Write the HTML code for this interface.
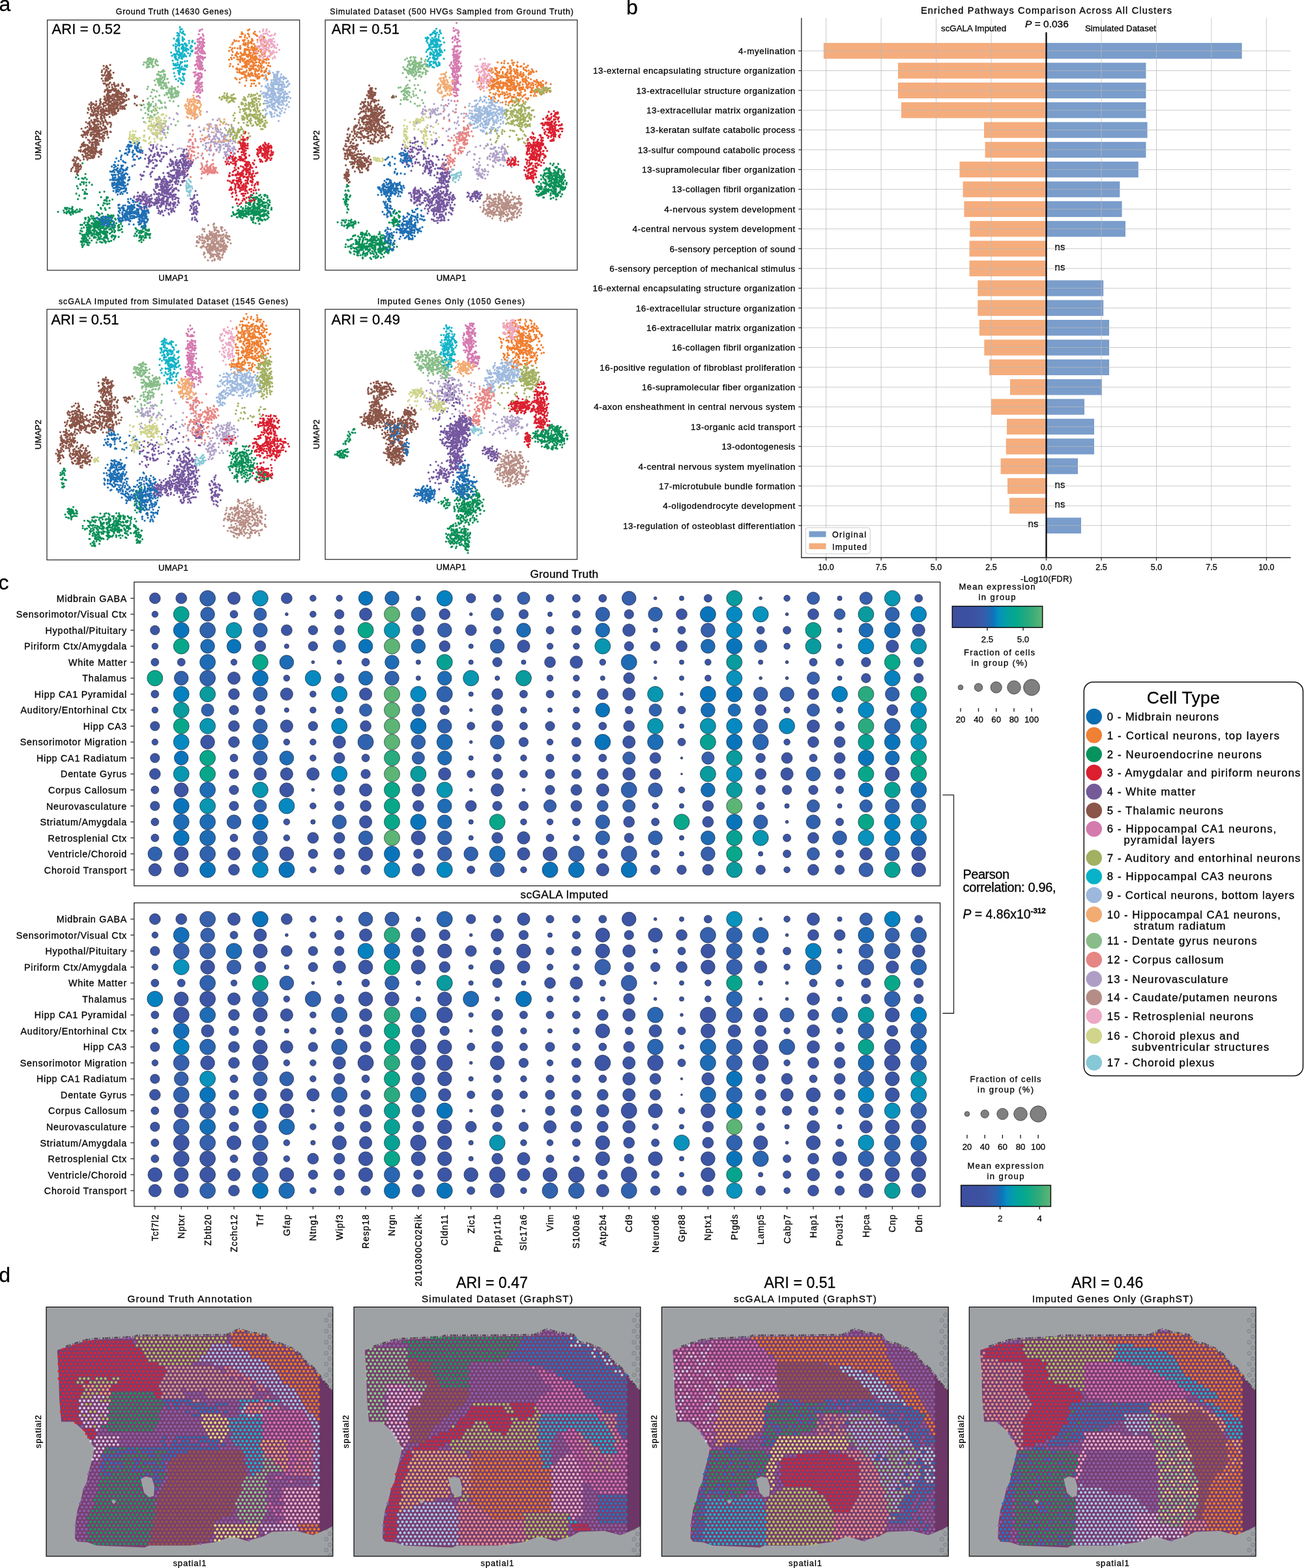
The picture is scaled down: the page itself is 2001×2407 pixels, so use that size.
<!DOCTYPE html>
<html><head><meta charset="utf-8"><title>scGALA figure</title>
<style>html,body{margin:0;padding:0;background:#fff;} svg{display:block;} text{stroke:#000;stroke-width:0.3px;}</style>
</head><body>
<svg width="2001" height="2407" viewBox="0 0 2001 2407" font-family="'Liberation Sans', Arial, Helvetica, sans-serif"><text x="-1.4" y="16.8" font-size="32">a</text>
<g transform="translate(72.6,30.7) scale(0.5)" stroke-width="3.2" stroke-linecap="round" fill="none" vector-effect="non-scaling-stroke">
<path d="M108 440h0m-6 7h0m15 26h0m-23 4h0m-6 6h0m8 5h0m11-2h0m4 2h0m5-4h0m5 5h0m16 17h0m-8-7h0m-9 9h0m-1-9h0m-7-1h0m0 5h0m-6-5h0m-4 8h0m-1-2h0m-10 6h0m3 7h0m15 5h0m10-2h0m56 7h0m500 13h0m-6-3h0m-1 3h0m0-3h0m-1 3h0m-1-2h0m-12-1h0m-4 2h0m-8-7h0m-13 6h0m-3-1h0m-465-8h0m-39 5h0m-3-1h0m-4-5h0m-1 6h0m-16 5h0m-9-6h0m5 17h0m20-2h0m2-1h0m49-3h0m10 10h0m2-1h0m5-9h0m0 12h0m0-7h0m1 7h0m3-11h0m5 10h0m9-4h0m420-4h0m4 12h0m1-15h0m0 9h0m5-7h0m2 0h0m1 8h0m0-2h0m3-7h0m0 11h0m1-11h0m3 5h0m1-6h0m0 3h0m3-3h0m3 6h0m0 5h0m0-5h0m1-1h0m1 9h0m0-8h0m1 8h0m1 1h0m1-6h0m1-2h0m2 0h0m2 5h0m0-12h0m1 11h0m2 3h0m4-8h0m11-5h0m1 0h0m1 9h0m1-1h0m4 1h0m1 6h0m-1 8h0m-3 3h0m-1 2h0m-1-8h0m-4-5h0m-2 10h0m-2 4h0m-1-13h0m-2 9h0m-1-10h0m0 15h0m-2-12h0m-3 1h0m0 7h0m-1-5h0m0 2h0m-1-1h0m-3 0h0m0 1h0m0-1h0m-2 7h0m-1-14h0m-1 8h0m0 2h0m-2-5h0m0-4h0m0 12h0m-1-6h0m0 0h0m-1 8h0m-1 0h0m-1-10h0m0 2h0m-1 8h0m0-11h0m-7 7h0m0 2h0m-1-11h0m-2 5h0m-1-4h0m-1 4h0m0 5h0m-3 1h0m-6-5h0m0-2h0m-1-2h0m-1-4h0m-1 1h0m-1 6h0m-3 8h0m0-13h0m-6 0h0m-1 9h0m-14 3h0m-10-3h0m-16 4h0m-379-11h0m-6 2h0m-1-2h0m-7-1h0m-3-1h0m-2 7h0m-15-1h0m-79 6h0m-44 15h0m17-4h0m2 6h0m2-14h0m2 3h0m2-3h0m1 5h0m1 7h0m1 1h0m1-13h0m4 10h0m0-2h0m1 4h0m1-10h0m4 12h0m2-11h0m1 10h0m1-12h0m0 9h0m1-11h0m1 7h0m0 6h0m3 0h0m3 0h0m2-3h0m2 5h0m3-9h0m3 7h0m3-1h0m1-1h0m2 1h0m0-7h0m6 2h0m46 7h0m12-13h0m1 3h0m12-2h0m2 5h0m12-6h0m379 13h0m13-5h0m4-3h0m1 7h0m0 0h0m2-1h0m1-2h0m2 4h0m2-4h0m0 5h0m2 0h0m1-5h0m1 0h0m0 2h0m1-8h0m0-1h0m1 0h0m0-1h0m1 11h0m3-3h0m2-2h0m2-6h0m1 13h0m0-5h0m1 5h0m1 0h0m2-11h0m2 9h0m0-6h0m1 6h0m0-3h0m1-10h0m1 2h0m1 2h0m0 8h0m1-8h0m3 4h0m0-7h0m1 8h0m1 0h0m0 6h0m2-7h0m1 5h0m1-4h0m1-5h0m1 2h0m2-6h0m0 13h0m0-10h0m1 11h0m0-11h0m1 0h0m0 1h0m0 7h0m0 3h0m2-3h0m1 0h0m0-1h0m0-7h0m0-2h0m3 2h0m0 12h0m1-14h0m2 8h0m0 3h0m0-9h0m0 8h0m0-4h0m1-3h0m1-4h0m1 15h0m1-3h0m1 1h0m0-11h0m0 12h0m1-2h0m0-8h0m2 3h0m3 6h0m3-1h0m0-5h0m3-1h0m0 5h0m5-2h0m0 3h0m1-4h0m1 3h0m1-10h0m2 8h0m5-7h0m1 10h0m9-6h0m1 0h0m0-5h0m-9 29h0m0-12h0m-3-2h0m0 9h0m-2-1h0m-3-4h0m-3 1h0m-1 3h0m-1-3h0m-1-2h0m0-1h0m-1 9h0m-1-5h0m-2 4h0m0-4h0m-4 3h0m-1-1h0m0 2h0m-1 1h0m-2-11h0m-1 9h0m0-6h0m-2-3h0m0 6h0m-4 9h0m0-10h0m-3-4h0m-2 6h0m-3-5h0m-1 5h0m-1-7h0m-2 3h0m0 11h0m-1-6h0m-1-5h0m-1-3h0m-4 2h0m-2 2h0m0 10h0m-6-10h0m0-2h0m0 3h0m-1 1h0m-1-1h0m0 0h0m-1-2h0m0-1h0m-2-2h0m-2 12h0m0-9h0m-1 1h0m-2-1h0m0-3h0m-1 10h0m-2-6h0m-1 3h0m0-3h0m-2 6h0m-2-7h0m0-1h0m-1 5h0m0-3h0m-3 3h0m0-6h0m-2 8h0m-2 3h0m0 2h0m-1-11h0m-2 6h0m-1-1h0m0 3h0m-1-9h0m-3-1h0m-2 13h0m-1-12h0m0 11h0m-2-9h0m-4 2h0m-1-1h0m-3 1h0m-1-4h0m-5 8h0m-363-2h0m0 2h0m-3 5h0m-3-7h0m0 5h0m-5-4h0m-1 3h0m-5-1h0m0-5h0m-1 7h0m-6-1h0m-8-1h0m0 0h0m-3-9h0m-3 12h0m-4-9h0m-3 3h0m-1-7h0m-16 10h0m-6-2h0m-1 2h0m-8 3h0m-47-11h0m-1-2h0m-6 5h0m-4-5h0m-9 1h0m-1-2h0m57 29h0m1-13h0m1 4h0m1-4h0m5 14h0m3-7h0m2 4h0m1-9h0m2 3h0m6-4h0m4 1h0m1 5h0m1-4h0m2-2h0m0 10h0m2-10h0m0 1h0m2 13h0m0-7h0m1 6h0m2 1h0m0-5h0m0-10h0m1 12h0m3-10h0m1 10h0m2-2h0m0 3h0m0-10h0m3 1h0m1 7h0m1-3h0m3-3h0m0 3h0m0 7h0m3-4h0m0-8h0m2 3h0m0 1h0m1 2h0m1-3h0m1 8h0m2-14h0m0 13h0m1 1h0m0-1h0m2-9h0m0 6h0m1 5h0m0-5h0m1 2h0m1-7h0m3 1h0m2 7h0m0-4h0m0-4h0m2-5h0m2 7h0m1 0h0m1 7h0m1-2h0m0-4h0m5 2h0m5 2h0m3-10h0m2 3h0m12 2h0m4 5h0m74 3h0m299-15h0m27 2h0m1 4h0m4-1h0m0 7h0m1-12h0m0 14h0m1-10h0m10-3h0m5 8h0m1-5h0m0-4h0m1 3h0m3-3h0m2 3h0m0 3h0m4 0h0m1 2h0m6-4h0m1 0h0m2 2h0m6-3h0m-24 15h0m-12-2h0m-337 10h0m-3-7h0m-9 6h0m-6-6h0m-13 12h0m-41-6h0m-4-7h0m-5 10h0m-1-1h0m0-6h0m-2 9h0m-1-6h0m-5-8h0m-4 7h0m-1 5h0m-2-10h0m-1 12h0m0-10h0m-1 10h0m-1 1h0m0-4h0m-1-2h0m-2-5h0m0 9h0m-5-13h0m-1 4h0m-1-2h0m-1 8h0m0-6h0m0 6h0m-3-1h0m0-5h0m-1 8h0m-2-6h0m0-3h0m-1 7h0m0 4h0m0-5h0m-5 6h0m-3-13h0m-1 6h0m-2 7h0m-1 0h0m0-4h0m-1-7h0m-1 10h0m0-11h0m-1 7h0m0 4h0m0-13h0m-1 14h0m-5-5h0m0-4h0m0-1h0m-1-5h0m-1 3h0m0 3h0m-1 1h0m0 5h0m-2-4h0m0 1h0m-1-6h0m-1 5h0m0 7h0m0 0h0m0-14h0m-1 4h0m-1 2h0m0 6h0m-2-3h0m0-3h0m0 7h0m-1-2h0m0-8h0m-2 8h0m0-3h0m0-9h0m-1 11h0m-1-11h0m0 3h0m-1 11h0m-1-1h0m0 2h0m0-8h0m-1 6h0m-1-9h0m-1-2h0m-1 2h0m-1 6h0m-1-10h0m0 0h0m-3 0h0m-2 7h0m0 6h0m-1-2h0m0 2h0m-1 2h0m-1 0h0m-1-3h0m0-2h0m-1-3h0m-1-3h0m-2 8h0m0-7h0m-1-3h0m0 13h0m-1 0h0m-2-9h0m-1 0h0m0 7h0m-3-7h0m-5-6h0m-1 13h0m-5-8h0m-5 0h0m-2 26h0m2-8h0m3-7h0m2 9h0m13 4h0m2-8h0m0 3h0m1-7h0m1 7h0m1-3h0m1 10h0m0-9h0m1 2h0m0 3h0m1-9h0m1 13h0m1-3h0m0 2h0m2-3h0m0-5h0m3 6h0m1 2h0m3-8h0m2-2h0m2 3h0m1 4h0m0-10h0m1 3h0m1 1h0m3 2h0m2 6h0m2-2h0m0 4h0m1-1h0m2 0h0m1-11h0m0 11h0m0 0h0m1 0h0m3-8h0m0 8h0m1-11h0m0 7h0m1-2h0m1-8h0m0 12h0m1-4h0m0 4h0m3-2h0m2 4h0m3-1h0m0-4h0m1 0h0m0-3h0m2 7h0m2-11h0m0 12h0m1 1h0m0-5h0m2-9h0m0 8h0m1 3h0m2-2h0m1 3h0m5-10h0m1 0h0m2 12h0m1-15h0m3 4h0m1 7h0m2-2h0m5-5h0m1 8h0m2-4h0m10-3h0m0 1h0m5-1h0m5-3h0m2 9h0m43-9h0m1 8h0m4-4h0m3 8h0m3-6h0m0 1h0m2 4h0m0-6h0m3 1h0m0 6h0m1-6h0m1 1h0m1 1h0m1-8h0m1-2h0m2 10h0m4-9h0m1 14h0m0-15h0m1 5h0m1 8h0m0-8h0m3 0h0m2 2h0m4 0h0m0-4h0m4 14h0m-1 12h0m-1-8h0m0 7h0m-3-11h0m0 3h0m-5-4h0m-1 0h0m0 3h0m-2 9h0m-1-3h0m-2-5h0m-2 9h0m-4-5h0m-3 0h0m-1 5h0m-1-2h0m0 2h0m-4-8h0m-1 2h0m0 3h0m-1 0h0m0 2h0m-8-7h0m-1 2h0m-4-7h0m-3 7h0m-48 3h0m-10-3h0m0 2h0m0-2h0m-1 3h0m-1 3h0m-3-6h0m-4-2h0m-2 6h0m-1-3h0m-5-8h0m-8 13h0m-1-8h0m0 6h0m0-2h0m-1-2h0m0 5h0m-1-9h0m-3 10h0m0-10h0m-1 6h0m0 0h0m-2-7h0m-1 10h0m0-11h0m-3-1h0m-6 8h0m-3 3h0m0-8h0m0-3h0m-2 0h0m-2 1h0m-1 12h0m-1-8h0m0 2h0m0-2h0m-4-1h0m-1-1h0m0-3h0m-2 12h0m-4-3h0m0-7h0m0 7h0m-2 2h0m0-11h0m0 13h0m-3-11h0m-2 3h0m0-5h0m0 6h0m-3 0h0m-4-6h0m-1 14h0m-4-6h0m-1-4h0m-2-3h0m0 5h0m-3 7h0m-1-11h0m-3 8h0m0-2h0m0 3h0m-2-8h0m0 8h0m0 2h0m0-5h0m-1 7h0m-2-3h0m-2-5h0m-1-1h0m0-3h0m-1 11h0m-1 1h0m0 0h0m-4-15h0m1 24h0m0 1h0m1-1h0m3 4h0m1-5h0m0 0h0m2-3h0m1-3h0m2 1h0m0 7h0m1 0h0m1-9h0m3 6h0m0 0h0m1 4h0m1 1h0m0-1h0m1-7h0m2 9h0m1-1h0m1-7h0m0 7h0m2 0h0m3 1h0m6-7h0m15 6h0m3-8h0m6-2h0m2 8h0m0-9h0m5 11h0m1-11h0m1 11h0m4-7h0m0-2h0m3 3h0m0 3h0m3 4h0m0 0h0m1-3h0m6-9h0m1 7h0m3 1h0m6-2h0m8-4h0m78 4h0m5-3h0m1-1h0m1 8h0m6-6h0m-168 15h0m-4-1h0m-10-1h0m0 0h0m-4 4h0m-1 2h0m0 2h0m-2-7h0" stroke="#0b9058" vector-effect="non-scaling-stroke"/>
<path d="M173 141h0m9 0h0m11-3h0m1 17h0m-3 4h0m-4-10h0m-1 10h0m-2-13h0m-1-2h0m-1 10h0m-1-1h0m0 1h0m-1-9h0m-1 14h0m-5-9h0m-6 5h0m-1 5h0m1 9h0m3 2h0m4-2h0m2-6h0m4 9h0m1-2h0m1 2h0m3-7h0m1 2h0m2-2h0m0 8h0m1-10h0m0 4h0m0 4h0m1-2h0m2-4h0m0 10h0m1-4h0m1-2h0m8-7h0m-4 16h0m-5-2h0m-2 1h0m0 4h0m-1-4h0m-1 4h0m-3-5h0m-1 5h0m0 5h0m-4-6h0m0 5h0m0-3h0m-1-3h0m-1 8h0m0-1h0m0-6h0m0 0h0m-1-2h0m-1 3h0m0 6h0m-7 0h0m-4-7h0m6 15h0m4 0h0m4 4h0m1 4h0m3-5h0m3 1h0m2 7h0m1-12h0m2-2h0m5 7h0m1 7h0m5-9h0m1-4h0m1 5h0m1 4h0m1 3h0m5-3h0m5-4h0m0 4h0m12-1h0m0-5h0m3 6h0m17 14h0m0-4h0m-4 3h0m-1 3h0m-1-6h0m-17 11h0m-2-14h0m-4 11h0m-3-4h0m0 1h0m-2 3h0m-2-2h0m0 1h0m-1 3h0m-1-5h0m-1-5h0m-2 6h0m-2-5h0m0 0h0m0-1h0m-1 6h0m0-4h0m-3 1h0m-1-4h0m0 4h0m0-2h0m-1-2h0m-1 1h0m-3 3h0m-2 4h0m-2 3h0m-1-6h0m0 6h0m-1-5h0m-2 5h0m-1-6h0m-1-1h0m0 3h0m-1 2h0m0-2h0m0 4h0m-2-12h0m-1 5h0m-5 0h0m-2 5h0m-1 15h0m7-2h0m1-4h0m1 9h0m1-12h0m1 6h0m1 4h0m0-8h0m2 6h0m1 3h0m1 0h0m0-5h0m2 4h0m1 2h0m0 1h0m0-3h0m1 0h0m4-5h0m1 3h0m1-5h0m4 1h0m1 7h0m2-3h0m0-5h0m0 2h0m1-1h0m2-5h0m1 2h0m1 5h0m0 5h0m1-9h0m1 6h0m0 0h0m0 5h0m1-6h0m1-5h0m0 10h0m0-2h0m0-10h0m0 10h0m0-10h0m1 0h0m1 8h0m3-10h0m2 4h0m0 8h0m1-9h0m1 9h0m3-6h0m1 6h0m1-8h0m3-2h0m1 8h0m0-6h0m2-4h0m3 13h0m2-8h0m1 4h0m25 0h0m1 5h0m1 1h0m5-4h0m19 13h0m-44-5h0m-7 3h0m-5 2h0m-1-2h0m-1-1h0m-1 6h0m-2-1h0m-1-7h0m0 11h0m0-8h0m-1 6h0m-1-10h0m0-1h0m-1 2h0m-1 10h0m-1-11h0m-1 10h0m0-9h0m-1 8h0m-1 4h0m-2 0h0m-1-15h0m0 1h0m0 6h0m-1 0h0m-3-2h0m-1 8h0m-1-1h0m-1 3h0m0-10h0m-1 1h0m-3 1h0m-1 6h0m-2-9h0m-2 11h0m0-3h0m-2-6h0m-1-5h0m-1 6h0m-1 0h0m-2-6h0m-3 12h0m0-3h0m-1-10h0m-1 9h0m-2 3h0m-1-9h0m0-3h0m0 13h0m-2 0h0m0-5h0m-1-1h0m-2-7h0m-1 4h0m-2 4h0m-2-2h0m0 9h0m0-5h0m-1 2h0m0 2h0m-1-14h0m-2 5h0m-1-2h0m-1 11h0m-10-2h0m-1-9h0m-1 5h0m-12 2h0m-15 3h0m-1 1h0m-9 17h0m4-12h0m4 10h0m1-5h0m1 5h0m1-9h0m1-3h0m0 2h0m5-1h0m0 10h0m5-6h0m2 1h0m1-5h0m0 2h0m3 11h0m1-3h0m2-2h0m1-1h0m0 1h0m1 3h0m1-1h0m0 3h0m2-9h0m1-6h0m0 2h0m3 10h0m4-10h0m3-1h0m1 9h0m0-3h0m5 0h0m2 8h0m0 0h0m4-11h0m1-3h0m0 3h0m2 11h0m0-13h0m0 2h0m1 9h0m0-8h0m1 5h0m0 2h0m3-7h0m1 1h0m0 9h0m2-6h0m1 5h0m1-7h0m1-4h0m1-3h0m3 11h0m0-5h0m0-3h0m1 2h0m2 10h0m0-14h0m0 8h0m1-5h0m3-3h0m0 3h0m2 10h0m0-3h0m1-1h0m2 0h0m0-7h0m1 6h0m1 6h0m1-11h0m0 3h0m5-5h0m1 12h0m1-6h0m3-7h0m1 8h0m2 4h0m3-4h0m3 4h0m3-6h0m3-2h0m26-4h0m6 5h0m1 0h0m14 0h0m-51 11h0m-1 0h0m-1-1h0m-6 1h0m-6-1h0m-6 6h0m0-3h0m-1 0h0m-1 5h0m-4 7h0m-2-2h0m0-13h0m-2 10h0m0 3h0m-1-9h0m-1 11h0m-1-7h0m0 3h0m-1-9h0m-1 0h0m0 9h0m-4-4h0m0 7h0m0-13h0m-1 4h0m-1 7h0m0-2h0m-2-7h0m-3 3h0m0-2h0m-1 11h0m-1-4h0m0-7h0m0 0h0m-1 1h0m-1 5h0m-1 0h0m-2-4h0m-3-2h0m0 3h0m-3 1h0m0-2h0m-2 1h0m0-1h0m0 0h0m-1 0h0m-1 2h0m0-3h0m-2 6h0m-1-7h0m0 2h0m0-5h0m0 12h0m-1-12h0m0 2h0m0 1h0m0-1h0m-1-2h0m0 10h0m-1-7h0m0 8h0m-2 3h0m-1-11h0m0-1h0m-1 4h0m0 0h0m0 0h0m-1-3h0m0 6h0m-1-2h0m-7 6h0m0-11h0m0 5h0m0 2h0m-1-1h0m0 1h0m-1-2h0m-4-1h0m-1-7h0m-1 0h0m-2 9h0m-1-4h0m-1 6h0m0-11h0m-2 11h0m-4-6h0m-1 4h0m-2-7h0m-8 2h0m-3 9h0m5 16h0m4-12h0m1 5h0m3-2h0m3 2h0m1-6h0m4 3h0m2 0h0m1 0h0m2-3h0m0 9h0m1-4h0m1 2h0m1 7h0m2-10h0m0 11h0m7-13h0m2 7h0m0 6h0m2-4h0m1 2h0m1-9h0m0 11h0m0-10h0m6 0h0m0 4h0m1-9h0m0 13h0m1-2h0m3-11h0m0 2h0m3 2h0m4-2h0m5 8h0m8-10h0m2 4h0m6-2h0m-12 26h0m-5-1h0m-7 0h0m-2-1h0m-2-4h0m-1-3h0m-5 7h0m0-1h0m-2 5h0m0-6h0m-2-2h0m-1-1h0m-4 10h0m-1-5h0m-5-3h0m-1-1h0m-3 2h0m-2-3h0m-4-3h0m-1 5h0m-2 3h0m0-4h0m-1-4h0m0 13h0m-2-2h0m-1 2h0m0-5h0m-4 0h0m-2-6h0m-5 5h0m0 6h0m-2-2h0m-1 1h0m-1-1h0m-1 1h0m-6-4h0m-14 20h0m12-3h0m6-3h0m6 5h0m1-10h0m2 5h0m0-2h0m1 2h0m1-2h0m1 8h0m0-1h0m2 2h0m2-3h0m3-1h0m0-1h0m1 3h0m2-9h0m0 1h0m1 6h0m1 0h0m2-9h0m1 2h0m0 11h0m1-6h0m3 0h0m1-9h0m0 8h0m0 4h0m1-11h0m0 9h0m1-10h0m0 12h0m5-5h0m4 5h0m0-1h0m2 4h0m4-12h0m0 1h0m4 9h0m1-6h0m0 7h0m1-6h0m2 3h0m1 3h0m4-14h0m0 0h0m9 8h0m2-6h0m-1 22h0m-2-1h0m-9-1h0m0 4h0m-1-4h0m-5 1h0m-1 4h0m-2-11h0m0 11h0m-2-11h0m-1 9h0m-3-8h0m-2 13h0m-1-11h0m0 0h0m-3 1h0m-1 10h0m-1-9h0m-2 10h0m0-14h0m-1 8h0m-1-2h0m0-2h0m-2 5h0m0-6h0m-2 11h0m0-5h0m-1-7h0m-2 12h0m-1-11h0m0 3h0m-1-1h0m-1-5h0m-1 6h0m0-1h0m-1-5h0m0 7h0m0-1h0m-1 2h0m-1-7h0m-1 13h0m-1-15h0m0 1h0m-1-1h0m-1 8h0m-2-7h0m-2 10h0m-1-1h0m-1-10h0m-2 1h0m-2-1h0m-2 3h0m-1 6h0m-2 2h0m-1-7h0m0 6h0m0 2h0m-2-4h0m-2 5h0m-4-5h0m-1 3h0m0-2h0m-4-3h0m-5 12h0m4 5h0m0-5h0m2-1h0m5 0h0m3 8h0m4-8h0m9-1h0m2 4h0m3-4h0m2 15h0m2-7h0m0 5h0m1-4h0m2-2h0m1-4h0m1 11h0m0-7h0m2-7h0m2 5h0m2 1h0m0 9h0m0-14h0m1 0h0m4-1h0m1 0h0m0 7h0m2-3h0m1 7h0m4-3h0m2 0h0m1 3h0m2-7h0m1 2h0m1-1h0m0-2h0m2-1h0m1 9h0m9-11h0m3 9h0m-16 7h0m0 4h0m-10-1h0m-3 12h0m-1-4h0m-2-5h0m-1-5h0m-2 2h0m-1 8h0m-1-6h0m-1 8h0m0 0h0m-1-13h0m0 4h0m-1 7h0m-2-4h0m-4 8h0m-1-7h0m-2 0h0m-1 5h0m0-1h0m0-12h0m-1 15h0m-4-8h0m-3-5h0m0 7h0m-4-9h0m-9 15h0m-2 0h0m-2 0h0m0-7h0m-3 3h0m-3 3h0m-4 9h0m1 8h0m1-10h0m4-4h0m2 2h0m3-2h0m1 2h0m1-1h0m1 1h0m0 10h0m1 1h0m1-3h0m0 4h0m1-3h0m3-12h0m0 15h0m1-14h0m1 0h0m0 7h0m1 4h0m0-2h0m1-1h0m2 0h0m0-4h0m4 5h0m0-1h0m0 0h0m1-2h0m1 7h0m0-3h0m1-4h0m2-4h0m2 12h0m0-2h0m1-10h0m1 5h0m3 1h0m1 3h0m1-2h0m2-5h0m0-5h0m1 12h0m2-4h0m1-8h0m14 13h0m0 9h0m-1 7h0m0-7h0m-1-4h0m-3 7h0m-1-6h0m-5 3h0m-4-5h0m-1 3h0m0 0h0m-2 0h0m0 6h0m-2-2h0m0-6h0m-1 13h0m-1-12h0m-3 1h0m0 4h0m-1 3h0m-1-4h0m0-7h0m-2 5h0m-1 3h0m-1-1h0m-1-6h0m0 0h0m-1 5h0m0 4h0m-1-3h0m0 3h0m-1-8h0m-2 13h0m0-14h0m-2-1h0m-1 5h0m-1 8h0m-2-4h0m-1 1h0m-4 0h0m0 1h0m-1-5h0m-1 1h0m0-6h0m-3 3h0m0-4h0m-2 2h0m-2 2h0m-1 10h0m-6-10h0m-5-3h0m-19 30h0m3-3h0m3-7h0m6 2h0m1 4h0m1-5h0m4 4h0m5 5h0m10-10h0m1 7h0m0-9h0m6 1h0m0-3h0m3 6h0m2 6h0m1-12h0m3 7h0m2 0h0m4 0h0m0-7h0m4 3h0m0-2h0m1 4h0m2 2h0m0-6h0m2-1h0m2 4h0m0-5h0m14 4h0m-56 26h0m-7-4h0m0-1h0m-1 4h0m0 2h0m-1 0h0m0-3h0m-1 0h0m-4-11h0m-1 8h0m-1-2h0m-1 3h0m-2 4h0m-1-13h0m0 14h0m0-5h0m-8 16h0m4-5h0m10-5h0m0 3h0m0 5h0m1 5h0m1-11h0m2-1h0m2 7h0m1-4h0m1 8h0m0 2h0m1-3h0m1-9h0m4 7h0m2-6h0m-9 15h0m-3 2h0m0-4h0m0 1h0m-1 8h0m-4-9h0m-2 1h0m-12-1h0" stroke="#8b5548" vector-effect="non-scaling-stroke"/>
<path d="M288 399h0m25-3h0m5-12h0m6 10h0m1-10h0m0 6h0m9 0h0m2 6h0m12 2h0m18-8h0m53 9h0m1-1h0m7-1h0m2 13h0m-3 4h0m-6-13h0m-2 12h0m-1-8h0m-2 9h0m-4 0h0m-29-10h0m-4-3h0m-11 11h0m-2-4h0m-4 1h0m-4-1h0m-6 0h0m-6 7h0m-5-5h0m0-3h0m-2 0h0m0 7h0m-8-3h0m-3 4h0m-7-14h0m0 2h0m-3 12h0m0-14h0m-15 13h0m-10-6h0m-17 10h0m1 1h0m24 7h0m10-2h0m2 4h0m1-8h0m1 9h0m9 1h0m1-9h0m5-3h0m2 11h0m4 2h0m7-15h0m3 3h0m6 8h0m5-6h0m1-2h0m21 9h0m15-7h0m4 9h0m10 1h0m1-1h0m2-12h0m4 8h0m3 2h0m0-10h0m0-1h0m3 1h0m0 5h0m2-2h0m2-5h0m0 14h0m1-2h0m2-8h0m2 2h0m2-2h0m1-4h0m14 20h0m-2 4h0m-3 2h0m-1-8h0m0-2h0m0 8h0m-1-2h0m0 9h0m-2-11h0m0 7h0m-1-1h0m-3-9h0m-1 6h0m-2-1h0m-1 8h0m-1-9h0m-1 5h0m-2 4h0m-1 1h0m0-14h0m-1 2h0m-1 4h0m0-7h0m0 9h0m0-8h0m-2 10h0m0-6h0m0-1h0m-1 5h0m-1 6h0m-1-14h0m0 13h0m-3-1h0m-1-4h0m-2-3h0m-2-3h0m-3 0h0m0 1h0m-1 10h0m-2-7h0m-2 0h0m-2 2h0m-1-1h0m-1 4h0m-1-10h0m0 12h0m-1-10h0m-1 3h0m0 6h0m0-8h0m-7 5h0m-1-6h0m-2-1h0m-1-2h0m0 7h0m-1 4h0m-2 3h0m-1-14h0m0-1h0m-1 15h0m-3-5h0m-26-8h0m-3-2h0m-10 1h0m0 13h0m-3 1h0m0 0h0m-8-8h0m-6-6h0m-3 2h0m-4 2h0m0-5h0m-1 9h0m-43 4h0m37 5h0m4 1h0m14 4h0m5 0h0m3-7h0m4 0h0m34 3h0m8-3h0m2 15h0m6-2h0m3-11h0m1 4h0m1 5h0m0 2h0m5-1h0m5-12h0m0 13h0m0-8h0m0 9h0m1-1h0m0 2h0m1-9h0m1-1h0m0 10h0m4-2h0m1-6h0m7-4h0m1 1h0m1 4h0m1 2h0m1-3h0m0 7h0m5-13h0m1 13h0m0-6h0m5 7h0m1-9h0m1 3h0m2-9h0m1 5h0m6-5h0m-10 26h0m-3 4h0m-3-12h0m-1 1h0m-2 7h0m-2-5h0m0-5h0m-1 4h0m-1 5h0m0-1h0m-3-4h0m0 7h0m-1-11h0m-2 4h0m-1 2h0m-2 6h0m-3 2h0m0-13h0m-1 5h0m0 2h0m-1 7h0m0-12h0m0-1h0m-2 4h0m-2 6h0m0-11h0m0 5h0m0 8h0m-1-9h0m-1-4h0m0 12h0m-1-5h0m0-4h0m-1 1h0m0-1h0m-1 4h0m0-4h0m-5 9h0m-3 1h0m0 1h0m-2-1h0m-4-1h0m-1-13h0m-2 11h0m-5-2h0m0-4h0m-4 1h0m-13 0h0m-34-4h0m-4 3h0m-2 5h0m-19-8h0m-2 12h0m-3-1h0m-2 2h0m-4-4h0m2 14h0m30-8h0m13 9h0m3 1h0m1-1h0m5 0h0m0-1h0m3-7h0m0 1h0m1-1h0m2 6h0m0-1h0m5 5h0m2-1h0m1 4h0m2-7h0m1 7h0m2-9h0m0-5h0m3 9h0m1-1h0m1 1h0m1 3h0m7-13h0m4 1h0m1 11h0m5-8h0m1 9h0m1-8h0m0-4h0m1 0h0m0 6h0m1-5h0m1 5h0m2-5h0m4 4h0m3 7h0m0-1h0m1-12h0m0 8h0m0-5h0m3 1h0m2 10h0m3-8h0m9 9h0m5-9h0m0 8h0m1-14h0m0 4h0m1 10h0m2-13h0m-8 17h0m-6 9h0m-6-10h0m-3 7h0m-4-7h0m-2 6h0m-1-3h0m-2-3h0m-7 9h0m-2-10h0m-5 3h0m-1 8h0m0-11h0m-4 2h0m-1 10h0m-2-6h0m-1-6h0m-1 10h0m-2-7h0m-1 12h0m0-14h0m-1 6h0m-2 6h0m-1 2h0m0-7h0m-2-8h0m-1 2h0m-3 12h0m-1-8h0m0 6h0m-2-3h0m-1-7h0m-2 13h0m-2-7h0m-7 3h0m-2-4h0m-2 4h0m-1 3h0m-1-6h0m-6 17h0m3 5h0m3-11h0m1 0h0m1 1h0m5-4h0m3 10h0m2 0h0m4-8h0m1 3h0m0 5h0m2-7h0m0 7h0m0 2h0m0-4h0m3-2h0m1-3h0m1 11h0m1-2h0m0-9h0m0 5h0m3 2h0m2 4h0m0-14h0m0 1h0m0 12h0m3-4h0m0-8h0m0 4h0m1 9h0m1-4h0m1-7h0m1 7h0m1-9h0m0 11h0m1 1h0m1-4h0m1 1h0m2-2h0m1-2h0m2-1h0m0 0h0m4-4h0m1 11h0m1-2h0m3 2h0m1-4h0m1-2h0m5-2h0m1 3h0m6 4h0m1 1h0m52 1h0m5 12h0m-8 1h0m-2 3h0m-56-5h0m-3 6h0m-2-6h0m-1 6h0m-1-4h0m-2 4h0m-1-4h0m0-10h0m-1 10h0m-1 3h0m0-3h0m-2-3h0m-2-4h0m-1 1h0m-1 11h0m-1-6h0m-3-1h0m-1-5h0m-2-3h0m0 4h0m-1 2h0m-2-6h0m0 0h0m0 13h0m-2 0h0m0-8h0m-1-4h0m0 3h0m-1-1h0m-2 11h0m0-9h0m0-2h0m-2 11h0m0-14h0m0 2h0m-2 9h0m-2-1h0m-2-5h0m0-5h0m-1 7h0m-3 3h0m-3-4h0m-2-2h0m-1 0h0m0 10h0m0 1h0m-2-7h0m-3-2h0m-2 0h0m-3-6h0m-4 7h0m-9 2h0m-1 3h0m-6 2h0m-7-5h0m-4-2h0m-1 3h0m0 5h0m0-5h0m-2-9h0m-3 0h0m-1 13h0m-2-7h0m-1 7h0m-4-1h0m-1-1h0m-3-1h0m-1 4h0m-4-13h0m-2 11h0m-9 1h0m-2 14h0m1-11h0m7 6h0m3 7h0m1-2h0m0-7h0m1 4h0m1 1h0m2-5h0m4 3h0m1-1h0m0 6h0m4-1h0m0-2h0m2-8h0m2 4h0m3-3h0m0-2h0m0 9h0m4 2h0m1-1h0m1 2h0m0 2h0m1-10h0m2 1h0m0-6h0m3 10h0m3-1h0m1-4h0m1 2h0m0 7h0m1-4h0m1 5h0m1-9h0m2 0h0m0 8h0m2-10h0m10 3h0m2 7h0m1-4h0m0 3h0m1 0h0m0-1h0m1-10h0m1 5h0m3 5h0m2-3h0m1-5h0m1 6h0m2-1h0m1-1h0m3 1h0m0 0h0m1-3h0m2-3h0m1 1h0m0 6h0m2-8h0m1 2h0m0-1h0m0 2h0m0 7h0m2 2h0m4 0h0m3-4h0m1 2h0m1-6h0m0 2h0m1-3h0m0-4h0m0 5h0m0 3h0m1 4h0m0-6h0m2-5h0m6-2h0m6 5h0m1-5h0m0 7h0m0 1h0m7-2h0m4-4h0m2 0h0m4 9h0m0 4h0m1-11h0m37 1h0m5 2h0m1-2h0m5-3h0m0 13h0m10-3h0m5 12h0m-1-4h0m-3-2h0m-5 10h0m-1-12h0m-5 15h0m-1-15h0m-1 4h0m-1 4h0m-4-5h0m-1 11h0m-3-3h0m0-1h0m-36-9h0m-5 7h0m-6 7h0m0-14h0m-2 6h0m-1-7h0m-1 6h0m0-4h0m-2 6h0m0 4h0m-3-8h0m-6-2h0m0-2h0m-1 8h0m0 2h0m-1-4h0m-3 3h0m0-2h0m-1-1h0m-1-2h0m-2 0h0m-2-1h0m-1 1h0m-1 6h0m-1 2h0m-6-7h0m-2-5h0m0 3h0m0 2h0m-3-4h0m-2-1h0m0 6h0m-1-4h0m0 8h0m0-4h0m-3 4h0m0 4h0m-2-3h0m-2-10h0m-4 0h0m-1-1h0m-1 4h0m0 8h0m-1-10h0m-4 2h0m0-4h0m0 0h0m-2 7h0m-2-5h0m0 6h0m-1-5h0m0-2h0m-5 0h0m-2 8h0m-4 3h0m-2-10h0m0 5h0m-1-6h0m0 7h0m-1 5h0m-4-13h0m-1 2h0m-1 1h0m-1 7h0m-2-4h0m-1-4h0m0 2h0m0 9h0m-2-7h0m-2 0h0m0 0h0m-1 7h0m0 1h0m-2-9h0m-8-2h0m-1 10h0m-4 0h0m-6-5h0m10 10h0m4-2h0m7 0h0m1 3h0m7-2h0m32 0h0m3 1h0m2 7h0m2 2h0m4 3h0m4-4h0m0 3h0m1 0h0m8-4h0m3-7h0m2 1h0m6 3h0m6-2h0m1-2h0m1 9h0m1 3h0m1-6h0m4 1h0m0-6h0m4 9h0m48-4h0m4-6h0m7 5h0m0-3h0m1 9h0m3-6h0m4 2h0m0-6h0m0 6h0m1 2h0m1-9h0m2 11h0m-3 8h0m0-2h0m-3-2h0m-2 13h0m-4-11h0m0-2h0m-5 3h0m-70 1h0m-2-4h0m-16 7h0m-9-5h0m-6-2h0m0 0h0m103 20h0m1-5h0m8 5h0m4 0h0m0-1h0m3 6h0" stroke="#7558a0" vector-effect="non-scaling-stroke"/>
<path d="M282 377h0m-2 2h0m0 0h0m-4 2h0m-1-7h0m-4 6h0m0 0h0m-3-2h0m-12-2h0m-3-2h0m-3 9h0m-8 15h0m3-9h0m3-5h0m1 12h0m2-6h0m1 8h0m1-12h0m2-1h0m1 0h0m1 3h0m2-2h0m10 1h0m0 6h0m2 1h0m1-2h0m2 4h0m0 3h0m1-8h0m1-2h0m2-4h0m0 8h0m1 0h0m4 6h0m4-8h0m5 11h0m-6 3h0m0 2h0m-1-4h0m-1-2h0m-4 4h0m-4-2h0m-8 9h0m-4 2h0m-1-13h0m-1 6h0m-1-1h0m-9-2h0m-3 3h0m0-2h0m-3 9h0m-4-5h0m-4 1h0m-15-8h0m-11 23h0m14-4h0m0 7h0m2-12h0m34 4h0m3 8h0m0 1h0m4 0h0m12-3h0m5-3h0m-46 15h0m-5-2h0m-3-3h0m0 14h0m-5 0h0m-8-14h0m-2 13h0m-9-10h0m-1 9h0m-3 0h0m-6 5h0m4 13h0m3-3h0m0-7h0m5-3h0m0 10h0m2-1h0m1-1h0m1 4h0m1 1h0m1-8h0m7 5h0m0-1h0m4-4h0m1-4h0m2 7h0m3 4h0m1-2h0m5 2h0m3-5h0m2-1h0m0 3h0m2-6h0m15-5h0m0 1h0m-15 25h0m-4-3h0m-3 1h0m-3 5h0m-1-2h0m-3-8h0m0 9h0m-1-7h0m-2 8h0m-2-1h0m-1-5h0m-1-7h0m-3 1h0m-2-1h0m0 7h0m-2-5h0m-1 9h0m-1-8h0m-6 8h0m-2 1h0m-2-9h0m-2 8h0m-3 3h0m-1-12h0m-2 9h0m-1-9h0m-4-1h0m0 26h0m6-1h0m2-6h0m1 2h0m0 6h0m4-6h0m1 0h0m0 5h0m1-8h0m1 0h0m2 9h0m3-3h0m2 1h0m0 3h0m0 0h0m2-3h0m0 2h0m1-9h0m0-2h0m0 4h0m1 9h0m1-3h0m0-1h0m0 0h0m0-5h0m2-2h0m0 0h0m1 5h0m0 1h0m0-6h0m2 6h0m1 2h0m1-5h0m1-5h0m0 11h0m3-12h0m0 7h0m0 7h0m0-11h0m0 8h0m6-4h0m0-1h0m0-3h0m1 0h0m9 10h0m2-2h0m1-8h0m1 7h0m0-7h0m-5 21h0m-1 1h0m-6 4h0m-2-9h0m-1 0h0m-1-2h0m-1 9h0m0-9h0m-3 4h0m0-6h0m0 5h0m0 8h0m0-6h0m-1-1h0m-1 5h0m-1-2h0m-1-7h0m0 10h0m-2-6h0m-2-4h0m-1 8h0m-1-7h0m-1-1h0m0 2h0m0 2h0m-1 2h0m-1 2h0m0 0h0m-1-3h0m-1-4h0m-2 7h0m0 3h0m-1-9h0m0 10h0m-2-1h0m-1-4h0m-3-3h0m-2-3h0m-1 6h0m0 2h0m-2-6h0m-3 9h0m-1-9h0m0 5h0m4 19h0m0-9h0m4 0h0m3-2h0m1 8h0m2-1h0m1-7h0m0 12h0m2-6h0m1-7h0m0 7h0m2 7h0m2-13h0m1 8h0m4-6h0m0 3h0m1-3h0m5 2h0m2 9h0m2-13h0m1 2h0m2 10h0m1-3h0m0-1h0m2-5h0m0 5h0m3 9h0m-14 3h0m-4-5h0m-3 5h0m-8 2h0m-5-8h0m0 1h0m37 21h0m0 8h0m8-9h0m6 5h0m2 5h0m7 0h0m31 14h0m-15 1h0m-4-11h0m-2 7h0m-4 0h0m-10-3h0m-1 6h0m-2-3h0m-1 4h0m-1-2h0m-1-1h0m-2-2h0m-1 0h0m0 6h0m0-7h0m-1 3h0m-2 4h0m-1 0h0m-1-3h0m-1-10h0m-4 12h0m0-2h0m-1 3h0m0-3h0m-8-3h0m-6 1h0m-2 5h0m-10-8h0m-3 2h0m0-1h0m1 9h0m0 10h0m3-8h0m2 5h0m4-7h0m1-1h0m2 14h0m0-13h0m2 0h0m0 4h0m0 3h0m1-3h0m1-3h0m3 7h0m3 2h0m1 3h0m2-4h0m1 3h0m1-8h0m0 10h0m5-13h0m0 11h0m1 0h0m1 1h0m0-9h0m0 3h0m0-3h0m1 10h0m0-2h0m1-11h0m2 2h0m1 7h0m1-7h0m0 6h0m0 2h0m3-9h0m0 3h0m1 8h0m1 1h0m1-14h0m1 12h0m2 0h0m0-13h0m1 12h0m2 3h0m3-7h0m1-4h0m1 10h0m2-1h0m0-8h0m1 6h0m1 4h0m1-10h0m8 1h0m2 2h0m1 3h0m0 4h0m0-1h0m4 0h0m1-5h0m0 6h0m1 0h0m0-15h0m3 14h0m0-4h0m5-2h0m1 4h0m2-4h0m0 4h0m1 1h0m1 3h0m-6 12h0m-1-9h0m0 7h0m-3 1h0m0-5h0m0 7h0m-1-1h0m-2-3h0m0-7h0m-2 6h0m-2-4h0m0 1h0m-1 5h0m0-8h0m-1 2h0m0 0h0m-1 9h0m0 1h0m-1-4h0m0 3h0m0-11h0m-1 4h0m-2 6h0m-1-5h0m0 7h0m-2-7h0m0 5h0m-4-10h0m0 10h0m-1-11h0m-1 5h0m0 0h0m0-2h0m-1 5h0m-3 4h0m-1-9h0m-1-2h0m-2 11h0m-3-3h0m0-8h0m-1 0h0m-2 9h0m-2-2h0m-3-7h0m-1 0h0m-1 0h0m0 8h0m-1-8h0m0-1h0m-1 1h0m-1 10h0m-1-7h0m-2-4h0m-1-1h0m0 5h0m0-4h0m-3 13h0m-1-2h0m-1-10h0m-1 6h0m-1-3h0m-1 7h0m0-4h0m0-8h0m0 9h0m-2-2h0m0-2h0m-1 6h0m0 0h0m0 2h0m0-9h0m-1 11h0m-1-7h0m0 2h0m0 4h0m0 1h0m0-12h0m-5 6h0m0 5h0m-2-10h0m0-4h0m-8 0h0m-3 10h0m-2-3h0m-22 8h0m-10-1h0m-5-2h0m-4 1h0m-7 1h0m-16 1h0m4 5h0m5 1h0m5 6h0m0-3h0m1 0h0m0 3h0m0-10h0m1 8h0m1 2h0m0-11h0m1 6h0m0-1h0m0 10h0m1-9h0m2-1h0m3 4h0m2 6h0m0 0h0m1-14h0m3 8h0m2 3h0m0 0h0m3-12h0m2 8h0m1 1h0m6-5h0m4 6h0m16-9h0m1 1h0m1 5h0m2 4h0m0-10h0m1-1h0m1 1h0m2-1h0m2 8h0m3-6h0m0 7h0m3-2h0m6-4h0m0-1h0m1 5h0m3-1h0m1-3h0m1 0h0m0 1h0m5 3h0m1-4h0m3 7h0m1-1h0m1-8h0m4 0h0m2-1h0m5 0h0m12 13h0m2-1h0m0-9h0m1 10h0m1-10h0m1 3h0m0 0h0m0 1h0m1 1h0m4 4h0m2-6h0m0-4h0m0 1h0m0 7h0m3-9h0m1 9h0m2-3h0m1 7h0m1-3h0m0-10h0m2 13h0m1-13h0m1-1h0m2 1h0m0 12h0m2-5h0m2-4h0m-8 18h0m-2 7h0m-1-13h0m-1 9h0m-1-1h0m-1 4h0m-6 0h0m-2-11h0m-6 3h0m-16 0h0m-14-1h0m-47-3h0m-4 10h0m-1-3h0m-1 2h0m-8-3h0m-1-5h0m0-1h0m-6 2h0m0 5h0m-2 1h0m-5-7h0m-1 2h0m-4 1h0m-5 1h0m0-1h0" stroke="#1f6fb4" vector-effect="non-scaling-stroke"/>
<path d="M608 344h0m-2 4h0m-2 0h0m-9 19h0m1-13h0m4 13h0m1-8h0m0 7h0m5 0h0m7-4h0m1 4h0m2-5h0m63 19h0m-8 2h0m-1-1h0m-2-4h0m-5 6h0m-48-3h0m-8-12h0m0 11h0m-3 4h0m-1-6h0m0-7h0m-2-1h0m-1 7h0m0 1h0m-1 5h0m0-2h0m0-2h0m-6 2h0m-1-4h0m-2 1h0m-2-3h0m1 22h0m5-2h0m0-8h0m2 6h0m3 6h0m0-11h0m1 8h0m1-6h0m3 9h0m1-8h0m2-3h0m0 5h0m1-8h0m2 10h0m3-8h0m2 8h0m0-8h0m29 11h0m5 1h0m1-7h0m3 8h0m1-11h0m0 5h0m1 6h0m2-6h0m1 1h0m4-8h0m1 9h0m3 3h0m0-7h0m1-4h0m1 3h0m1 7h0m2 0h0m0-4h0m1 2h0m0-3h0m1 0h0m2-6h0m1 7h0m0-6h0m1-2h0m2 12h0m0-6h0m1 4h0m2-6h0m1-2h0m1 1h0m0 2h0m2-4h0m1 7h0m1-3h0m0 2h0m5 14h0m-1 6h0m-3 3h0m-1-9h0m-1-5h0m0 11h0m-2 3h0m-1-1h0m-4-10h0m-1 0h0m0-1h0m-1 0h0m0 2h0m-1 8h0m0-3h0m-1-4h0m0-5h0m-2 7h0m0 7h0m-1-9h0m0-2h0m-1 11h0m-1-13h0m-1 7h0m-1 2h0m-1-7h0m0-1h0m-2-3h0m-1 14h0m0-4h0m-1-10h0m0 12h0m-1 3h0m-1-4h0m-1 0h0m-2-1h0m0 5h0m-3-14h0m-1 4h0m-1-2h0m-1 3h0m0 1h0m-4 2h0m-2-7h0m-1 13h0m-1-7h0m-1 4h0m-35-11h0m0 9h0m-2 3h0m-1-12h0m-1 11h0m0-9h0m0 11h0m-1-11h0m0 12h0m0-5h0m-2-4h0m-1-1h0m-3 9h0m0-9h0m-2 1h0m-11-2h0m-10 6h0m-2 0h0m-9-2h0m-16 9h0m3 10h0m1 1h0m0-1h0m0 2h0m5-7h0m1-2h0m1-2h0m0 7h0m1-6h0m2-2h0m4 5h0m2 1h0m0 4h0m1-1h0m1-8h0m1 11h0m4-4h0m0 3h0m2-3h0m0-3h0m2 2h0m7 5h0m3-9h0m2 6h0m0-1h0m1 6h0m1-2h0m0-9h0m0 3h0m0 3h0m1-2h0m0 2h0m1-5h0m3 10h0m1-4h0m0 1h0m3 0h0m3-12h0m2 10h0m1-4h0m1 1h0m0-3h0m1 4h0m0-2h0m10-6h0m16 15h0m12-12h0m4 9h0m4 2h0m4-12h0m6 4h0m1 1h0m1-1h0m0-3h0m1 4h0m4 8h0m0-4h0m2-8h0m0 9h0m2-6h0m4 2h0m4-7h0m0 13h0m0 0h0m3-5h0m-16 7h0m-2 1h0m-10 2h0m-6-1h0m0 1h0m-20 8h0m-3-4h0m-8 6h0m-3-7h0m-2 4h0m-1-6h0m-2 0h0m0 8h0m-3-5h0m-1 5h0m-2-9h0m-1 8h0m0 4h0m-1-3h0m0 2h0m-1-12h0m-5-2h0m-20 2h0m-2 8h0m-1-7h0m0 12h0m-1-8h0m0 7h0m-2-6h0m-1-8h0m-4 1h0m0 8h0m-6-3h0m-1-1h0m-5 6h0m0-1h0m-3-8h0m-3 6h0m-2 3h0m-3-8h0m27 27h0m1-8h0m4 6h0m7-6h0m1 2h0m7-7h0m6 2h0m2 10h0m0 1h0m1-8h0m4 4h0m0 1h0m2 0h0m1 0h0m0-3h0m0 7h0m1-2h0m0-13h0m1 3h0m3 10h0m0-3h0m1 4h0m0-2h0m0-12h0m4 8h0m2 4h0m1-9h0m1 2h0m0-4h0m5 5h0m12-2h0m4 17h0m-5 2h0m-4 8h0m-4-15h0m0 7h0m-4 3h0m0 4h0m-5-5h0m-1-6h0m-1 2h0m-1 5h0m-1 5h0m0-6h0m0 6h0m-1-11h0m-5-1h0m-2 6h0m0-6h0m0-2h0m-1 9h0m-9-2h0m0 1h0m0-9h0m-1 8h0m-1-8h0m0 6h0m-1 3h0m-1 5h0m-2-8h0m0 3h0m0 3h0m0-7h0m0 2h0m-1 6h0m0 2h0m-4-4h0m0-4h0m-4 2h0m0 2h0m-1-9h0m-1 6h0m0-1h0m-2 3h0m-2 3h0m-1-1h0m-1-1h0m-1 2h0m-7-1h0m0-10h0m-2 10h0m-8-6h0m0 9h0m-2-2h0m-4 16h0m4-13h0m2 15h0m9-2h0m4-1h0m7 1h0m2-8h0m3 8h0m0 0h0m2-2h0m1-6h0m2 10h0m1-12h0m0 0h0m1 6h0m1 5h0m0-5h0m0 2h0m9-11h0m0 3h0m4-2h0m2 12h0m4-9h0m1-2h0m1 11h0m1-2h0m1-7h0m0 4h0m0 2h0m7 5h0m1-1h0m0-11h0m3 1h0m1 11h0m1-8h0m1-5h0m1 8h0m16 9h0m-1 2h0m0 4h0m-2-7h0m-5 5h0m-3 5h0m-6-11h0m-1 2h0m-1 8h0m0-9h0m-3-1h0m-9 5h0m-2-5h0m0 4h0m-3 10h0m-1 0h0m-1-10h0m0 5h0m-6 3h0m0-5h0m-1 6h0m0-2h0m-4 0h0m-2-10h0m-2 4h0m0-1h0m-4 7h0m-1-12h0m0 14h0m-2 0h0m-1-4h0m0-2h0m-1-1h0m0-7h0m-2 1h0m-1 5h0m-4 5h0m0 0h0m-1 4h0m-2-8h0m-5-5h0m-1 1h0m-3 2h0m-1-2h0m-6 23h0m3-5h0m2-4h0m1 9h0m2-3h0m8 0h0m2-4h0m1 8h0m7-9h0m4-2h0m1 4h0m1 10h0m0-8h0m2-2h0m2 6h0m1-8h0m0 1h0m4-1h0m0 7h0m2-1h0m1-1h0m2-7h0m1 0h0m1 13h0m1-6h0m1-3h0m1 8h0m2-12h0m0 13h0m8-4h0m1-1h0m5 7h0m0-8h0m7 4h0m3-8h0m4 7h0m0 1h0m9-2h0m-16 11h0m-9 7h0m-9-8h0m-7 2h0m-4 7h0m-2-7h0m-1 7h0m-3-6h0m-2 0h0m-15 5h0m-2-10h0m-1 2h0m-9-1h0m0 0h0m-1 13h0m-2-10h0m12 19h0m2-3h0m7 3h0m12 3h0m3-6h0m2 0h0m2 3h0m4 7h0m1-13h0m7-2h0m1 0h0m1 10h0m5 3h0m3-2h0m5-6h0m3 4h0m-41 9h0m-5 4h0m-8-3h0" stroke="#db2030" vector-effect="non-scaling-stroke"/>
<path d="M620 29h0m-24 14h0m1-5h0m3 5h0m7 4h0m9-15h0m0 10h0m2 3h0m15-4h0m4-5h0m1 8h0m4 3h0m24 7h0m-2-2h0m-1-1h0m0 7h0m-1 0h0m-1-5h0m-3 8h0m-13 0h0m-1-12h0m-14 13h0m-2-4h0m0 3h0m-8-10h0m-7 5h0m-7-3h0m0 8h0m-6 1h0m-5-10h0m-4 0h0m-17 10h0m-7 13h0m3-5h0m5-5h0m6-1h0m7 1h0m14 11h0m0 0h0m0-3h0m1-9h0m0 2h0m1 8h0m3 4h0m1-7h0m2 4h0m5-5h0m1 6h0m0-5h0m1-7h0m0 6h0m5 0h0m3-3h0m1 1h0m1 4h0m3-8h0m4 10h0m1 1h0m19-11h0m3 9h0m1 3h0m3 1h0m0 1h0m2 0h0m0-14h0m2 15h0m2-11h0m7 0h0m8 10h0m-1 16h0m-9-4h0m-1-2h0m0-8h0m-1 14h0m-5-14h0m-8 12h0m-1-1h0m-2-1h0m-4-9h0m-1 1h0m0 2h0m-1 11h0m0-13h0m-3 3h0m-1-1h0m0-2h0m-1 8h0m-4 5h0m-1-14h0m0 7h0m0 7h0m-1-3h0m-2-7h0m0 6h0m0 3h0m-2-7h0m0 8h0m-2-10h0m-1 3h0m0 4h0m-2-11h0m-2 4h0m-3 6h0m-3 3h0m-2-9h0m-1 7h0m-2-1h0m0-9h0m-4 7h0m-1 4h0m-1-2h0m-3 2h0m0-4h0m-1 4h0m-12-7h0m-1 3h0m0-9h0m-1 6h0m-7 1h0m-9-1h0m-7 1h0m-2 5h0m-5-8h0m-3 11h0m9 13h0m2-10h0m8 10h0m3-4h0m0 6h0m2-11h0m4 5h0m7-4h0m2 3h0m2 6h0m2-3h0m4-2h0m0 4h0m1-5h0m1-5h0m0 8h0m3-5h0m0 5h0m4 1h0m0 4h0m5-3h0m0-2h0m2 4h0m1-12h0m0 0h0m0 11h0m1-6h0m1 7h0m1-7h0m1 7h0m0 0h0m1-9h0m4 9h0m1-3h0m3-7h0m1 0h0m1 4h0m3-5h0m1 12h0m1-11h0m0 11h0m0-14h0m1 6h0m1-1h0m3 0h0m6 8h0m2 0h0m2-12h0m4 6h0m0 2h0m0 0h0m7-2h0m1 2h0m1 5h0m0-13h0m1 1h0m12-3h0m5 10h0m-7 15h0m-4-4h0m-3 6h0m-1-2h0m-6 0h0m-5 5h0m-5-14h0m-1 10h0m-2 3h0m-3-4h0m-1 0h0m-5-4h0m0-1h0m-2 0h0m0 5h0m0-5h0m-1-3h0m-2 11h0m-1-12h0m-1 7h0m-1-5h0m-1 8h0m-1-1h0m0 0h0m-1-3h0m0 1h0m-1-4h0m-3 1h0m0 0h0m0 0h0m-1 8h0m0 3h0m-1-2h0m-1-9h0m-1 1h0m-1 3h0m-4 3h0m-3-9h0m-1 12h0m-2-2h0m-7-5h0m-2 4h0m-1 1h0m-3 2h0m-1-8h0m-1 3h0m-4-5h0m-1 2h0m-1 4h0m0 3h0m0-12h0m0-1h0m-1 15h0m0-14h0m-4 8h0m-4-7h0m0 7h0m-10-5h0m-7 4h0m-2-4h0m-6 6h0m2 20h0m2-7h0m8 8h0m16-7h0m6-7h0m6 14h0m4 0h0m2-1h0m1-11h0m2 1h0m0 7h0m2-11h0m0 10h0m2-9h0m0 4h0m2-1h0m0 6h0m6-2h0m0-8h0m0 6h0m4 8h0m1-13h0m3 11h0m1 2h0m1-14h0m1 15h0m0-15h0m0 15h0m1-13h0m0-1h0m1 5h0m0 9h0m1-9h0m0 3h0m3 2h0m2-8h0m2 8h0m2-9h0m4 12h0m0 1h0m2-4h0m2-10h0m0 1h0m3 13h0m1-9h0m1 7h0m3-2h0m2-7h0m4-4h0m1 2h0m0-2h0m7 4h0m5 8h0m1 0h0m2-8h0m4 10h0m-11 7h0m-2 9h0m0-5h0m-4 4h0m-3-12h0m-5 12h0m-1-9h0m0 7h0m-1-9h0m-1 13h0m-5-6h0m-1-4h0m-3 7h0m-2 1h0m-2-3h0m-3 0h0m0-4h0m-2 9h0m0-2h0m-4-6h0m-1-7h0m-1 0h0m-2 6h0m-1-1h0m-4 0h0m-1 4h0m0 1h0m-1-3h0m-2 4h0m0-1h0m-2-5h0m-6-5h0m-1 11h0m-2 4h0m0-15h0m0 2h0m-1 13h0m-4-15h0m-2 15h0m-6-8h0m-6-1h0m-1 8h0m-1-5h0m-5-2h0m-1 1h0m-1-4h0m-2 2h0m3 10h0m6 1h0m5 2h0m2 1h0m2-2h0m1 4h0m3-2h0m3 3h0m0 8h0m2-7h0m1 6h0m0-14h0m3 12h0m6-9h0m0 8h0m0-4h0m1 3h0m0 1h0m2-4h0m2 6h0m2-7h0m2-4h0m0 2h0m1 5h0m2-5h0m0 6h0m3 1h0m5-6h0m2 7h0m0-3h0m1-3h0m0 8h0m4-1h0m0 2h0m0-4h0m4 3h0m0-8h0m2 0h0m2 8h0m6-3h0m2-2h0m3 2h0m3-10h0m5 10h0m7-8h0m1 3h0m4-3h0m-8 20h0m-3-4h0m-1-3h0m-21 3h0m-5 1h0m-8 6h0m-2 0h0m-4-1h0m-6 0h0m-14-6h0m0 7h0m-14-8h0m-6 4h0m-10 0h0m-4-4h0m13 14h0m17 10h0m18 1h0m2-7h0m7-1h0m6 7h0m10-8h0m1 1h0" stroke="#ef7f31" vector-effect="non-scaling-stroke"/>
<path d="M710 159h0m-5 0h0m-23 0h0m-1-3h0m-11 13h0m23-7h0m3 11h0m0-5h0m2 2h0m1-2h0m2 6h0m3-7h0m2 3h0m1-6h0m9 11h0m2-8h0m7 7h0m13 13h0m0 2h0m-4 2h0m-1-12h0m-4-1h0m-1 1h0m-2-1h0m-1 4h0m-1 9h0m-1-15h0m-4 13h0m-1-11h0m-4 6h0m-1-4h0m0 4h0m0 6h0m-4-7h0m0-2h0m-2-1h0m-1 9h0m0-13h0m-4 6h0m0 2h0m-1 7h0m0-6h0m-1 3h0m0-3h0m0 4h0m0-7h0m-1-6h0m-1 13h0m0-4h0m-2-8h0m-2 7h0m-6 1h0m-15 1h0m-7-5h0m-8 22h0m12 2h0m1-2h0m6-7h0m0 5h0m4 6h0m0 0h0m5-9h0m0 0h0m2-6h0m0 10h0m1-2h0m0-8h0m0 7h0m1 6h0m3 0h0m0 2h0m1-9h0m0-3h0m0 6h0m0-9h0m1 14h0m2-9h0m1 0h0m1 0h0m0 0h0m3-5h0m1 6h0m3-2h0m2 1h0m2 7h0m0 1h0m0-11h0m0 9h0m1-2h0m1-4h0m1 3h0m4-3h0m1 2h0m1 3h0m1 3h0m0 0h0m1-8h0m3 1h0m2 8h0m1-8h0m1 7h0m0-1h0m6 2h0m4-4h0m3-5h0m2-1h0m0 25h0m-13-1h0m-3 3h0m-3-9h0m-1 7h0m0 1h0m-2-11h0m0 4h0m0-4h0m-3-1h0m-1 7h0m0 1h0m-2-6h0m-1 0h0m-2 6h0m-3-10h0m0 1h0m-1 4h0m0 2h0m-1 7h0m-4-10h0m-2-1h0m-3 12h0m-2-4h0m0-8h0m-2 1h0m-2 3h0m0-5h0m-1 7h0m0-9h0m0 1h0m-1 1h0m-1 7h0m0-4h0m0 7h0m0 0h0m-1 2h0m-1-3h0m-1-8h0m-4 4h0m0-7h0m-3 11h0m-1-5h0m0-4h0m0 6h0m-2 6h0m-2-14h0m-9 15h0m-10-4h0m4 8h0m3-2h0m2 9h0m1 3h0m4-12h0m0 5h0m2 5h0m1-10h0m1 6h0m0 8h0m2 0h0m0-12h0m0 3h0m2-2h0m4 3h0m0-1h0m0 7h0m3-6h0m2 4h0m1-9h0m3 10h0m1-6h0m2 0h0m0-5h0m2 14h0m0-5h0m2-6h0m3-2h0m1 6h0m1 5h0m0 0h0m0 1h0m6-1h0m1 2h0m0-14h0m2 12h0m0-4h0m1-8h0m2 8h0m1-7h0m0 11h0m0 2h0m0 0h0m1-10h0m2-3h0m2 11h0m3 0h0m2-4h0m1 1h0m1-6h0m2 11h0m2-11h0m3-2h0m1 10h0m0 3h0m2-12h0m3 9h0m6 4h0m-4 12h0m-6-12h0m-2 7h0m-3 2h0m0 0h0m-5-7h0m0 6h0m-2-8h0m-1 15h0m-1-5h0m-1-2h0m-1-1h0m-2 4h0m-5-7h0m-1 8h0m-3-5h0m-1 8h0m0-12h0m0 11h0m-1-2h0m-1-8h0m-2 7h0m-1-3h0m-1 2h0m-3-5h0m0 10h0m-1-11h0m-1 3h0m-3-7h0m0 2h0m0 0h0m-3 2h0m0-2h0m-2 8h0m-1-8h0m0 3h0m-2 9h0m-1-2h0m-2-7h0m-3 8h0m-4-4h0m0 1h0m-3-2h0m-5 0h0m2 8h0m5 14h0m0-6h0m1-8h0m1 9h0m4-2h0m1-1h0m0 2h0m1 2h0m5-5h0m1 8h0m2-11h0m0 2h0m1 6h0m0-1h0m2-9h0m1 6h0m2-6h0m1 1h0m0 10h0m0-10h0m8 8h0m2 2h0m2 2h0m1-9h0m2-3h0m5 4h0m4 10h0m3-11h0m8 3h0m3-4h0m5 8h0m-10 7h0m-3 10h0m-9-5h0m-3 8h0m-1 0h0m0-14h0m-2 11h0m-9-6h0m-3-3h0m-1 3h0m-2 8h0m-3-12h0m-3-1h0m-5 11h0m-3-1h0m-1-1h0m-9 5h0m-3-9h0m-3-4h0m2 16h0m0 3h0m15-5h0m3 5h0m1 5h0m0-10h0m7 8h0m9-5h0m1 3h0m1-1h0m6 2h0m-3 15h0" stroke="#9fbadf" vector-effect="non-scaling-stroke"/>
<path d="M528 239h0m1-1h0m8-2h0m5-3h0m2 4h0m0-12h0m1 13h0m5-7h0m2-5h0m0 10h0m1-1h0m1 4h0m0-4h0m6 3h0m3 0h0m0 1h0m2-8h0m2 8h0m0-8h0m5-3h0m32 9h0m12-2h0m3-6h0m5 6h0m2-6h0m3 4h0m5-3h0m1 9h0m3-9h0m3 9h0m3-13h0m6 7h0m2-1h0m2 1h0m-1 10h0m-4 8h0m-1-9h0m-7 3h0m0 3h0m-3-5h0m0-2h0m-2 12h0m-2-11h0m-1 9h0m-2-2h0m-2 5h0m0-3h0m0-3h0m-1 7h0m0-12h0m-1 10h0m0 1h0m-1 1h0m-4 0h0m-4-1h0m-9-7h0m-2-3h0m0-4h0m-2 6h0m-4-2h0m-3 10h0m-2 0h0m-18-13h0m-4-1h0m-1 11h0m0-9h0m-1-1h0m-2 8h0m0-4h0m-3-2h0m-2 4h0m-5 3h0m-1 2h0m-3 1h0m-2-12h0m-3 6h0m-1-7h0m0 7h0m-1-7h0m-6 0h0m-7 3h0m-2 1h0m54 23h0m8-9h0m1 1h0m4-1h0m5 6h0m3-7h0m2 4h0m7 10h0m0-11h0m1 7h0m0-2h0m1-6h0m1 3h0m1 0h0m6-5h0m0 10h0m2-2h0m1 0h0m0-3h0m0-4h0m2 2h0m2 5h0m1-4h0m7-4h0m0 11h0m0-7h0m1 1h0m1 9h0m1-1h0m0 0h0m6-8h0m1-4h0m11-1h0m-2 20h0m-8 10h0m-3-8h0m0 0h0m-1 2h0m-2 0h0m-3-6h0m-4 9h0m0-3h0m-3-4h0m-1-5h0m0 4h0m-1 2h0m-2 0h0m-1-2h0m-9 1h0m-1 4h0m-3-7h0m-5-1h0m-4-1h0m-2 14h0m0-1h0m-1-13h0m0 3h0m-1 2h0m-1-4h0m0 14h0m-3-7h0m0-3h0m-3-4h0m-8 2h0m-1 8h0m-16 3h0m-4 7h0m4 9h0m23-7h0m0 7h0m2 0h0m2-6h0m4 5h0m0-13h0m5 2h0m0 3h0m1 3h0m1 5h0m1-3h0m1-5h0m0 2h0m0 2h0m1-1h0m1-3h0m3-4h0m1 5h0m0-1h0m3-3h0m0 12h0m1-12h0m1 2h0m3 2h0m0-3h0m4 3h0m0 4h0m1-1h0m1-7h0m0 9h0m3-2h0m1 6h0m0-13h0m2 13h0m2-1h0m0 0h0m0-1h0m0 1h0m0-5h0m1 0h0m1-6h0m1 11h0m3 0h0m2-2h0m0-9h0m1 2h0m0 1h0m1-2h0m0 1h0m2-5h0m6 6h0m1 3h0m2 3h0m4-1h0m0-1h0m6 17h0m-4-6h0m-1 0h0m-1 8h0m-7-5h0m-2-7h0m-2 0h0m0 4h0m-1 6h0m-2 2h0m-1-9h0m-1 8h0m-2-2h0m0-9h0m0 8h0m-2-4h0m-1-4h0m0 2h0m0 0h0m0 4h0m-5 8h0m-3-6h0m0 2h0m-13-7h0m-1 10h0m-1-13h0m0 11h0m-2-5h0m-3-2h0m-5 5h0m0-10h0m-10 2h0m-1 10h0m-4-10h0m-12 10h0m-14-7h0m-30 4h0m-3 4h0m-7-4h0m26 22h0m6-13h0m1 13h0m0-7h0m5 4h0m15 3h0m9-6h0m3 6h0m14-13h0m1 2h0m4 0h0m12 1h0m3-2h0m11-1h0m1 1h0m4-2h0m5 5h0m3 9h0m5 0h0m1-10h0m3-5h0m1 4h0m2 5h0m0-5h0m1 4h0m-51 20h0m-15-2h0m-1 0h0m0-5h0m-8-5h0m-2 1h0m-3 7h0m0-2h0m-1-2h0m-2 6h0m-2-5h0m-2 6h0m0 2h0m-7-4h0m0 1h0m-1-3h0m-3-6h0m-1 3h0m-1 4h0m-5 3h0m-5-4h0m-2-2h0m-3 4h0m-5-7h0m-25-1h0m22 17h0m15 4h0m0 0h0m1-6h0m1 0h0m7 12h0m0 2h0m0-6h0m1 4h0m0-3h0m3-6h0m3-2h0m1 11h0m2-6h0m0 4h0m1-1h0m1-5h0m0-3h0m9 7h0m5-6h0m26 3h0m-9 11h0m-20 1h0m-8 8h0m-9-5h0m-22-2h0" stroke="#a3b060" vector-effect="non-scaling-stroke"/>
<path d="M537 637h0m-4-1h0m-14 1h0m-6 1h0m-1-13h0m-1 10h0m-1-7h0m-16 2h0m-17 13h0m0-2h0m5 8h0m0-7h0m16 7h0m4 5h0m1-1h0m2-2h0m8-4h0m0-5h0m4 2h0m2 10h0m3-7h0m0 0h0m1 2h0m3 3h0m0-4h0m8-6h0m0-2h0m3 8h0m8-3h0m5 8h0m9 12h0m-1-1h0m-2 0h0m-2 0h0m-3 3h0m-1 2h0m-1-9h0m-1 7h0m-1-4h0m0 0h0m-1 0h0m-5-5h0m-1 10h0m-1-7h0m-2 10h0m-2-10h0m-2 7h0m-2-7h0m-3-1h0m-2 5h0m-2-4h0m-4 8h0m0-8h0m0 10h0m-2-7h0m0 6h0m-1-14h0m-2 11h0m0-10h0m0 5h0m-2 9h0m0-3h0m-1 3h0m0-8h0m0 1h0m-2 1h0m0-9h0m0 11h0m-2-1h0m-1-6h0m0 6h0m0-3h0m0-1h0m-1 0h0m-1-4h0m-1 11h0m-1-9h0m0 0h0m-4 1h0m-1 9h0m0-14h0m-3 10h0m-1 4h0m-1 1h0m0-7h0m-1 6h0m-2-10h0m-1 9h0m0-5h0m-2 7h0m0-2h0m0-1h0m-1 0h0m0 0h0m-2 1h0m-7 0h0m0-3h0m0 4h0m-2-11h0m-4 8h0m-4-3h0m-1 7h0m-6-5h0m-1 16h0m0-3h0m0 4h0m2-4h0m3 5h0m1-1h0m3-9h0m1 1h0m6 2h0m1 8h0m4-1h0m1 2h0m0-1h0m0-8h0m1 4h0m3 0h0m7-3h0m0-3h0m1 4h0m1-7h0m0 2h0m3-2h0m3 1h0m4 6h0m0 6h0m1-4h0m1 0h0m0-3h0m0 7h0m1-10h0m1 6h0m0 2h0m0-2h0m2 1h0m0 5h0m3-9h0m0 9h0m1-10h0m5 0h0m1 9h0m0-4h0m0-9h0m1 12h0m3 2h0m1-7h0m1 4h0m0 2h0m0 1h0m5-9h0m1-3h0m0 0h0m0 3h0m1-5h0m0 8h0m3-1h0m2-1h0m1-3h0m1 4h0m2 3h0m0-6h0m2 8h0m10-3h0m1-10h0m5 3h0m3 11h0m-11 10h0m-2-2h0m-2-3h0m0 5h0m-1 4h0m-2-4h0m-1 7h0m0-9h0m-2-1h0m-1 4h0m-1 3h0m0-11h0m-2 4h0m0 10h0m-2-8h0m0-1h0m-1-3h0m-2-3h0m-1 10h0m-1-1h0m-1-3h0m-1-5h0m-1 4h0m-3 10h0m-1-5h0m0 4h0m0-14h0m-4 14h0m-3-6h0m-1 7h0m0-14h0m0 7h0m0 3h0m-1-3h0m-1 0h0m-1 2h0m0-4h0m0-4h0m0 5h0m-2 3h0m0-6h0m-3 2h0m0 5h0m-1-1h0m0-3h0m-3 5h0m-1-3h0m-2-3h0m0-5h0m-1 2h0m-1 9h0m0 3h0m-1-9h0m-1-2h0m0 8h0m-1-11h0m-1 3h0m-1 2h0m0-1h0m-1 0h0m0 0h0m0-5h0m-2 0h0m-1 8h0m-1 4h0m-3-2h0m-6-4h0m0 1h0m-1-2h0m-1 2h0m-3 0h0m-2 4h0m-2-1h0m-13-4h0m23 20h0m2 2h0m6-12h0m3 5h0m1-3h0m0 8h0m1-9h0m2 5h0m1-4h0m0 9h0m1-4h0m0 3h0m2-4h0m0 8h0m1-1h0m1-1h0m1-10h0m3-1h0m1 0h0m0 4h0m1 10h0m2-15h0m6 2h0m2 5h0m1-6h0m0 3h0m1 0h0m2 11h0m0-4h0m1-9h0m1 1h0m1 10h0m0 2h0m4-9h0m0 8h0m1-10h0m1-2h0m1 0h0m2 3h0m1-3h0m3 0h0m1 13h0m1-11h0m1 5h0m1-9h0m1 6h0m0-4h0m2 5h0m4-7h0m-12 25h0m0-7h0m-6 8h0m-4-4h0m0 3h0m-2-4h0m-1 8h0m-2-8h0m-1-1h0m-1 2h0m-2-5h0m-4-1h0m0 15h0m-1-1h0m-3-8h0m-2 0h0m0-4h0m-3 3h0m-1-3h0m-1 2h0m-2 5h0m0-9h0m-1 9h0m-16-1h0m-4-8h0m13 18h0m13 1h0m7-1h0m17-2h0" stroke="#b88f86" vector-effect="non-scaling-stroke"/>
<path d="M338 127h0m-4-5h0m-1 3h0m-1 1h0m-6-6h0m-3 7h0m0-5h0m-1 0h0m-4-1h0m0-2h0m-2-2h0m0 6h0m-3-4h0m-1-1h0m-2 0h0m0 5h0m-2-2h0m0 6h0m-13 10h0m2-7h0m6 1h0m2-2h0m2 12h0m0-5h0m2 2h0m0 4h0m3-6h0m1-2h0m0-4h0m1 3h0m4-4h0m1 4h0m1 3h0m0-8h0m1 6h0m0-3h0m3 10h0m2 0h0m0 1h0m5-11h0m1 2h0m3 5h0m5 1h0m19 18h0m-3-3h0m-2 5h0m-1-2h0m-11 2h0m-19-14h0m-10-1h0m-4 0h0m-2 1h0m-2 1h0m32 21h0m2 1h0m2-2h0m3 4h0m3 3h0m1-13h0m1 10h0m5 5h0m4-8h0m0-1h0m2 6h0m1 2h0m1-6h0m7 13h0m-1 0h0m-8 1h0m0-5h0m-4 9h0m-1 3h0m-2-11h0m-2 2h0m-2 11h0m-1-7h0m-2 2h0m0-7h0m0 8h0m0-3h0m-1 7h0m-2-6h0m-1 5h0m-1-9h0m-2 3h0m0 5h0m-1-7h0m-3-1h0m-6 5h0m-20 19h0m23-6h0m8-7h0m2 1h0m1 8h0m0-5h0m1-1h0m1 2h0m1-5h0m0 6h0m1-1h0m3-5h0m0 9h0m3-9h0m0 0h0m0 15h0m1-13h0m4 8h0m1-8h0m1 6h0m4-6h0m0 12h0m1-6h0m1 6h0m1-1h0m5-13h0m10 12h0m19 1h0m3 17h0m-3 1h0m-2-5h0m-5 5h0m0-5h0m0 5h0m-2-14h0m0 5h0m-1 9h0m-1-12h0m-3-1h0m-3 1h0m0-1h0m-1 4h0m0 7h0m-3-10h0m0 6h0m-4-5h0m-1-2h0m-1 10h0m-2-4h0m-4-8h0m-4 1h0m-8 2h0m-4-3h0m-2 2h0m-1-2h0m-13 11h0m-8-3h0m-5-2h0m-3 8h0m-13-10h0m10 22h0m15 1h0m1 1h0m11-4h0m16-1h0m5-7h0m1 3h0m1 2h0m3-5h0m2 14h0m1-14h0m5 5h0m1 7h0m0-12h0m2 9h0m0-3h0m0-6h0m3 4h0m0 4h0m2 4h0m1-8h0m0 9h0m4 0h0m0 0h0m4-9h0m0 5h0m1 2h0m0-11h0m4 10h0m1-9h0m1 5h0m-15 20h0m-6-10h0m-5 8h0m-15 6h0m-10 1h0m-2 0h0m-1-3h0m-2-4h0m-4-1h0m-18-6h0m0 10h0m-12 2h0m0 2h0m-4-14h0m-23 19h0m11 0h0m3 9h0m9-11h0m1 12h0m2-7h0m2 4h0m0-8h0m3 5h0m1-2h0m1 0h0m1-4h0m7 8h0m1 0h0m6-8h0m0 5h0m12 8h0m7-2h0m9-2h0m3 2h0m0 1h0m38-6h0m-63 21h0m-4-7h0m-3-6h0m0 1h0m-7 4h0m-4 6h0m-2-3h0m-8-7h0m0 7h0m-3-5h0m-7 11h0m-13-10h0m6 25h0m15-11h0m1 1h0m4 9h0m3-6h0m4 4h0m7-7h0m2 0h0m5 10h0m0 1h0m66 9h0m-37 0h0m-6 7h0m-6 0h0m-3-10h0m-4 8h0m-5 3h0m-27-8h0m-16 2h0m14 21h0m21-10h0m4-4h0m13 5h0m21 10h0m1 0h0m23-12h0m-25 23h0m-9 1h0" stroke="#87bd88" vector-effect="non-scaling-stroke"/>
<path d="M490 282h0m-40 4h0m-16-8h0m-2 9h0m-35-1h0m-22 15h0m25-12h0m58 11h0m69 3h0m-5 5h0m-14-2h0m-9 13h0m-111-14h0m-29 14h0m-13-4h0m-6 4h0m-17 8h0m2-1h0m10-4h0m3 0h0m1 8h0m1-2h0m4 1h0m2-5h0m2 7h0m2-8h0m2 3h0m2 7h0m9-7h0m7 4h0m1-2h0m9-8h0m53 5h0m5-1h0m28 5h0m25-8h0m5 13h0m0-9h0m1 3h0m5-7h0m6 12h0m8-3h0m0-7h0m2 11h0m2-10h0m2 8h0m23 0h0m3-12h0m8 2h0m12 9h0m-6 9h0m-7 11h0m-18-4h0m-5-11h0m-1 9h0m-4-2h0m-4 0h0m0 1h0m-4-2h0m-1 8h0m-1-14h0m-12 9h0m-11-3h0m-13-4h0m-2-1h0m-9 5h0m-111 9h0m0-14h0m-3 1h0m0 8h0m-3-3h0m0-4h0m-4 2h0m-2 1h0m-3 6h0m-6-9h0m-1 12h0m-3-12h0m-1-1h0m-7 9h0m-1 3h0m11 4h0m1 0h0m0 4h0m27 3h0m106 4h0m15-4h0m6-1h0m2-3h0m2 0h0m1-5h0m3 6h0m9 8h0m3-9h0m1 6h0m3 3h0m0-9h0m0-1h0m3-4h0m1 6h0m4 5h0m2 0h0m2 3h0m1-1h0m5-13h0m3 6h0m5 8h0m1-7h0m0-2h0m0 5h0m1-2h0m1-8h0m2 15h0m1 0h0m2 0h0m2-12h0m15-3h0m11 24h0m-6-4h0m-3 7h0m-5-8h0m-1 1h0m0-4h0m-5 5h0m-1 7h0m-7-9h0m-1 10h0m-1 1h0m-5-7h0m-1-5h0m-1 13h0m-3-10h0m-2 3h0m-2-1h0m-4-5h0m-1 12h0m-1-11h0m-3 4h0m-4 5h0m-3-2h0m-2-1h0m-2 4h0m-2-6h0m-1 0h0m-5-2h0m-1-3h0m-1 3h0m-1 3h0m-7 1h0m-6 1h0m-3 1h0m0 0h0m-40 2h0m-12-7h0m-49 9h0m-36-14h0m-11 13h0m-3 6h0m14-2h0m4 2h0m47 8h0m6-2h0m7 1h0m33-6h0m32-5h0m7 12h0m1-9h0m2 3h0m9 7h0m1-5h0m4 6h0m12-10h0m4 10h0m2-1h0m5-6h0m4-2h0m1 3h0m1 1h0m0 2h0m1-7h0m0-3h0m10 10h0m5-7h0m4-3h0m1 0h0m1 3h0m1 10h0m1-4h0m3 1h0m0-8h0m2 10h0m1-9h0m6 6h0m4 2h0m1-7h0m2 2h0m0 5h0m4 2h0m-5 10h0m-2 5h0m-2-11h0m-7-2h0m-2 3h0m-6-1h0m-2 11h0m-1 1h0m-1-8h0m-3 0h0m-1 6h0m-2-6h0m-14-6h0m-3 6h0m-7-6h0m-1 1h0m-17 0h0m-5 12h0m0-13h0m-71 14h0m-41-12h0m-9 4h0m56 19h0m24 0h0m17-9h0m36 0h0m32 7h0m8-7h0m2 7h0m3 7h0m4-14h0m6 9h0m-74 19h0m-90-11h0" stroke="#b0a0c8" vector-effect="non-scaling-stroke"/>
<path d="M475 29h0m-6 2h0m-4 13h0m2-10h0m10 10h0m3 15h0m-1-10h0m-2 11h0m-4-5h0m-1-1h0m-2 0h0m-3 4h0m-4 1h0m-2 1h0m0 7h0m1 11h0m3-9h0m1 8h0m0-11h0m2 8h0m0-8h0m1 5h0m3-3h0m2 8h0m2-7h0m1 7h0m1 1h0m0-12h0m1 6h0m3-1h0m-1 10h0m-3 2h0m-1 11h0m0 2h0m-1-9h0m-1 5h0m0-4h0m0 4h0m-1-5h0m0 6h0m-1-3h0m-1-7h0m-1 0h0m0 4h0m-4 2h0m0 7h0m-2-4h0m-1-6h0m0 7h0m-3-8h0m-3 4h0m-2-2h0m-1 3h0m-1 11h0m1 2h0m1 0h0m3 0h0m1-5h0m3 7h0m1 7h0m4-15h0m0 2h0m0 13h0m1-1h0m1-11h0m1-2h0m1 4h0m1-2h0m1 3h0m4 1h0m2-6h0m2 2h0m2 4h0m0 12h0m-2 1h0m-3 0h0m-1 6h0m0-5h0m-1 0h0m-1-4h0m0 4h0m-1 0h0m-2-1h0m-1 1h0m0-5h0m-3 13h0m-1-13h0m0 13h0m-1-3h0m-1-6h0m0 10h0m0 0h0m0 0h0m-3 0h0m0-6h0m-1 4h0m-2-11h0m0 3h0m-1 8h0m-1 3h0m-5 12h0m3-2h0m4-3h0m0 3h0m2 6h0m0-3h0m1 0h0m2-11h0m0 13h0m1-3h0m0-11h0m1 6h0m1 9h0m0-7h0m0-2h0m2 9h0m0-11h0m2-3h0m0 7h0m0-6h0m1 8h0m1 1h0m1-8h0m1 9h0m8 15h0m-6-6h0m-1 0h0m-1 3h0m0-2h0m-1-1h0m-1-4h0m-1 6h0m-1-1h0m-1-4h0m-1-1h0m0 2h0m-1 5h0m-2-2h0m-2-4h0m-1 3h0m-8 1h0m-7 11h0m3 12h0m2-12h0m0 7h0m0-7h0m1-1h0m3 9h0m2-2h0m1 0h0m2-1h0m0-2h0m1 7h0m2 2h0m1-9h0m1 0h0m1 11h0m1-12h0m0 11h0m3-7h0m1 5h0m0-6h0m0 10h0m-5 3h0m-1 2h0m-2 3h0m0-8h0m-2 11h0m-2-5h0m0-2h0m-1-1h0m0 11h0m-1-3h0m-2 4h0m-2-2h0m-2 5h0m2 2h0m1 10h0m5-2h0m0-8h0m0 7h0m3-5h0m1 5h0m0-9h0m2 4h0m1 9h0m0-13h0m3 11h0m1-8h0m2-5h0m0 12h0m1 14h0m-1-5h0m-5 10h0m-1-6h0m-2-4h0m-4 3h0m-1-7h0m0 12h0m-3 0h0m-2-9h0m-2 3h0m-5 6h0m9 14h0m5-2h0m4 5h0m0-14h0m-3 24h0" stroke="#d57ab0" vector-effect="non-scaling-stroke"/>
<path d="M413 28h0m-5 1h0m-1-7h0m-8 18h0m5 2h0m4-6h0m5 4h0m1 0h0m3-5h0m1 7h0m4 3h0m-2 14h0m-5 2h0m0-8h0m0 2h0m-10-7h0m-1 15h0m-1-5h0m0-3h0m-2 8h0m0-15h0m-1 13h0m0-3h0m-1-10h0m-1 13h0m-9-4h0m-2 21h0m7-4h0m2-9h0m4 12h0m2-7h0m0-3h0m1 8h0m1 0h0m1-6h0m0 10h0m2-3h0m6-1h0m3 3h0m0-2h0m0-12h0m6 10h0m0-2h0m3 1h0m0 4h0m4 1h0m6-7h0m0-7h0m6 15h0m4-11h0m0-3h0m1-1h0m7 8h0m-7 22h0m-2-13h0m-2 14h0m-2-8h0m-1-2h0m-6 6h0m-3-2h0m-3-9h0m0 11h0m-2 3h0m0-8h0m-1 7h0m0-6h0m-5-4h0m0 11h0m-1-5h0m-1 3h0m0 0h0m0-6h0m-1-6h0m-2 3h0m-1 2h0m-1 2h0m0 1h0m0-1h0m-8 4h0m0 0h0m-1-4h0m-7-5h0m-1 12h0m-1-13h0m0 1h0m0 6h0m-14 12h0m3 10h0m5-4h0m3-1h0m1 2h0m1 3h0m2-4h0m3-3h0m1-4h0m0-3h0m0 3h0m3 8h0m2-11h0m0 12h0m1 3h0m0-4h0m1-7h0m2 11h0m1-9h0m0 0h0m1 2h0m0-1h0m1 3h0m2-1h0m1 6h0m1-12h0m0 11h0m1-14h0m4 8h0m0 2h0m2 3h0m1-1h0m4-12h0m5 6h0m5 8h0m2-6h0m5-7h0m-15 29h0m-3-14h0m-4 15h0m-3-14h0m-5 6h0m-1-4h0m-2 3h0m-7-2h0m0 1h0m-4 6h0m-3-3h0m-2-7h0m0 8h0m-2-4h0m-2-4h0m0 1h0m-6 11h0m2 9h0m1 4h0m2 1h0m4-4h0m1 5h0m3-1h0m2-8h0m1 6h0m5 1h0m0 2h0m3-11h0m0 5h0m1-4h0m0 2h0m1-1h0m2 12h0m1-14h0m8 11h0m1 2h0m0-2h0m6-1h0m-1 5h0m-4 8h0m-1 0h0m-3 1h0m-1-4h0m-4 2h0m-1 1h0m-1 0h0m-1-4h0m-2 3h0m-3 5h0m-1-10h0m-1 3h0m0 7h0m-2-10h0m-2 10h0m-2-9h0m-6 1h0m-6 2h0m2 13h0m2 10h0m12-10h0m1-1h0m1 5h0m2-7h0m9 15h0m0-10h0m2 3h0m3-3h0m-1 20h0m-1-5h0m-6 6h0m-4-4h0m-3-3h0m-1 0h0m-3 8h0m-7-5h0m16 12h0m5 3h0" stroke="#12b4c8" vector-effect="non-scaling-stroke"/>
<path d="M448 351h0m-2-12h0m-8 11h0m2 17h0m5-10h0m9 9h0m23 0h0m8-3h0m12 3h0m-15 4h0m-10 3h0m-17-1h0m-8 9h0m-1-4h0m-6-8h0m-4-1h0m-5 20h0m6 1h0m1-1h0m1 8h0m0 0h0m7-4h0m2-2h0m3 2h0m10-2h0m2 1h0m38-1h0m1-5h0m9 26h0m-21-10h0m-14 9h0m-13-1h0m-12-4h0m-5-2h0m0 1h0m-3-2h0m-1 12h0m-1 1h0m-7-3h0m0-11h0m0 7h0m-5 15h0m2 1h0m6 2h0m3-7h0m1 6h0m2-8h0m5 13h0m3-14h0m11 6h0m16 4h0m0-3h0m30 7h0m1 12h0m-4 2h0m-4 3h0m-10-13h0m-2 2h0m-1 11h0m-13-2h0m-2-5h0m-36-3h0m34 21h0m2-1h0m2-4h0m1-2h0m5 8h0m1-4h0m0 4h0m2 2h0m0 0h0m1 2h0m1-14h0m2 13h0m1-14h0m1 11h0m1-3h0m0-4h0m0 4h0m3 6h0m0-4h0m1 2h0m0-4h0m0 0h0m0 7h0m2-11h0m1 7h0m0-1h0m0-1h0m0 5h0m0-9h0m0 6h0m1-4h0m0-1h0m2-3h0m0 8h0m1-2h0m0 6h0m0-7h0m1 7h0m0-1h0m4 0h0m2-11h0m0 10h0m1-5h0m1 7h0m0-10h0m1 6h0m0 2h0m1-7h0m0 7h0m1-2h0m2 2h0m2-7h0m4 15h0m-5-3h0m-3 3h0m0-3h0m-2 4h0m-2-1h0m-2-4h0m-3 5h0m-1-2h0m-4 0h0m-1-2h0m-2-2h0m0 3h0m-1 2h0m-3-3h0m-1-1h0m0 9h0m-1-9h0m0 2h0m-1-3h0m0 1h0m-1 0h0m0 1h0m0-2h0m-3 1h0m-1 2h0m-2 2h0m-2 1h0m-2-2h0m-3-3h0m-2 7h0m-49-8h0m15 18h0m33 4h0" stroke="#e78684" vector-effect="non-scaling-stroke"/>
<path d="M338 269h0m-8 10h0m-2-6h0m-20 27h0m13 3h0m6-6h0m7-8h0m0 0h0m3 14h0m4-6h0m4 4h0m6-9h0m3-3h0m2 1h0m4 11h0m5-7h0m-3 25h0m0-3h0m-1-4h0m-3-3h0m-9-1h0m-4 5h0m0 3h0m-3-5h0m-1-6h0m-1 10h0m-4-1h0m-1-6h0m-7 8h0m-4-11h0m-5 13h0m-1-7h0m-4-7h0m-12 12h0m8 16h0m1-6h0m1-1h0m4 0h0m2-2h0m0 2h0m1 10h0m0-14h0m3 1h0m3 6h0m0 1h0m1 2h0m1 4h0m0-12h0m3 6h0m8-2h0m0-3h0m3 4h0m2 3h0m2 3h0m0-7h0m1 2h0m1-8h0m4-1h0m0 15h0m2-8h0m5 2h0m-7 7h0m-3 14h0m0-14h0m-1 13h0m-1-2h0m0-9h0m-1 0h0m-4 9h0m-2 1h0m-2-9h0m-2 3h0m0-3h0m-1 11h0m0-3h0m-4 1h0m-5-1h0m-4 0h0m-1-8h0m-3 1h0m-19 0h0m-27 2h0m-8-1h0m-9 3h0m-1 7h0m-3 14h0m2-2h0m1-5h0m3-2h0m0 9h0m2 0h0m4-7h0m0-6h0m1 15h0m0-3h0m1-11h0m1 11h0m1-10h0m1 6h0m1-8h0m3 9h0m3 5h0m2 0h0m1-3h0m7-1h0m12-6h0m1 3h0m1-5h0m14 11h0m2-5h0m15 5h0m2-12h0m3 2h0m2-3h0m2 10h0m8 3h0m1-1h0m4 2h0m2-5h0m9-7h0m-32 20h0m-13 1h0m-5 4h0m-10-7h0m-3-2h0m-4-1h0m-14 0h0m-6 8h0m-2-2h0m-1 5h0m0-7h0m-5-2h0m-4 1h0m-1-3h0m0 10h0m26 13h0" stroke="#cfd48a" vector-effect="non-scaling-stroke"/>
<path d="M448 232h0m2 7h0m18 12h0m-1 3h0m-5 0h0m-1-7h0m-5-1h0m-2-1h0m0 7h0m-2 0h0m-2-8h0m0 5h0m-4-6h0m-2 9h0m-1-2h0m-3-6h0m-2 7h0m-1-5h0m-1 6h0m0 1h0m-5-10h0m-1 6h0m-8 14h0m2-1h0m1 8h0m0-11h0m3 5h0m5-8h0m0 8h0m1 6h0m1-10h0m2-1h0m4 7h0m2-4h0m1-2h0m4-3h0m1 4h0m2 7h0m0-4h0m0-5h0m2 12h0m0-7h0m0 5h0m0-1h0m4-1h0m0-3h0m3-8h0m1 12h0m0 2h0m5 0h0m3-3h0m0-11h0m3 5h0m-1 19h0m-2 2h0m-1 3h0m-2-9h0m-8-4h0m0 0h0m-2 2h0m-1 4h0m-1 5h0m-1 1h0m-2-10h0m0-2h0m0 9h0m0 0h0m-1-8h0m0 4h0m-6 6h0m0-1h0m-1 5h0m0-8h0m0 0h0m0-3h0m-1 9h0m-1-10h0m-2-3h0m-1 14h0m0-5h0m0-4h0m-1 7h0m-2 3h0m-1-11h0m-1 9h0m0-11h0m-1 12h0m0-8h0m-2 8h0m-1-4h0m-1-8h0m0 23h0m4 3h0m3-12h0m1 1h0m3 0h0m3 13h0m2-14h0m1 6h0m2-3h0m2 3h0m3 1h0m1-4h0m0 9h0m1-12h0m0 4h0m1 9h0m4-11h0m3 6h0m8-5h0m0-2h0m80 30h0m-7-14h0m-4 13h0m-9-10h0m-78-4h0m30 28h0m10 3h0m4-15h0m7 8h0m16 0h0m11-6h0m-19 23h0m-36 9h0m7 10h0m9-6h0m55 2h0m12 9h0m-11 2h0m-8 0h0m-10 2h0m-13 0h0" stroke="#f3ac74" vector-effect="non-scaling-stroke"/>
<path d="M673 29h0m-10 0h0m-11 7h0m4 11h0m6-13h0m1 9h0m6-1h0m3-8h0m2 7h0m3 5h0m4-10h0m8 11h0m8-1h0m2-4h0m-5 15h0m-5 4h0m-2-1h0m-1 3h0m-2-3h0m0-11h0m-1 10h0m0-10h0m-1 14h0m-3-1h0m-8 1h0m-2-2h0m-7 1h0m-2 1h0m0-7h0m0-3h0m-1-2h0m-6 0h0m0 7h0m-3-4h0m-5 14h0m10-2h0m0 5h0m1 8h0m1-4h0m1-5h0m2 8h0m1 0h0m2 0h0m1-4h0m3-9h0m5 9h0m1-8h0m0 9h0m3-5h0m2-3h0m0 7h0m6-10h0m1 0h0m0 4h0m1 0h0m1 4h0m2 2h0m0-3h0m1-6h0m4 10h0m3-8h0m1 12h0m8-3h0m6 16h0m-9-6h0m-5-6h0m-1 5h0m-1-3h0m-3 13h0m0 0h0m0-15h0m-5 4h0m-5 11h0m-1-15h0m-2 6h0m-1-1h0m-2 7h0m-1 0h0m-3-8h0m-2 0h0m-1 3h0m-1 2h0m0 3h0m0 2h0m-4-8h0m-3 4h0m0-8h0m-6 6h0m-7-4h0m-5-2h0m-6 15h0m6 2h0m10 11h0m6-10h0m1 1h0m2 9h0m2-13h0m1-1h0m1 12h0m1-11h0m1-1h0m9 15h0m6-12h0m0 10h0m1-11h0m0 6h0m5-3h0m1 3h0m3-8h0m2 3h0m1 1h0m7-1h0m-5 17h0m-2-4h0m-5 6h0m-9-6h0m-7 2h0m-13 0h0m-1 4h0m-10-4h0" stroke="#eeaac6" vector-effect="non-scaling-stroke"/>
<path d="M427 495h0m7-6h0m3 5h0m6 17h0m-3-13h0m0-2h0m-2 14h0m-3-3h0m-2-3h0m0 4h0m-5-7h0m-2 7h0m1 9h0m1-4h0m0 12h0m0-6h0m1-3h0m2-2h0m2 1h0m0 11h0m2-13h0m2 1h0m0 12h0m2-4h0m1 3h0m5-8h0m-7 12h0m0 11h0m-1-4h0m-3-7h0m-1-1h0m-2 11h0" stroke="#88c8d6" vector-effect="non-scaling-stroke"/>
</g>
<g transform="translate(499.1,30.7) scale(0.5)" stroke-width="3.2" stroke-linecap="round" fill="none" vector-effect="non-scaling-stroke">
<path d="M715 442h0m-14-1h0m-3 5h0m-7-5h0m-19 21h0m5-4h0m1 1h0m1-4h0m5 2h0m1 6h0m1-3h0m2 0h0m1-5h0m13 6h0m2 2h0m2-11h0m2 2h0m2-1h0m1-2h0m4 12h0m1-3h0m0-3h0m4 1h0m4 5h0m11-2h0m-3 11h0m0 5h0m-4-2h0m-1 2h0m-1 2h0m-1-10h0m-6 8h0m-3-13h0m0 4h0m0-4h0m-1 10h0m-2-4h0m0-4h0m-1 5h0m0 5h0m-2-7h0m-2 7h0m0-6h0m-3-5h0m0 3h0m-2 9h0m-1-3h0m-1 4h0m0-8h0m-6 8h0m0-5h0m0 0h0m-1-3h0m0 8h0m-2-9h0m-1-1h0m0 7h0m0 1h0m0-9h0m-2-2h0m-1 8h0m-1-2h0m-1-1h0m-1 9h0m-3-9h0m0 9h0m-4-8h0m0 0h0m-4 3h0m-1-4h0m-1 7h0m-2-1h0m-8 1h0m1 12h0m5-8h0m1 3h0m3 5h0m2 1h0m2 0h0m0 2h0m0 1h0m1 2h0m1-14h0m6 5h0m1-4h0m2 6h0m1-8h0m1 13h0m0 1h0m0-2h0m0 3h0m0-1h0m1-11h0m1 2h0m2 8h0m2-5h0m2-5h0m0 6h0m3 0h0m1-1h0m2 5h0m1-5h0m0 3h0m1-11h0m2 5h0m0-5h0m1 9h0m0 5h0m0-10h0m1 5h0m2 4h0m0-7h0m0-5h0m1 9h0m2-7h0m2 0h0m2-2h0m0 11h0m1-11h0m0 1h0m0 12h0m1-8h0m2 9h0m1-7h0m0-4h0m2 11h0m0-15h0m1 11h0m0 1h0m0-12h0m1 12h0m2-4h0m0-5h0m1 2h0m3-3h0m3 11h0m5 7h0m-1 5h0m0-3h0m-9 1h0m0 1h0m0-6h0m0 2h0m-1 2h0m-1 1h0m-3-1h0m-2 6h0m-1-11h0m-2 13h0m-2 0h0m0-5h0m-2-2h0m0-5h0m-1 2h0m0 3h0m0 5h0m0-2h0m-1 4h0m-3-14h0m-1 13h0m0-10h0m-1 0h0m-1 12h0m-1-2h0m0-7h0m0 4h0m-3-4h0m0-5h0m-1 7h0m0-3h0m0 4h0m-1 5h0m-1-6h0m0-5h0m-1 0h0m-1 2h0m-1 0h0m-3 8h0m-1-10h0m0-3h0m-1 5h0m-1 2h0m0 6h0m-2-1h0m-1-5h0m-1 2h0m0-1h0m-1 7h0m-1-6h0m-1-9h0m-1 12h0m-3-4h0m-2-3h0m-1 3h0m0 0h0m0 2h0m-2 5h0m0-10h0m0-5h0m-3 6h0m-3-2h0m-2-1h0m-7 4h0m0 7h0m-6-13h0m-1 14h0m-4-1h0m-580 0h0m-4-4h0m-5 18h0m4-12h0m4 11h0m2 2h0m574 0h0m1 1h0m1-14h0m1 3h0m4 5h0m2 6h0m2-9h0m1-4h0m1 7h0m1-8h0m0 2h0m2 2h0m1-3h0m0 3h0m1 3h0m1-6h0m2 13h0m4-7h0m1 4h0m2 1h0m0-11h0m1 8h0m2 4h0m1 2h0m0-7h0m0-1h0m0 6h0m0-7h0m1 2h0m2 5h0m1-2h0m3 4h0m0-8h0m2 3h0m3-9h0m1 9h0m2 0h0m1-1h0m1 3h0m1 2h0m0-2h0m2-12h0m0 2h0m1 13h0m0-15h0m1 2h0m0 4h0m3 4h0m0 2h0m0-10h0m1 10h0m2-7h0m0 8h0m1-7h0m1 0h0m0 9h0m0-5h0m7-10h0m4 0h0m2 14h0m1-7h0m0-7h0m1 2h0m1 5h0m1-4h0m1 0h0m2-2h0m0 2h0m0 7h0m2-9h0m1 4h0m1 3h0m1-2h0m0 2h0m3-3h0m1-4h0m-10 22h0m-4 7h0m-3-11h0m-3-1h0m-1 0h0m-1 8h0m-2-3h0m-1 6h0m-2-7h0m-2 8h0m-1-4h0m0-9h0m-3 5h0m-2-4h0m-3 3h0m0-2h0m-7 1h0m0 5h0m-1 2h0m-13-8h0m-1 1h0m-3-4h0m0 2h0m-3-2h0m0 6h0m0-1h0m-4-5h0m0 1h0m-1 6h0m0-1h0m-2 3h0m-2-6h0m0 6h0m-4-2h0m-1 4h0m-2-3h0m-1 4h0m-3-12h0m-2 8h0m-572 3h0m-2 4h0m-8-5h0m-1 4h0m-2-7h0m-3 2h0m-5 13h0m4 7h0m3-6h0m0 4h0m0-11h0m1 12h0m1 2h0m0-1h0m0-4h0m1-5h0m5 3h0m598-6h0m2 0h0m21 4h0m1-1h0m7-2h0m9 5h0m-640 16h0m-2 6h0m-2-8h0m-3 2h0m0-6h0m-2 0h0m7 30h0m2-11h0m2 2h0m138 7h0m4-5h0m13 4h0m3 1h0m0 14h0m-2 4h0m-1-2h0m-1-5h0m-5-7h0m-2-1h0m-2 3h0m-4 11h0m-3-13h0m-5 8h0m-3 0h0m-163 20h0m12 2h0m2-8h0m5 0h0m0 1h0m4 6h0m1-2h0m2-6h0m8 2h0m6 2h0m0-1h0m1 6h0m1-10h0m3 8h0m2 0h0m6-3h0m2 2h0m9 2h0m94 0h0m2 0h0m7 0h0m1-8h0m2 8h0m1-5h0m1-4h0m0 9h0m1 1h0m0-13h0m1 7h0m1 5h0m2-10h0m2 4h0m1 4h0m1-7h0m1 1h0m3 5h0m5 1h0m-1 9h0m-4-3h0m-5 4h0m-7 0h0m-1 3h0m-2-7h0m-115-1h0m-5-1h0m-1 5h0m-1 8h0m-1-6h0m-2-2h0m-1 3h0m-5-2h0m-4 3h0m0-8h0m-1-1h0m-1 7h0m-1-1h0m0-3h0m-1 8h0m-2 4h0m-1-9h0m-1 0h0m-7 3h0m0-2h0m0 0h0m-7-1h0m59 23h0m4 0h0m12 1h0m2-6h0m39 3h0m40 18h0m-8-5h0m-2 3h0m0-6h0m-3 9h0m-10 0h0m-3-1h0m-2 1h0m-1-9h0m-2 7h0m-2 3h0m-2-10h0m-2 9h0m-1-4h0m-2-10h0m-3 2h0m-2 13h0m-4-6h0m-2 3h0m-5-4h0m-2 3h0m0 4h0m-2-6h0m-2 2h0m-2-2h0m-1 3h0m-5-7h0m-3-5h0m-5 5h0m-3-1h0m-4-3h0m-1 10h0m0-7h0m-4 10h0m-1-14h0m-2 6h0m-2-5h0m0 9h0m-3-8h0m-3 10h0m-5-4h0m-9-3h0m-4 1h0m-3 2h0m-17 11h0m4 1h0m6-3h0m4-1h0m11 4h0m1-1h0m0 8h0m1-5h0m1 1h0m1 0h0m2 4h0m4-1h0m1-8h0m0 11h0m0 1h0m1-6h0m0 1h0m2-7h0m6 13h0m1-4h0m1-2h0m0-2h0m0-3h0m2-1h0m4 12h0m0 0h0m3-13h0m1-1h0m2 13h0m1-1h0m1-11h0m1 6h0m5-4h0m1 2h0m1-2h0m2 10h0m0-13h0m2 6h0m0-5h0m1 13h0m2 0h0m0-8h0m0 3h0m2-1h0m0-7h0m1 2h0m1 7h0m2-7h0m1-4h0m1 0h0m1 12h0m0-9h0m2 3h0m2 9h0m0-9h0m1 8h0m0-1h0m2-9h0m1 10h0m2 1h0m0-1h0m2-1h0m1-10h0m1 10h0m0-5h0m4 0h0m0 5h0m0-11h0m2 12h0m1-7h0m1 6h0m1 2h0m2-1h0m4-5h0m1 6h0m2-4h0m4-2h0m0-1h0m2 5h0m1-6h0m1 1h0m1 5h0m2-13h0m1 4h0m0 11h0m12 0h0m11 9h0m-8-8h0m-4 15h0m-8-13h0m-1 11h0m-1-5h0m-3 1h0m-1-3h0m-4 9h0m-1-4h0m-2 2h0m-1 2h0m0-1h0m-1-4h0m0 1h0m-5-1h0m0 5h0m-1-8h0m0-7h0m-2 6h0m-1-2h0m-1 9h0m-2-12h0m-2 14h0m0-15h0m-2 9h0m0-6h0m-1 7h0m-1 1h0m-1 3h0m0-14h0m0 5h0m-3 10h0m-2-14h0m-1 1h0m-1-1h0m-5 8h0m0-6h0m0 11h0m-1-7h0m-2-3h0m0 8h0m0 0h0m-1-8h0m-1 7h0m0-7h0m-1 0h0m-1 10h0m0-2h0m-3-9h0m0 9h0m-1-7h0m0 4h0m-2-8h0m0 2h0m-1 4h0m-2-1h0m-1-2h0m0 11h0m-2-11h0m0-4h0m0 3h0m0 5h0m-2 0h0m-3-1h0m-1 1h0m0 3h0m0 3h0m-1-8h0m0 3h0m-1 0h0m-1 3h0m-1-5h0m-2 6h0m0-3h0m-2-2h0m-1 1h0m0-3h0m-2-3h0m0 4h0m-1-5h0m0 2h0m-1 9h0m0-2h0m0 3h0m-1 1h0m-1-11h0m0 4h0m-2-3h0m0-3h0m-2 2h0m0 7h0m0 3h0m0-5h0m-2-7h0m0 5h0m-1-6h0m0 9h0m-1-1h0m-2-9h0m-1 2h0m0 9h0m0-5h0m-1 5h0m-4-1h0m0-10h0m-3 13h0m-1-13h0m-1 12h0m-3 2h0m-4-14h0m0 11h0m-5-5h0m-1-3h0m0 1h0m0 10h0m-1-1h0m-3-6h0m-6 1h0m-7-7h0m-1 8h0m13 14h0m2 3h0m1 1h0m10-5h0m1 9h0m1-9h0m5 2h0m2-7h0m1 7h0m1 4h0m1-1h0m1-6h0m1-2h0m1 8h0m1-5h0m3-5h0m1 1h0m1-1h0m1-1h0m2 2h0m3-1h0m1 11h0m2-5h0m0 6h0m4 1h0m2-13h0m2 11h0m2 0h0m1-12h0m0 11h0m2-10h0m1 3h0m1 0h0m0 2h0m2-2h0m2-2h0m1 9h0m2 2h0m4-7h0m2 6h0m3 3h0m2-12h0m0 4h0m2-4h0m1-2h0m2 9h0m1 3h0m5-12h0m1 6h0m0 0h0m1-7h0m1 3h0m1 7h0m1-10h0m1 10h0m1-1h0m1 3h0m0-6h0m1 7h0m0-8h0m0-4h0m3 4h0m0 1h0m0-4h0m1-1h0m1 1h0m4-1h0m2 10h0m4-5h0m1-6h0m1 8h0m0-4h0m1 3h0m0 0h0m3-4h0m1 9h0m1-1h0m1-5h0m1-3h0m9 0h0m1-3h0m3 1h0m-30 22h0m-4-7h0m-4 10h0m-8-5h0m-1 1h0m-2 3h0m-2-9h0m-3 11h0m0-1h0m-1-5h0m-6 2h0m-7 7h0m-3-4h0m-9-10h0m-5 4h0m-2 0h0m-7 5h0m0-8h0m0 11h0m-7-10h0m-7 1h0m-3-1h0" stroke="#0b9058" vector-effect="non-scaling-stroke"/>
<path d="M135 201h0m20 10h0m-5 12h0m-5-1h0m0-1h0m-1-12h0m0 10h0m-1 4h0m-1-8h0m0-2h0m-1 8h0m0 1h0m-1-12h0m-1-1h0m0 12h0m0-6h0m-1-3h0m0 4h0m0-5h0m0 5h0m-3 3h0m-1-1h0m-2 1h0m-4 12h0m4 2h0m1-8h0m1 9h0m2-10h0m2 15h0m0-15h0m0 5h0m1-2h0m0 7h0m1-1h0m0 0h0m1-3h0m1-5h0m0 3h0m0-2h0m1 2h0m2 9h0m0-8h0m1 5h0m1 1h0m1-2h0m2-6h0m1 0h0m2 3h0m1-6h0m51 13h0m0 1h0m2 0h0m1-5h0m1 2h0m0 1h0m2 1h0m6-2h0m-53 12h0m-7 1h0m-3 0h0m-1-3h0m-2 8h0m-1-6h0m-3 1h0m-1-1h0m0-5h0m0 7h0m-4 0h0m-1-8h0m-1 12h0m-7-13h0m-1 15h0m-1-3h0m-8-9h0m0 8h0m-3 2h0m-1-1h0m-1 3h0m-4-2h0m-1-1h0m-6 19h0m2-13h0m6 9h0m2 2h0m1-13h0m1 7h0m1-1h0m0-1h0m2 5h0m2-2h0m5 6h0m0-2h0m0 3h0m3-9h0m0-2h0m4 2h0m3-5h0m1 10h0m1 1h0m0-3h0m1 1h0m8 3h0m1 2h0m2-9h0m1 2h0m0 5h0m2-2h0m2-4h0m1 7h0m4-11h0m5 8h0m7 1h0m7 9h0m-4 6h0m0-3h0m-5 4h0m0-10h0m-1 8h0m-1 5h0m-1-10h0m-1 9h0m0-11h0m-4-1h0m0 11h0m-1-13h0m-4 8h0m-1-5h0m-2 10h0m-3 2h0m0-11h0m-1 7h0m-2 0h0m-1 2h0m0 0h0m-1-9h0m-4 6h0m-1-1h0m0-6h0m-1 7h0m0 1h0m0-11h0m-1 4h0m-1 6h0m0-6h0m-1-2h0m0 6h0m0-7h0m-1 7h0m0-8h0m-3 6h0m-3-4h0m0 5h0m-1 2h0m0-4h0m-1-5h0m-3 0h0m-3 8h0m0-6h0m0 0h0m-1 12h0m-5-5h0m-1-3h0m-3 3h0m-4-8h0m-1 9h0m-3 4h0m-4 3h0m4 11h0m5 2h0m2-3h0m5-4h0m1 5h0m1 1h0m0 0h0m0-2h0m1 1h0m0-5h0m0-1h0m2 7h0m2-9h0m1 1h0m1 3h0m4 1h0m0-3h0m0 2h0m1 0h0m1 7h0m3-1h0m0-7h0m2-2h0m1 0h0m0-4h0m0 9h0m1-7h0m1 0h0m0 2h0m2-1h0m0 6h0m0-4h0m1-6h0m0 2h0m2 6h0m0 6h0m1-9h0m1 0h0m0-5h0m2 10h0m0 1h0m1 2h0m2-10h0m1-3h0m0 4h0m1-1h0m0 4h0m0 0h0m2 5h0m0-5h0m3 2h0m1-1h0m0-2h0m0-6h0m4 4h0m1-4h0m4 11h0m3-4h0m1 0h0m1 4h0m3-6h0m1 8h0m1-9h0m11 22h0m-6 3h0m-5 0h0m-6-4h0m-1-2h0m-3-6h0m-3 1h0m-2-1h0m-1 14h0m-1-11h0m0-3h0m0 5h0m-1 4h0m-2-10h0m0 3h0m-1 0h0m0 11h0m-1-12h0m-1 4h0m-1-1h0m0-5h0m-1 10h0m-1-4h0m-2-1h0m-1 8h0m-1-11h0m-1 3h0m0-5h0m0 4h0m-2 7h0m-4-6h0m-1-2h0m0 6h0m-2-1h0m-1 5h0m-2-10h0m-1 10h0m0-7h0m0 9h0m-1-8h0m-1 4h0m-1-10h0m0 8h0m-4 0h0m0 5h0m0-5h0m-1-8h0m-1 12h0m-1-2h0m-1-1h0m0-1h0m-6 2h0m-2-10h0m-1-1h0m-1 10h0m-1-1h0m0 0h0m-1-7h0m0 2h0m-1 3h0m0-5h0m-9 1h0m-1 7h0m0 2h0m0-2h0m0 2h0m-12-12h0m-19 29h0m16 2h0m0-2h0m1-5h0m4-4h0m1 6h0m3-5h0m1-1h0m4 11h0m4-5h0m0 4h0m1-12h0m5 11h0m1-4h0m0 0h0m1 3h0m4-12h0m2 13h0m2 0h0m2-1h0m1-11h0m0 4h0m1 9h0m0 1h0m1-3h0m0-1h0m1-10h0m3 0h0m1 14h0m0-7h0m3 0h0m1 3h0m1-1h0m1-8h0m1 8h0m2-9h0m0 3h0m2 0h0m0 7h0m0-10h0m1 9h0m0 2h0m2-7h0m1 0h0m1 1h0m1-2h0m0-4h0m2 0h0m2 14h0m0-7h0m0 3h0m1 5h0m1-5h0m0 2h0m1 0h0m3-6h0m1-5h0m4 11h0m1-12h0m1 1h0m0 3h0m1 7h0m1-6h0m0 1h0m0 0h0m1 7h0m4 0h0m1-7h0m1 8h0m3-5h0m4 3h0m6-3h0m4-1h0m1-4h0m0 1h0m6 0h0m8 5h0m-3 15h0m0-9h0m-20 14h0m0-6h0m-2-7h0m-1 6h0m-2-1h0m0-1h0m-3-1h0m0 4h0m-1-3h0m-3 1h0m-2 6h0m-3-9h0m0 6h0m-3-4h0m-2-3h0m-3-1h0m-3 3h0m-1 7h0m0-3h0m-3-3h0m-1 1h0m-4-5h0m-2 14h0m-1-14h0m-3 7h0m-1-7h0m0-1h0m-1 2h0m0 5h0m0-4h0m-1 3h0m-4-6h0m-1 8h0m-1 4h0m-3-7h0m0 8h0m-4-12h0m0 3h0m-2-4h0m-2 0h0m-5 4h0m-4 10h0m-2-8h0m0 7h0m0 2h0m-1-9h0m0 5h0m-4 0h0m-4-2h0m-3 0h0m-5 5h0m-2-8h0m-1 1h0m0 6h0m-2-11h0m-6 5h0m-12-6h0m-2 14h0m0 10h0m2 2h0m1-1h0m1 5h0m3-10h0m1-5h0m7 15h0m2 0h0m1-11h0m4 6h0m6-5h0m2-5h0m4 8h0m2 0h0m5 1h0m5-6h0m2 3h0m2 1h0m0 2h0m1 1h0m1-5h0m1 3h0m3-1h0m5 0h0m0 0h0m1 4h0m1-2h0m2 2h0m0-7h0m6-2h0m3 12h0m3-14h0m5 13h0m0 2h0m1-12h0m1-3h0m0 9h0m0-8h0m1 6h0m0-2h0m3 2h0m5-7h0m3 2h0m6 6h0m0 4h0m3-9h0m1 8h0m3-10h0m7 7h0m3-4h0m1 3h0m4-1h0m2-4h0m1 8h0m-21 9h0m-8-1h0m-4 4h0m-1 2h0m-7-2h0m-3-1h0m-4-2h0m-1 9h0m-5-2h0m-2 1h0m0-7h0m-1 2h0m-6-2h0m-14 6h0m-8-10h0m-10 15h0m-3 0h0m-2-14h0m-8 10h0m-2 0h0m-6-5h0m-2 4h0m-5-10h0m-1 4h0m-3 0h0m-5 9h0m0-10h0m-7 24h0m2 4h0m3-12h0m5 1h0m4 10h0m1-2h0m1 1h0m0 0h0m1-7h0m3-1h0m2 10h0m2-13h0m2 6h0m1-5h0m1 5h0m2 4h0m1-8h0m5 5h0m1-6h0m0 12h0m2-6h0m2 2h0m1-9h0m21 25h0m-6 3h0m-2-2h0m-2-10h0m-3 10h0m-5-1h0m0-8h0m-4 10h0m-1 1h0m-5 1h0m0-1h0m-1-8h0m-5 4h0m-3-3h0m-1 1h0m-3-1h0m0 6h0m-2-8h0m-1 3h0m0 1h0m0 6h0m-1-4h0m0-9h0m0 0h0m-1-2h0m-3 15h0m0-2h0m-3-11h0m0 6h0m-2-8h0m-2 11h0m-1 1h0m-2-2h0m0 15h0m1-7h0m4 10h0m3-10h0m1 0h0m1 7h0m0-1h0m8-8h0m3 6h0m0 3h0m0 0h0m2-9h0m1 3h0m1 6h0m0-5h0m0-2h0m0 9h0m3-10h0m0 6h0m2 6h0m0-5h0m4 2h0m2-10h0m2 5h0m1 10h0m4-9h0m1 6h0m4 1h0m0-8h0m2 4h0m5-2h0m3 1h0m0-3h0m1 4h0m2 3h0m0-2h0m1 1h0m1-1h0m0 4h0m1-6h0m1 5h0m0-4h0m0 1h0m3 4h0m4-8h0m0 3h0m3-7h0m4 11h0m2 8h0m-1 1h0m0 4h0m-4 1h0m-2-7h0m-2 9h0m-1-11h0m-3-2h0m0 2h0m-1-2h0m0 5h0m0-5h0m-1 1h0m-1-1h0m-2 15h0m-2-6h0m0-9h0m0 11h0m-3 0h0m-1-2h0m-1 5h0m-1-6h0m0-2h0m0 7h0m-1-4h0m-2-7h0m-1 3h0m0 7h0m-1 0h0m-1 2h0m0-7h0m-1 6h0m0 2h0m0-6h0m-2-6h0m-1-1h0m0 12h0m-1-10h0m0 10h0m-2-3h0m0-7h0m0 10h0m-1-2h0m0-2h0m-2-4h0m-1 4h0m-1-7h0m-6 0h0m0 2h0m0-5h0m-1 5h0m-1 5h0m-3-4h0m0 0h0m-3 4h0m0-1h0m-1-5h0m-3 7h0m-3-7h0m-13 10h0m4 13h0m4 2h0m13-7h0m1-4h0m0 0h0m2 0h0m10 3h0m2 0h0m2-2h0m1 3h0m0-2h0m1 6h0m1-10h0m1 1h0m1 1h0m0 13h0m4-12h0m2 0h0m0 4h0m1 2h0m0 0h0m2-6h0m3-1h0m3 0h0m5 6h0m1 1h0m1 1h0m0-1h0m2-4h0m1 9h0m1-2h0m0-9h0m0 0h0m-19 17h0m-6 0h0m-16-3h0m-18 10h0m-1 3h0m-1-11h0m-2 2h0m0 6h0m0-5h0m0 7h0m-2-6h0m-1 5h0m0 0h0m-1-4h0m0-2h0m0-3h0m-1 8h0m-1 3h0m-1-4h0m-2 4h0m-1-3h0m0 10h0m4-1h0m2-1h0m0 6h0m1-8h0m1 6h0m0 7h0m4-4h0m0-10h0m4 17h0m-3 2h0" stroke="#8b5548" vector-effect="non-scaling-stroke"/>
<path d="M248 363h0m26-2h0m1 4h0m68 6h0m-4 5h0m-1-4h0m-2 8h0m-8 2h0m-30-5h0m-14-4h0m-6 1h0m-4 3h0m-6 1h0m-7-2h0m-23 7h0m-3 12h0m10-5h0m1 3h0m7 1h0m8-6h0m1 9h0m5 1h0m1-7h0m5 1h0m6 3h0m5 4h0m1-1h0m1-10h0m3 10h0m4-9h0m0 10h0m1-1h0m2-3h0m18-1h0m46-10h0m5 30h0m-46 0h0m-13-9h0m-4-3h0m0 13h0m-1-11h0m-14 3h0m-4 3h0m-1 2h0m-13-7h0m-4-1h0m-5 2h0m-4-3h0m-4 9h0m-8 0h0m-1-12h0m-11 13h0m19 14h0m5-8h0m2-2h0m0 5h0m3 1h0m3 3h0m1-9h0m4 5h0m5-3h0m6 9h0m22-1h0m1-6h0m0 1h0m2 0h0m1 1h0m3 3h0m8-1h0m1-8h0m12 1h0m12 1h0m3 2h0m3 8h0m12-1h0m10 2h0m4-12h0m-3 25h0m-3 3h0m-3 1h0m-1-8h0m-1 6h0m-3-2h0m-19 2h0m-1-1h0m-9-4h0m-1 6h0m-1-7h0m-1 4h0m-1-8h0m-2-2h0m-2-1h0m-2 12h0m-2-8h0m-1 5h0m-2-6h0m-5 4h0m0 2h0m-1-7h0m-7 9h0m0 0h0m-12 2h0m-3-7h0m-4 0h0m-7-2h0m-1 4h0m-9 1h0m-8-8h0m-6 11h0m-3 0h0m-1-7h0m-7-2h0m22 28h0m4-14h0m32-1h0m6 14h0m1-8h0m1-4h0m0 0h0m0 8h0m1-4h0m1-6h0m3 0h0m0 3h0m2 5h0m4 6h0m1 1h0m0-6h0m2-5h0m1 1h0m2-1h0m1 10h0m5-14h0m6 9h0m8-2h0m3 0h0m2 1h0m3 0h0m1-2h0m1 2h0m3-8h0m1 8h0m1-8h0m0 9h0m1 1h0m0-2h0m0 0h0m1 0h0m1-8h0m2 7h0m1 5h0m4-3h0m0 0h0m7 1h0m6 8h0m-2 13h0m-1-8h0m-4-6h0m-1 1h0m0 2h0m-1 6h0m0-7h0m-1 11h0m-3-11h0m-1 12h0m0-9h0m-1-2h0m-2 2h0m-1 0h0m-1 8h0m-2-1h0m-3-9h0m0 4h0m-1 5h0m-4-6h0m0 3h0m-9-4h0m-1 3h0m0-5h0m-9 9h0m-10-11h0m-2 11h0m0-7h0m-1-6h0m-2 3h0m-3 4h0m0 0h0m-11-5h0m-1-2h0m-5 7h0m42 13h0m7 2h0m2 6h0m1-4h0m2-2h0m2 7h0m0-3h0m0-3h0m1-6h0m3-1h0m1 2h0m1 11h0m0 2h0m0-10h0m1 10h0m0-8h0m1-3h0m2 5h0m1-6h0m0 5h0m1-5h0m1 10h0m3 2h0m0-15h0m1 1h0m3 14h0m1 0h0m0-1h0m3-6h0m3-5h0m-4 14h0m-1 14h0m-2-5h0m0-8h0m-5 11h0m0-11h0m-5 6h0m-2-3h0m-5-1h0m0-1h0m-1 12h0m-1-8h0m-1-5h0m0 13h0m-1-12h0m-5-1h0m-5 1h0m-7 12h0m-67 13h0m2-4h0m3-5h0m0 10h0m0-5h0m6 4h0m5-1h0m2 4h0m4-10h0m4 7h0m8 2h0m16-5h0m9-5h0m4 10h0m2-6h0m3 3h0m1 4h0m2-8h0m2 5h0m1-9h0m1 7h0m2-10h0m1 5h0m5 8h0m0-9h0m2-4h0m2 1h0m5 14h0m1-13h0m3 0h0m4 1h0m1 12h0m0-7h0m0-8h0m1 0h0m2 14h0m1-3h0m83 4h0m6-1h0m15 11h0m-4-7h0m0 10h0m0-1h0m-2 4h0m-3-10h0m0 2h0m-2 0h0m-1-6h0m-1 11h0m-1 1h0m0-9h0m-3-2h0m-1 11h0m0 1h0m-1 0h0m0-9h0m0 7h0m-2-4h0m-1-2h0m0 0h0m-1-4h0m-2 11h0m-2-1h0m-1-6h0m-1 7h0m0-1h0m-1 1h0m-1 1h0m-8-9h0m-1 7h0m-3-10h0m-1 13h0m-41 0h0m-2-6h0m-2 4h0m-1-1h0m-5-10h0m-3 5h0m-1 1h0m-2 7h0m-4-7h0m-1 1h0m0-4h0m-1-1h0m-1 2h0m-2 7h0m0-7h0m-1 1h0m-1 1h0m0 4h0m-1-3h0m-1 0h0m-4-6h0m-2 1h0m-1 0h0m-1-2h0m-1 3h0m-3 7h0m0 2h0m-1-7h0m0 6h0m-1-7h0m-1 0h0m-2 8h0m0-6h0m0 0h0m-1 2h0m-1-8h0m-1 3h0m0 9h0m-1-6h0m-1 7h0m-1-1h0m-1 0h0m-1-1h0m0-4h0m-1 5h0m-1-7h0m-3-7h0m-2 10h0m-1 5h0m-4-12h0m-1-3h0m-7 12h0m-3 3h0m-3-8h0m-1 4h0m-2-1h0m-2-4h0m-2-6h0m0 8h0m-4-7h0m-1 3h0m-2-1h0m-2-2h0m-2 9h0m-1-2h0m-3 0h0m-1 3h0m-1-3h0m-1 1h0m-1-5h0m0 10h0m-1-2h0m-4-12h0m-1 15h0m-1-9h0m-2-2h0m-5-3h0m0 6h0m-2 3h0m0 5h0m-1-15h0m0 13h0m-2-10h0m-5 12h0m-1-6h0m-3-6h0m-4 1h0m6 20h0m1 3h0m8-8h0m1 1h0m1 3h0m1-5h0m3-1h0m0 14h0m2-5h0m2-7h0m1 8h0m0-5h0m1 5h0m0-8h0m0 2h0m1 1h0m3-4h0m1 8h0m1 3h0m1-13h0m0 3h0m0-1h0m13 8h0m1-7h0m2 9h0m2-10h0m4 6h0m1 1h0m1 1h0m0 1h0m1-11h0m0 4h0m1 11h0m4-8h0m0 6h0m0 2h0m1-3h0m2 2h0m2-1h0m1-9h0m1 10h0m1-5h0m2-5h0m0 4h0m1-2h0m0-6h0m0 4h0m0-2h0m5 0h0m4 8h0m0 1h0m1-11h0m2 1h0m1 12h0m2-8h0m1-1h0m0 2h0m0 9h0m1-10h0m0 9h0m1-1h0m1-13h0m1 2h0m0 8h0m1-2h0m4 6h0m1-3h0m0 3h0m0-5h0m1-7h0m1-2h0m2 15h0m1-4h0m2-5h0m1 1h0m1-2h0m3 2h0m3 1h0m1-1h0m5 3h0m2-5h0m0 4h0m0-6h0m2-3h0m5 4h0m0 3h0m3 2h0m0-8h0m2 7h0m5-4h0m47-3h0m0 8h0m1-8h0m1 4h0m3 0h0m3 8h0m8-13h0m1 5h0m1-5h0m4 12h0m1-10h0m4 3h0m3-1h0m-78 19h0m-8-7h0m-5 15h0m0-7h0m-4-7h0m-4 8h0m-1-2h0m-1-7h0m0 1h0m-1 4h0m-2 6h0m-2 3h0m-2-3h0m0-2h0m-1 0h0m-2-8h0m0 5h0m0 5h0m-1-3h0m0 0h0m-1-6h0m0 12h0m-2-14h0m-2 1h0m0 4h0m-2 9h0m-1-2h0m-1-6h0m0 7h0m-1-7h0m-3-6h0m0 8h0m-1-2h0m0 8h0m0-13h0m-1 8h0m0 6h0m-1-6h0m0 0h0m-2-4h0m0 10h0m-1-3h0m-1-10h0m-3-1h0m-4 6h0m0 0h0m-6 2h0m-3-6h0m-1-1h0m-1 8h0m-3 3h0m-1 2h0m-1-12h0m-3 6h0m-5-2h0m-3 4h0m-9-10h0m-4 1h0m-4 5h0m-3-1h0m-7 3h0m-8-7h0m-1 1h0m0-3h0m33 19h0m9 2h0m2 6h0m3-10h0m6 7h0m2 2h0m0-4h0m3-2h0m2 9h0m1-4h0m1-3h0m1-6h0m0 11h0m1-5h0m3 3h0m2 2h0m0-10h0m1 3h0m0 3h0m0 2h0m0 3h0m2-3h0m1-7h0m0 5h0m0-6h0m2 13h0m0-8h0m0 3h0m0-6h0m1 8h0m2-8h0m1-1h0m0-2h0m1 13h0m0-6h0m0-4h0m6 10h0m2-9h0m2 7h0m2-3h0m1-3h0m5 0h0m9 10h0m4-13h0m3 3h0m2-3h0m2 7h0m1-7h0m-4 19h0m-2-3h0m-16 3h0m0-4h0m-5 13h0m-3-5h0m-3 2h0m-1-6h0m-3 9h0m-1-9h0m0 8h0m-2-3h0m-1-4h0m-2 9h0m-6 0h0m-2-12h0m0 2h0m-6 5h0m-2-9h0m0 4h0m-1 0h0m-18-3h0m13 18h0m5 1h0m2 4h0m6 0h0m5 6h0m1-8h0m2-7h0m5 8h0m4-4h0m1 3h0m6 0h0m1-6h0m1 6h0m12-1h0" stroke="#7558a0" vector-effect="non-scaling-stroke"/>
<path d="M573 124h0m-23 2h0m-21 4h0m12 2h0m8 1h0m12 0h0m6 8h0m7-9h0m3 6h0m2-7h0m9 10h0m0-2h0m2-9h0m1 13h0m8 0h0m3-1h0m8-7h0m12 5h0m26 18h0m-11-2h0m-1 2h0m-2-7h0m-4 8h0m-6-4h0m-6-10h0m0 12h0m-2-12h0m-1 9h0m-1 0h0m-5-3h0m0-4h0m-18-3h0m-1 11h0m-2 0h0m-1-3h0m0 7h0m-6-3h0m-1 1h0m-1-6h0m-7 4h0m-1 0h0m-1-8h0m0 11h0m-2 1h0m0-15h0m-2 0h0m0 7h0m-6 6h0m-1-5h0m-8-6h0m-5-2h0m-3 2h0m-4 6h0m-4 7h0m-9-11h0m0 9h0m-4-4h0m-1-6h0m-9 3h0m-1 3h0m-3 4h0m-5-3h0m-1 2h0m-8-4h0m-3-3h0m-4 3h0m10 20h0m14 3h0m0-13h0m4-2h0m6 5h0m3 0h0m2 5h0m0 3h0m2-5h0m1-7h0m1 10h0m1-10h0m3 2h0m1 9h0m6-1h0m1 3h0m3-9h0m0 9h0m0-14h0m0 13h0m1 2h0m1-2h0m5-6h0m2 6h0m2-10h0m0 6h0m1-1h0m1 1h0m1-8h0m2 14h0m4-11h0m3 0h0m1 11h0m1 0h0m0-4h0m0-7h0m6 9h0m2-1h0m5-7h0m0-3h0m1 13h0m1-14h0m3 0h0m1 7h0m2 3h0m1-8h0m4 7h0m1-2h0m1 0h0m1-3h0m1-5h0m1 6h0m1 7h0m2 2h0m2-2h0m1-6h0m1-4h0m2 6h0m6 5h0m8-6h0m1-5h0m5 3h0m3-5h0m7-1h0m28 27h0m-7 4h0m-9-1h0m-2 0h0m-1-6h0m0 6h0m-5-1h0m-3-2h0m-10-5h0m-8-4h0m-4 9h0m-3-5h0m-1 8h0m0-10h0m-1 5h0m-4 4h0m-1-8h0m-2 8h0m0-8h0m-2 3h0m-6 7h0m-7-13h0m-3-2h0m-1 12h0m-1-11h0m-6-1h0m-1 9h0m0-2h0m0-1h0m-5 4h0m-1 0h0m-2-6h0m0 4h0m0 6h0m-1 0h0m-1-8h0m0 5h0m0-2h0m-4-1h0m-1 5h0m0-3h0m-2 5h0m0-15h0m-1 4h0m-1 5h0m0-7h0m0 3h0m-1 3h0m0 5h0m-2-12h0m-2 9h0m-2-10h0m-6 0h0m-7 1h0m-3 11h0m0-12h0m-6 4h0m-1 10h0m-2-12h0m-1 5h0m0-4h0m-1 12h0m-2-7h0m-4 1h0m-1 3h0m0-5h0m-1 4h0m-1-5h0m-1-1h0m-1 7h0m-1-7h0m0 6h0m0 4h0m-1-4h0m-4-10h0m-1 11h0m-1 2h0m0-7h0m0-4h0m-3 12h0m-1-2h0m-5-5h0m-1 5h0m-7-12h0m-1 0h0m-4 12h0m-7-1h0m-6-12h0m0 2h0m-1 8h0m-1-3h0m3 22h0m5-10h0m17 12h0m5-7h0m2 3h0m1-10h0m3 0h0m2 8h0m1 6h0m2-5h0m2-4h0m1 9h0m3-8h0m0 3h0m1-3h0m0 3h0m0 1h0m1-1h0m0-2h0m0-3h0m1 7h0m2-9h0m4 10h0m0-11h0m1 3h0m4-5h0m0 13h0m1-11h0m1 5h0m0 8h0m2-6h0m2-7h0m2 12h0m0-13h0m5 11h0m0-10h0m0-2h0m1 1h0m1 9h0m0-3h0m1 4h0m0-1h0m1-9h0m1 2h0m0 0h0m2-1h0m1 0h0m1-1h0m0 7h0m2 3h0m2-7h0m0 1h0m1 2h0m1 6h0m0-1h0m0-2h0m2 0h0m3 2h0m1 0h0m1-2h0m1-9h0m1 0h0m1 3h0m1 5h0m2-3h0m2 8h0m0-13h0m4 2h0m0 12h0m0-6h0m0-2h0m0 6h0m0 1h0m1-13h0m0 13h0m0-8h0m4 6h0m4-1h0m2-9h0m1 4h0m1-1h0m2 3h0m1 1h0m2-1h0m0-7h0m7 14h0m2-9h0m1 8h0m9-11h0m1 11h0m0-10h0m2 4h0m1 5h0m0-1h0m1 2h0m2 0h0m1-7h0m0-7h0m0 5h0m4-3h0m1 12h0m3-6h0m1-1h0m2-6h0m3 2h0m1 6h0m7-3h0m3 7h0m2 2h0m0 0h0m0-14h0m2 8h0m2-9h0m0 9h0m0-7h0m0 1h0m2 4h0m1-1h0m3 2h0m1-8h0m0 14h0m1-9h0m1 8h0m0-8h0m4 5h0m1 2h0m0-5h0m8-4h0m1-3h0m14 5h0m-4 20h0m-6-4h0m-2-4h0m-1 13h0m-6-5h0m-2 1h0m-2-8h0m-1 8h0m-11-5h0m0 7h0m-4-3h0m-1-5h0m-1 6h0m-1 4h0m-1-4h0m-3-1h0m-1-3h0m-4 6h0m-1-2h0m-2-10h0m-3 7h0m-1-2h0m0 9h0m-1-6h0m0-7h0m-1 10h0m-1 2h0m-1 1h0m-9-12h0m-8 4h0m0 4h0m-6-6h0m-5 1h0m-1 9h0m-1-14h0m-1 0h0m-1 8h0m-1-1h0m-2-4h0m0-3h0m-9 7h0m-1-7h0m-1 6h0m-1 3h0m0-1h0m-2-5h0m-3 1h0m-1-4h0m-4 6h0m-3 0h0m-1-5h0m-1 8h0m0-2h0m-2-3h0m-2 0h0m0 3h0m0-1h0m-3-3h0m-2 2h0m0-5h0m-2 13h0m0-10h0m-8 12h0m-4-15h0m-2 13h0m0-13h0m-1 4h0m-3-4h0m-5 12h0m-3-8h0m-2 5h0m-2-9h0m-9 4h0m-7-1h0m-1 1h0m-4 11h0m-2-8h0m-21-7h0m-6 5h0m26 21h0m6 4h0m7-11h0m2 9h0m4-7h0m2-4h0m7 4h0m3 6h0m0-3h0m4-4h0m6-1h0m6 5h0m1-1h0m1-5h0m6 3h0m0 10h0m2-11h0m3 9h0m0-2h0m3-9h0m1 0h0m1 6h0m5 6h0m0-1h0m2-1h0m3 2h0m1-2h0m1-7h0m5 9h0m5-14h0m0 0h0m1 7h0m3-1h0m1-5h0m1 7h0m1-6h0m0 1h0m3 3h0m5 6h0m4-4h0m5-3h0m17 3h0m9 1h0m3-6h0m4 6h0m11-8h0m3 3h0m2-4h0m-40 16h0m-2 4h0m-5-4h0m-9 9h0m-11 0h0m-2-3h0m-1-2h0m-1 5h0m-7 2h0m-4 3h0m-7-3h0m-2-6h0m-3 5h0m-4 2h0m-1 2h0m-9-3h0m-1 0h0m-3-11h0m-7 13h0m-13-5h0m-10-7h0m-2 9h0m-8-5h0m-2 0h0m0-5h0m45 19h0" stroke="#ef7f31" vector-effect="non-scaling-stroke"/>
<path d="M252 409h0m-1 3h0m-2 2h0m-3-11h0m0 9h0m-5 2h0m-2 1h0m0-7h0m-6 0h0m-5 3h0m-43 18h0m5-4h0m4-4h0m12-1h0m8 5h0m18 2h0m2-10h0m4 14h0m3 0h0m1-15h0m1 8h0m1-1h0m1 4h0m1 4h0m0-12h0m1 4h0m1 0h0m2-2h0m2-5h0m1 9h0m6 6h0m1-7h0m0 1h0m2 3h0m2 3h0m0 4h0m-6 12h0m-3-15h0m-3 1h0m-1 2h0m-1 3h0m-3-6h0m-9 7h0m-2-2h0m-5-4h0m-18 9h0m-14 5h0m-1-10h0m0 3h0m-4 3h0m-13 3h0m35 12h0m29-7h0m10-1h0m-11 23h0m-12-2h0m-11 0h0m-1 3h0m-7-8h0m0 3h0m-31 25h0m7-5h0m1 1h0m2-1h0m2 0h0m5 3h0m2 1h0m39 16h0m-6 2h0m-1 0h0m0-1h0m-4-4h0m0-7h0m-1 1h0m0 2h0m-5 6h0m0-5h0m-2 0h0m-3 7h0m0-2h0m-1-4h0m-1 0h0m-3-4h0m-4 8h0m0 2h0m0-4h0m-1-2h0m-3 1h0m-1 3h0m-1 3h0m0-10h0m-1-3h0m-1 9h0m-3-6h0m0-4h0m-4 5h0m-1 3h0m-2 0h0m-2 0h0m-2-6h0m-3 12h0m-1 0h0m-1-3h0m-2-5h0m0 2h0m-2 0h0m0 0h0m-1 5h0m-1-3h0m0 2h0m-14 5h0m0 0h0m1 0h0m1 4h0m1-1h0m1-1h0m1-2h0m2 8h0m1-1h0m1 2h0m1 2h0m2-8h0m4 3h0m0-1h0m0 3h0m1-9h0m0 11h0m1-4h0m5 6h0m0-5h0m2-7h0m1 13h0m1-14h0m2 10h0m1-10h0m1 5h0m1 9h0m0-8h0m0 1h0m2-6h0m0-2h0m0 14h0m1-3h0m2-2h0m0-3h0m0 8h0m1-14h0m0 6h0m0 9h0m1-11h0m0 10h0m1-1h0m0-13h0m1 8h0m4-4h0m1-2h0m1 3h0m1 7h0m1-2h0m1-3h0m2 4h0m0-6h0m0 7h0m2 3h0m0-4h0m1-4h0m0 3h0m0 5h0m1-13h0m2 2h0m0 4h0m1 0h0m2-2h0m1 7h0m1 2h0m1 0h0m4 0h0m1-10h0m3 1h0m1-1h0m1 6h0m6-8h0m-7 15h0m-5 11h0m-5-7h0m-2 7h0m-5-11h0m-1 1h0m-3 5h0m-1-3h0m-4-1h0m-3-2h0m-1-2h0m-2 0h0m0 6h0m-2 6h0m0-7h0m0 3h0m0-8h0m-1 4h0m0 5h0m-1 3h0m-3 2h0m-2-13h0m-3 3h0m0 6h0m-1-6h0m-3 10h0m0-3h0m0-9h0m-3 4h0m-1 1h0m-1-6h0m-1 0h0m-1 5h0m0-5h0m-7 8h0m-1-8h0m-1-1h0m-9 9h0m17 21h0m7 0h0m6-8h0m3 4h0m0-6h0m0 8h0m2-1h0m1-6h0m1 0h0m1 9h0m1 14h0m-2-2h0m-8-5h0m0 5h0m-2 1h0m-1 1h0m-4-5h0m0-6h0m0 7h0m-2-5h0m-6 26h0m8-13h0m4 2h0m3-2h0m0 9h0m0-2h0m4 7h0m1-3h0m1-9h0m2 12h0m1-12h0m5 2h0m6 8h0m56-3h0m2 5h0m5 0h0m4-8h0m5-3h0m12 6h0m7 18h0m-6 0h0m-2-4h0m-10 7h0m-1-6h0m0-4h0m-4 11h0m-1 0h0m-1-3h0m-2 0h0m-5-2h0m-5-2h0m-1 6h0m-2 0h0m-4-9h0m-3 0h0m-2-4h0m-2 11h0m-9 3h0m-2-4h0m-39-7h0m-1-3h0m-8 10h0m-1-10h0m-1 12h0m-2-7h0m-7-1h0m48 20h0m10-5h0m2 6h0m4-10h0m1 10h0m5 3h0m0-3h0m5 1h0m1 2h0m1-9h0m0 5h0m2 3h0m1-7h0m2 10h0m1-11h0m0 7h0m0-8h0m1-3h0m1 9h0m8-3h0m3 8h0m4-9h0m2 2h0m1 6h0m7-10h0m6 1h0m5 3h0m3-1h0m-7 22h0m-20 3h0m-1-7h0m-1-1h0m0-3h0m-1-3h0m0 8h0m0 3h0m-1-7h0m-2 7h0m-2-6h0m-1 4h0m-4-7h0m0 2h0m-1 9h0m0-2h0m0-12h0m-3 3h0m-2 6h0m-2 5h0m-2-14h0m0 3h0m-2 10h0m0 0h0m-2-7h0m0 9h0m0-7h0m0 6h0m-1-12h0m0-1h0m0 1h0m-1 6h0m0 0h0m-5-4h0m-4 0h0m-1 3h0m0 8h0m0-7h0m-1 7h0m-1-15h0m-1 8h0m0-5h0m-2 2h0m-6 5h0m-5-2h0m-32 6h0m-7 10h0m2-3h0m2 10h0m3-4h0m2-9h0m7 1h0m4 11h0m7-3h0m7-8h0m1 9h0m2-10h0m5 2h0m4 3h0m0 6h0m0-10h0m0 3h0m1-6h0m1 3h0m2 1h0m0 4h0m1 6h0m0-12h0m2 5h0m0 8h0m1-6h0m3 3h0m1 2h0m0-8h0m2 2h0m1-2h0m0 3h0m0-8h0m1 5h0m0 3h0m2-3h0m0 5h0m1-10h0m0 9h0m1-10h0m2 10h0m0 4h0m2-3h0m0-2h0m1 6h0m3-1h0m2-1h0m0-10h0m0 6h0m2-3h0m2 2h0m1 4h0m1-12h0m0 2h0m1 11h0m1-7h0m5-2h0m0 9h0m0 1h0m0-8h0m1-1h0m0 3h0m7-5h0m2 1h0m0 1h0m0-2h0m1 10h0m1-6h0m1-4h0m3 4h0m2-7h0m3 9h0m-19 15h0m-7 5h0m0-7h0m-1 0h0m-1 0h0m-3-2h0m-1-3h0m0-1h0m-4 13h0m-2-10h0m0 10h0m0-4h0m-5-2h0m-3 4h0m-4 3h0m-5-9h0m-8 4h0m-22-3h0m-2 0h0m-2 5h0m-1-7h0m0-2h0m0 10h0m-6-12h0m-1 8h0m0-6h0m-2 13h0m-1-4h0m0-10h0m-1 14h0m-3-10h0m-4 5h0m-3-2h0m0 9h0m1 3h0m1 1h0m4 7h0m4-7h0m0-5h0m4 5h0m1 9h0m2-10h0m1 7h0m1-6h0m0 8h0m8-1h0m3-6h0m15-6h0m29 1h0m4-1h0m4 1h0m3 0h0m-57 24h0m-4-6h0m0 12h0m-9 0h0m-19-5h0m10 10h0m2-3h0m11-1h0m5 3h0" stroke="#1f6fb4" vector-effect="non-scaling-stroke"/>
<path d="M714 284h0m0 3h0m-2-3h0m-2 1h0m-4 1h0m-4-6h0m-16 2h0m-8 18h0m3-3h0m1-3h0m0 1h0m3 8h0m2-1h0m5 1h0m1-13h0m1 8h0m0-10h0m7 7h0m4-4h0m1 6h0m4 2h0m0-11h0m1 0h0m4 14h0m2-3h0m0 13h0m-3-7h0m-7 8h0m-1-8h0m-2 11h0m-1 2h0m0 1h0m-1-14h0m0 2h0m-5 5h0m-1 2h0m-1 1h0m0 3h0m-1-6h0m0 1h0m-5 3h0m-1-9h0m-1 10h0m0 2h0m0-4h0m-3 0h0m0 4h0m0-2h0m-2-11h0m0 8h0m-1 5h0m-2-3h0m-1 0h0m-3-1h0m-6-11h0m-2 13h0m-4 1h0m4 13h0m1-8h0m1-1h0m0 1h0m3 0h0m2-3h0m6 15h0m1-1h0m0-13h0m1 2h0m3-2h0m1 1h0m2 2h0m0 7h0m0 1h0m2 3h0m1-12h0m0-2h0m1 10h0m0-2h0m0-6h0m1 6h0m0-3h0m1-6h0m1 6h0m0-4h0m2 8h0m0 1h0m1 2h0m1-8h0m5 7h0m0-5h0m1 7h0m1-11h0m0 1h0m0 9h0m0-2h0m4-9h0m7 2h0m2-1h0m1 11h0m2 0h0m0-1h0m1-10h0m1 10h0m2-11h0m0-2h0m2 14h0m-1 8h0m-11 0h0m-2-4h0m-4 2h0m-4-2h0m0 13h0m-1-5h0m0-9h0m-2 13h0m0-7h0m0 2h0m-1 4h0m-1-5h0m0 5h0m-2-10h0m0-2h0m0 7h0m0-4h0m-1-1h0m-3 6h0m-2-8h0m0 11h0m-2-11h0m-1 9h0m-1-5h0m-1-3h0m0 3h0m-3 5h0m0-9h0m-9 6h0m-2 7h0m-1-4h0m-1-9h0m-33 13h0m-3-4h0m-14 20h0m8-6h0m2-1h0m2 5h0m5-4h0m5 2h0m9 5h0m5-13h0m3 0h0m1 6h0m3 2h0m3 0h0m12-8h0m1 0h0m3 8h0m2-5h0m7 2h0m1-4h0m1-1h0m4-2h0m2 6h0m0 7h0m2-9h0m3 2h0m1-6h0m10 4h0m2 4h0m2-8h0m-20 18h0m-3-2h0m-2 3h0m-1-2h0m0 2h0m-4 0h0m-22 9h0m0 3h0m-1-13h0m-1 9h0m-1 0h0m-1-7h0m-1 4h0m0-5h0m-1-3h0m0 13h0m-1-3h0m0 3h0m0-12h0m-4 8h0m0 3h0m-1-3h0m-2 3h0m-3-6h0m0 5h0m-1-7h0m-1 7h0m-1-2h0m-2 6h0m-1-7h0m-1 7h0m-2-1h0m0 1h0m-2-2h0m-1-13h0m0 7h0m0 4h0m-1-1h0m-9 4h0m-3-5h0m-5 1h0m-1-8h0m-4 17h0m1 0h0m3 9h0m1-12h0m0 9h0m2 6h0m0-3h0m1-8h0m1-2h0m1 9h0m3-11h0m1 7h0m2-2h0m2 4h0m0-3h0m0-6h0m1 1h0m0 11h0m1-11h0m2 5h0m1 5h0m1-11h0m1 2h0m0 10h0m1-11h0m0 11h0m0 2h0m3-8h0m0 7h0m2 2h0m0-15h0m1 3h0m2-2h0m1 1h0m2 5h0m1 3h0m1 5h0m1-13h0m2 7h0m1-3h0m0 4h0m1-10h0m0 13h0m1-12h0m1 8h0m3-8h0m8 5h0m3 4h0m4 8h0m-9 13h0m-2-13h0m-1 9h0m-1-8h0m-3 9h0m-4-6h0m-1 2h0m0 3h0m-2-10h0m-2 13h0m-1-12h0m0 0h0m-3 2h0m0 8h0m-2-9h0m-1 11h0m0-4h0m-2 0h0m-3-4h0m-1-5h0m-1 4h0m-1 7h0m-1-6h0m-1 1h0m-1 4h0m0-2h0m-2 0h0m0-1h0m0-8h0m-1 0h0m-1 15h0m0-12h0m-1 9h0m-6-2h0m0 1h0m-1-9h0m-2-1h0m-1-1h0m-2 13h0m0-11h0m-2 4h0m0 2h0m-1 3h0m-56 14h0m3 5h0m7 1h0m2-5h0m1-1h0m1 4h0m1 0h0m2 2h0m3-10h0m2 5h0m32 2h0m5 3h0m6 0h0m0-9h0m3 5h0m1-2h0m0-8h0m1 4h0m2-4h0m2 8h0m0 3h0m1-9h0m1 3h0m0-4h0m1 4h0m2-5h0m0 11h0m1-3h0m0-4h0m1 4h0m1 4h0m1-1h0m1 0h0m0 3h0m1-11h0m1-3h0m0 8h0m1-2h0m0 0h0m0-6h0m1 10h0m0-8h0m4-2h0m3 8h0m0 3h0m1-7h0m2-4h0m7 13h0m5-7h0m3-6h0m1 3h0m0-2h0m-5 21h0m-8-2h0m-1 10h0m-4-15h0m-2 12h0m-2-12h0m-1 14h0m-3-6h0m-5 1h0m-11-2h0m-1 2h0m-3 3h0m-1-3h0m0 4h0m-1-1h0m-2-6h0m0 9h0m-7-5h0m0-5h0m-27 8h0m0-10h0m-7 8h0m-1-11h0m-1 4h0m-2 0h0m-1 6h0m0-3h0m0 6h0m-1-6h0m0 7h0m-2-5h0m-4 1h0m-3-7h0m-1 10h0m-1-7h0m-1-3h0m-2 7h0m-4 3h0m-1-13h0m-2 6h0m12 10h0m41 13h0m2-10h0m4 3h0m2 9h0m4 0h0m0-3h0m0-11h0m3 10h0m0-2h0m6 0h0m3 0h0m3-2h0m0-7h0m0 8h0m1 6h0m4 0h0m2-14h0m0 4h0m1-3h0m1 3h0m2 2h0m-1 10h0m-3 11h0m-1-1h0m0-3h0m-2 4h0m-2-10h0m-2 12h0m-1-7h0m-2-4h0m-1 12h0m-1 0h0m-1-8h0m-1-1h0m-1 5h0m-3-5h0m-4 1h0m0 0h0m-1 7h0m-7-2h0m0 0h0m1 5h0m2 7h0m3 0h0m0-4h0m0-2h0m3 5h0m2-3h0m1 3h0m1-3h0m1 0h0m0 2h0m1-4h0m3 6h0m1-5h0m3 12h0m0-7h0m2-4h0m0 4h0m8-4h0m-7 16h0" stroke="#db2030" vector-effect="non-scaling-stroke"/>
<path d="M549 526h0m46 15h0m-20 1h0m-4-12h0m-7 12h0m0 1h0m-5-5h0m-8-10h0m-3 4h0m-2 7h0m-7-3h0m-3 2h0m0-1h0m-2 2h0m-1-5h0m0 8h0m-1 1h0m-8-7h0m-3 0h0m-3-1h0m-12 4h0m0 1h0m-8 2h0m-1-6h0m-9 22h0m5-2h0m3-8h0m1 2h0m3-2h0m1 0h0m2 9h0m0-9h0m1-4h0m4 4h0m2 3h0m5 4h0m2-5h0m3 8h0m2-11h0m1 3h0m1 0h0m0 7h0m7-9h0m0-3h0m1 10h0m1-2h0m2-2h0m1-6h0m0 8h0m2-2h0m1 0h0m0 4h0m0-1h0m3 5h0m1-6h0m6-8h0m0 2h0m4 6h0m0-2h0m0-5h0m1 3h0m1-5h0m1 13h0m3-5h0m1 0h0m1 6h0m0-8h0m5 6h0m1 2h0m1-4h0m3-2h0m6-1h0m3-5h0m2-2h0m6 5h0m5 1h0m1-2h0m0 9h0m5-8h0m4 15h0m-2-2h0m-1 6h0m-2-5h0m0 6h0m-1-9h0m-2 2h0m-2-2h0m-3 3h0m-4 1h0m0-1h0m-1 10h0m-3-5h0m0-2h0m-1-4h0m-1 4h0m0 9h0m-3-5h0m-1 3h0m-5-5h0m-2 7h0m-1-2h0m0-13h0m-1 15h0m-2-14h0m-1 9h0m-1-3h0m-1 3h0m-1-6h0m0-1h0m-2 6h0m-1 5h0m0 1h0m0-7h0m-1-6h0m-1 9h0m0-9h0m-1-2h0m0 1h0m-1 12h0m-1-7h0m-1 2h0m-1-3h0m0 9h0m-2 0h0m0-7h0m0-4h0m-1-2h0m-2 12h0m0-10h0m-1 3h0m-2 1h0m-1 3h0m-1 3h0m-3-9h0m-1 0h0m0-1h0m-3 12h0m-2-8h0m0-2h0m0-4h0m0 5h0m-1-6h0m0 7h0m-2 2h0m0-1h0m-1 5h0m-1 1h0m-3-8h0m-1 8h0m-2-11h0m-1 4h0m-2 4h0m-2-1h0m0-2h0m-1-7h0m-3 6h0m-1 3h0m0 1h0m-2-2h0m0-8h0m-2 13h0m-2-13h0m-2 13h0m0-8h0m-1 4h0m-4 1h0m-1-4h0m-11 2h0m0-8h0m-10 14h0m7 14h0m2-2h0m1-4h0m1-6h0m0 3h0m2 2h0m4 1h0m1 2h0m2 6h0m3-10h0m1-2h0m1 10h0m2-13h0m2 6h0m1 9h0m0-1h0m1-5h0m1 2h0m5 2h0m0-3h0m3 5h0m0-8h0m1-4h0m1 2h0m2 9h0m0 1h0m3-3h0m3-6h0m1-5h0m0 3h0m1 2h0m0 2h0m1 2h0m3-10h0m1 13h0m1-13h0m3 14h0m0-9h0m1 8h0m1 2h0m0-7h0m0 2h0m3-10h0m2 13h0m1-1h0m0-9h0m1-1h0m1 2h0m1 4h0m3-2h0m0-6h0m3 1h0m2 4h0m0 0h0m0 8h0m3-10h0m4-2h0m1 10h0m1-6h0m1 6h0m0-1h0m3-9h0m1 14h0m1-14h0m1 0h0m3 4h0m1-3h0m1-1h0m0 1h0m4 12h0m0-12h0m2 9h0m2-11h0m3 5h0m0-1h0m1 1h0m1-5h0m2 14h0m1 0h0m2-4h0m1-3h0m5-4h0m0 12h0m-4 9h0m-8 4h0m0-9h0m-1 0h0m0 12h0m-8-1h0m-1-9h0m-2 3h0m0-8h0m-2 6h0m-1 8h0m0-14h0m-2 14h0m0-10h0m0-4h0m-2 1h0m-8 4h0m-1-2h0m-2 6h0m-1 1h0m-2-3h0m-2-1h0m-5-3h0m0-3h0m-2 3h0m-1 0h0m0 8h0m-4-6h0m0-3h0m-1 1h0m-2 0h0m0 12h0m0-6h0m-2-7h0m-1-2h0m-2 0h0m0 6h0m-1 1h0m0-1h0m-7 0h0m-5-1h0m-1-2h0m-3 2h0m-1 4h0m-5-5h0m-1-2h0m-3-1h0m-1 10h0m-3-10h0m-3 0h0m-1 8h0m0-6h0m-7 0h0m0 1h0m21 13h0m23 0h0m2 6h0m13 3h0m6-6h0m1-1h0m1 6h0m2-6h0m2 0h0m2-2h0m1 0h0m5 3h0m2 1h0" stroke="#b88f86" vector-effect="non-scaling-stroke"/>
<path d="M476 238h0m12-3h0m5 3h0m22 0h0m23 16h0m-10-1h0m-5 1h0m-8-8h0m-2 9h0m-1-2h0m-2-6h0m-2 6h0m-4 1h0m0-1h0m-2-9h0m-7 10h0m-6-5h0m0-3h0m-6 5h0m-5-6h0m-2-2h0m-3 6h0m-9-2h0m-5 1h0m-18 16h0m2-7h0m8 9h0m7 0h0m3-2h0m1 3h0m1-6h0m1 0h0m0 10h0m0-10h0m0 10h0m4-14h0m5 10h0m4 1h0m8 3h0m2-6h0m2 5h0m2 1h0m2-1h0m2-1h0m5-5h0m1 0h0m2 4h0m1-12h0m1 9h0m3 5h0m1 1h0m1-10h0m0 1h0m1-4h0m0 0h0m3 3h0m4 0h0m2 4h0m3 0h0m9 2h0m2 0h0m9 2h0m13 13h0m-5-6h0m0 7h0m-3-4h0m-3-2h0m-1-1h0m0 4h0m-1-5h0m0 2h0m0 5h0m-1-3h0m-3 4h0m-2-7h0m0-4h0m-5 3h0m-1 1h0m0 11h0m-2-8h0m-4 4h0m0-9h0m-3 13h0m-2-15h0m-2 11h0m-3-9h0m-1 10h0m-1 2h0m-4 0h0m-1-8h0m-1 8h0m-2-2h0m-1-3h0m0-2h0m-1 7h0m-1-2h0m-2 2h0m-3-7h0m0-4h0m0-3h0m0 9h0m-1 5h0m0-6h0m0-3h0m-5-4h0m0 11h0m0-1h0m0-6h0m-2 10h0m-1-6h0m-6-2h0m-2-3h0m-1 0h0m-2 8h0m0 2h0m0 0h0m-3-5h0m-1-5h0m0-3h0m0 2h0m-1 6h0m-1-2h0m0 7h0m-2-13h0m-3 7h0m-1-2h0m-1 1h0m-5-4h0m0 4h0m-9 0h0m-2 8h0m-5-9h0m0 8h0m-11 9h0m6-1h0m3 7h0m7-4h0m3-2h0m0 4h0m1-11h0m0 12h0m0-12h0m3 8h0m1 5h0m1-4h0m1 2h0m1 1h0m1-9h0m1-2h0m1 5h0m2-2h0m0 11h0m1-13h0m2 9h0m0-6h0m0-2h0m1 0h0m0 9h0m0-8h0m0 2h0m2 5h0m0 1h0m1-1h0m1-6h0m3 5h0m1 5h0m0-2h0m1 0h0m0-3h0m0-8h0m1 3h0m0-5h0m1 0h0m1 6h0m1-6h0m1 2h0m3 0h0m3-2h0m1 10h0m5 2h0m2-9h0m0 8h0m2-6h0m0 2h0m1-6h0m0 4h0m1-4h0m0 3h0m0 4h0m1-6h0m2 5h0m1-2h0m1-5h0m0 0h0m1 15h0m3-12h0m1 11h0m0-13h0m2 1h0m0 9h0m2 3h0m0-14h0m1 8h0m2-1h0m5-4h0m3 1h0m1 2h0m1 0h0m1 5h0m1-2h0m0 4h0m0 2h0m5-13h0m0-2h0m1 1h0m3 9h0m4-10h0m2 12h0m1-7h0m7 8h0m0 0h0m-6 16h0m0-5h0m-7-6h0m-1 1h0m0 12h0m-7-9h0m-5 6h0m-2-7h0m0-2h0m0 5h0m-5 3h0m-2-5h0m-1 4h0m0-6h0m-2-3h0m0 2h0m-8-3h0m-1 4h0m-3 0h0m0 4h0m0 6h0m-1 0h0m0-3h0m0-9h0m0 0h0m0-1h0m-6 11h0m0-5h0m0-4h0m-1 4h0m-3 7h0m0-8h0m-1 3h0m-2-1h0m-1-1h0m-1-7h0m-3 0h0m-2 13h0m0 2h0m-2-2h0m-3-7h0m-1-2h0m-5 3h0m-1 3h0m0-8h0m0 1h0m-4 9h0m-1-12h0m0 1h0m-1 5h0m0-5h0m-2 8h0m-1-3h0m-4 8h0m-3-10h0m-6-4h0m-2 12h0m-3 2h0m-5 6h0m9-3h0m4 0h0m5 11h0m3-12h0m3 11h0m6-1h0m0-1h0m1-3h0m0 0h0m7-5h0m1 5h0m8-2h0m1 6h0m5-8h0m1 11h0m0-3h0m3-8h0m2 8h0m3-8h0m6 13h0m5-6h0m2 2h0m3-9h0m2 9h0m1-10h0m12 10h0m5-3h0m-6 11h0m-4 3h0m-11-6h0m-5 11h0m-2-11h0m-3 11h0m-9-1h0m-2 3h0m-6-7h0m-3-3h0m-1 4h0m-5-4h0m-1-1h0" stroke="#9fbadf" vector-effect="non-scaling-stroke"/>
<path d="M668 207h0m9 0h0m15 11h0m-2-9h0m0 12h0m-5-11h0m-3 7h0m-2-3h0m0 1h0m-1-5h0m-1 6h0m-1-8h0m0 1h0m-3 1h0m-1 2h0m0-3h0m-1 0h0m-1 10h0m0-3h0m-2 0h0m0 6h0m0-1h0m-1-2h0m-2 1h0m-3-7h0m-1 7h0m-1 0h0m-3 2h0m-1-3h0m-3-2h0m0-3h0m-1-3h0m-5 2h0m-3 9h0m-2-6h0m18 9h0m3 4h0m5-4h0m1-1h0m1 1h0m-56 27h0m-6 3h0m-9-12h0m-7 12h0m-3-7h0m-1-5h0m-2 1h0m-1-2h0m-3 10h0m-1-2h0m-6-2h0m-14 14h0m0-1h0m7 9h0m6-10h0m0 3h0m7 1h0m5-4h0m1 0h0m3-2h0m4 5h0m6-1h0m1 4h0m0-1h0m3-5h0m1 4h0m3 2h0m1 1h0m2 4h0m1-13h0m1 13h0m5-1h0m4-1h0m2 2h0m2-3h0m12 9h0m-5 1h0m-9 8h0m-1-1h0m-9-7h0m-1 9h0m-1-8h0m0 8h0m0-10h0m-1-4h0m-8 4h0m-1 4h0m-1-9h0m0 8h0m0-4h0m-1 8h0m0-3h0m0 3h0m0-9h0m-1-1h0m-1-1h0m0 4h0m-5 8h0m0-6h0m0-4h0m-2 7h0m-2 2h0m-2 1h0m-1-6h0m-4-4h0m0 1h0m-3-1h0m0-1h0m-1 8h0m-2-1h0m-1-1h0m-1 3h0m-2-4h0m0 6h0m-3-2h0m0-2h0m0 0h0m-1 0h0m-7-3h0m-1 1h0m-4-1h0m-1-3h0m0 7h0m-4 5h0m-3 1h0m6 1h0m1 6h0m1-4h0m5 11h0m4-4h0m0 3h0m2-12h0m3 3h0m3 6h0m2-8h0m5 4h0m0 1h0m2-1h0m1 4h0m1-6h0m1 6h0m1-2h0m3 3h0m0 4h0m1-9h0m4 6h0m1-12h0m3 15h0m0-15h0m1 11h0m0-8h0m0 8h0m0-6h0m1-2h0m2 3h0m3-3h0m1 10h0m0-12h0m0 4h0m0 0h0m1 4h0m0-4h0m1 1h0m0 0h0m1 4h0m5 2h0m4-4h0m2-4h0m1-1h0m4 7h0m0 4h0m1-13h0m0 7h0m4 6h0m1-11h0m1 2h0m9 4h0m-11 9h0m-8 4h0m-2 1h0m-6 8h0m-1-9h0m-1-5h0m-2-1h0m-1 1h0m0-1h0m-1 2h0m0 6h0m-1 2h0m0-1h0m-4 6h0m0-13h0m0 10h0m-3 1h0m-2-11h0m0 2h0m0-2h0m-1 7h0m0-5h0m-4 9h0m-2-11h0m-2 4h0m-3-2h0m-3 0h0m-5 3h0m-2-3h0m-1 4h0m0 6h0m-1-1h0m-2-3h0m-1-3h0m-1 0h0m-1 7h0m-6 0h0m-4-3h0m-2-9h0m-3 13h0m18 1h0m8 3h0m7-1h0m4 3h0m4-4h0m1 6h0m1-7h0m1 14h0m4-6h0m1-5h0m7 0h0m4 6h0m2-8h0m3 5h0m1-3h0m0 3h0m2-4h0m5 4h0m0-6h0m-21 22h0m-5-5h0m-1 1h0m-21 3h0m-5-1h0m-7-1h0m-18 3h0m-6-4h0m-1 12h0m-1-6h0m-15 5h0m-4-13h0m-2 5h0m-12-2h0m-1 3h0m-12 7h0m11 18h0m22-4h0m2-7h0m2 1h0m33 1h0m21-5h0m5 11h0m5 2h0m8-2h0m6-12h0m4 4h0m4 14h0m-5 9h0m-4-3h0m-18-7h0m-66 2h0m-3 5h0m-24 8h0m21 8h0m40-3h0" stroke="#a3b060" vector-effect="non-scaling-stroke"/>
<path d="M387 248h0m-9-2h0m-18-1h0m-54 21h0m28-8h0m12 13h0m10-9h0m8 2h0m0 7h0m11-7h0m4-7h0m23 4h0m24 26h0m-25-4h0m-9-3h0m-26-4h0m-22 2h0m-5-5h0m-1 2h0m-2 8h0m0-6h0m-3 1h0m-1 4h0m-1 0h0m-1-8h0m-1 12h0m-3-6h0m-4-5h0m0 11h0m-3-11h0m-9 5h0m-2-3h0m0 1h0m-2-1h0m-6-3h0m-1 7h0m-3 5h0m1 13h0m3-9h0m2-2h0m4 1h0m17 6h0m0 4h0m0-10h0m14-1h0m5 3h0m6-1h0m5-2h0m2 0h0m10 11h0m13-5h0m2-4h0m28 9h0m10-11h0m-11 23h0m-3 6h0m-7-2h0m-16-9h0m-38 2h0m-3 6h0m-57-1h0m-4 5h0m-1-8h0m35 21h0m11-5h0m58 8h0m19-1h0m9-10h0m18 9h0m-13 12h0m-10 5h0m-26-13h0m-7 5h0m-32 7h0m-19-5h0m-27-1h0m47 23h0m36-8h0m31 1h0m142 24h0m-40 0h0m-12-1h0m-171-13h0m135 22h0m14-4h0m12 8h0m5-7h0m1 0h0m13 8h0m4 1h0m6-1h0m2-4h0m3 0h0m11 1h0m8 1h0m0 4h0m2-7h0m0-2h0m3 4h0m0 1h0m5 2h0m1 4h0m7 12h0m-1-3h0m-3-6h0m-1 5h0m-2 0h0m0 4h0m-2-2h0m0-5h0m-4 10h0m-2-1h0m-3-8h0m-6 1h0m-4 6h0m-2-2h0m-2-2h0m-1-5h0m-1 11h0m-1 1h0m-1-12h0m0-1h0m-5 13h0m0-6h0m-2 1h0m-1 3h0m-7-3h0m-49 3h0m-2-1h0m-14-8h0m-6 3h0m-2 7h0m22 15h0m17-4h0m24-3h0m0 4h0m6-9h0m1 2h0m1 9h0m7-7h0m2-3h0m1-2h0m4 13h0m1-6h0m0-1h0m0 0h0m1 2h0m2-7h0m3 13h0m0-8h0m1 8h0m4-8h0m2 0h0m0 8h0m3-1h0m6-5h0m1 6h0m1-9h0m2-3h0m0 4h0m1 7h0m1-7h0m1 7h0m1-1h0m3 3h0m16-10h0m-4 13h0m-16-2h0m-12 13h0m-6-12h0m-9 5h0m-4-5h0m-4 0h0m-16 12h0m-24 1h0m-2 1h0m-1-11h0m-6 6h0m-12 10h0m6 9h0m3-3h0m2 3h0m5-4h0m0 5h0m2-7h0m9 4h0m1 1h0m8-2h0m24-10h0m2 3h0m31-3h0m25 4h0m-72 14h0m-2 9h0m-6-11h0m-3 0h0m-1 11h0m-3-11h0m-3 7h0m-4 4h0m-1 4h0m-3-9h0m0 3h0m-1 3h0m-3-12h0m0 14h0m-2-14h0m0 8h0m-2-7h0m-1 8h0m3 15h0m10-6h0m3 2h0m1-3h0m1 4h0m8 2h0" stroke="#b0a0c8" vector-effect="non-scaling-stroke"/>
<path d="M308 122h0m-2 5h0m-11-5h0m0-4h0m-18-3h0m0 11h0m-3-5h0m-1 5h0m-2-12h0m-7 11h0m-1-1h0m0-10h0m-2 2h0m-5 10h0m-5-8h0m-6 4h0m8 18h0m2-12h0m0 9h0m2-9h0m1 6h0m0-6h0m3 12h0m2-3h0m4-3h0m2-2h0m0-2h0m1 7h0m0-6h0m0-2h0m1 2h0m1-3h0m2 15h0m0-2h0m0-3h0m3 0h0m0-7h0m1 4h0m0-6h0m0 11h0m1-5h0m2 8h0m2-10h0m1-1h0m1 2h0m2 6h0m1-7h0m1 6h0m1 3h0m0-5h0m0-7h0m2 1h0m2-1h0m0 0h0m0 10h0m1-10h0m2 9h0m2 4h0m1-5h0m5-3h0m4 7h0m0-7h0m0 1h0m3 4h0m2 3h0m4 1h0m-4 13h0m-4 0h0m-1-2h0m-4-4h0m-1-2h0m-2 1h0m-9-6h0m0 6h0m-2-5h0m-2 14h0m-2-8h0m-1-2h0m0 1h0m-2-5h0m0 9h0m-6 4h0m-1-10h0m-1-4h0m0 8h0m-1 0h0m-1 2h0m-2-9h0m-2-1h0m0 5h0m-1-1h0m0-1h0m0 3h0m-1 8h0m0-2h0m-3-4h0m-1 7h0m-2-9h0m0 2h0m-3 6h0m-1 1h0m0-6h0m0-5h0m-1 6h0m-2 4h0m-3-14h0m0 12h0m-2-1h0m-1-1h0m-3-3h0m-2 0h0m-1 1h0m-3-7h0m0 0h0m-2 18h0m15-1h0m3 4h0m6-2h0m2-4h0m1 4h0m2 5h0m4-7h0m1-1h0m0 12h0m2-1h0m1-4h0m0 1h0m4-1h0m0-3h0m1-4h0m6-1h0m1 12h0m3-3h0m2-9h0m2 15h0m1-1h0m3-9h0m1-2h0m1-2h0m8 5h0m0-5h0m1 5h0m-32 15h0m-18 5h0m-10-10h0m-18 31h0m17-4h0m5-4h0m21 1h0m11 0h0m21 21h0m0 2h0m-15-7h0m-14-5h0m-7 8h0m-11 4h0m0-14h0m-4-1h0m0 11h0m-3 3h0m-1-3h0m0 3h0m-1-12h0m-1 10h0m-1-9h0m-1 10h0m-2-10h0m0-1h0m0 11h0m-1-5h0m-1 2h0m-1-3h0m0 1h0m-2 0h0m-3 3h0m-3 1h0m-9-12h0m-11 27h0m26-6h0m2-2h0m0 12h0m2-7h0m1 0h0m0-1h0m0 0h0m3 8h0m2-15h0m1 12h0m0-10h0m5 4h0m2 2h0m6 5h0m6-10h0m2 6h0m7-2h0m5 8h0m17 16h0m-4-9h0m-35 5h0m-9-6h0m-5-1h0m0-3h0m-7 3h0m-9 2h0m-1 12h0m44-1h0m8 7h0m7-1h0" stroke="#87bd88" vector-effect="non-scaling-stroke"/>
<path d="M403 9h0m-2 21h0m-7-5h0m0 8h0m2 1h0m10 7h0m1-9h0m2 8h0m1-3h0m-1 11h0m-2 11h0m-3 1h0m0 0h0m0-1h0m-4-3h0m-1-4h0m0-2h0m-2 12h0m-5-9h0m-2 4h0m1 11h0m14 0h0m0 2h0m1 8h0m5-13h0m1-1h0m3 17h0m-5 0h0m-3 0h0m-1 12h0m0 1h0m-3-14h0m-3 2h0m-3-2h0m-1 9h0m0-6h0m-1 10h0m-4-3h0m1 18h0m1-1h0m1-9h0m0 3h0m1 6h0m0-9h0m2 9h0m3 4h0m1-15h0m1 9h0m1-7h0m0 12h0m1-14h0m1 12h0m1 1h0m3-6h0m3 0h0m1-2h0m3-4h0m-4 15h0m-1 15h0m-1-10h0m-3-4h0m0 4h0m-1 8h0m0-2h0m0-5h0m-1 1h0m0 7h0m-1-13h0m-1-1h0m-1 15h0m-1-11h0m0 8h0m-1-4h0m-1 4h0m-2-3h0m-1-9h0m0 1h0m0 11h0m-1-2h0m-1-7h0m0 11h0m0-11h0m-12 25h0m4-5h0m0 0h0m1-5h0m5 10h0m3-9h0m3 5h0m0 2h0m1-6h0m1-1h0m1 1h0m0 7h0m1-5h0m1 3h0m0 4h0m3-6h0m2 7h0m1-11h0m1 12h0m6-10h0m2 9h0m-4 6h0m-2 7h0m-1-2h0m-1 4h0m-1-8h0m-1-5h0m0 5h0m-1 0h0m-2-4h0m0 3h0m-1 6h0m-1-7h0m0-1h0m0-2h0m-1 14h0m-1-9h0m-2-2h0m-3 8h0m0-6h0m-1-4h0m0 10h0m-1-10h0m-1 7h0m-1 6h0m-1-9h0m0 4h0m-1-4h0m-4-2h0m3 19h0m2-2h0m1 6h0m1 5h0m2-2h0m1-13h0m1 0h0m0 0h0m0 14h0m1-3h0m0 3h0m2-8h0m0-1h0m3 10h0m1 0h0m1-15h0m1 8h0m3 5h0m6-4h0m1 3h0m-8 17h0m-1-10h0m-1-3h0m-1 8h0m0-1h0m-1 8h0m0-2h0m0-8h0m-2 4h0m-1-9h0m-3 0h0m-1 8h0m0 0h0m0-1h0m-3-7h0m-2 15h0m-1-6h0m0 2h0m0 9h0m5 3h0m1 5h0m0-12h0m1 12h0m0 2h0m1-10h0m1 10h0m0-14h0m1 6h0m1-6h0m1 3h0m6-1h0m6 4h0m-6 17h0m-3-4h0m-3 3h0m0 3h0m-2-5h0m0 11h0m-1-8h0m-5 7h0m0-12h0m-1 5h0m-3-2h0m5 19h0m3 2h0m3-1h0m1-8h0m3 6h0m-9 18h0" stroke="#d57ab0" vector-effect="non-scaling-stroke"/>
<path d="M341 27h0m-19 18h0m1 2h0m4-3h0m3-5h0m3-1h0m2-4h0m0 7h0m2-7h0m1 7h0m2 3h0m3-5h0m6 6h0m3-9h0m0-4h0m3 9h0m7 14h0m-13 8h0m-1-11h0m0 10h0m0-3h0m-1 4h0m-2-2h0m-3-1h0m-1 3h0m0-5h0m0 2h0m-2-11h0m0 11h0m-3-7h0m-1 10h0m0-2h0m-1 2h0m-2-4h0m-1 3h0m-1 1h0m-2-8h0m-4 6h0m-7-5h0m-3-3h0m-2 4h0m0 4h0m-4-6h0m3 10h0m3 5h0m5 6h0m0 3h0m0-4h0m4 1h0m1-7h0m0 7h0m1-2h0m0-9h0m0 4h0m1 4h0m2 0h0m2-4h0m2 4h0m1-9h0m2 1h0m0 12h0m3 1h0m1-10h0m0 7h0m1 3h0m0-8h0m1-2h0m1 7h0m0-9h0m1 13h0m1-8h0m1 4h0m1 0h0m3-11h0m3 13h0m1-12h0m3 11h0m9-7h0m1 24h0m-10 1h0m-3-2h0m-1-11h0m0 7h0m-1 6h0m-2-12h0m0 9h0m-6-8h0m-2 8h0m-1-7h0m-1-3h0m-2 11h0m-1-11h0m-2-1h0m0 3h0m-5 1h0m-1 8h0m-3-2h0m-2-7h0m-2 2h0m-2 2h0m-1 0h0m-1 3h0m-4 2h0m-3 6h0m12 5h0m0 4h0m0-6h0m1 4h0m1-5h0m1 3h0m4 3h0m1 0h0m1-8h0m1 11h0m1-10h0m0 9h0m1-6h0m4 8h0m1-13h0m0 13h0m1-1h0m2-3h0m1-4h0m0-6h0m1 3h0m2 5h0m1 2h0m2-3h0m1 4h0m0 0h0m1 3h0m1-10h0m1-2h0m2 9h0m4-8h0m5 20h0m-19-7h0m0 5h0m-3 4h0m-1-2h0m-4-1h0m-1 4h0m-2-2h0m-1-6h0m-1 0h0m0 4h0m-1-3h0m-1 1h0m-9 0h0m-4 5h0m-3 5h0m-1-14h0m1 26h0m6-9h0m1 11h0m0-6h0m0 5h0m1-1h0m3 0h0m0-10h0m7 0h0m0 5h0m5-3h0m2 3h0m0-4h0m2 9h0m0-3h0m3 7h0m4-12h0m0 8h0m1-6h0m1 7h0m1-1h0m0-5h0m-17 13h0m-5-2h0" stroke="#12b4c8" vector-effect="non-scaling-stroke"/>
<path d="M406 249h0m0-1h0m-36 13h0m59 7h0m-28 6h0m-3 10h0m-35-3h0m0 0h0m1 22h0m62-3h0m7-12h0m-8 23h0m-44-1h0m-20 23h0m64-3h0m0 2h0m2 0h0m7 1h0m3-9h0m2 4h0m1 6h0m6-11h0m3 19h0m-10 2h0m-1 3h0m-4-1h0m-1-9h0m-1 14h0m-2-3h0m0 2h0m-2 0h0m0-3h0m-1-9h0m-1-1h0m-2 11h0m-2 0h0m0-4h0m-5 4h0m-4 1h0m-2 2h0m-1-5h0m-22 16h0m8-8h0m5 6h0m1 0h0m0 0h0m2 6h0m5-6h0m0 0h0m1 7h0m2-2h0m1-10h0m0 4h0m5-6h0m0 13h0m3-3h0m0-2h0m1-5h0m0 1h0m1 4h0m1 5h0m0-2h0m0 3h0m2 0h0m2-5h0m1 3h0m3 2h0m1-13h0m0 4h0m6-5h0m3 3h0m11 1h0m-17 21h0m0-9h0m-2 12h0m-3-13h0m-2 10h0m0-7h0m0 12h0m-2-8h0m-1-1h0m-1 1h0m0 7h0m-1-4h0m0-1h0m-2-9h0m-4 2h0m-3 0h0m-1-1h0m-3 3h0m-3 8h0m-2 0h0m-2-5h0m0-1h0m-10-4h0m-11 1h0m-5-2h0m18 16h0m2 11h0m0-3h0m2-9h0m10 14h0m0-1h0m4-7h0m0 3h0m3 0h0m3-1h0m7 1h0m-5 10h0m-4 3h0m-1 3h0m-2-5h0m0-2h0m-4-2h0m-2 9h0m-1 2h0m-8-2h0m-1-3h0m-1-6h0m-5 0h0m-9 13h0m-12 5h0m4 7h0m2-8h0m1 14h0m1-1h0m0-12h0m3 4h0m1 0h0m1 3h0m6 3h0m2 2h0m5-5h0m-2 9h0m0 12h0m-5-7h0m-1-5h0m-5-1h0m-1 2h0m-3 4h0m-1 5h0m-2-3h0m-2-4h0m-11 2h0m-5 7h0m3 5h0m2 4h0m7 8h0m1-4h0m4-5h0m8-3h0m4 8h0" stroke="#e78684" vector-effect="non-scaling-stroke"/>
<path d="M317 277h0m-20 23h0m4 3h0m3-15h0m6 10h0m7 2h0m30 19h0m-45-11h0m-6 1h0m-5 5h0m0-9h0m-1 10h0m-2-4h0m0-2h0m0-1h0m-1 2h0m-1-3h0m-1 9h0m0-9h0m-2-2h0m-3-1h0m-1 5h0m-3 4h0m-4 4h0m-1-4h0m-11 1h0m-16-7h0m-2 17h0m2 10h0m7-7h0m0 7h0m20-13h0m2 14h0m1-11h0m1 2h0m30 9h0m5-6h0m4-6h0m17 6h0m2 16h0m-22-3h0m-1-1h0m-2 6h0m-1-3h0m-1-6h0m-4 3h0m-6 5h0m0-3h0m-10-7h0m-36 8h0m-2-2h0m-3-2h0m-3 11h0m0-11h0m0 4h0m1 12h0m2-4h0m2 2h0m1-1h0m0 9h0m1-4h0m2 7h0m0-4h0m2 0h0m47 1h0m2-9h0m1 13h0m0-8h0m6-5h0m0 2h0m1 1h0m0-3h0m3 12h0m12-12h0m1 13h0m23-6h0m-39 16h0m-1 4h0m-1 3h0m-1-4h0m-1-1h0m-1-5h0m-2 8h0m-26 2h0m-16-12h0m-7 5h0m-4-8h0m-4 15h0m-1-8h0m-2 0h0m-2-5h0m4 18h0m2 2h0m1-2h0m5 2h0m56-1h0m-160 34h0m1 6h0m4-6h0m1 7h0m3-2h0m1 0h0m2-4h0m5 3h0m9-2h0m3 5h0m1-2h0m-4 6h0m-7-1h0m-3-1h0m-6 1h0m-2-1h0" stroke="#cfd48a" vector-effect="non-scaling-stroke"/>
<path d="M356 167h0m6-1h0m5 0h0m1 5h0m2 3h0m1-13h0m22 26h0m-5 3h0m-6-13h0m-7 13h0m-1-5h0m-1 0h0m-1-1h0m-3-8h0m0 0h0m-2 14h0m-1-4h0m-2-4h0m-1-4h0m0-1h0m0 9h0m-2 5h0m-3-2h0m0 1h0m-2-11h0m-1 8h0m-2-6h0m-2-1h0m-6 20h0m3-4h0m5 10h0m1-3h0m0-3h0m6-4h0m2 2h0m1 8h0m2-8h0m1-4h0m0 0h0m0 1h0m1 9h0m0-5h0m3 8h0m1-4h0m0-4h0m0-2h0m2 10h0m1-9h0m3-6h0m0 12h0m1 1h0m1-2h0m0 4h0m1-6h0m2-1h0m3 4h0m4 2h0m-1 2h0m-1 8h0m-2-3h0m-3 4h0m0-6h0m-1 6h0m-2-8h0m-4 0h0m-1-1h0m-1 7h0m-1-1h0m0 2h0m-1-5h0m0 0h0m-2 7h0m-2-7h0m-1-2h0m-1-1h0m-8 11h0m-4-11h0m-1 4h0m-1 0h0m-2-3h0m-3 11h0m0-8h0m-1 5h0m6 7h0m5 1h0m0-1h0m2 0h0m2 13h0m3-3h0m3-2h0m3 0h0m6-6h0m1 3h0m6 2h0m2-6h0m4 3h0" stroke="#f3ac74" vector-effect="non-scaling-stroke"/>
<path d="M489 119h0m0 0h0m-13 2h0m-15 21h0m6 0h0m12 1h0m3-7h0m2 5h0m1-8h0m2 8h0m4-7h0m0 5h0m5 3h0m2 0h0m2 0h0m0-3h0m0-3h0m5 0h0m3 12h0m-2 0h0m-7 10h0m-2-14h0m0 4h0m0 2h0m-7 0h0m-2 8h0m-1-9h0m-3 1h0m0 3h0m-2 3h0m-1-10h0m-2 12h0m-5 1h0m-5-8h0m-2 1h0m-3 3h0m7 6h0m2 8h0m4-8h0m6 9h0m1 0h0m0-1h0m3 3h0m1-8h0m1 1h0m0 8h0m1-11h0m1 5h0m1-1h0m7 1h0m0 2h0m3-4h0m2 4h0m2 2h0m3-10h0m3 19h0m-3-2h0m-3 1h0m0 12h0m-3-5h0m-7-2h0m-2-6h0m0 12h0m-3-10h0m-2 1h0m-2 4h0m-1-3h0m0-2h0m-1 9h0m-2-3h0m-3-7h0m-1 2h0m0-5h0m-2 11h0m0-9h0m0 6h0m0 7h0m-11-2h0m-13 0h0m14 7h0m2 10h0m1-11h0m8 6h0m0 0h0m2 4h0m6-11h0m1 9h0m0 2h0m8-11h0m0 0h0m1 13h0m1-11h0m10-4h0m-20 26h0m-1-9h0m-11 2h0" stroke="#eeaac6" vector-effect="non-scaling-stroke"/>
<path d="M392 460h0m2-1h0m23 17h0m-1-6h0m0-4h0m-5 12h0m-1-9h0m-5 1h0m-1 7h0m0-5h0m0 5h0m-1 0h0m0-5h0m-1 5h0m-5-3h0m-1 1h0m-5 1h0m-4 1h0m-1-11h0m6 21h0m0 6h0m0-4h0m1-1h0m1-5h0m3 3h0m3-6h0m1 6h0m2-4h0m2-2h0m4 11h0m3-7h0m-13 14h0" stroke="#88c8d6" vector-effect="non-scaling-stroke"/>
</g>
<g transform="translate(72.0,474.8) scale(0.5)" stroke-width="3.2" stroke-linecap="round" fill="none" vector-effect="non-scaling-stroke">
<path d="M201 220h0m-5 2h0m-8-5h0m-2 5h0m0-5h0m-5-1h0m0-6h0m0-1h0m-4 11h0m0-5h0m-5-1h0m0 3h0m-14 8h0m1 10h0m11-8h0m1 5h0m1-5h0m1-1h0m1 10h0m0 2h0m1-10h0m2 9h0m6-13h0m0 3h0m2 1h0m1 1h0m1 9h0m0-12h0m1-2h0m2 3h0m0 9h0m1-10h0m3 10h0m1-12h0m1 10h0m0 5h0m2-13h0m1 5h0m1 7h0m4-4h0m-7 8h0m-1 1h0m0 8h0m-1-2h0m-2-8h0m-2 14h0m-2-2h0m-1-13h0m-1 6h0m-1-1h0m-1 10h0m0-5h0m0 3h0m-3-10h0m0 1h0m-2 10h0m-1-13h0m-1 13h0m-1-5h0m0 2h0m-2-1h0m0 2h0m0-7h0m0 10h0m-4-11h0m0-2h0m-2 8h0m-1-1h0m-1-3h0m0 6h0m0-5h0m-5 2h0m-2 3h0m6 5h0m0 12h0m5-7h0m0 2h0m1-3h0m1-3h0m0 11h0m2-4h0m4-3h0m1-5h0m3 10h0m0 0h0m7-8h0m0 4h0m1-5h0m2 1h0m4 5h0m1-6h0m1 10h0m11 2h0m26 1h0m3 0h0m2-1h0m10 0h0m2 0h0m9-3h0m6 7h0m-12 1h0m-4-2h0m-2 2h0m-1 11h0m-4-13h0m-1 6h0m-1 4h0m-3-3h0m-1-2h0m-21 1h0m-3 5h0m0 2h0m-1-2h0m-5-8h0m-2 2h0m-2-1h0m-5 6h0m-1-4h0m0-7h0m-2 13h0m-4-4h0m0-7h0m-2 11h0m-5-5h0m-2 5h0m-2-9h0m0 5h0m-1-6h0m-3 6h0m-1 6h0m-1-2h0m-1-2h0m-3-2h0m-2-3h0m0 1h0m0-6h0m-8 13h0m-1-2h0m-6 0h0m0-1h0m-78 16h0m6-3h0m5-7h0m4 14h0m4-4h0m0-10h0m2 11h0m0-5h0m1 3h0m48 2h0m2-7h0m3 0h0m4 3h0m8 0h0m3 6h0m2-1h0m5 2h0m5-1h0m1-11h0m2 3h0m0-6h0m1 0h0m1 5h0m2 1h0m1 8h0m0-1h0m0-12h0m3 4h0m1-1h0m2 8h0m1-2h0m1-3h0m0 0h0m3-4h0m0 8h0m1 2h0m6-5h0m2-1h0m1 6h0m7-5h0m1 7h0m1-2h0m6 15h0m-17-8h0m0 8h0m-5 1h0m-1 0h0m-1-4h0m-2-6h0m-1 12h0m-1-13h0m-2 12h0m0-12h0m0 10h0m-4-9h0m0 0h0m-1 8h0m0-9h0m0 1h0m0-2h0m-2 14h0m0-11h0m-1 9h0m-2 0h0m-1-2h0m-3 3h0m-1-11h0m-2 7h0m-2 0h0m-1 0h0m-2-2h0m-2 3h0m0-5h0m-1 2h0m-1 5h0m-1-3h0m-3-8h0m-2 9h0m-1-2h0m-1-1h0m-4 5h0m-3 1h0m-4-8h0m-2 7h0m-35-11h0m-2 12h0m-4-1h0m-1 1h0m-1-1h0m-3-2h0m-1-4h0m0-2h0m-2-1h0m-1 5h0m-3 1h0m-1-10h0m-2 14h0m-2-7h0m-2 7h0m-1-6h0m-5 1h0m-1 0h0m-3 2h0m-6 2h0m-4-4h0m-3 5h0m2 5h0m3 1h0m1 10h0m1-9h0m1 1h0m4 9h0m3-13h0m0 10h0m1-3h0m1 2h0m0 3h0m1-11h0m4 9h0m1-12h0m2 8h0m0 0h0m2 5h0m1-12h0m0 3h0m0 9h0m1 1h0m0 0h0m2-12h0m0 8h0m1 2h0m0-4h0m1-1h0m0-3h0m4 10h0m1-2h0m1-10h0m0 9h0m0 3h0m0-1h0m1-7h0m0 8h0m3-2h0m2-4h0m0 6h0m1-7h0m1 2h0m0-8h0m0 11h0m7-2h0m2 0h0m4-5h0m9-1h0m10 7h0m7-4h0m1 3h0m0 1h0m2-1h0m2 0h0m2 2h0m0 2h0m1-13h0m4 14h0m0-9h0m2 4h0m6-1h0m1-1h0m4 1h0m0 6h0m2-15h0m1 10h0m0 1h0m5-2h0m1 1h0m1-7h0m1 9h0m4-5h0m0-6h0m1 2h0m1 11h0m1-10h0m1 9h0m0-3h0m0-1h0m0-7h0m1 3h0m0 0h0m1 4h0m0 4h0m3-11h0m1 2h0m1 4h0m1-4h0m1-3h0m4-1h0m2 5h0m1 8h0m1-6h0m1-3h0m1 7h0m6-11h0m11 12h0m-2 8h0m-5 10h0m-2-10h0m-6 11h0m-2-6h0m0 2h0m-11-3h0m0 3h0m-1-5h0m-2-6h0m-2 2h0m0-1h0m-2 6h0m-1-4h0m-1-3h0m-1 2h0m0 2h0m-2-3h0m0 7h0m-1-6h0m-1 0h0m0 7h0m-2-1h0m-1 7h0m-1-11h0m-1 5h0m0 6h0m-5-11h0m-1 3h0m-3-7h0m0 3h0m-1 2h0m-1 7h0m-2 3h0m-5-4h0m-1-10h0m-1 6h0m-1 4h0m0 0h0m0 0h0m-3-1h0m-2 2h0m-1 0h0m-1 3h0m-1-3h0m-2-5h0m-4-2h0m-2 2h0m0 1h0m-2 2h0m-3-2h0m-2 7h0m-2 0h0m-2-13h0m-4 8h0m-1-5h0m-4 1h0m-3-6h0m-2 4h0m-6-1h0m-1 2h0m0 10h0m0-7h0m-2-3h0m0 5h0m0-9h0m-4 9h0m-1-2h0m0 4h0m0-4h0m-2-2h0m-1-4h0m-1 9h0m-1-2h0m-2 6h0m-1-9h0m0 5h0m-1-5h0m-1-1h0m0 2h0m-2 4h0m0-8h0m0 11h0m-1-8h0m-2-6h0m0 11h0m-1-8h0m0 11h0m0 0h0m-3-12h0m0 0h0m-1 9h0m0-9h0m-1 2h0m-2 5h0m0-9h0m-1 1h0m0-1h0m-2 10h0m-1-3h0m0 8h0m-2-15h0m-1 3h0m-3 4h0m-9-1h0m-2 5h0m-7 0h0m2 11h0m4-5h0m8 4h0m2-2h0m0 4h0m2 5h0m1-4h0m3-8h0m0 3h0m0 7h0m0-9h0m1 4h0m3-2h0m1-3h0m2 6h0m2 2h0m0-7h0m1-1h0m1 7h0m1-4h0m1-3h0m1 3h0m0-2h0m6-1h0m2 1h0m0 0h0m1 9h0m1 4h0m0-7h0m0-3h0m2 10h0m1-3h0m0-5h0m1 6h0m2 3h0m0-9h0m1 2h0m4 2h0m0 3h0m4-6h0m0-4h0m1 8h0m2-5h0m1 6h0m1-2h0m0 0h0m3-5h0m0 1h0m3 0h0m1-3h0m0-1h0m2 5h0m1-1h0m5 0h0m2-1h0m1-5h0m0 12h0m1-10h0m3-2h0m1 11h0m2-11h0m2 9h0m2 2h0m4 2h0m3 1h0m3-11h0m2-1h0m0 1h0m0 5h0m1-8h0m5 14h0m0-10h0m2 5h0m6 2h0m1 1h0m1-7h0m3-5h0m2 5h0m2 3h0m2 2h0m1-2h0m2 2h0m1 3h0m0-10h0m3-2h0m1 13h0m0-2h0m1-2h0m4-7h0m1 6h0m1 6h0m1-10h0m0 6h0m2-10h0m0 3h0m9-3h0m-10 20h0m-4-1h0m-4-2h0m-5 12h0m-1-8h0m-7 4h0m-11 0h0m-6-8h0m-17 6h0m-2-4h0m-1 7h0m-3-6h0m-2 4h0m-2-4h0m-2-5h0m-1 4h0m-5 8h0m-5-2h0m-5-2h0m-1-8h0m-2 2h0m-2 1h0m-11 0h0m-3 8h0m-4-6h0m-2-3h0m-3-1h0m-1 12h0m-5-13h0m0 1h0m-2 6h0m0 3h0m-4 5h0m-6-3h0m-4 3h0m-3-10h0m-6 8h0m-1-2h0m-1 3h0m0-10h0m0 0h0m-1-3h0m-1 6h0m-2 2h0m-5-1h0m-10 1h0m1 17h0m2-6h0m1 6h0m1 4h0m7-12h0m0 0h0m4 1h0m0-3h0m1 10h0m3-4h0m1 9h0m1-7h0m1-1h0m2-6h0m2 14h0m2-12h0m1 7h0m4-10h0m3 4h0m2 7h0m1 3h0m4-3h0m2-9h0m6 23h0m-6-5h0m-2 4h0m-2-2h0m0 4h0m-1-6h0m0-3h0m-1 5h0m-4 0h0m0-4h0m0 4h0m-2 8h0m0-2h0m-1-12h0m-1 1h0m0 3h0m0 10h0m-4-6h0m-1 7h0m-3-9h0m-1-1h0m-2-3h0m-1 10h0m0-4h0m-1 3h0m0 1h0m-1-7h0m-1 6h0m-4-4h0m0 1h0m-1-6h0m-3 6h0m-1-3h0m-1-5h0m0 8h0m-1 5h0m-2-8h0m-2-4h0m-1 12h0m-10 18h0m9-14h0m2 9h0m4 4h0m0-9h0m1-1h0m2 3h0m2-5h0m6 8h0m1-6h0m2 6h0m5-1h0m1-7h0m2 11h0m3-7h0m0 0h0m2-3h0m4-1h0m2 3h0m1 10h0m4-2h0m5-6h0m2-3h0m5 7h0m6-3h0m2-4h0m1-1h0m0-2h0m3 1h0m0-2h0m3 10h0m7 3h0m1-3h0m6-6h0m5 18h0m-1 1h0m-4 2h0m-2 2h0m-2-9h0m-2 0h0m-1 13h0m0 0h0m-1-13h0m0 13h0m-1-6h0m0-6h0m-2 7h0m0-1h0m-2 1h0m-1 2h0m0 3h0m-5-11h0m0-1h0m-4 9h0m0 0h0m-1-12h0m-1 7h0m0 2h0m0 2h0m-1-5h0m-2-3h0m-1 3h0m-3 7h0m-2-9h0m0 6h0m-1 5h0m-2-12h0m0 6h0m-1-4h0m0 9h0m-2 0h0m-3-1h0m-1-9h0m-1-2h0m0 8h0m-1 5h0m-2-1h0m0-2h0m-6-2h0m-2 5h0m-1-12h0m-18 0h0m-7 2h0m-2-4h0m-1 1h0m-1 6h0m-1 7h0m-2-7h0m-1 6h0m0 1h0m-1-12h0m0 2h0m0 8h0m-1 2h0m-6-4h0m5 6h0m1 10h0m2-6h0m0-4h0m0 0h0m2 8h0m0 6h0m1-11h0m2-3h0m1 8h0m5-9h0m2 3h0m2 4h0m20-4h0m3 3h0m2 6h0m4-3h0m2-1h0m5-4h0m6 5h0m1 3h0m2-11h0m1 14h0m1-11h0m1 5h0m1 0h0m0 3h0m1-4h0m1-3h0m0 6h0m0 4h0m1-15h0m0 2h0m1-2h0m1 6h0m3 0h0m1 2h0m0-7h0m2 5h0m0 1h0m1-3h0m0 1h0m4 1h0m1 4h0m1-2h0m0 7h0m2-6h0m1-4h0m3-1h0m0-2h0m1 5h0m1 5h0m3-9h0m3-3h0m1 15h0m4-8h0m-4 12h0m-2-3h0m0 13h0m-3-9h0m-5 1h0m0 0h0m0 5h0m0-2h0m-1-3h0m-2-1h0m-2 4h0m-2-5h0m0 1h0m-4-3h0m-2 1h0m-1 13h0m0-9h0m-4 2h0m-3 0h0m-1 0h0m-2-1h0m0 3h0m0-8h0m-2 3h0m0 5h0m-1-8h0m0 5h0m0 4h0m-1-6h0m-1 2h0m0 1h0m-4 3h0m-2-10h0m-1 0h0m-2 0h0m-4 8h0m-2-1h0m0 1h0m-2-4h0m-36 4h0m-7-6h0m69 18h0m0-4h0m5 5h0" stroke="#8b5548" vector-effect="non-scaling-stroke"/>
<path d="M578 428h0m5 0h0m1 0h0m17-8h0m2 1h0m3 9h0m3-8h0m3-2h0m7 2h0m10 12h0m0 2h0m-2 6h0m-5 3h0m-3-12h0m-5 13h0m-1-12h0m0 9h0m-3-3h0m-4 5h0m-1-4h0m0-2h0m-1 2h0m-2 1h0m-1-4h0m-1-1h0m-1 2h0m-2 0h0m-5 0h0m0 3h0m0 2h0m-1-4h0m-1 2h0m-5 0h0m-1 4h0m0-1h0m-2-11h0m-3 1h0m-1 7h0m-4 3h0m-1-5h0m-2 4h0m-1 0h0m-4-1h0m-2-4h0m-3 10h0m7 12h0m2-10h0m2 5h0m6-4h0m0 2h0m1 2h0m1 4h0m0 0h0m1-10h0m1 0h0m1-2h0m2 11h0m3-5h0m5-5h0m0 0h0m2 2h0m1 4h0m1 5h0m0-3h0m0-9h0m1 4h0m0-3h0m2 11h0m2-1h0m1-10h0m3 4h0m3 1h0m1-3h0m0 7h0m1 4h0m0-4h0m1 5h0m1-12h0m3-3h0m1 13h0m0-2h0m1-5h0m2 8h0m9-6h0m5 6h0m2 0h0m4-5h0m5 17h0m-9-2h0m-3 5h0m-6-7h0m0 8h0m-2-14h0m0 14h0m-5-8h0m-2 1h0m-1-6h0m0 13h0m-1-9h0m-3 7h0m-2-7h0m-2 3h0m-2-1h0m-3-1h0m-1-6h0m-1 4h0m-1 5h0m-2-6h0m0 9h0m-2 2h0m0 1h0m0-8h0m-1 6h0m0-12h0m-1 7h0m0 2h0m0 5h0m-2-13h0m-2 0h0m-1 5h0m-1 6h0m0-2h0m-1-4h0m-2 0h0m-2 6h0m-1-12h0m-1 12h0m-1-10h0m-1 9h0m0-2h0m-1-3h0m-1 1h0m-1 7h0m0-12h0m-1 2h0m0 9h0m-4-1h0m0-2h0m-6-6h0m-1 4h0m-514 21h0m1-5h0m2 1h0m504-6h0m3 6h0m1 4h0m0 0h0m1-12h0m2-2h0m3 3h0m0 1h0m2 1h0m0-3h0m3-2h0m5 2h0m2 9h0m1-1h0m2-7h0m6 10h0m1 2h0m0-12h0m1 6h0m6-8h0m1 8h0m1-3h0m1-3h0m0 9h0m1-2h0m0 5h0m0-15h0m1 2h0m1 1h0m1 0h0m2 12h0m0-9h0m1-5h0m0 3h0m4 8h0m3-8h0m0 10h0m3-13h0m2 14h0m2-7h0m1-6h0m0 6h0m0-3h0m2 7h0m1 3h0m0-11h0m2 10h0m3-11h0m1 10h0m2-8h0m0-5h0m5 9h0m40 20h0m-1-2h0m-3 2h0m-2-8h0m-1-1h0m-1 7h0m-1 2h0m-2-6h0m-1 4h0m-2 0h0m-2 3h0m-3-11h0m-1 9h0m-2 2h0m-1-9h0m-1 5h0m-3-4h0m-2-1h0m0 6h0m-1-2h0m-5-5h0m-13 11h0m-1-14h0m-1 1h0m-4 7h0m-1 2h0m-1-11h0m-6 12h0m-1 3h0m-2-10h0m-4 6h0m-1-6h0m-5 3h0m-2-8h0m-2 0h0m-1 4h0m-1 8h0m0-10h0m-1 4h0m0-1h0m-1-2h0m0 3h0m-5-5h0m-2 5h0m-1-3h0m-3 0h0m-1 8h0m0 1h0m-1 0h0m-1-11h0m-12 6h0m-513-7h0m-2 13h0m-1-6h0m-4-2h0m-1-4h0m0 8h0m-2 2h0m-4-5h0m-1 7h0m3 13h0m4 0h0m1-5h0m6 6h0m4 1h0m516-6h0m1-6h0m3 1h0m1 2h0m3 3h0m2 8h0m0-14h0m14 5h0m5-5h0m3 2h0m4 12h0m2-7h0m4 7h0m3-7h0m4-4h0m15 5h0m3-1h0m1 5h0m1-10h0m2 1h0m7 2h0m3 7h0m1 0h0m3-8h0m0 1h0m3 9h0m0-10h0m1 8h0m0-10h0m1 13h0m0-13h0m0 4h0m1-1h0m0-1h0m1 3h0m0 2h0m7 1h0m1-4h0m3 4h0m1-3h0m7-4h0m-36 13h0m-40 2h0m-1 0h0m-24-1h0m-533 14h0m-1-8h0m-3 2h0m-2-4h0m1 13h0m2 1h0m4-3h0m223 13h0m6-13h0m1 14h0m5 0h0m2-11h0m1 6h0m11 17h0m-5 2h0m-1-1h0m-2-1h0m-4 5h0m0-3h0m-1-11h0m-2 7h0m-3-7h0m0 12h0m0-7h0m-4-3h0m-1 0h0m-1 9h0m-2-8h0m-2-1h0m0-2h0m-6 6h0m2 23h0m0-11h0m3 2h0m2 5h0m2 4h0m1-13h0m0 11h0m4-7h0m3-4h0m3 3h0m2 5h0m4 1h0m2 1h0m1 0h0m3 18h0m-12-1h0m-1-6h0m0 6h0m-1-10h0m-2 5h0m0-3h0m-1-3h0m-11 6h0m-2-1h0m-1 4h0m-188 5h0m-17 6h0m0 9h0m4-3h0m0-7h0m0 3h0m2 5h0m1 0h0m1-4h0m2 4h0m1-6h0m0 4h0m0 0h0m0-4h0m0 1h0m1 6h0m1-5h0m2 5h0m0-5h0m2 5h0m8-4h0m3 3h0m179-3h0m4-8h0m5-1h0m0 4h0m2 0h0m3 8h0m0-8h0m0 2h0m1-5h0m1-1h0m0 8h0m4-2h0m5 1h0m1 0h0m-21 9h0m-17 14h0m-8 1h0m-3-4h0m-8 3h0m-1-2h0m-4 2h0m-1-5h0m-7 1h0m0 2h0m-2 3h0m-3-1h0m0-4h0m0-3h0m0 1h0m-1-6h0m-3 9h0m-5-9h0m-8 13h0m0-4h0m-1 1h0m-4-1h0m-8-4h0m-2 7h0m-1-11h0m-7-1h0m-5 9h0m0-7h0m-1 6h0m-2 2h0m-5 3h0m-5-12h0m-10 11h0m-7-1h0m-2 0h0m-2 2h0m-4 0h0m-46-12h0m-1-1h0m-1 9h0m-2-9h0m-2 8h0m-3 0h0m-1-8h0m0 2h0m-1-2h0m-3 10h0m-2 2h0m0-12h0m-2 12h0m-2-8h0m0-3h0m0 7h0m-2-10h0m0 5h0m-2-3h0m-2 1h0m-8 11h0m-3-8h0m9 10h0m2 1h0m7 0h0m1 4h0m40 4h0m10 0h0m4 2h0m6 2h0m4-6h0m3 4h0m1 0h0m5 3h0m0-6h0m3 0h0m9-2h0m1-6h0m3 11h0m1 3h0m1-14h0m5 5h0m4 10h0m5-9h0m1 0h0m1-2h0m1 11h0m5-11h0m1 8h0m0 0h0m1-1h0m0 4h0m1-9h0m1-1h0m0 2h0m0 5h0m1-6h0m0 4h0m1-2h0m0-5h0m1 2h0m0 4h0m9-5h0m2 7h0m2-1h0m3-1h0m1-8h0m0 7h0m1 5h0m1-11h0m3 8h0m0 5h0m2-7h0m1-2h0m1 5h0m2 0h0m0-8h0m2 1h0m3 10h0m5-2h0m2-9h0m0 12h0m0 0h0m3-11h0m4 9h0m1-3h0m2 4h0m2-2h0m1-3h0m6-8h0m2 9h0m3-6h0m11-1h0m4 8h0m-1 20h0m0-2h0m-1-4h0m0 1h0m-4 1h0m-1-5h0m0 4h0m-10-10h0m-2 6h0m-3 9h0m-1-2h0m0-3h0m-2 2h0m-1-1h0m-1-2h0m-2 6h0m-1-5h0m-5-3h0m-3 0h0m-2 1h0m-2 2h0m-4-3h0m-3-3h0m-3 0h0m-1 1h0m0 9h0m-2-13h0m0 14h0m0-10h0m-1-4h0m0 5h0m-1-3h0m-1 5h0m0-5h0m0 9h0m0-11h0m-2 9h0m-1-8h0m-1 3h0m0 3h0m-1-2h0m0 1h0m-1 2h0m-1 1h0m0 4h0m-2-14h0m-1 0h0m0 7h0m-1 0h0m-2-4h0m0 4h0m-1 5h0m-1 0h0m-1-7h0m-1 10h0m-3-1h0m-2-7h0m-1-2h0m0 0h0m-2 6h0m-1 3h0m0-5h0m0-9h0m-1 9h0m-1-9h0m-1 14h0m0-1h0m-2 1h0m0 1h0m-1-11h0m-9 10h0m-1-12h0m-1 9h0m0-10h0m-1 12h0m-2-12h0m-1 8h0m0-3h0m-3-1h0m0 4h0m0-5h0m-1-4h0m-4 14h0m-2-2h0m-4-2h0m-1-1h0m-1 6h0m-5-7h0m-1 6h0m-5-8h0m-1 3h0m-3-1h0m-4-2h0m-2-6h0m-2 13h0m-1-4h0m-2 0h0m-17 0h0m0 7h0m7 4h0m0-2h0m6-1h0m9 7h0m1 4h0m1-5h0m1-5h0m1 8h0m5-10h0m0 7h0m2 8h0m1-2h0m0-8h0m8 7h0m1-11h0m2 4h0m2-1h0m1 6h0m1 1h0m0 4h0m2-3h0m1-12h0m1 0h0m4 12h0m1 2h0m0-13h0m1 2h0m1-3h0m2 14h0m1-5h0m1-7h0m0 8h0m4 1h0m4-11h0m3 10h0m0 4h0m0-11h0m2 2h0m2 3h0m2 5h0m4-7h0m0-1h0m4 3h0m2-3h0m2-2h0m1 8h0m2 4h0m0-2h0m1-12h0m0 4h0m0 5h0m2-10h0m2 6h0m0-5h0m1 1h0m1 2h0m3 2h0m0 2h0m1 4h0m0-9h0m1 0h0m0 5h0m0-7h0m2-1h0m0 8h0m1-4h0m0 2h0m1 6h0m0 1h0m2-5h0m0-4h0m4 2h0m1 2h0m0-3h0m8-5h0m1 5h0m1 10h0m2-10h0m1 5h0m6-1h0m2-8h0m1 2h0m5-2h0m1 14h0m1 0h0m9 0h0m3-4h0m1 0h0m1-2h0m1 5h0m0-14h0m0 8h0m0 1h0m1-1h0m2 6h0m2-8h0m1-5h0m2 3h0m0 0h0m1 9h0m8-5h0m1-1h0m-2 16h0m-2 0h0m0-2h0m0 6h0m-2 2h0m0-8h0m-1-1h0m0 8h0m-3-9h0m-1 8h0m0-5h0m-2 4h0m-3-6h0m-1-2h0m-2 7h0m-23-4h0m-4-5h0m-1 14h0m0-13h0m-3 11h0m-9-5h0m-6 7h0m-1-9h0m-4 2h0m0 0h0m-8-1h0m0 5h0m-1-5h0m-6-6h0m-3 6h0m-3 4h0m-3-1h0m-4 2h0m-1-4h0m-3 6h0m-1-11h0m0 5h0m0-6h0m-1 9h0m-1-4h0m-3 1h0m-10-6h0m-2 14h0m-3-14h0m-3 12h0m-2 1h0m-2-5h0m0 2h0m0-3h0m-1 4h0m-1-9h0m-2 0h0m-1-3h0m0 11h0m-2-6h0m-3 1h0m0 7h0m-1-9h0m0 9h0m-1-1h0m0 2h0m-2-6h0m0 7h0m0-13h0m-6-1h0m0 6h0m-1 0h0m-9-5h0m-1 15h0m2 0h0m8 11h0m4-4h0m2 6h0m2-13h0m4 7h0m0-6h0m2 0h0m1 0h0m3 0h0m1 1h0m4 4h0m3-7h0m1 1h0m7 0h0m12 1h0m89 3h0m1 8h0m1-11h0m1 9h0m2 1h0m1-5h0m0 2h0m4 4h0m2-5h0m6-6h0m-132 14h0m-13 7h0m-1-3h0m-3-3h0m0 4h0m0 1h0m-6 0h0m-4-6h0" stroke="#0b9058" vector-effect="non-scaling-stroke"/>
<path d="M467 344h0m-4-3h0m-4 10h0m-2-3h0m-76 11h0m5 5h0m1-9h0m8 12h0m55-5h0m15-2h0m1 7h0m6-3h0m0-8h0m0-2h0m1 3h0m3 2h0m2 2h0m-2 12h0m-1 6h0m-8-7h0m-3 8h0m0-9h0m0 8h0m0 4h0m-1-7h0m-3 1h0m-1-2h0m-2-4h0m-1 5h0m-1 2h0m-49 2h0m-35-9h0m-1 7h0m-17 5h0m-15-9h0m-17 15h0m44 5h0m34 2h0m20-4h0m31-6h0m5 3h0m3 6h0m1-9h0m2 9h0m5-1h0m1 1h0m0-4h0m4 1h0m0 3h0m3-3h0m0-7h0m-40 15h0m-31 7h0m-9-7h0m-12 13h0m-9-5h0m-5-7h0m-4 9h0m-27-1h0m-13 6h0m-6-2h0m-7-3h0m-1-1h0m-11-4h0m-21 17h0m1 3h0m11-8h0m7 5h0m13-1h0m4-5h0m8 14h0m3-4h0m1 4h0m2-10h0m5-3h0m0 10h0m10-4h0m30 5h0m55-4h0m5 3h0m3 3h0m30-13h0m4 1h0m-16 28h0m-16-8h0m-1 6h0m-3-3h0m-2 2h0m-6-1h0m-6-6h0m0 9h0m-1-9h0m-3 2h0m-12 3h0m-14-6h0m-3 7h0m0-6h0m-4 4h0m-7 6h0m-4-3h0m-14-5h0m-7 3h0m-7 2h0m-2-8h0m-11 11h0m-2-11h0m-5 10h0m-12-5h0m-4 0h0m-12-7h0m-4 3h0m-6 1h0m-1 0h0m14 14h0m5 1h0m1 4h0m1-1h0m1 7h0m2-8h0m8 7h0m0-4h0m8-8h0m0 8h0m2 2h0m9 3h0m4-3h0m40-5h0m20 7h0m5-6h0m2-3h0m1 11h0m0-14h0m2 11h0m0-2h0m10-2h0m1 7h0m1-13h0m4 0h0m1 2h0m0 0h0m0 1h0m3 3h0m4 3h0m4-9h0m1-2h0m5 14h0m1-5h0m1 2h0m0-1h0m4 5h0m5-1h0m1 1h0m0 12h0m-6-8h0m-3 1h0m-3 11h0m-4-14h0m-1 10h0m-2-7h0m-1-4h0m0 4h0m-3 8h0m-1-4h0m-2 5h0m0 1h0m-1-4h0m-1-1h0m0-4h0m-1-2h0m0-1h0m-2 12h0m-3-10h0m-4 3h0m-1 0h0m0-4h0m-4 1h0m0-1h0m-3 8h0m-1 3h0m0-3h0m-8-11h0m-27 2h0m-2 9h0m-40-11h0m-5 0h0m-16 13h0m-8 2h0m-11-11h0m-7 7h0m21 9h0m84 9h0m1-13h0m7 5h0m1-4h0m1 11h0m2-9h0m2 8h0m3 0h0m4-9h0m3 13h0m1-11h0m5 5h0m1-6h0m0 4h0m1 1h0m0 7h0m1-11h0m1-4h0m6 9h0m1-5h0m0 4h0m0 3h0m1 3h0m1-2h0m1-7h0m0 7h0m0 0h0m3-5h0m3-2h0m0 9h0m3-9h0m2-4h0m0-1h0m1 4h0m2 3h0m0-1h0m4-5h0m3 0h0m2 9h0m0-5h0m8 9h0m53 16h0m-59-14h0m0 5h0m-3 9h0m-4-14h0m-2 5h0m0 5h0m-3-7h0m0-2h0m-1 5h0m0-5h0m-2 2h0m-1 6h0m-2 4h0m-1-2h0m-3-3h0m-1 3h0m0 0h0m-2-8h0m0 10h0m-1-2h0m-8-11h0m-3 10h0m-1-10h0m-2 4h0m0-3h0m-1 2h0m-1 10h0m0-4h0m-2-4h0m0-4h0m-2 5h0m-2 7h0m-2-2h0m-1 3h0m-3-12h0m-3 10h0m0-1h0m-2-11h0m-5 1h0m0 10h0m-1-9h0m0 4h0m-1 7h0m-3-12h0m0 2h0m-1 5h0m0 3h0m-11 2h0m-32 15h0m12 2h0m6-5h0m12-3h0m1 7h0m0-7h0m1 8h0m5-12h0m3 1h0m0-2h0m1 11h0m3 3h0m3-15h0m1 1h0m0 10h0m1 0h0m5-4h0m0 2h0m0-3h0m0-3h0m3 5h0m1 5h0m1-8h0m0 4h0m1-1h0m1 0h0m1-6h0m4 10h0m0 1h0m1-3h0m0-7h0m1 6h0m1-3h0m2 4h0m1 3h0m0-13h0m2 0h0m3 7h0m0 4h0m2 0h0m3-8h0m5 6h0m0 5h0m1-13h0m1 11h0m1-5h0m3-1h0m1 2h0m3-2h0m0 3h0m3-3h0m4-4h0m3-2h0m2 4h0m0 9h0m2-3h0m2 5h0m3-8h0m6-7h0m37 15h0m9-4h0m0-7h0m2 0h0m15 24h0m-1 2h0m-4-5h0m-8 2h0m-2-5h0m0 4h0m-4 1h0m0-3h0m-4-6h0m-7 11h0m-2-5h0m0 3h0m-36-8h0m-1 8h0m-1-4h0m-4-2h0m0 0h0m-2 10h0m-2-7h0m0-8h0m-8 2h0m-1 6h0m-4 7h0m-3-13h0m-1-1h0m-1 8h0m-1 1h0m-1-5h0m-1 0h0m-2-1h0m0-3h0m-1 10h0m0 4h0m-2-14h0m0 11h0m-1-1h0m0-9h0m-1 1h0m0-2h0m-1 6h0m-1-5h0m-2 2h0m-2 8h0m-2-11h0m0 14h0m0-5h0m-3-7h0m-1-2h0m-1 8h0m-3 2h0m-1 4h0m0-6h0m-1-5h0m0-4h0m-2 7h0m0 7h0m-1-12h0m-1 2h0m-1-1h0m-1 3h0m-1 9h0m-1-2h0m-2-10h0m0 0h0m-1 8h0m0 1h0m0 1h0m-4-6h0m-3 0h0m-4 6h0m0-5h0m-1 4h0m-1-6h0m-1-5h0m-2 10h0m-2 3h0m-1-3h0m0 1h0m-1-6h0m-1-2h0m-1-1h0m-1 4h0m0 8h0m-2-15h0m-1 2h0m0 6h0m-1 1h0m-2 5h0m-1-8h0m0-3h0m-2 8h0m0 2h0m-4 1h0m-1 0h0m-7-10h0m0 9h0m-1-10h0m-2 7h0m-4 3h0m-2 0h0m-2-2h0m-1-2h0m-1 2h0m-1 2h0m-2 0h0m-5-6h0m0 3h0m-14 16h0m7 1h0m2-4h0m1-2h0m1 5h0m0-8h0m2 0h0m2 3h0m2 10h0m3-10h0m0 8h0m0-8h0m0 5h0m0-6h0m1 8h0m1-1h0m0-2h0m1-5h0m1 1h0m3-5h0m1 9h0m3-8h0m0 6h0m0 0h0m1 3h0m2 1h0m0-8h0m3 6h0m2-6h0m3 3h0m4 5h0m0-4h0m3-4h0m0 5h0m3 4h0m6-6h0m0-2h0m3-2h0m1 8h0m1-1h0m0-4h0m5-4h0m7 5h0m1 7h0m0-13h0m4 2h0m0 7h0m1 1h0m0-6h0m1 1h0m0-3h0m1 12h0m2-13h0m1 7h0m0-2h0m3 6h0m2-6h0m1 5h0m4 0h0m0-1h0m0-1h0m2 3h0m1 2h0m1-5h0m2 2h0m0-10h0m4 5h0m1 3h0m2-8h0m2 6h0m7-5h0m1 0h0m1 7h0m1-2h0m0-2h0m0-5h0m2 9h0m1-3h0m1-6h0m1 9h0m1-7h0m2-1h0m0 11h0m1-3h0m3 3h0m1-4h0m4 7h0m4-5h0m43-1h0m2 0h0m1 3h0m3-6h0m8-3h0m3-1h0m0 11h0m3-12h0m0 2h0m7 2h0m0 0h0m1 6h0m1-2h0m5 1h0m2 3h0m-9 12h0m-1 1h0m-3-2h0m-1 1h0m0-1h0m-2 5h0m-2-1h0m-3-12h0m0 7h0m-1 1h0m0 6h0m-1-11h0m-2 8h0m-1 0h0m-4-11h0m-2 15h0m-1-11h0m-42-4h0m-13 7h0m-4-6h0m-8 3h0m-1-1h0m-1 11h0m-2-7h0m-2 8h0m-1-6h0m0-8h0m0 2h0m-4 12h0m-2-5h0m-3-8h0m-3-2h0m-1 6h0m-1 5h0m-1-7h0m-2-2h0m-3 2h0m-1-3h0m-10 3h0m-10 6h0m-9-7h0m0 1h0m-1 4h0m-8 4h0m0-6h0m-4 4h0m-1-10h0m-2 3h0m-3-1h0m-8 7h0m-4-5h0m0-3h0m-1 13h0m-1-2h0m-3-8h0m0-3h0m-1 0h0m-1 2h0m-1 9h0m0-3h0m-3-5h0m-2 4h0m-3 5h0m0 0h0m-3-9h0m-1 9h0m-1-9h0m-2 3h0m79 9h0m4 12h0m1-3h0m8-3h0m1-4h0m1 9h0m2-10h0m10 6h0m4-1h0m1 6h0m5-9h0m5-2h0m4 0h0m5 0h0m48 1h0m1-2h0m1 9h0m0-9h0m0 7h0m2-5h0m2 11h0m7-1h0m2 1h0m5-13h0m8 10h0m-9 18h0m0-12h0m-4 8h0m-8-2h0m-71-4h0m0-1h0m-8 0h0m-14 0h0m-4 2h0m-2-3h0" stroke="#7558a0" vector-effect="non-scaling-stroke"/>
<path d="M206 377h0m0 5h0m-8 1h0m0-4h0m-3-7h0m-5-3h0m-1 11h0m-4 9h0m1 9h0m3 1h0m3-13h0m4 0h0m2 1h0m1 10h0m3-13h0m3 13h0m2-11h0m1 9h0m0 3h0m2-12h0m5 10h0m3-12h0m4 14h0m3-5h0m28-5h0m13 5h0m4-3h0m14 18h0m-9-8h0m-4 14h0m0-13h0m-28 8h0m-5 3h0m-13-7h0m-15-5h0m-2 7h0m0 7h0m-1-13h0m-5-1h0m-7 14h0m-2 1h0m-6-8h0m-4 6h0m-2-4h0m-3-9h0m-3 17h0m12 0h0m8 5h0m1-3h0m1-3h0m12 12h0m1-2h0m3 2h0m18 1h0m6 2h0m7-6h0m12-8h0m8 12h0m2-1h0m6-11h0m12 9h0m1 17h0m-24-9h0m-53 29h0m18-1h0m18-6h0m-4 22h0m-2 1h0m-8-6h0m-2 6h0m-3-4h0m0 0h0m-2-4h0m-1-1h0m-1 7h0m-2-5h0m0-3h0m-2 5h0m-1 1h0m-3-8h0m-4 0h0m0 11h0m-1-2h0m0-1h0m-1-3h0m-3 6h0m0-13h0m-2 1h0m-3 8h0m-1 4h0m0-14h0m-1 9h0m-11 4h0m-6 10h0m8 7h0m6-7h0m0 6h0m3-10h0m1 1h0m1 4h0m1-1h0m2-4h0m0 0h0m2 1h0m3 2h0m1 9h0m3-3h0m1-12h0m0 1h0m1 3h0m1 4h0m1 3h0m0-11h0m1 13h0m5-1h0m0-7h0m0 0h0m4 7h0m0 0h0m1-8h0m1 7h0m3-4h0m0 3h0m1-5h0m2 2h0m3-4h0m1 8h0m1 1h0m0-8h0m81 27h0m-21-7h0m-2-3h0m-52-1h0m-3 6h0m-3 5h0m-3-6h0m-1-6h0m-2 7h0m0 0h0m-1 5h0m-1-7h0m-3 3h0m-1 4h0m-1-1h0m-4-6h0m0-1h0m-1-1h0m-1 2h0m-2-8h0m-1 13h0m-1-4h0m-3 4h0m-2-9h0m-1 6h0m0 1h0m-1-1h0m-1 1h0m0-1h0m-2-3h0m-1-5h0m-2 12h0m-2-5h0m-2 3h0m-1 1h0m0-5h0m-2-2h0m-1 8h0m-1-14h0m-2 11h0m-6 3h0m-2-7h0m-8 0h0m1 17h0m2 5h0m0-2h0m9 0h0m0 4h0m5-14h0m2 12h0m1-13h0m0 6h0m0 6h0m1 3h0m1-14h0m0 3h0m0 2h0m1 6h0m0 2h0m2-7h0m1 2h0m1 0h0m1-2h0m0-5h0m3 9h0m2-7h0m0 8h0m0 3h0m1-10h0m2 0h0m0 4h0m2 1h0m0 1h0m1-2h0m0 2h0m1-7h0m0-1h0m1-2h0m1 2h0m2-2h0m0 8h0m2-6h0m1 1h0m1 6h0m1 5h0m1-13h0m0 7h0m4 3h0m1-9h0m0 3h0m1-4h0m1 6h0m8 3h0m4-4h0m4 1h0m30 6h0m6-3h0m2-6h0m6 6h0m2-6h0m8 1h0m3 6h0m0-11h0m1 7h0m0 3h0m7 3h0m2-6h0m3 7h0m9-11h0m1 7h0m4-2h0m2 9h0m-3 3h0m-6 2h0m-2 6h0m-3-7h0m-2 4h0m-1 2h0m0-10h0m0 2h0m-2 10h0m-5-4h0m0 4h0m-3-6h0m-2-2h0m-7 3h0m0-9h0m-8 10h0m-1-5h0m-2 8h0m-1-8h0m0 0h0m-2 0h0m-7 6h0m-29 1h0m-3-11h0m-1 6h0m-4 7h0m-3-10h0m-3 4h0m-1 5h0m-4-11h0m-3-2h0m0 12h0m-1-12h0m-5 12h0m-3-11h0m-2 9h0m-3-10h0m-2 10h0m-1-1h0m0 6h0m-1-15h0m0 1h0m-3 4h0m-4 9h0m-1-3h0m-4-3h0m0 1h0m-1-8h0m-3 6h0m-6 0h0m-9 3h0m-1-4h0m11 13h0m8 9h0m3-2h0m7-9h0m10 9h0m0-3h0m5 4h0m2-9h0m2 7h0m2 4h0m1-6h0m3-2h0m2-4h0m1 10h0m6-8h0m3 12h0m3-7h0m2 1h0m3-1h0m3-7h0m1 14h0m0-11h0m1 0h0m4 7h0m5 3h0m2-4h0m1-10h0m5 1h0m1 13h0m8-12h0m4 5h0m0 3h0m3 2h0m1 0h0m8 1h0m1 2h0m0 0h0m1-6h0m1-2h0m0-7h0m1 4h0m0 3h0m0 6h0m7-2h0m1 4h0m0-9h0m3 2h0m1 1h0m1-5h0m2 9h0m1 1h0m1-5h0m2-4h0m0 8h0m4-13h0m0 9h0m2 0h0m4 4h0m3 1h0m0-5h0m3 5h0m11 14h0m-7-10h0m-2 1h0m-8 8h0m-8 1h0m-2-7h0m-3 6h0m-1-6h0m-2 2h0m0-1h0m-1 7h0m0-4h0m-2 5h0m-3-7h0m0 2h0m-2 1h0m-3-10h0m0 3h0m-2 9h0m0-3h0m-1 2h0m-2 0h0m-2 1h0m0 3h0m-1-12h0m0-2h0m-1 11h0m-2-7h0m-1 9h0m-1-13h0m-1 8h0m-3-9h0m-1 13h0m-1-8h0m-1 9h0m0-7h0m-3-3h0m-3 6h0m-1-9h0m-4 8h0m-1 6h0m-1-1h0m-1-3h0m-4 1h0m-6-3h0m-2 6h0m-4 0h0m0 0h0m-2-6h0m-3-3h0m-1-2h0m-4 10h0m-1 0h0m0-9h0m-2 6h0m-2-2h0m-4-2h0m-1-7h0m0 7h0m-5-2h0m-8-4h0m10 17h0m13 8h0m1 0h0m2 3h0m1-11h0m1-2h0m1 3h0m2 1h0m0 5h0m3-9h0m2 10h0m1-5h0m2-3h0m4-1h0m3 5h0m4-1h0m3 6h0m0-6h0m1 7h0m7-8h0m2-2h0m1 13h0m2-9h0m0 1h0m1 2h0m3-1h0m0 5h0m2-11h0m1 1h0m1 5h0m1 2h0m1 5h0m2-2h0m1 2h0m1-5h0m1 0h0m1 2h0m2-12h0m0 0h0m1 15h0m0-6h0m1-1h0m2 7h0m3-5h0m3-3h0m1-2h0m0 4h0m0 0h0m0 0h0m1-1h0m0-7h0m2 13h0m1-11h0m1 9h0m1-10h0m4 3h0m4-5h0m4 4h0m6 7h0m1-9h0m-4 16h0m-1 5h0m-3 3h0m0-10h0m-2 6h0m-1 7h0m-4-7h0m-2 5h0m-1-1h0m-1-7h0m-1 2h0m0 0h0m-5 4h0m-6-9h0m-4 10h0m-1-3h0m-2 2h0m-1-1h0m-2-6h0m-2-1h0m-2 9h0m-3-9h0m-1 4h0m-1 10h0m-1-5h0m-1-2h0m-12 3h0m-1-7h0m-31-1h0m33 13h0m1 1h0m0-1h0m6 13h0m2 0h0m2 2h0m0-5h0m5-6h0m3-2h0m4 7h0m3-9h0m2 5h0m1 0h0m1 2h0m6 0h0m3-6h0m0-1h0m4 15h0m3-15h0m3 7h0m15 3h0m3-10h0m-5 16h0m0 4h0m-5-4h0m-1 1h0m-3 13h0m-3-12h0m0-1h0m-1 7h0m-2-8h0m-3 15h0m-1-4h0m-11-3h0m0-5h0m-1-2h0m0 1h0m-2 0h0m-1 2h0m-12 8h0m-1 2h0m1 6h0m7 5h0m10-9h0m7 11h0m1-5h0m6 0h0m2 5h0" stroke="#1f6fb4" vector-effect="non-scaling-stroke"/>
<path d="M612 14h0m34 11h0m0 6h0m-1-13h0m-18 5h0m-1 6h0m-10-5h0m-3 7h0m-8-1h0m0-2h0m-1-1h0m0 0h0m-9 10h0m5 10h0m0-10h0m19 4h0m12 5h0m2-1h0m1-13h0m9 5h0m2 0h0m2-3h0m5-2h0m2 7h0m3-7h0m4 12h0m1 3h0m3-9h0m10 23h0m-2-11h0m-3 12h0m-3-3h0m-4-3h0m-2-5h0m-4 1h0m0-3h0m-5 9h0m-1 2h0m-1-6h0m-4 5h0m0-6h0m-3-3h0m-4 1h0m-1 8h0m0-4h0m0-2h0m-1 7h0m-1 1h0m-5-9h0m0 8h0m-2-7h0m-2-4h0m0-1h0m-1 5h0m-5-1h0m0 6h0m-5 3h0m-1-12h0m-1 11h0m0-6h0m-1 4h0m-3-9h0m-1 2h0m-5-2h0m-3 3h0m-2 10h0m-1-5h0m-6-9h0m-10 7h0m0 5h0m0 0h0m5 8h0m1 5h0m2-1h0m5 1h0m1-3h0m2 9h0m2-14h0m2 5h0m0 6h0m1-1h0m1-3h0m1 6h0m1-2h0m1-9h0m2 7h0m1-8h0m4 0h0m2 6h0m2 7h0m2-13h0m0 9h0m1-7h0m2 5h0m1 2h0m0 2h0m1-2h0m2-11h0m4 10h0m1-1h0m1 4h0m2 0h0m1-9h0m0 8h0m0 1h0m1-10h0m1-2h0m2 1h0m1 4h0m1 0h0m6 0h0m2-4h0m1 4h0m1 7h0m1-4h0m1 1h0m1 1h0m3-2h0m1 5h0m1-14h0m4 7h0m3-5h0m7 5h0m9 7h0m3-3h0m-7 20h0m-3-1h0m-6-9h0m-1-3h0m0 12h0m-1-14h0m-2 6h0m-4-3h0m-1-3h0m-5 9h0m-1-3h0m-5 4h0m-3-4h0m-4 0h0m-2-1h0m-1-1h0m0 4h0m-2-7h0m0 6h0m-2 1h0m-3 0h0m0-4h0m0 4h0m-2-2h0m0 1h0m0 3h0m-1-8h0m-2 2h0m-2 8h0m-1-6h0m-2-3h0m-1-2h0m-3 12h0m0-10h0m0 12h0m-3-9h0m0 8h0m-2 1h0m-2-4h0m-4-2h0m-1 2h0m-2-9h0m0 3h0m-5 1h0m-4-1h0m-3 5h0m-4-3h0m-3 6h0m0-7h0m-1 6h0m-2-12h0m-10 7h0m0 9h0m6 13h0m1-2h0m12-9h0m0 2h0m1-2h0m2-1h0m1 2h0m6 7h0m1-2h0m1 4h0m0-9h0m3 12h0m1-15h0m4 9h0m3-2h0m2 1h0m1-7h0m0-1h0m1 8h0m1-2h0m0-5h0m0 8h0m1-8h0m0 2h0m1 11h0m1-5h0m6-6h0m0 10h0m2-4h0m2-1h0m1 0h0m0-2h0m2 7h0m0-9h0m1 5h0m4-2h0m0 1h0m1 2h0m1-10h0m0 6h0m1 8h0m1-10h0m0 7h0m1-6h0m0-4h0m2 4h0m0 8h0m1-2h0m0-1h0m1 1h0m3-11h0m0 0h0m0 3h0m2-1h0m2 9h0m1-3h0m3 1h0m8-6h0m3 9h0m0-5h0m1 1h0m7-8h0m5 25h0m-7 5h0m-9 1h0m-3-6h0m-3-4h0m-1-1h0m-3 10h0m-1-2h0m-1-1h0m-1-7h0m0 6h0m0-10h0m-3 3h0m-2-1h0m-1-1h0m0 0h0m-1 1h0m-3 7h0m-3 3h0m0 3h0m-3-9h0m-1 7h0m-1-3h0m-2-10h0m-4 15h0m-1-10h0m-1 0h0m-2-2h0m-1 10h0m0-5h0m-2 3h0m-2 1h0m-2-9h0m-1 1h0m-1 7h0m0-10h0m-1 4h0m0 7h0m-2-12h0m-1 1h0m0 10h0m-3-6h0m-1 1h0m-1 6h0m-7 2h0m-2-6h0m-4-4h0m-9 10h0m-2-9h0m-2-1h0m-2 10h0m-2-10h0m1 18h0m6 0h0m0 2h0m1 4h0m10-10h0m1 4h0m2-3h0m0-3h0m0 13h0m3-8h0m0-4h0m5-1h0m1 0h0m1 13h0m0-12h0m1 13h0m1-7h0m1 6h0m0-13h0m3 4h0m2 6h0m1 3h0m1-3h0m1-8h0m0 1h0m1 2h0m4-2h0m1 5h0m1-8h0m2 8h0m7 7h0m1-12h0m1 12h0m0-1h0m4-6h0m4 6h0m0-8h0m4-4h0m1 0h0m4 11h0m5-13h0m1 9h0m1-4h0m2 7h0m5 0h0m6-4h0m2 0h0m-13 15h0m-2-6h0m-1 2h0m-4 2h0m-1-2h0m-4-3h0m-2 14h0m-1-11h0m0 8h0m-5 4h0m0-10h0m-4 7h0m0-7h0m-1 1h0m-4 3h0m-2-4h0m-2 3h0m-2-8h0m-1 6h0m-1 0h0m-1-5h0m-5 2h0m-4 1h0m-4 7h0m-1-8h0m-1 3h0m-1-2h0m0 3h0m-5-4h0m0-3h0m-1 12h0m-8-8h0m-3 1h0m-1 2h0m-5 0h0m-1 1h0m0-3h0m-1 6h0m-14-1h0m-1 4h0m-11 12h0m6 3h0m0-7h0m2 2h0m5 0h0m1 2h0m1-1h0m5 1h0m0 4h0m1-4h0m0-3h0m1 2h0m0 6h0m1-8h0m0 4h0m1-5h0m0 4h0m1-4h0m1 9h0m1-11h0m0-2h0m0-1h0m2 5h0m0 2h0m3 7h0m2-7h0m3 0h0m0 4h0m1-8h0m2-3h0m0 9h0m2 0h0m2 0h0m1-8h0m1-1h0m2 4h0m8-1h0m3 8h0m2-7h0m1-1h0m6 8h0m1-3h0m2-3h0m6 5h0m19-7h0m6 0h0m0-1h0m7-3h0m-18 19h0m-4 4h0m-17-7h0m-3 4h0m0 7h0m-4-6h0m-4 1h0m-6 6h0m-4-3h0m-4-2h0m-3 2h0m-2-4h0m-3-3h0m0 9h0m-3-1h0m0-4h0m0 5h0m-2 3h0m-3-12h0m0 9h0m0 4h0m-1-4h0m-3 3h0m0-4h0m-2-9h0m-7 1h0m-2-1h0m-3-1h0m-6 1h0m8 18h0m0 1h0m0-1h0m2-2h0m2 6h0m6 1h0m5-7h0m46-1h0" stroke="#ef7f31" vector-effect="non-scaling-stroke"/>
<path d="M655 335h0m8-11h0m2 11h0m0 0h0m8-8h0m7 1h0m6 1h0m1-4h0m5 10h0m5-8h0m3 1h0m2 0h0m3 7h0m7 6h0m-2 2h0m0 6h0m-3-3h0m-9-4h0m-1-1h0m-1 4h0m-7-5h0m0 5h0m0-7h0m-1 7h0m0-5h0m0 2h0m-1 9h0m0-3h0m0-10h0m-1 6h0m0-8h0m0 11h0m-1-1h0m-1 4h0m0-11h0m-2 10h0m-2-12h0m0 13h0m0-7h0m-2-7h0m0 12h0m-1-2h0m0 1h0m-1 1h0m-1-4h0m0 7h0m0-4h0m-2 3h0m-1-2h0m-5-8h0m-1 10h0m0-2h0m0 0h0m-2-2h0m0-4h0m-2-6h0m0 12h0m0-2h0m-3 3h0m-5-1h0m0-2h0m-1 4h0m-13 5h0m8-1h0m1 3h0m0-1h0m0 5h0m6-3h0m6-1h0m3-3h0m2 10h0m0-10h0m1 2h0m1 2h0m5-1h0m0 0h0m1-1h0m0-3h0m0 4h0m1-4h0m2 2h0m1 0h0m0 0h0m0-1h0m1 9h0m1-7h0m1 10h0m2-7h0m3-6h0m1 3h0m1 0h0m2 8h0m0-4h0m1-4h0m1 0h0m1-3h0m2 5h0m0 5h0m1 3h0m1-7h0m2 4h0m1-6h0m1 4h0m4 3h0m3 2h0m5-5h0m-12 19h0m-1-5h0m-3 7h0m-1-7h0m-1-4h0m-6 11h0m0-3h0m-2 3h0m0-9h0m-1-5h0m-3 10h0m-1 2h0m-3 2h0m-1-11h0m-1-3h0m-1 12h0m-2-4h0m0-3h0m-2 0h0m-3-4h0m-1 11h0m-1-10h0m0 8h0m-1-6h0m-5 6h0m-2-1h0m-118 22h0m2-9h0m2 9h0m5-10h0m0 9h0m1-3h0m2 3h0m0-2h0m5-5h0m2 8h0m3-9h0m2 8h0m3-9h0m10 5h0m59 3h0m3 1h0m4 1h0m4-10h0m2 7h0m0 2h0m2-3h0m2-6h0m2 6h0m0-9h0m1 0h0m7-1h0m7 5h0m2 5h0m0 4h0m3-7h0m2 4h0m2-11h0m1 9h0m2 2h0m4-4h0m7 7h0m1 0h0m0 0h0m3-6h0m0-7h0m2 9h0m2-8h0m3 1h0m2 8h0m9 3h0m2 0h0m13-2h0m9 16h0m-7-4h0m-2-2h0m-1 0h0m-1 1h0m-2 2h0m-1 0h0m-1-4h0m-6 8h0m0-9h0m-2-3h0m-1 11h0m-4-9h0m-3 1h0m-1-1h0m-1-4h0m0 13h0m0-9h0m-2 0h0m-5 10h0m0-14h0m-1 5h0m-1 0h0m0 10h0m0-2h0m-1-5h0m0-1h0m0 3h0m-2-2h0m-2 3h0m0-7h0m-5 3h0m-1 5h0m-1-2h0m-1-9h0m-3 14h0m-1-9h0m-1 6h0m-1-4h0m-1 3h0m0 4h0m-2-4h0m0 2h0m-1-8h0m0-5h0m0 15h0m-1-11h0m0-4h0m-2 7h0m0-2h0m0 4h0m-3 1h0m-2 3h0m-4 1h0m-15 1h0m-4 0h0m0-4h0m-2-4h0m-3 2h0m-1 2h0m-5 0h0m-1 0h0m-60-11h0m-3 0h0m-2 2h0m0 3h0m-1 8h0m-1-3h0m-1-5h0m-2 7h0m-1-7h0m-1-2h0m-2-1h0m0 0h0m-4 7h0m0 0h0m-2-4h0m-4-4h0m-1 0h0m-3 11h0m78 7h0m11 6h0m2-5h0m8 11h0m2-8h0m2-7h0m1 3h0m1 10h0m0-1h0m1 1h0m2-3h0m1-7h0m0 2h0m0 5h0m0-4h0m2 8h0m0-3h0m1-8h0m1 5h0m0 7h0m1-3h0m2-1h0m0-9h0m3 12h0m0-9h0m0 0h0m0-2h0m1 12h0m3-11h0m0 8h0m3-9h0m4 9h0m0-10h0m1-2h0m1 2h0m3 4h0m1 7h0m2-4h0m1-1h0m1 1h0m0 1h0m2-3h0m0 7h0m0-12h0m1 13h0m1-13h0m0 6h0m4-4h0m4 8h0m1 2h0m2-11h0m4 7h0m1-2h0m0-1h0m2 4h0m1-7h0m2 3h0m3-4h0m8 7h0m3-4h0m1-5h0m3 7h0m16-3h0m-10 15h0m-8-4h0m-6 1h0m-3 6h0m-1-6h0m-1 14h0m0-9h0m-1-3h0m0 3h0m-2 2h0m-2-7h0m-2 4h0m0-3h0m0 5h0m-1 1h0m0 6h0m-2-11h0m0 11h0m0-12h0m-1 13h0m-4-12h0m-2 10h0m-2-9h0m0 0h0m0 4h0m-1-3h0m0-1h0m-1-2h0m-2 10h0m-5-8h0m-1 5h0m0-7h0m-1 3h0m-3-4h0m-5 9h0m-1-5h0m-4-2h0m-5 0h0m-3 7h0m-3-1h0m-2-7h0m0 0h0m-3 0h0m-1 0h0m-3 13h0m0-9h0m-7-2h0m0 1h0m-5-3h0m-1 3h0m7 11h0m9 4h0m1-3h0m11 7h0m3-2h0m7-5h0m0 7h0m0 0h0m5-7h0m1 0h0m3 3h0m2-4h0m3 13h0m0-12h0m10 14h0m1-12h0m2 3h0m2-3h0m0 5h0m6-5h0m-24 27h0m-22-8h0m-8 2h0m-2 1h0m-17 15h0m7-3h0m1-2h0m2 8h0m0 2h0m4-3h0m2 1h0m0-1h0m3-1h0m0 4h0m2-8h0m0 2h0m0 7h0m3-1h0m1-6h0m2 6h0m1-2h0m6-1h0m4-1h0m3 0h0m10 6h0m1-8h0m2 21h0m-1-4h0m-3 7h0m-3-2h0m0-2h0m-3 4h0m-3-7h0m0-1h0m0-1h0m-1 4h0m-2-4h0m-1 4h0m-2-6h0m-5-1h0m-3 2h0m-1-1h0m-2 10h0m0-4h0m-3 0h0m-4 4h0m-5-11h0m0 1h0m0 6h0m-17-3h0m8 17h0m11-3h0m7 8h0m2 0h0m1 0h0m1-13h0m0 2h0m4 10h0m1-8h0m7-4h0m4 2h0m11 4h0m-36 12h0m-4 0h0" stroke="#db2030" vector-effect="non-scaling-stroke"/>
<path d="M586 590h0m1-6h0m3 4h0m16 3h0m7-1h0m4-5h0m8-2h0m28 22h0m-20-11h0m-1 7h0m-6 2h0m-3-5h0m-1 5h0m0 4h0m-1-4h0m-2 4h0m-3-11h0m0 8h0m-7-4h0m-1 3h0m-6-7h0m-4-1h0m-7 0h0m-4 11h0m-1-4h0m0 3h0m-36 12h0m2-7h0m11 4h0m1-4h0m2 2h0m1-3h0m6 4h0m2-3h0m1-2h0m1 11h0m1-8h0m3 2h0m0 3h0m1-2h0m1-5h0m1 1h0m3 12h0m0-9h0m4 6h0m4-10h0m2 13h0m2 0h0m1-9h0m2 6h0m7-1h0m2 3h0m1-1h0m1 0h0m0-7h0m3 6h0m6 2h0m2-8h0m3 6h0m0-7h0m1 4h0m3 2h0m1 2h0m1-12h0m4 9h0m0 3h0m2-4h0m6 7h0m1-11h0m3 11h0m1-2h0m2-5h0m1-1h0m1-5h0m5 8h0m1 5h0m11 9h0m-12-7h0m-1 11h0m-3 0h0m-2-12h0m-8 9h0m-1 5h0m-1 0h0m-2-10h0m0-2h0m-1 1h0m-2 4h0m-2-2h0m-4 10h0m0-12h0m-1 2h0m-1-4h0m0 9h0m0 4h0m-6-1h0m-4-11h0m0 10h0m-3-8h0m0 0h0m-1 5h0m-1-7h0m-1 6h0m-3-4h0m-2 7h0m-2 3h0m-1-3h0m0-10h0m-2 1h0m-2 6h0m0 1h0m-1 3h0m-3-12h0m-1 10h0m-5 4h0m-2 0h0m0-13h0m-1 4h0m-1 3h0m0 5h0m-1-10h0m-1 12h0m0-15h0m-2 2h0m-1-2h0m-3 8h0m-1-5h0m-1 2h0m0 1h0m-1 2h0m-1 2h0m0 1h0m-6-5h0m-1 9h0m-1-15h0m-6 5h0m-2 7h0m-2-8h0m-1 7h0m-2 2h0m-5-11h0m-3 4h0m-4 17h0m2-4h0m2-1h0m7 3h0m2 0h0m0 3h0m1-1h0m3-5h0m1 3h0m4 7h0m1-5h0m2 2h0m1 0h0m3-1h0m1-4h0m2-2h0m2 7h0m6 1h0m0-2h0m3-6h0m2 12h0m1-13h0m1 9h0m3-10h0m1 9h0m1-8h0m0 13h0m3-10h0m0 11h0m2-3h0m1 3h0m2-8h0m0 5h0m1-4h0m2 7h0m3-8h0m2 4h0m0-1h0m0 3h0m1-8h0m1-4h0m0 7h0m2 1h0m1 4h0m2-5h0m1-8h0m3 5h0m8 3h0m5-4h0m1-1h0m3 11h0m0-7h0m7 0h0m1 2h0m1-7h0m5 6h0m0 5h0m3-3h0m0 5h0m3-15h0m1 0h0m10 4h0m2 24h0m-3-7h0m0 4h0m-9-6h0m-12 1h0m-1 4h0m-1-8h0m0 0h0m-1 9h0m-3-1h0m-1-7h0m-3 2h0m-1-1h0m-1 4h0m0 0h0m-3 2h0m-2 1h0m-5-6h0m-1-1h0m0 11h0m-4-13h0m0 11h0m-3-7h0m-1 2h0m-6 6h0m-1-12h0m-1 9h0m-1-6h0m0 4h0m0 4h0m-3-10h0m-1 9h0m0-7h0m-1 4h0m-1 4h0m-2 1h0m-2-7h0m-2 1h0m-2 1h0m-1-5h0m0 3h0m-1 0h0m-1 1h0m-8 3h0m-1 6h0m-3-13h0m-4 10h0m-4 3h0m-3-2h0m-1 1h0m-1-8h0m-3 8h0m-4 1h0m-16-6h0m12 15h0m6-8h0m3 9h0m4 3h0m5 1h0m1-8h0m3 0h0m1-2h0m1 3h0m1-5h0m2 5h0m2-5h0m1 0h0m5-1h0m1 5h0m1 4h0m1 6h0m1-9h0m2-1h0m0 10h0m1-3h0m2-12h0m5 10h0m0-5h0m2 8h0m3-11h0m5 12h0m3-9h0m8-3h0m0 10h0m1-1h0m1 1h0m2-6h0m0 9h0m4-8h0m5-1h0m1 9h0m0-2h0m4-3h0m5-2h0m7-2h0m4 0h0m1-2h0m-8 18h0m-1-6h0m-27 7h0m0-7h0m-2 13h0m-1-12h0m-5 13h0m-7-13h0m-4 6h0m-6-5h0m-7-1h0m-3 5h0m-2-5h0m-3 12h0m-2-10h0m-1-2h0m-3-1h0m-3 10h0m-2-3h0" stroke="#b88f86" vector-effect="non-scaling-stroke"/>
<path d="M622 187h0m-13-2h0m-15-1h0m-8 7h0m-4-8h0m-7-3h0m-10 5h0m-34 18h0m12-5h0m4 9h0m4-11h0m1 2h0m3 2h0m0-2h0m3 7h0m4-4h0m5-4h0m8 8h0m1-10h0m2 5h0m4 1h0m0 3h0m2 3h0m2-5h0m1-9h0m3-1h0m2 11h0m1-8h0m3 0h0m2 11h0m1-6h0m0 4h0m5 2h0m2-4h0m0-4h0m4 2h0m0 5h0m2 2h0m2-11h0m0 5h0m5-8h0m3 14h0m1-3h0m1-7h0m0 9h0m15-4h0m6 4h0m2-11h0m11 11h0m0 0h0m8 10h0m-3-2h0m-8 6h0m-3-10h0m-3 4h0m-1 6h0m-3-12h0m-2 11h0m0-3h0m-1-5h0m-7-3h0m-3 1h0m-1 11h0m0-3h0m-1 4h0m-1-4h0m0-7h0m-1-1h0m0 6h0m0 5h0m-3-2h0m-3 4h0m-1-9h0m0-4h0m-2 14h0m-1-12h0m0-2h0m-4-1h0m-1 14h0m-3-11h0m0 5h0m0-6h0m-1 12h0m-4-8h0m-2 6h0m-4-11h0m0 9h0m0 2h0m-1-5h0m-1-3h0m-3 5h0m-1-6h0m-8-1h0m-1 6h0m-1 5h0m-2-8h0m0 5h0m-1 1h0m-2 4h0m0-1h0m-1-10h0m-4-4h0m-1 14h0m-2-1h0m-1-1h0m-1-1h0m-2 2h0m-3-2h0m-1-9h0m-5 11h0m-1 2h0m-2-6h0m0-3h0m-1-6h0m0 11h0m-5 1h0m-5 3h0m-2-15h0m-5 9h0m-2 4h0m-3 0h0m-7 13h0m2 4h0m6-2h0m6-8h0m2-2h0m0 4h0m0-3h0m6 7h0m7-4h0m1-3h0m3-3h0m4 0h0m2 8h0m2 0h0m1 6h0m0-1h0m3-10h0m0 9h0m0-10h0m1 0h0m4 1h0m4 3h0m1 9h0m4-7h0m1-2h0m0 5h0m1-4h0m0-4h0m0 9h0m1-5h0m1-2h0m2 0h0m1 3h0m3 6h0m1-7h0m1 1h0m1-4h0m1 11h0m4-5h0m2-9h0m1 13h0m4-14h0m0 2h0m1 2h0m0-1h0m1 0h0m1-3h0m0 2h0m0-1h0m5 3h0m0-2h0m2 10h0m0-9h0m1 5h0m2-3h0m0-2h0m2-2h0m1 12h0m1-3h0m1 0h0m3-2h0m1-4h0m0-3h0m4 11h0m0 3h0m3-8h0m0-1h0m1 4h0m1 1h0m0 1h0m7-6h0m2 4h0m3 2h0m2-6h0m2 5h0m9-1h0m0 0h0m-4 12h0m-1-5h0m-8 10h0m-5 1h0m-5 0h0m-1-9h0m-2 5h0m-1 6h0m-4-12h0m0 4h0m-3 4h0m0-7h0m-9 5h0m0-1h0m-2 0h0m-2 4h0m-1 0h0m-2 0h0m-1-9h0m-1 13h0m-2-7h0m0-2h0m0-1h0m-3 5h0m-2 3h0m-1-12h0m0 7h0m0-5h0m-5 11h0m-1-11h0m-1-1h0m-1 2h0m-2-3h0m0 4h0m-2 0h0m-5 3h0m-2-6h0m-2 13h0m-1-12h0m-3 6h0m0-8h0m-2 10h0m0-1h0m-2-5h0m-1 0h0m0-4h0m-3 0h0m0 9h0m-1-4h0m-1-3h0m-3 10h0m-2-5h0m0 7h0m-4-6h0m-2-8h0m-5 0h0m-2 7h0m-5 5h0m-3-5h0m-2 6h0m-2-2h0m-2 2h0m-16 17h0m5-2h0m3-7h0m1-3h0m3 6h0m1-8h0m1 6h0m0-4h0m4 8h0m1-1h0m0-1h0m1 5h0m5 0h0m1 1h0m1-10h0m1-2h0m0 12h0m3-15h0m3 9h0m1-7h0m3 2h0m5 0h0m6 3h0m4 0h0m15 2h0m5 0h0m1 0h0m4-8h0m3 6h0m0-7h0m12 11h0m3-5h0m8 1h0m1 5h0m0-9h0m7-1h0m0 0h0m-34 15h0m-53 1h0m-1 0h0m-2 13h0m-4-15h0m0 14h0m-1-13h0m0 1h0m-6 2h0m0 5h0m-1-9h0m0 11h0m-2-11h0m0 3h0m-3 10h0m-2 0h0m-1-4h0m5 15h0m4-8h0m1 5h0m4-1h0m2 3h0m7-5h0" stroke="#9fbadf" vector-effect="non-scaling-stroke"/>
<path d="M446 59h0m-5 3h0m-1-12h0m-7 11h0m-5 13h0m4 3h0m3-9h0m11 11h0m6-9h0m0 1h0m-2 11h0m-5 1h0m-1 11h0m-2-14h0m-2 3h0m-6-1h0m-3-1h0m1 16h0m1 10h0m0 1h0m3-2h0m1 4h0m2-2h0m0 1h0m0-9h0m2 5h0m0-4h0m1 1h0m2-2h0m2 4h0m0 5h0m1 2h0m0-4h0m0-10h0m1 9h0m0 5h0m2-14h0m5 0h0m0 5h0m1 9h0m1 8h0m-3 7h0m0-4h0m-1-3h0m0-1h0m0-6h0m-1 14h0m0-5h0m0-9h0m-2 8h0m-4-2h0m0 5h0m-1 2h0m0-11h0m0 3h0m-3 0h0m-2 1h0m0-5h0m-1 14h0m-3-9h0m-2 5h0m0-3h0m-1-3h0m-1-4h0m-2 6h0m-3 2h0m2 21h0m3-9h0m0 8h0m1-9h0m3 2h0m2 8h0m0-2h0m1-4h0m1 6h0m1-14h0m2 0h0m0 7h0m1-7h0m0 15h0m2-6h0m5 4h0m0-5h0m7 0h0m0 15h0m-7-7h0m-3 9h0m0-6h0m0 0h0m-2-1h0m-1 6h0m-1 2h0m0-6h0m-1 5h0m0 4h0m-2-12h0m0 4h0m0 5h0m0-3h0m-1-5h0m-1-1h0m0 5h0m-1 9h0m-2-4h0m0-6h0m-2 9h0m0-4h0m-1 1h0m0-6h0m0-3h0m0 0h0m-2 6h0m1 17h0m1 0h0m2-3h0m0 9h0m0 0h0m0-13h0m1 4h0m2 0h0m1-1h0m1-1h0m0-3h0m2 7h0m0-1h0m1 2h0m0-1h0m1 7h0m1-9h0m0 2h0m1-6h0m0 0h0m0-2h0m1 4h0m0 8h0m2-4h0m1-7h0m5 4h0m21 13h0m-9 11h0m-2-3h0m0-2h0m0-1h0m-8 7h0m-1 0h0m-1-9h0m0-2h0m-1-3h0m-2 15h0m-1-4h0m-4-9h0m-1 0h0m-1 7h0m0-1h0m-1-4h0m-4-1h0m0 6h0m-3-2h0m0 7h0m0 1h0m-3-5h0m-2-9h0m-2 12h0m-4-12h0m0 2h0m-1 28h0m3-15h0m2 6h0m3 4h0m1-1h0m0-9h0m0 10h0m2-7h0m0 7h0m1-1h0m2 4h0m1-4h0m1-1h0m1 4h0m0-11h0m0 5h0m1 4h0m2-8h0m1-2h0m1 15h0m1-14h0m6 2h0m2 0h0m1 2h0m4 0h0m2 1h0m0-2h0m1-1h0m1 3h0m1-5h0m0 8h0m1 0h0m4-2h0m0-4h0m1 11h0m5 2h0m-7 10h0m0-7h0m-2-3h0m-2 12h0m-1-9h0m-7-3h0m0 7h0m-2-3h0m-5 1h0m-1 0h0m-2 5h0m-1-1h0m0 0h0m-1-9h0m-1 5h0m-4 0h0m-5 4h0m0 12h0m4 5h0m4-9h0m1 10h0m2-7h0m4 0h0m1 9h0m0-4h0m0 6h0m12-8h0m8-7h0m-30 19h0m-2 6h0m-1 6h0" stroke="#d57ab0" vector-effect="non-scaling-stroke"/>
<path d="M282 170h0m3 0h0m1-2h0m1 4h0m2 0h0m2-5h0m4 8h0m0-12h0m0 11h0m1-7h0m0-3h0m4 5h0m4 0h0m11 15h0m-7 3h0m-2 0h0m-1-8h0m-2-1h0m0 3h0m-1 6h0m0-9h0m-3 12h0m-3-1h0m0-2h0m-2-2h0m-2-9h0m-1 3h0m-1 10h0m-1-1h0m0 2h0m0-12h0m0 9h0m0 0h0m-2-6h0m-1 8h0m-1-8h0m-1 7h0m-4-3h0m-1-6h0m0 0h0m-1 0h0m-2 2h0m0-1h0m-3 7h0m0-4h0m0-5h0m-5-1h0m-1 6h0m-1 13h0m3-2h0m5-1h0m1 0h0m2 7h0m0-8h0m1 3h0m1 4h0m2-1h0m0 4h0m2-7h0m1 6h0m2-5h0m0-3h0m0 1h0m1 9h0m0-10h0m0 12h0m1-11h0m3 12h0m1-3h0m2-3h0m0 1h0m1-5h0m2 4h0m2-2h0m1-6h0m1 2h0m1 12h0m1-12h0m11 2h0m0 11h0m10-4h0m22 10h0m-1-4h0m-3 14h0m-1-3h0m-2-8h0m-3 11h0m-1-15h0m0 6h0m-2 7h0m0 2h0m-1-11h0m-2 7h0m-1 2h0m0-4h0m0-6h0m-3 4h0m-5 6h0m-4 0h0m-2-2h0m-1-2h0m-1-1h0m-2-4h0m-2-4h0m-5 0h0m-4 14h0m-1 0h0m-1-1h0m-1-4h0m-1-1h0m-6 0h0m-19-7h0m19 16h0m2 12h0m3-11h0m0 11h0m1-13h0m4 9h0m2-6h0m1 12h0m1-12h0m1 6h0m0-7h0m1 6h0m0 6h0m2-10h0m3 6h0m0-5h0m1 8h0m2-5h0m1-7h0m0 3h0m0 7h0m1-8h0m1 1h0m0 9h0m0-1h0m1 3h0m0-8h0m0-5h0m3 1h0m0 5h0m1 0h0m0 6h0m3-1h0m0-8h0m2-2h0m0-3h0m1 2h0m0 6h0m2 3h0m0-6h0m1 1h0m1-6h0m4 12h0m0-5h0m2-6h0m1 3h0m1 5h0m0-7h0m2-1h0m0 7h0m4 2h0m1-4h0m12-2h0m-14 13h0m-3 5h0m-8-1h0m0 0h0m-1 0h0m-7 0h0m-2 10h0m-2-7h0m-2 7h0m-3-1h0m-3-4h0m-4 5h0m-1 0h0m-5-9h0m-2 7h0m-6 2h0m-4-13h0m-4 24h0m2-1h0m6-3h0m1 7h0m1-7h0m5 7h0m5-1h0m1 0h0m0-3h0m3 0h0m0-5h0m0-3h0m6 9h0m0 2h0m5-4h0m3 0h0m0 6h0m1-1h0m1-10h0m25 3h0m-1 19h0m-1 6h0m-34-12h0m-6-1h0m-1-2h0m-1 5h0m-1-3h0m0 0h0m-5 8h0m-3-5h0m-2 3h0m-12-4h0m-8 7h0m-9-10h0m2 25h0m18-7h0m1 4h0m0 8h0m10-9h0m8-6h0m11 8h0m18 0h0m6 21h0m-64-9h0m-6 7h0m18 5h0m2 6h0m1-2h0m2-3h0m26 10h0" stroke="#87bd88" vector-effect="non-scaling-stroke"/>
<path d="M383 251h0m-65 19h0m93-1h0m32 0h0m7 18h0m-20-11h0m-40 2h0m-73 7h0m-11 18h0m6-15h0m11 14h0m1-7h0m4 2h0m4-4h0m63-4h0m62 13h0m14 7h0m-53 9h0m-63-9h0m-28-4h0m-10 9h0m-1-10h0m0 7h0m-5 4h0m-3-2h0m-1 3h0m-4 1h0m-9-12h0m-2 4h0m-1-3h0m0 10h0m-5 2h0m-3-7h0m-4 4h0m11 12h0m2-2h0m1-2h0m4 3h0m0 3h0m3-5h0m0-1h0m2 1h0m7 3h0m1-7h0m1 5h0m2 2h0m4-1h0m9-2h0m0-2h0m2-2h0m8 12h0m2-5h0m3-3h0m6-3h0m5 5h0m29 2h0m62-8h0m10 8h0m109 20h0m-7 1h0m-91-7h0m-13 8h0m-35-10h0m-19 6h0m-34-9h0m-42 4h0m-4-2h0m-2 8h0m0-3h0m-25 6h0m-2 10h0m5 4h0m27 3h0m36-14h0m23 9h0m29-1h0m7-7h0m4 4h0m14 3h0m31-8h0m50 14h0m5-4h0m1-2h0m3-1h0m2-6h0m2 4h0m5 9h0m3-10h0m1 3h0m2 1h0m3 4h0m3-9h0m5 11h0m2-13h0m1 7h0m1 2h0m0-7h0m2 1h0m3-1h0m0 9h0m1-7h0m0 8h0m2-13h0m5 9h0m4 5h0m0-1h0m4-8h0m1 9h0m11 4h0m-2-2h0m-6 9h0m-4-2h0m-7-7h0m-6 3h0m-3 8h0m-3-7h0m-3-1h0m-1 7h0m-1-3h0m-3 3h0m-1 3h0m-1 0h0m-1-3h0m-4 1h0m-1-12h0m-2 9h0m-7-4h0m-8 7h0m-2-4h0m-4-7h0m-6 11h0m-12-5h0m-65-3h0m-119 3h0m-3-6h0m57 15h0m127 7h0m13 4h0m12-9h0m1 2h0m1-3h0m1 11h0m0-11h0m5 4h0m3-5h0m3 13h0m4 1h0m1-13h0m1 11h0m1-10h0m0 4h0m2-3h0m0 4h0m5 1h0m1 2h0m0-4h0m1 1h0m1-5h0m3 8h0m2-7h0m2-3h0m2 14h0m4-5h0m1-4h0m5 4h0m4-7h0m12 4h0m-5 23h0m0-4h0m-8-7h0m-8 1h0m-5 0h0m-8 3h0m-2 3h0m-6-5h0m-8 1h0m-2-5h0m-6 12h0m-12-1h0m-4 2h0m-1 1h0m-7-10h0m-3 10h0m-2 1h0m-1-5h0m-13 0h0m-2 5h0m-65-8h0m-32-5h0m-1 13h0m-64-14h0m-1 0h0m26 15h0m143 13h0m4-9h0m2-2h0m1 11h0m2-3h0m5-2h0m1 0h0m2 3h0m2-9h0m0 2h0m4 2h0m2 9h0m4 0h0m9-8h0m33-6h0m-6 18h0m-13 6h0m-4-7h0m-7 7h0m-11-6h0m-1-1h0m-4 7h0m-2-6h0m0 11h0m-2-12h0m-3 1h0m-1-1h0m-4 10h0m-1-5h0m0 7h0m-1-9h0m-6 1h0m0-5h0m2 27h0m1 0h0m3-7h0m5 7h0m1-12h0m3 9h0" stroke="#b0a0c8" vector-effect="non-scaling-stroke"/>
<path d="M659 135h0m5 8h0m7-1h0m15 4h0m-3 11h0m0 0h0m-4 0h0m-5-8h0m-1 2h0m-1 6h0m-2-3h0m-8-6h0m-1 2h0m-2-6h0m-10 23h0m1 6h0m0 1h0m3-6h0m2 4h0m1-4h0m2-1h0m4 1h0m3 5h0m0-3h0m0 3h0m3-13h0m0 4h0m0 0h0m1 8h0m0 1h0m1-8h0m0-2h0m1 4h0m1-6h0m2 6h0m2-4h0m1 5h0m0 6h0m1 0h0m2-9h0m0 6h0m1-7h0m2 4h0m1-7h0m2 8h0m3-8h0m0 30h0m-3-10h0m-2 2h0m-2 0h0m-5 5h0m-2-4h0m-4-2h0m-1 8h0m-1-13h0m-1 8h0m0 2h0m-2-2h0m0 6h0m-3-10h0m-1 8h0m-1-5h0m-3 0h0m0-1h0m-6 1h0m-3-6h0m-1 0h0m-5 1h0m3 26h0m7 2h0m2-13h0m2 9h0m2 3h0m0-13h0m1 14h0m0-7h0m0 2h0m2 3h0m0-8h0m4 5h0m1-3h0m0 6h0m1-5h0m1 2h0m0-9h0m1 6h0m3-3h0m1 5h0m0 3h0m1 2h0m2-3h0m5-6h0m1 7h0m1-9h0m3 4h0m0-6h0m3 14h0m1 5h0m-5 1h0m-1 9h0m-1-9h0m-1-3h0m-4 5h0m0 0h0m0 4h0m0-5h0m-1-4h0m0-2h0m0 1h0m-2 14h0m0-7h0m0 3h0m-1-6h0m-1 9h0m-2-6h0m-1 5h0m-1 2h0m0-8h0m-1-5h0m-2 8h0m0-5h0m-1 0h0m0-1h0m0-2h0m-1 1h0m0 5h0m-1 0h0m-1-6h0m-1 0h0m0-1h0m-2 12h0m0-11h0m-1 12h0m-4-3h0m-5-6h0m-5 5h0m9 17h0m0-1h0m1-10h0m0 1h0m5 2h0m2 11h0m0-11h0m2 0h0m0 7h0m2 5h0m1-3h0m1-7h0m1 1h0m0-5h0m0 0h0m1 4h0m2 1h0m0-2h0m1-2h0m0 2h0m1 7h0m2-11h0m0 9h0m2-7h0m2 0h0m0-2h0m1 6h0m1-5h0m0 2h0m0 3h0m1 6h0m0-12h0m1 5h0m1 7h0m0 2h0m5-13h0m1 2h0m1 10h0m-2 15h0m-5 3h0m-1-6h0m-2-8h0m-7 8h0m0 6h0m-1-13h0m0 3h0m-5 0h0m-1 1h0m-2 6h0m-4-12h0m-5 13h0m0-10h0m-1 8h0m-3-10h0m-2 14h0m7 13h0m3-9h0m1 7h0m0-1h0m5-3h0m7 7h0m2-10h0m10 2h0m-21 13h0m-79 23h0m1-8h0m13 14h0m7-1h0m49-2h0m14 6h0m-4 1h0m-14 1h0m-1 3h0m-43 8h0m-3-4h0m-9 3h0m-15-8h0m-2 11h0m15 13h0m23 1h0m8-8h0m6 4h0m4-2h0m18-7h0m6 6h0m-30 17h0m-26-9h0m-15 5h0" stroke="#a3b060" vector-effect="non-scaling-stroke"/>
<path d="M366 94h0m-5-4h0m0 3h0m-9 6h0m1 9h0m3-11h0m0 9h0m1 0h0m0-10h0m1 7h0m1 8h0m2-14h0m0 14h0m1-1h0m1-8h0m3 2h0m2-2h0m4 4h0m3 0h0m2-4h0m4 4h0m0-4h0m1-4h0m0 11h0m5-9h0m9 10h0m-6 14h0m-1-6h0m-4-3h0m-3 12h0m-4-2h0m-1 2h0m-3-1h0m-5-6h0m-1 7h0m-3-2h0m-2-7h0m0-1h0m-1 10h0m-2-1h0m0-9h0m-2-1h0m-6 11h0m0-4h0m-1-4h0m0 3h0m0-3h0m-3 1h0m1 13h0m5 9h0m2-10h0m2-1h0m1 7h0m0-9h0m2 11h0m8-3h0m0-7h0m1 12h0m0-4h0m1 4h0m0-10h0m4 5h0m3-7h0m3 1h0m0 7h0m1 0h0m4-9h0m0 0h0m0 6h0m5 6h0m8-10h0m4 1h0m1-4h0m1 18h0m-2 12h0m0 0h0m-1-8h0m-6 4h0m-2-1h0m-3-1h0m-2-5h0m-1 8h0m-1-5h0m0-2h0m-1 5h0m-1-4h0m-1 0h0m-1 8h0m0-6h0m0-3h0m-4 10h0m-1-10h0m0 5h0m0-2h0m-1 7h0m-3-8h0m0 9h0m0-5h0m-3 5h0m-2-1h0m-1-2h0m-1-1h0m-2-8h0m0 9h0m-1 1h0m-2-10h0m-1-3h0m-1 5h0m-1-1h0m0 6h0m-6 4h0m-6-6h0m-1 2h0m0 17h0m18-5h0m2-3h0m3 0h0m2 1h0m0 5h0m1-8h0m0 7h0m1 6h0m1-10h0m2 6h0m3 2h0m0 0h0m1-2h0m1 2h0m0 3h0m0-7h0m1 5h0m1-4h0m0 6h0m2-2h0m2-13h0m0 12h0m1-12h0m2 0h0m1 3h0m1 7h0m2 5h0m1-9h0m0 4h0m2-5h0m2 1h0m4-3h0m4 9h0m3 11h0m-6-7h0m-6 2h0m-3-2h0m-2 1h0m-1 7h0m-1-1h0m-2-7h0m-3 0h0m-2 2h0m0-1h0m-2 1h0m-3-1h0m0 8h0m0 2h0m-1-3h0m0-8h0m-1 0h0m-1 10h0m0-5h0m-2 2h0m0 7h0m-1-8h0m-3 0h0m-5 1h0m-1-2h0m-11 1h0m-4 5h0m3 8h0m8 8h0m4-10h0m0 3h0m5 4h0m3-1h0m6-3h0m0 9h0m2-11h0m0 5h0m2 1h0m2 1h0m3 6h0m1-10h0m1-4h0m2 2h0m5 12h0m1-2h0m1-6h0m4-4h0m-4 22h0m-15 0h0m-1-1h0m-3-6h0m-1 7h0m-2-2h0m-2-3h0m-5 2h0m-2 7h0m2 4h0m0 3h0m14-1h0m9-2h0" stroke="#12b4c8" vector-effect="non-scaling-stroke"/>
<path d="M452 262h0m5-4h0m3 13h0m29-11h0m-13 26h0m-9-1h0m-3-4h0m-5-4h0m0 3h0m0 0h0m0 3h0m-1 3h0m-1-13h0m0 12h0m-1-7h0m-3 1h0m0 2h0m-4-1h0m-8-7h0m-8 13h0m-5-1h0m12 11h0m0-4h0m2 11h0m0-7h0m5 5h0m1-6h0m0 3h0m2-7h0m7 8h0m5-4h0m6-7h0m24 13h0m9 2h0m11-7h0m1 2h0m11 12h0m-1-4h0m-4 0h0m-2 9h0m-2-1h0m0 1h0m-3-6h0m-2-2h0m-4 8h0m-2-4h0m-4 1h0m-4 4h0m0-6h0m-2 7h0m0-12h0m-1 2h0m-2 8h0m-2 3h0m-4-6h0m0 3h0m-6 1h0m-22-3h0m-3 2h0m-4-5h0m-1 9h0m0-14h0m-2 1h0m-5-1h0m-2 2h0m-11 24h0m27-4h0m2-7h0m1 14h0m6-11h0m1 7h0m1-6h0m3 6h0m0-7h0m4 3h0m2-4h0m7 8h0m1 0h0m6 3h0m1-1h0m2-6h0m0-6h0m0 5h0m2-1h0m1 10h0m0-12h0m3 9h0m2-3h0m3-2h0m2-6h0m1 11h0m1-10h0m1-1h0m0 11h0m2 1h0m1-4h0m1-3h0m0 10h0m2-11h0m2 5h0m3 4h0m6-7h0m0 0h0m-21 23h0m0-11h0m0 2h0m-3-4h0m-5 3h0m-1 10h0m-3-2h0m-1-9h0m-5 4h0m0-5h0m-1 2h0m0 6h0m-2 2h0m-5 2h0m-1-4h0m-7-9h0m-2 10h0m-2-2h0m0-5h0m-2 1h0m0 2h0m-5 3h0m-2-2h0m-2 4h0m-2-7h0m-3-1h0m0 7h0m0 3h0m-5-4h0m-4-6h0m-1 1h0m-1 5h0m-1 3h0m-1-3h0m-14 7h0m8 14h0m2-11h0m3 0h0m9 12h0m1-2h0m4 0h0m0-13h0m5 2h0m7 3h0m1 10h0m1-9h0m2 1h0m0 5h0m5 0h0m8-6h0m11 6h0m2-3h0m3-1h0m13 5h0m-16 17h0m-5-5h0m-6-9h0m-2 10h0m-2 0h0m-1 5h0m0-4h0m-7 3h0m0-9h0m-1 7h0m0-10h0m-2 2h0m-4 10h0m-1-12h0m0 2h0m-5 0h0m-2 4h0m-7-5h0m-1 7h0m-1 1h0m-5-5h0m-13 14h0m20-3h0m10-1h0m2 7h0m1-5h0m8-1h0m1-1h0m5 13h0m1-8h0m25 7h0m-16 6h0m-10 8h0m-20-5h0m-21-2h0" stroke="#e78684" vector-effect="non-scaling-stroke"/>
<path d="M277 329h0m42 6h0m29-2h0m-9 6h0m-8 11h0m0 0h0m-13-11h0m-63 17h0m9 5h0m2-2h0m18-6h0m2-1h0m0 15h0m11 0h0m4-3h0m0-9h0m4 5h0m1 1h0m1 1h0m0-2h0m1 2h0m5-5h0m2 0h0m1 4h0m1 0h0m3-1h0m1 4h0m0-2h0m1-4h0m1 7h0m2-6h0m0-5h0m2 5h0m0 4h0m3 0h0m1-4h0m5 7h0m1-3h0m0-6h0m3 10h0m5 8h0m-5-1h0m-1-5h0m-1 3h0m0 6h0m-1 3h0m0 1h0m-1-14h0m-2 2h0m-1-2h0m0 9h0m-1 1h0m-4 4h0m-1 1h0m-1 0h0m-1-13h0m0 0h0m0 13h0m0-12h0m0-3h0m-2 2h0m0-2h0m-2 13h0m0-4h0m-2-1h0m0 6h0m-3-3h0m-1-11h0m-2 12h0m-1-9h0m0 7h0m-1-9h0m-1 1h0m-2 10h0m-1-10h0m-1 3h0m-1 0h0m-2 8h0m0-11h0m-2 6h0m-3-1h0m0 4h0m-4-2h0m-2-1h0m-3 7h0m-1-7h0m0 2h0m-33-3h0m7 22h0m6-7h0m39-6h0m1 6h0m3 1h0m1 1h0m5-1h0m2-1h0m6-1h0m2 5h0m0-9h0m2 7h0m12-1h0m8 0h0m2 6h0m12-5h0m0 16h0m-8 7h0m-4-1h0m-9-1h0m-28-2h0m-20-5h0m-12 2h0m-4-2h0m0 9h0m-4-2h0m-1-1h0m0-3h0m-2 4h0m-2 1h0m-4-11h0m0-2h0m-1 14h0m-3-9h0m-4 11h0m2 1h0m5 10h0m1-5h0m0 1h0m1 2h0m0-5h0m1 6h0m3-9h0m2 3h0m2 2h0m0-7h0m1 12h0m2-2h0m2 0h0m2-4h0m0 7h0m20-5h0m-33 10h0m0 5h0m-4-6h0m0-1h0m-119 30h0m3-4h0m4 1h0m1 2h0m4-6h0m1 12h0m-3-3h0m-4 1h0m0 0h0m-2 2h0m-3 2h0m-1-5h0" stroke="#cfd48a" vector-effect="non-scaling-stroke"/>
<path d="M445 223h0m-10-10h0m-1 7h0m-1-2h0m-2-1h0m-1-3h0m-1 4h0m0 4h0m-2 1h0m-1-3h0m-4-5h0m-4 1h0m-3 5h0m-1-6h0m-1-1h0m0 5h0m0-7h0m-8 11h0m-3 10h0m2 3h0m3-9h0m1 11h0m6-8h0m2 9h0m1-3h0m2-9h0m3 9h0m0-3h0m0-6h0m2 12h0m0-14h0m1 7h0m0 1h0m1 6h0m0-3h0m1-6h0m1 1h0m2-3h0m2-4h0m0 3h0m3 11h0m0-3h0m2-10h0m4 9h0m0-4h0m4 0h0m2-3h0m-3 25h0m0-11h0m-2 9h0m0 2h0m-1 3h0m0-8h0m-1-3h0m-1 11h0m-5-2h0m0-11h0m-3-2h0m-1 9h0m0-3h0m-1 5h0m-5-5h0m0-5h0m-2 3h0m-5-3h0m-1 5h0m-1 3h0m0 2h0m0 4h0m-2 0h0m-3-4h0m0-10h0m-5 13h0m-1-14h0m2 16h0m2 4h0m2-2h0m2-2h0m1 11h0m1-10h0m1 13h0m4-4h0m0-5h0m0 6h0m0-7h0m2-1h0m3 0h0m3-3h0m1 12h0m0-9h0m4 3h0m0-3h0m1 0h0m2 2h0m3 5h0m0-8h0m1 12h0m7 0h0m3-14h0m1 6h0m-7 11h0m-8 2h0m0-2h0m-18 1h0" stroke="#f3ac74" vector-effect="non-scaling-stroke"/>
<path d="M564 36h0m6 24h0m0-1h0m-15-4h0m-11 5h0m-2 3h0m-9 14h0m5-2h0m6-9h0m5 6h0m1-4h0m1 1h0m3 3h0m1 0h0m1 3h0m2-3h0m1-7h0m5 9h0m1-5h0m3 7h0m10 8h0m-6 2h0m-2 4h0m-2 4h0m0-11h0m-1 0h0m-1 1h0m-2 6h0m0-6h0m-1 6h0m0-1h0m0-1h0m-2 2h0m-3 0h0m-13-9h0m-4 13h0m-6-14h0m-4 10h0m0-4h0m3 10h0m3 2h0m3 11h0m9-6h0m3 6h0m2-3h0m1 2h0m2-4h0m1 5h0m0-8h0m2 0h0m2 10h0m1-9h0m0 5h0m3 4h0m4-14h0m4 5h0m-2 18h0m-3-4h0m0 9h0m-9-3h0m-2 0h0m0 1h0m-9 3h0m-2-10h0m-2 2h0m-4 3h0m-3-3h0m-8 12h0m7 9h0m5-10h0m1 14h0m1-9h0m0 0h0m11 4h0m1-5h0m3-3h0m2 12h0m0-3h0m1 0h0m2-2h0m5 4h0m0-13h0m0 7h0m6 9h0m-4 2h0m-5 12h0m-3-11h0m-5 5h0m-2-8h0m0 0h0m-9 3h0m-1-3h0m-1 4h0m0-1h0m-4 11h0m8 12h0" stroke="#eeaac6" vector-effect="non-scaling-stroke"/>
<path d="M480 447h0m-22 7h0m3 2h0m3 6h0m6-5h0m4-4h0m0 3h0m3-7h0m1 10h0m2-2h0m3-3h0m4 10h0m-6 5h0m0-5h0m-1 7h0m0 0h0m-2 2h0m-1 1h0m-1-9h0m-1 8h0m-2-4h0m-3 0h0m-1 9h0m0-6h0m-1-6h0m-3-1h0m0 8h0m-5 6h0m0-4h0m-4-6h0m0 7h0m-1-12h0" stroke="#88c8d6" vector-effect="non-scaling-stroke"/>
</g>
<g transform="translate(499.0,474.8) scale(0.5)" stroke-width="3.2" stroke-linecap="round" fill="none" vector-effect="non-scaling-stroke">
<path d="M162 221h0m-5 1h0m-17 6h0m9-3h0m1 13h0m2-4h0m2 2h0m3-9h0m1 10h0m0-2h0m3 3h0m0 1h0m2-12h0m3 12h0m1-10h0m1 5h0m3 0h0m4-9h0m4 14h0m2-2h0m2-12h0m0 14h0m2-2h0m2-13h0m1 13h0m1-12h0m0 2h0m0 11h0m2-9h0m3 1h0m0 5h0m3 4h0m2-11h0m4 3h0m13 21h0m-6-1h0m-1-8h0m-4 6h0m-1 0h0m-1 5h0m-1-5h0m-1 0h0m-1-5h0m-2-3h0m-1 5h0m-5 7h0m-1-7h0m-4-1h0m0 7h0m-5 3h0m-1-11h0m-3-4h0m0 1h0m-2 2h0m-2 5h0m0-7h0m0-1h0m0 15h0m0-2h0m-3-9h0m-1 2h0m0 2h0m-1-7h0m0 12h0m-2-2h0m0-3h0m-5 5h0m0-9h0m-4 6h0m0-3h0m0-4h0m-3-3h0m-3 2h0m0 11h0m-2-2h0m-3 2h0m-3 2h0m-1-8h0m-2-2h0m-8-4h0m-1 11h0m-1-6h0m1 11h0m1 3h0m6-2h0m2 0h0m8 8h0m1 3h0m0 1h0m10-4h0m1 5h0m5-9h0m1-2h0m0 2h0m0 2h0m0 5h0m1-13h0m3 15h0m2-12h0m0 4h0m2-7h0m2 3h0m1 3h0m2-2h0m2 0h0m0 8h0m0-9h0m1 9h0m4 3h0m0-12h0m0 0h0m2-3h0m4 9h0m11-3h0m3 0h0m-26 11h0m-6 3h0m-4-3h0m-5 3h0m-2 11h0m-1-3h0m-2-1h0m0 0h0m0-4h0m-1 3h0m-1-3h0m0 2h0m-1 4h0m0-12h0m-1 13h0m0-12h0m-3 13h0m0-1h0m0-1h0m0-5h0m-1 3h0m-2-8h0m-2-3h0m0 13h0m-4-1h0m-2 1h0m-7 1h0m3 11h0m2 6h0m2-9h0m0 7h0m4-9h0m1 7h0m1-3h0m2 2h0m1-10h0m1 5h0m1 0h0m1-3h0m3 8h0m0-7h0m2-2h0m0-1h0m2 2h0m1 0h0m2 2h0m0 8h0m3-3h0m0 5h0m0-5h0m5-1h0m1-2h0m80 8h0m12 0h0m12 17h0m0-2h0m-3-7h0m-1 4h0m0-6h0m-3 3h0m-6-6h0m-1 11h0m-1 0h0m-4-1h0m0-2h0m-4-1h0m0 1h0m-1 6h0m0 0h0m-2-4h0m0-4h0m-3-1h0m-1 8h0m-3-5h0m0-5h0m-2 11h0m0-5h0m-1 3h0m-34 0h0m-9 2h0m0-4h0m-11-5h0m-2-4h0m-3 8h0m0 5h0m-9-8h0m-2 1h0m-2 5h0m-1-5h0m0 0h0m-1-7h0m-1 3h0m0 1h0m-1 10h0m-1-4h0m0-4h0m0 8h0m-1-4h0m0-5h0m-3 5h0m0-1h0m-1-6h0m-1 4h0m-1 0h0m0 0h0m-1 7h0m-1-10h0m0 6h0m-1-10h0m0 6h0m-1 3h0m0 0h0m-1-6h0m-2 0h0m0 10h0m-2-2h0m-1-3h0m0-7h0m-5 5h0m-3-1h0m0 7h0m-3-8h0m-1 8h0m-12 2h0m-16 12h0m4 0h0m8-8h0m0 6h0m4 5h0m3-4h0m5-3h0m0 6h0m0-6h0m1 3h0m1 3h0m0 2h0m0-11h0m1 9h0m1-5h0m1-8h0m0 15h0m2-9h0m2 9h0m1 0h0m0-1h0m0-6h0m2 0h0m1-1h0m1 5h0m1-11h0m1 11h0m1-1h0m5-7h0m0 3h0m1 5h0m0-6h0m0 3h0m0 3h0m1-11h0m0 4h0m3 5h0m0 2h0m2 2h0m0-9h0m1-3h0m1 5h0m1 8h0m0 0h0m1-6h0m1 5h0m1-8h0m0-3h0m0 4h0m1-3h0m0-3h0m1 0h0m0 7h0m0-7h0m1 2h0m1 9h0m0-2h0m0-7h0m0 8h0m0 2h0m2-13h0m0 14h0m0-4h0m1 5h0m2-11h0m1 5h0m1-4h0m2 8h0m1 2h0m0-10h0m2-4h0m1 12h0m1 1h0m0 0h0m2-2h0m0-6h0m4-1h0m2 2h0m3-3h0m0 1h0m0 1h0m1 6h0m1-7h0m9 5h0m18 5h0m11-3h0m2-3h0m2 2h0m3-9h0m2 3h0m1-5h0m1 2h0m5 2h0m0-3h0m1 1h0m2 8h0m1-10h0m1 12h0m0 0h0m1-7h0m2-3h0m0-2h0m0 5h0m2 2h0m1-4h0m2-2h0m4 2h0m6 1h0m0-1h0m7 28h0m-6-7h0m-2 1h0m-3 4h0m-2-6h0m0-4h0m-4 11h0m-1-11h0m-2-3h0m0 5h0m-1 7h0m0 3h0m0-1h0m-1-11h0m-1 11h0m-5-14h0m-1 15h0m-1-5h0m0-7h0m-1-1h0m-4 9h0m0 1h0m0-8h0m0 2h0m-5-3h0m-1 10h0m-1-7h0m-3 8h0m-1-5h0m0 1h0m-1 4h0m-1-1h0m0 1h0m-1-9h0m-1-4h0m-2 5h0m-1 3h0m-4-4h0m-2 2h0m0-7h0m0 14h0m-8-4h0m-1-5h0m-1-3h0m-2 12h0m-3 1h0m0-4h0m-1 4h0m-1-8h0m-2 7h0m-1-5h0m0 4h0m-2-1h0m-1-8h0m-3 8h0m-2-9h0m-1 5h0m-1-5h0m0 5h0m-3-4h0m0 10h0m-1-3h0m-8-1h0m-2-6h0m0 3h0m0-6h0m-2 0h0m-1 2h0m-2 10h0m-3-5h0m-1 1h0m-1-1h0m-2-3h0m-1 7h0m-1-8h0m-1-1h0m-1 0h0m-1 2h0m0-4h0m-3 6h0m-1-2h0m-1-5h0m-2 6h0m-1 7h0m0-4h0m-1-6h0m0-2h0m0 11h0m-1 1h0m-3-5h0m0 1h0m0 2h0m-3 3h0m0-6h0m0 5h0m0-1h0m0-11h0m0 9h0m-1-9h0m-1 8h0m0-3h0m0 6h0m-1-10h0m0 11h0m0-6h0m-1-1h0m0 5h0m-1-3h0m0 6h0m-2-9h0m-2 4h0m-1 1h0m0 2h0m-1-5h0m0-4h0m0-2h0m-3 11h0m0-5h0m0-4h0m-1 9h0m0 3h0m-2-15h0m0 6h0m-3 2h0m-2-1h0m-1 1h0m-1-1h0m-1 2h0m0-4h0m-1 1h0m-1-1h0m0-5h0m-2 9h0m-5 5h0m3 5h0m7 1h0m12 7h0m2-11h0m0 2h0m1 7h0m5-9h0m2 1h0m0-1h0m4 2h0m1 12h0m1-8h0m7 5h0m1-6h0m8 0h0m3 5h0m1 0h0m8-3h0m5-1h0m1 8h0m0-14h0m2 0h0m1 8h0m0 3h0m1-3h0m5-4h0m2-4h0m1 2h0m2-1h0m1 7h0m1-5h0m1 1h0m5-3h0m1-1h0m1 11h0m1 0h0m1 0h0m2-3h0m1 6h0m0-10h0m1 2h0m1 2h0m1-1h0m1 4h0m2-4h0m1 7h0m1-10h0m1 1h0m1-5h0m1 15h0m0-3h0m2-9h0m2-3h0m2 15h0m1-1h0m3-1h0m1-9h0m0 1h0m1-5h0m0 5h0m4 4h0m0 6h0m3-7h0m0-5h0m2 11h0m2-14h0m0 7h0m2-2h0m1-4h0m1 9h0m1-7h0m0 1h0m1 1h0m0-1h0m1 7h0m6 4h0m0-6h0m2-1h0m0 6h0m1-8h0m2 3h0m0 4h0m0-8h0m5-3h0m3 6h0m0-6h0m1 7h0m5 6h0m0-5h0m4-10h0m1 8h0m0-7h0m-16 17h0m0 0h0m-3 7h0m-3-5h0m0-2h0m-8 7h0m0 4h0m-1-4h0m-2 2h0m0-6h0m-2-4h0m-1 10h0m0-1h0m0-4h0m-1-6h0m-1 14h0m0-1h0m-1-13h0m-2 8h0m0-7h0m0 8h0m-1-5h0m0 3h0m0 1h0m-1-5h0m-1 6h0m-1-8h0m-4 7h0m-1 0h0m-2 2h0m0-6h0m0-3h0m-1 10h0m0 3h0m-5-8h0m-3-3h0m-1 10h0m-3-5h0m-1-8h0m0 10h0m-1-2h0m-1 7h0m-1-12h0m-1 5h0m-1 4h0m0 1h0m-1-2h0m0-7h0m-1 9h0m0-9h0m0 2h0m-1-3h0m-4 10h0m0 2h0m0-7h0m-1 6h0m-3-13h0m-1 5h0m-1 3h0m-1-8h0m-7 3h0m-1 6h0m-6 5h0m-1-4h0m-2-1h0m-7-7h0m0 12h0m4 11h0m3 1h0m4-5h0m5-4h0m3 13h0m1-14h0m0 9h0m3 2h0m1-4h0m0-4h0m0 8h0m2-2h0m1-9h0m1 6h0m1-2h0m0-2h0m6 5h0m0-6h0m0 11h0m1-10h0m1 0h0m3-1h0m4 13h0m1-9h0m1 2h0m3 3h0m0-7h0m1 3h0m1-3h0m1 0h0m1 3h0m2 1h0m1-2h0m0 6h0m3-10h0m2 10h0m0-1h0m3-6h0m1-1h0m4-2h0m3-2h0m2 18h0m-6 12h0m-6-6h0m-1-1h0m0 6h0m-5-8h0m0 6h0m-2 1h0m-1-2h0m0-4h0m-1 4h0m-2-10h0m-2 0h0m-1 0h0m-1 0h0m-7 8h0m0-7h0m-1 2h0m-3 10h0m0-4h0m-1-3h0m-2 8h0m0-10h0m0 3h0m-4 1h0m0-4h0m-1 1h0m-1 4h0m0 4h0m0-4h0m-3-5h0m-1-2h0m-1 13h0m-2 0h0m-4-15h0m-3 12h0m0 17h0m4 1h0m1-7h0m0 4h0m0-2h0m1 1h0m0 0h0m1-1h0m1 6h0m5-10h0m0 9h0m1-6h0m4-3h0m2-4h0m1 0h0m2 11h0m0-10h0m2 9h0m2 0h0m3-4h0m2 5h0m0-2h0m0 5h0m4-2h0m0-9h0m1 7h0m3 4h0m1-4h0m0 0h0m3 2h0m1-13h0m1 11h0m1-10h0m0 11h0m1 1h0m0-5h0m1 5h0m1-7h0m1-5h0m0 10h0m0 3h0m1-12h0m0-2h0m0 9h0m6-4h0m0 8h0m2-8h0m1 10h0m2-2h0m0-8h0m4 18h0m-10 3h0m0-1h0m-3-1h0m-2-8h0m-1 2h0m-5 4h0m-4 2h0m-1 7h0m0-12h0m-1 8h0m0-11h0m-2 5h0m0-4h0m-1 13h0m0-14h0m0 1h0m-1 3h0m-2 1h0m0 0h0m-1-2h0m-1 11h0m-1 1h0m0-15h0m0 10h0m-2-4h0m0-5h0m0 11h0m-1-12h0m-1 11h0m-3-1h0m0-5h0m0-5h0m-2 1h0m0 11h0m-2-8h0m0 8h0m0 3h0m-1-1h0m-1 1h0m-1 0h0m0-7h0m-2 4h0m-3-5h0m-2 1h0m0 5h0m-1-9h0m0-4h0m-3 10h0m0 5h0m0-13h0m-1 12h0m-1-2h0m-1-8h0m-5 6h0m-5-2h0m9 23h0m4-10h0m1 2h0m3-5h0m2 5h0m3 6h0m1-13h0m1 6h0m0 3h0m3 4h0m1-13h0m0 6h0m1-2h0m3-2h0m0 5h0m2 7h0m2-10h0m0 5h0m2-6h0m1 3h0m2 7h0m2-12h0m1 5h0m1-5h0m2 5h0m0 3h0m4 2h0m1-9h0m0 12h0m0-4h0m4-5h0m1-5h0m1 12h0m2-9h0m3 14h0m-5 0h0m-6 3h0m0 4h0m-2 4h0m-1-12h0m-1 11h0m-2-6h0m-5 0h0m-1 2h0m-5-5h0m-1 0h0m-2 7h0m-2 3h0m-1 2h0m0 0h0m-1-1h0m-1-11h0m-1-2h0m0 7h0m-1 1h0m-4-2h0" stroke="#8b5548" vector-effect="non-scaling-stroke"/>
<path d="M88 367h0m576-7h0m18-4h0m1-1h0m4 3h0m1 6h0m1-4h0m0 2h0m1-6h0m0 10h0m1-10h0m3 6h0m2-8h0m0 9h0m1-3h0m1 6h0m3-7h0m4 7h0m1-3h0m0 2h0m4-5h0m1 6h0m3-8h0m0 5h0m6 1h0m3-3h0m18 21h0m-4-10h0m-8 1h0m0 6h0m-2-3h0m-5 6h0m-1-8h0m-2 3h0m-2-7h0m0-1h0m0 7h0m0 3h0m0 2h0m-1 0h0m0-2h0m-1-1h0m0-7h0m0 7h0m-1 0h0m0-1h0m0 2h0m-2-7h0m0-2h0m0 4h0m-2-4h0m0 5h0m-2 7h0m0 1h0m-1-8h0m0 8h0m-1-13h0m-1 6h0m0-7h0m-2 3h0m-3-3h0m-5 4h0m-1 7h0m-8-10h0m0 10h0m0-8h0m0-1h0m-1 12h0m-1-9h0m-3 6h0m-2-3h0m0-2h0m-1 0h0m0 0h0m0-4h0m-1 8h0m0-4h0m-2 5h0m-1-10h0m-5 6h0m-1-6h0m0 4h0m-3 0h0m0 7h0m-1 2h0m0-6h0m-2 4h0m-1 2h0m-8-11h0m-1 3h0m0-1h0m-3 7h0m-2 1h0m-1-7h0m-2 6h0m-5-1h0m-1 0h0m-546-1h0m-2-11h0m-4 2h0m-1 9h0m-3-1h0m-7 4h0m-3-6h0m-3 21h0m0-10h0m1 1h0m3 3h0m1 0h0m2 7h0m1-13h0m552 3h0m7 8h0m5-5h0m1 0h0m1-3h0m2 7h0m1-8h0m0-3h0m2 5h0m2 0h0m0 1h0m2 8h0m0-5h0m0-4h0m0 7h0m1-10h0m2 0h0m2 3h0m1-1h0m1 2h0m1-1h0m0-3h0m1-2h0m2 1h0m1 4h0m0-2h0m3 5h0m1-4h0m0 3h0m0-5h0m1 4h0m1 3h0m0-6h0m2 0h0m0-1h0m1 10h0m1-5h0m1-1h0m0-6h0m2 8h0m0 0h0m4 0h0m1-8h0m1 12h0m1-10h0m0 5h0m0-4h0m2 2h0m0 4h0m1 4h0m1-4h0m0-1h0m1 2h0m0 1h0m3-6h0m1-3h0m1 9h0m2-2h0m1 5h0m0-12h0m1 6h0m1 5h0m3-9h0m0 9h0m0-12h0m5 11h0m0-2h0m4 5h0m0-3h0m0-9h0m1 3h0m0 2h0m1 3h0m0-1h0m1 2h0m0-2h0m1-10h0m0 0h0m2 1h0m3 5h0m3 1h0m0-3h0m0-3h0m1 8h0m1-9h0m0 8h0m2 4h0m0-3h0m0-6h0m1 8h0m0 2h0m1-3h0m0 1h0m0 1h0m1-1h0m1 3h0m3-1h0m5-9h0m4 11h0m0-2h0m1-9h0m-10 24h0m-1-12h0m0 2h0m0 3h0m-4-2h0m-3 1h0m0-2h0m-1 2h0m0 5h0m-1-9h0m-2 2h0m-1 2h0m0 1h0m-1 0h0m-1 2h0m-3-5h0m-2 4h0m-1 7h0m0-7h0m-1-4h0m0-1h0m-2 10h0m-1-11h0m-2 1h0m0 7h0m-2-3h0m0-4h0m0 2h0m-3 10h0m-1-11h0m0 1h0m-3-3h0m0 2h0m0 6h0m-1-2h0m-1 0h0m-4-6h0m-1 6h0m0-6h0m-2 1h0m-1 9h0m-2 0h0m0-8h0m-2 1h0m-1 0h0m-3 11h0m0-8h0m-2 0h0m-3 0h0m-1 1h0m0-5h0m-5 3h0m0 2h0m-3-1h0m0-1h0m-1-5h0m-1 11h0m-2-6h0m-1-1h0m-1-2h0m-4-2h0m-1 0h0m-2 7h0m-8-1h0m-568-5h0m-2 0h0m-2 5h0m-1 0h0m-6-3h0m-3 11h0m-1-9h0m0 5h0m-6 3h0m7 18h0m5-2h0m597-8h0m8 2h0m4-4h0m0 2h0m0-4h0m1 5h0m2 0h0m2 5h0m0-11h0m2 4h0m2 4h0m0 2h0m8 2h0m2-3h0m1 5h0m0-9h0m1 9h0m2-5h0m2-7h0m3-1h0m2 9h0m2-2h0m1-6h0m2 10h0m9-12h0m6 8h0m1-8h0m-657 22h0m-2 0h0m-1 1h0m-5-1h0m-1 9h0m-2-11h0m-2-3h0m-1 13h0m-2-8h0m0-1h0m-1 4h0m0 0h0m-3 1h0m-1-9h0m0 13h0m-2-4h0m0 1h0m-1 1h0m-1 1h0m-1-9h0m0 11h0m-1-8h0m0-4h0m-4 4h0m0 1h0m-2-3h0m0 7h0m-1-1h0m-2 3h0m-5 0h0m8 2h0m3 2h0m4 4h0m1-6h0m0 0h0m0 7h0m2-7h0m0 1h0m3 1h0m1 0h0m0 5h0m3 0h0m3 1h0m1-5h0m7 0h0m2 0h0m369 90h0m-1-1h0m0 2h0m-25 17h0m1-2h0m5-11h0m3 10h0m1-5h0m6 7h0m1-5h0m1-1h0m1 0h0m4 7h0m3-5h0m2 0h0m1-7h0m10 12h0m1-9h0m8-5h0m2 14h0m1-1h0m4-3h0m8 19h0m-1-4h0m-1 4h0m0-6h0m-1-3h0m-4 6h0m-2-8h0m0 5h0m-2 5h0m-7-5h0m-1 4h0m-5 3h0m-7-5h0m-5 3h0m-6-6h0m-10 3h0m-1 4h0m-6-10h0m-3 5h0m-2 0h0m-4-3h0m-50 24h0m0 0h0m7-1h0m4-10h0m3 6h0m3 0h0m2 3h0m2-4h0m21 3h0m5-4h0m1-2h0m2-3h0m1 9h0m2 1h0m3-4h0m1-1h0m1 2h0m2-8h0m6 3h0m1 11h0m1-4h0m0 0h0m1-11h0m2 14h0m1-8h0m0 2h0m8-3h0m2 0h0m2-5h0m2 0h0m3 15h0m2-14h0m0 1h0m1 1h0m0-2h0m1 2h0m3 6h0m0 6h0m1-1h0m0-4h0m1 0h0m2 2h0m1-2h0m1 5h0m1-7h0m1 5h0m0-6h0m4 5h0m0 2h0m3-9h0m1 6h0m1-11h0m3 1h0m1 9h0m3 3h0m10-5h0m-3 21h0m0-3h0m-2-9h0m-6 3h0m-3 3h0m0-3h0m-2 4h0m-1-6h0m0 7h0m-1-7h0m0 7h0m-1-1h0m-3-3h0m-1 6h0m-2 3h0m-1-14h0m0 0h0m-3 1h0m-2 4h0m-1 4h0m-1-8h0m0 4h0m-1 7h0m0-12h0m-1 13h0m-2-8h0m-1 1h0m-3 4h0m-1 5h0m0-3h0m-1 2h0m0-6h0m0-8h0m-2 11h0m-1-1h0m0-2h0m0-3h0m0 0h0m0 1h0m-2-5h0m0 12h0m-1 1h0m0-6h0m-2 0h0m0-6h0m-2 4h0m-4 6h0m0-7h0m-1 5h0m-1-10h0m-1 5h0m-2 10h0m0-6h0m-3-2h0m0 1h0m0 0h0m-1 0h0m0-6h0m-1 3h0m-2 7h0m-3 2h0m-3-9h0m-5 7h0m-2 0h0m-1-7h0m-7 9h0m-14-6h0m0-6h0m-2 8h0m-1 0h0m-3-8h0m-3 7h0m-1-1h0m-1-5h0m-5 6h0m-1 1h0m0 3h0m-4-12h0m-4 4h0m-9-4h0m22 18h0m5-2h0m21 2h0m1 9h0m1-5h0m9-6h0m2 8h0m0 4h0m3-9h0m3 7h0m2-6h0m0 6h0m2-1h0m0 0h0m1-8h0m1 5h0m0 5h0m2 1h0m0-2h0m3-9h0m0 9h0m1-5h0m3-6h0m0 13h0m0-13h0m1 6h0m2 5h0m1-7h0m1 11h0m1 0h0m1 0h0m1-5h0m0 5h0m1-7h0m0 3h0m2-6h0m1 10h0m0-8h0m0 6h0m1 0h0m4-11h0m0 4h0m1 3h0m5-9h0m0 9h0m0 1h0m1 3h0m0-11h0m1 6h0m0-3h0m0 2h0m1 3h0m0-1h0m3 4h0m1-1h0m3-3h0m4-9h0m1 4h0m4-3h0m1 1h0m0 2h0m2 5h0m2-1h0m11 3h0m-12 9h0m-11 6h0m-3-10h0m-1 0h0m-7 9h0m0 0h0m-2 6h0m-2-14h0m-3-1h0m0 6h0m-1-1h0m-1-3h0m-1 4h0m-2-5h0m-3 0h0m0 8h0m-2-5h0m-1 3h0m-2-5h0m-1 10h0m-2 3h0m-2-13h0m0 3h0m-5 8h0m-1-3h0m-3 2h0m-1-2h0m-1-2h0m-1 7h0m-2-8h0m-5 6h0m0 1h0m-5-6h0m-1 3h0m0-1h0m1 8h0m4 13h0m0-12h0m6 0h0m1 5h0m2 4h0m0-2h0m4 1h0m2-9h0m0-1h0m3 5h0m3 2h0m0 7h0m4-3h0m2-6h0m4 9h0m5-9h0m0 3h0m1-6h0m7 12h0m5-6h0m0-4h0m0-4h0m6 4h0m4 7h0m-26 9h0m-1 0h0m-15 5h0m-9-10h0m-1 1h0m-3 14h0m-2-11h0m-1-2h0m-6 6h0m-2 0h0m-1 1h0m-1-8h0m-7 9h0m0-5h0m-3 4h0m-4 2h0m0-2h0m-3 4h0m-7 4h0m4 1h0m1-1h0m6 6h0m1-5h0m1 12h0m1 1h0m2-8h0m2-3h0m2 9h0m0-4h0m0 5h0m3-2h0m0 2h0m2-10h0m1 4h0m0 0h0m2 1h0m1-6h0m0 9h0m0-5h0m4 6h0m2 0h0m0 0h0m3 0h0m3-2h0m1-5h0m1-2h0m0 10h0m2-11h0m1 11h0m4-5h0m1 6h0m0-14h0m1 3h0m1 10h0m0-8h0m0 9h0m0-3h0m2 2h0m1-12h0m0 7h0m6-5h0m0 11h0m7-1h0m0 2h0m-1 13h0m0-10h0m-3 3h0m-3 3h0m-2 4h0m-1-9h0m-4 0h0m-1 3h0m-1 8h0m0-8h0m0 0h0m-2-6h0m0 0h0m-1 0h0m0 10h0m-3-1h0m-2-3h0m-1 1h0m-3 4h0m-4-4h0m-2 6h0m0-8h0m-2 2h0m-1-2h0m0 9h0m-1-5h0m-2-8h0m-1 7h0m-1-4h0m-1 7h0m0-9h0m-2 4h0m0 6h0m0-3h0m-2 5h0m-2-10h0m-1-2h0m-3 2h0m-5-2h0m0 0h0m-1 5h0m0-5h0m-2 10h0m-1-5h0m-4-5h0m-3 2h0m-2 9h0m-1-3h0m-2-10h0m0 24h0m7-8h0m1 8h0m3-3h0m1 8h0m3 0h0m0-6h0m1-7h0m3 10h0m0-11h0m2 5h0m1 2h0m0 8h0m1-13h0m1-1h0m0 2h0m0 3h0m2 1h0m1 6h0m2-1h0m2-11h0m2 14h0m0-3h0m1-3h0m3-3h0m2-4h0m1-1h0m0 12h0m0 1h0m1-11h0m4 8h0m0-10h0m1 6h0m3-6h0m1 3h0m4 0h0m4 5h0m1-3h0m0 6h0m2-7h0m1-3h0m0 13h0m5-8h0m0-6h0m1 7h0m1 1h0m0-1h0m1 0h0m1 3h0m-1 13h0m-1-5h0m-1 7h0m-1-1h0m0-7h0m0-2h0m-1 9h0m-2-3h0m0-4h0m-1 4h0m-1-4h0m0-1h0m-1 14h0m-1-4h0m-1-11h0m-1 0h0m-1 8h0m-4-3h0m-5-4h0m-3 3h0m-3-1h0m-10 5h0m-2 5h0m-6-13h0m-5 8h0m-3 2h0m-2-10h0m45 16h0m4 3h0m4 1h0m0 8h0" stroke="#0b9058" vector-effect="non-scaling-stroke"/>
<path d="M396 215h0m-6 2h0m-10 3h0m-10-2h0m-4 19h0m11-12h0m2 8h0m7 3h0m6-7h0m6 10h0m21 12h0m-19 1h0m-3-1h0m-13-2h0m-1-5h0m0-3h0m-4 10h0m0-8h0m-19 3h0m-2 6h0m-6-2h0m-7 1h0m-23 20h0m24-4h0m5-1h0m8-9h0m10 2h0m2 0h0m0 1h0m3 4h0m1-7h0m1 6h0m7 4h0m6-5h0m1-5h0m2 14h0m4-15h0m0 7h0m17 22h0m-2-7h0m-5 9h0m-2-11h0m-2 9h0m0-10h0m-1-1h0m-6 13h0m-3-13h0m-1 4h0m-6 0h0m-7 1h0m-4-3h0m-1 2h0m-1-1h0m-2 4h0m-9-2h0m-3 5h0m-37-8h0m0 16h0m28 2h0m2-6h0m6 13h0m6-11h0m27 5h0m5 2h0m18-7h0m9 28h0m-22-11h0m-26 7h0m-11-2h0m-3 1h0m0 4h0m0-6h0m-3 0h0m-13-4h0m-5 28h0m12-13h0m0 9h0m33 4h0m12-6h0m16-2h0m1 2h0m3 5h0m5-7h0m0 5h0m3-2h0m3 4h0m0-7h0m0 1h0m4-1h0m3 7h0m8-2h0m3 1h0m12 10h0m-5 8h0m-4-14h0m0 12h0m-1-8h0m-2 6h0m-1-6h0m-2 8h0m-2-11h0m-4 6h0m-3-8h0m0 4h0m-1 4h0m0 0h0m0 2h0m-1-9h0m-1 10h0m-2-3h0m0-3h0m-1 0h0m-1 5h0m-4-5h0m0 4h0m-1 6h0m0-5h0m-1-8h0m-4 3h0m-1 4h0m-1-8h0m0 9h0m0 5h0m0-4h0m-1-3h0m-1-3h0m-1 10h0m0-15h0m-1 3h0m-1 10h0m-1-3h0m-2-1h0m-1 1h0m-1 2h0m-1 0h0m-2 3h0m-2-7h0m-13 7h0m-36-15h0m-3 4h0m-16-4h0m24 23h0m12 7h0m7-8h0m4 0h0m4 7h0m0 1h0m2-6h0m0-6h0m1 12h0m2-1h0m3-10h0m0 9h0m2-7h0m1 7h0m0 2h0m4-11h0m0 2h0m1 2h0m1-2h0m1 8h0m2-10h0m0 11h0m1 0h0m1-7h0m1 2h0m2-2h0m0-5h0m1 6h0m2-6h0m1 9h0m0 2h0m1-5h0m1-6h0m1 11h0m1 0h0m0-10h0m1-2h0m0-1h0m1 6h0m1-1h0m0 6h0m1-5h0m0 3h0m1-4h0m1 7h0m3 0h0m1-2h0m0 2h0m3-1h0m1 1h0m1-4h0m0-1h0m1-2h0m0 7h0m0-8h0m0-1h0m0 6h0m2-7h0m0 10h0m1-2h0m0-2h0m1 0h0m0-5h0m0-3h0m1 8h0m1-8h0m2 0h0m0 14h0m2-2h0m3-11h0m3 2h0m7 2h0m-10 24h0m-2-11h0m0-1h0m-1 3h0m-4-1h0m-1-1h0m-2 0h0m-1 12h0m0-3h0m-1 2h0m-1 0h0m-1-10h0m-1 8h0m0-5h0m-3 8h0m0-4h0m0-7h0m0-3h0m-2 5h0m0 2h0m-1-5h0m0 12h0m0 0h0m-2-6h0m-1 3h0m0-9h0m0 1h0m0 2h0m-2-5h0m-1 2h0m0 13h0m0-1h0m-1-7h0m0 7h0m0-6h0m-1 4h0m0-11h0m-3 5h0m0 8h0m0 0h0m-1 1h0m0-5h0m-3-4h0m-2 9h0m0-4h0m-1-8h0m0 0h0m-2 6h0m0-9h0m0 6h0m-2-3h0m0 12h0m-1-8h0m-2 1h0m0 6h0m-1-5h0m-1-5h0m-1 10h0m0-3h0m0-1h0m-1-10h0m-1 7h0m0 6h0m-1-1h0m-1-12h0m0 6h0m-3 4h0m-1-10h0m-3 2h0m-1 5h0m0-6h0m-1 13h0m-1-7h0m-4 6h0m-1-5h0m-2 0h0m-1 6h0m-1-7h0m-2 2h0m0 6h0m-4-11h0m-2 7h0m-1-3h0m-4 1h0m-2-3h0m-2 2h0m-2 9h0m9 13h0m6-5h0m5-8h0m0 0h0m1 12h0m0-2h0m1-5h0m2 6h0m2-5h0m0-2h0m1 0h0m1 10h0m1-8h0m1-5h0m0-2h0m1 4h0m0 6h0m1-2h0m0-5h0m3-3h0m1 0h0m1 4h0m2-1h0m0-2h0m0 14h0m0-10h0m1 6h0m1-4h0m0 8h0m1-14h0m1 12h0m1-12h0m1 4h0m0 10h0m1-12h0m0 2h0m1 7h0m1-7h0m2-1h0m0-1h0m1 0h0m1 7h0m0-9h0m0 8h0m2 1h0m1-6h0m2 3h0m0 7h0m1-4h0m0-2h0m1-1h0m1-5h0m0 6h0m0-1h0m7-4h0m0 2h0m1 8h0m0-13h0m0 14h0m1-14h0m0 10h0m1 3h0m2-5h0m4 2h0m1 2h0m6-11h0m0 13h0m3-11h0m0 3h0m5-4h0m0 15h0m-6 5h0m-2 2h0m-1-4h0m-2 9h0m-1-13h0m-3 3h0m-1 3h0m-1-5h0m0 8h0m-1-5h0m0 11h0m0-5h0m-6 3h0m-2-7h0m0 1h0m0-3h0m-4 2h0m0 4h0m-1-4h0m-1 0h0m0 2h0m-1-8h0m0 2h0m-2 3h0m-1-1h0m0 5h0m-3-7h0m-1 13h0m0-6h0m0-9h0m-2 11h0m0-9h0m0 9h0m-1-4h0m0 2h0m-1-3h0m0-6h0m-2 9h0m-3 2h0m0-5h0m-2 2h0m0 4h0m0-4h0m0-7h0m-1 10h0m0-9h0m0 4h0m-1 5h0m-4-8h0m0 4h0m0 4h0m-2-1h0m-2 1h0m0-2h0m-5 0h0m0-8h0m-5 6h0m-2 3h0m-2-1h0m-1 4h0m-6-1h0m-2-5h0m-1 4h0m-1-9h0m-5-2h0m13 18h0m7 2h0m2 7h0m2-6h0m3 0h0m4 0h0m1 10h0m1-3h0m2-9h0m0-1h0m0 13h0m0-14h0m2 2h0m1 4h0m0-7h0m0 15h0m1-3h0m0-11h0m1 11h0m1-3h0m1-1h0m0-1h0m2-3h0m1 4h0m0 3h0m1-10h0m0 5h0m1-1h0m1-3h0m0 2h0m1 6h0m2 2h0m0-5h0m1-3h0m2-4h0m1 14h0m4-5h0m0 2h0m3 0h0m0-10h0m0 7h0m1-1h0m2 4h0m5-11h0m1 5h0m4-2h0m2 1h0m2-1h0m3-3h0m53 10h0m1-3h0m2 1h0m2 6h0m6-2h0m5 0h0m3-2h0m5 2h0m1-7h0m14 9h0m5 12h0m-4 4h0m-2-9h0m-1 2h0m-3 6h0m-2-2h0m-1 4h0m-1-7h0m0-5h0m-1 4h0m-1 7h0m-3-10h0m0 3h0m-1 1h0m-1 3h0m0-6h0m-1 8h0m-3-1h0m-1-8h0m-1-3h0m-1 5h0m-1-5h0m-2 0h0m-1 9h0m-2-6h0m-1 4h0m-2 3h0m0-2h0m-1-2h0m-3 6h0m-4-12h0m-3 10h0m-1-9h0m-59 11h0m-2-10h0m-6 2h0m-3-5h0m-1 4h0m-2 11h0m-3-8h0m-1-4h0m0 9h0m-4 1h0m-1 1h0m0-4h0m-1 3h0m0 1h0m-2-11h0m-1 7h0m-2-3h0m-1 0h0m-3 4h0m-1-1h0m-1 2h0m-1-12h0m-2 14h0m-1-12h0m-1 6h0m0-2h0m-3 4h0m-2 2h0m-2 0h0m6 19h0m0-10h0m2 7h0m7-9h0m1-3h0m1 15h0m2-8h0m0-6h0m1 5h0m1 4h0m0 3h0m0-3h0m0-4h0m1 6h0m2 0h0m0-4h0m1-4h0m0 5h0m3 3h0m0-5h0m0 3h0m0 1h0m1-9h0m1 6h0m1-8h0m2 1h0m0 4h0m2 4h0m1 5h0m2-1h0m1-9h0m3 3h0m1-7h0m1 0h0m80 3h0m0 6h0m6-9h0m1 15h0m2 0h0m0-2h0m0-9h0m4 0h0m3 7h0m3-4h0m0-1h0m1-6h0m2 6h0m4 3h0m1 2h0m0-3h0m1-6h0m-4 15h0m-4 1h0m-9-2h0m0 0h0m-87 13h0m-2-2h0m-2-8h0m-1 0h0m-2-3h0m-2 0h0m-1 3h0m0 3h0m-5-3h0m-2 8h0m-1-10h0m-2 0h0m-2 4h0m0 3h0m-1-6h0m0 5h0m-1 8h0m-1-9h0m-2-3h0m0 7h0m0-9h0m-6 6h0m0-2h0m-2 4h0m-2-4h0m-2 9h0m0-14h0m0 2h0m-1 4h0m-1 8h0m0-11h0m-1 3h0m-7-6h0m-3 2h0m-15 6h0m-11 7h0m-7-11h0m-17 10h0m17 15h0m1 1h0m11 1h0m1-3h0m1-8h0m5 4h0m5 5h0m2-4h0m7 4h0m1-1h0m8-12h0m2 12h0m2-8h0m0 6h0m1-8h0m1 1h0m3 5h0m2 3h0m1-4h0m2 1h0m1-3h0m1-1h0m2-2h0m1 11h0m0-6h0m0 4h0m3-4h0m0-6h0m3 6h0m0-5h0m3 8h0m1 0h0m3 4h0m1-4h0m0-5h0m-4 16h0m-18 8h0m-1-9h0m-3-1h0m-5 3h0m-4 4h0m-2-3h0m0-4h0m-6 9h0m-2 0h0m0-3h0m-1-8h0m-2 7h0m-1 3h0m-1 4h0m-1 0h0m0-7h0m-6-2h0m0-4h0m-1 9h0m0-11h0m0 6h0m-2-4h0m-2 8h0m-2-4h0m0 4h0m-1 4h0m-2-8h0m0-1h0m-3 2h0m-12-4h0m-16 2h0m3 19h0m7-5h0m2 3h0m4-2h0m8-1h0m1-2h0m3 9h0m3-7h0m2 2h0m12 0h0m0-3h0m6 4h0m2 9h0m1-7h0m1 7h0m1-12h0m1 9h0m2-9h0m0 9h0m4-11h0m-5 17h0m-20 4h0m-6 1h0m-11-2h0m-16-5h0m28 25h0m0-1h0" stroke="#7558a0" vector-effect="non-scaling-stroke"/>
<path d="M662 223h0m-14 12h0m2-5h0m2 9h0m3-9h0m3 1h0m7-2h0m5-5h0m0 5h0m2-1h0m2 10h0m2 3h0m-2 0h0m-1 4h0m-4 9h0m0-2h0m-1-1h0m-1 4h0m0-2h0m-4-13h0m-4 15h0m-3-15h0m-3 13h0m-4-2h0m-2 1h0m0-6h0m-4 6h0m-54 16h0m54-6h0m0 2h0m6-2h0m1 3h0m1-8h0m0 14h0m1-13h0m0 1h0m1 6h0m0-3h0m1 1h0m2-1h0m0 0h0m1-1h0m1 3h0m1-3h0m0-4h0m1 0h0m0 14h0m1-15h0m2 1h0m3 1h0m3 0h0m0 0h0m0 13h0m1-8h0m4-4h0m3-2h0m2 11h0m4-8h0m-2 13h0m-1 4h0m-1-2h0m-5 8h0m-2-6h0m0 6h0m-1-4h0m-1 6h0m-1-9h0m-5 10h0m0-13h0m0 11h0m-1-5h0m0 2h0m-1 2h0m0-11h0m0 0h0m-1 9h0m0-7h0m0 11h0m-1 1h0m0-14h0m-4 12h0m0 3h0m-1-1h0m-1-8h0m0-1h0m-1-3h0m0 0h0m-2 7h0m0 2h0m-1-3h0m-1-2h0m-1 2h0m-1 6h0m-2-6h0m-2 1h0m-1-9h0m0 8h0m-1 5h0m-2 0h0m-3-1h0m-10 0h0m-5-3h0m0 2h0m-2 4h0m0-7h0m-1 4h0m-1-7h0m-3 8h0m0-3h0m-4 5h0m-3-2h0m-1 1h0m0-10h0m-4 10h0m0 1h0m-1-2h0m-1 2h0m0-1h0m-3 1h0m-4-13h0m-1 10h0m-2-2h0m-1 4h0m-3-3h0m0 4h0m-1-2h0m-2-1h0m0 1h0m-2 2h0m-3-2h0m-4-4h0m-3 4h0m-8 10h0m5-4h0m4 7h0m0-9h0m1 3h0m3 10h0m2-12h0m2 0h0m1 7h0m0 0h0m1 0h0m1 5h0m1-8h0m0 3h0m0-5h0m1 3h0m0 0h0m1-2h0m1 0h0m0-5h0m0 14h0m3-5h0m1-9h0m1 2h0m2 13h0m1-6h0m0-8h0m1 9h0m1 0h0m1 1h0m1 2h0m0 2h0m0-9h0m1-2h0m0 3h0m3 2h0m0 1h0m0 5h0m1-4h0m2 1h0m0-9h0m1 5h0m1 3h0m0-2h0m0-8h0m0 1h0m0 9h0m1-4h0m1-2h0m0 8h0m1-7h0m0 8h0m1-6h0m2 0h0m0-8h0m0 6h0m1 6h0m2-1h0m2-1h0m1-9h0m1 13h0m0-3h0m1-4h0m3 5h0m1 1h0m1-7h0m0-1h0m0 10h0m3-9h0m3-5h0m5 7h0m0 0h0m2 0h0m1 4h0m8-12h0m1 1h0m2 12h0m1-1h0m1-7h0m1 6h0m1-5h0m1 9h0m1-12h0m0 11h0m1-13h0m0 7h0m0-3h0m1 10h0m2-1h0m1-6h0m0 4h0m1-7h0m0 10h0m1-11h0m0 6h0m1-3h0m1-6h0m2 12h0m4-13h0m0 8h0m0-1h0m1-5h0m5 12h0m1-8h0m1 7h0m4-11h0m-2 28h0m-4-7h0m0-4h0m-1-3h0m-2 10h0m-2-9h0m0 13h0m-1-3h0m-2-7h0m-1-4h0m0 6h0m-2 2h0m-1-7h0m-2 0h0m0-1h0m-1 0h0m-1 9h0m0 3h0m0-6h0m-2-5h0m-1 6h0m-2-6h0m-2 12h0m-1-6h0m-1 3h0m-1-8h0m0 9h0m-1-3h0m-3 3h0m0-9h0m-1 11h0m-3-4h0m-2-6h0m-1 1h0m-3 0h0m-1-4h0m-1 6h0m-1 2h0m-1-7h0m-2 4h0m-2 5h0m-5-10h0m-3 3h0m-4-1h0m-2-1h0m-2 5h0m0 6h0m-2 1h0m-1-4h0m-5-9h0m-1 8h0m-4 5h0m0-7h0m-1 7h0m-1-10h0m0 1h0m0 2h0m0-1h0m-3 0h0m-2-5h0m-3 10h0m0-2h0m-2 7h0m-1-2h0m0-9h0m-2 0h0m-1 5h0m0-8h0m0 6h0m-1-3h0m0 4h0m-2-3h0m0-4h0m-1 7h0m0-1h0m0-7h0m0 6h0m0-1h0m-1-2h0m0-1h0m-1-2h0m-1 2h0m-3 1h0m-4 0h0m-1 0h0m-4 6h0m21 7h0m23 0h0m31 10h0m3-2h0m1 5h0m0 1h0m1-10h0m8-3h0m4-1h0m1 11h0m2-11h0m0 13h0m5-9h0m0-2h0m4 3h0m0-2h0m0 2h0m1 7h0m2 0h0m0-5h0m0 6h0m6-6h0m1-2h0m7 18h0m-8-6h0m0 6h0m-2-6h0m-3 10h0m-1 4h0m-1-1h0m-1-6h0m-1-3h0m-2-3h0m0 8h0m0 0h0m-2-5h0m-1 6h0m-2 1h0m0 2h0m0-10h0m-2 2h0m0 1h0m-2 5h0m-1-1h0m0-11h0m-2 11h0m0-4h0m-2-7h0m0 8h0m0 5h0m0-3h0m-1-8h0m-1 10h0m-2 1h0m-2-10h0m-1-2h0m0 13h0m-2-4h0m-1-5h0m-1 2h0m-2 6h0m6 14h0m3-2h0m2-3h0m2 1h0m2 3h0m1-10h0m0 0h0m2 11h0m1-5h0m0-6h0m1 11h0m1-3h0m1-8h0m0 1h0m1 10h0m3-9h0m1 3h0m1 6h0m4-10h0m9 5h0m0-3h0m4 1h0m-18 14h0m-48 13h0m-1-4h0m-1 3h0m-1-2h0m-3 2h0m-1 16h0m0-5h0m3 2h0m0-4h0m1-1h0m0 9h0m1-2h0m2-7h0m1 4h0m1-8h0m1 10h0m1 3h0m1-13h0m0 4h0m3 4h0m0 7h0m-1 4h0m-1 8h0m0-11h0m0 1h0m0-2h0m-2 5h0m-1-6h0m0 6h0m-1 9h0m-1-10h0m-2 1h0m-1-2h0m0 1h0m-4-5h0m-3 7h0m8 10h0m0-1h0m3 3h0m1 4h0" stroke="#db2030" vector-effect="non-scaling-stroke"/>
<path d="M599 31h0m-41 14h0m15-1h0m2-4h0m1-1h0m0 3h0m5-2h0m3 5h0m0-10h0m1 10h0m8-12h0m4 8h0m1-9h0m1 1h0m14 11h0m2-12h0m2 6h0m12-5h0m4 11h0m0-8h0m9 8h0m11 14h0m-4-6h0m-1 9h0m-2-3h0m-3 0h0m-1-10h0m-2 9h0m-1-3h0m-2 8h0m-2 1h0m0-11h0m-2 3h0m-9-5h0m0 7h0m-2 1h0m-1-5h0m0 3h0m-3 6h0m-3-11h0m0-1h0m-2 10h0m-4 2h0m0-4h0m-2-3h0m0-1h0m0 8h0m-1-7h0m-3 1h0m-2 2h0m-2-6h0m-3 1h0m-3 3h0m-2 5h0m-1-10h0m-3 2h0m-2-2h0m-2 2h0m-6 7h0m-1-11h0m-4 0h0m0 14h0m-1-6h0m-4 5h0m-8-10h0m-10 4h0m0 18h0m3 2h0m10-5h0m3 0h0m1-6h0m0 7h0m1 6h0m1-14h0m5 10h0m4-10h0m1 3h0m0 4h0m4-5h0m4 1h0m1-1h0m2 3h0m2-3h0m1 3h0m1 4h0m1-3h0m1 0h0m0-3h0m1 4h0m2 5h0m0 3h0m2-3h0m4-2h0m0 1h0m1-1h0m0 0h0m0 4h0m3-1h0m2 2h0m0-9h0m6 4h0m9-6h0m1 7h0m1 2h0m0-1h0m1-11h0m3 2h0m8 2h0m0-4h0m3 13h0m6 1h0m1-13h0m4 1h0m5 3h0m1 5h0m5 3h0m2 2h0m-2 3h0m-9 7h0m-5-5h0m-3 3h0m-1 2h0m0-2h0m-1-4h0m-4 9h0m-6 2h0m-2-3h0m-1 2h0m-2-11h0m0 1h0m0 5h0m-3-3h0m-1 5h0m-2-9h0m-3 6h0m0-7h0m-5 6h0m0-1h0m-1-1h0m0-1h0m-8 4h0m0 3h0m0-9h0m-3-1h0m0 7h0m-1 7h0m0-11h0m-2-3h0m-2 10h0m0 2h0m-1 0h0m0-8h0m-2 10h0m-3-14h0m-3 11h0m-1-7h0m-6 10h0m0-10h0m-3 5h0m-1-4h0m-5 5h0m-1-2h0m0-3h0m-1 9h0m0-11h0m-3 3h0m-5-3h0m-1 0h0m-4 11h0m0 0h0m-2-8h0m-10 5h0m-8-1h0m-4-4h0m5 12h0m2 4h0m14-7h0m7 0h0m0 5h0m9-3h0m0 3h0m2 2h0m4 7h0m8-12h0m1 7h0m0 5h0m0 1h0m0-2h0m0-10h0m3 12h0m0-13h0m3 3h0m0-1h0m0 5h0m5-1h0m0-3h0m2 9h0m1-12h0m2 4h0m0 6h0m0 3h0m2-5h0m0-5h0m2 4h0m1-8h0m0 1h0m4 11h0m1-2h0m0-10h0m1 12h0m0-3h0m1 2h0m1-9h0m1-3h0m0 2h0m1 2h0m1 5h0m1-6h0m1 1h0m1-3h0m2 14h0m0-3h0m3 1h0m1-10h0m2 1h0m5-3h0m2-1h0m13 14h0m6-11h0m2-1h0m5 12h0m5 7h0m-8 8h0m-5-5h0m-1 2h0m-1 0h0m-1 1h0m-15-4h0m-1 4h0m0-4h0m-4-6h0m-2-1h0m0 8h0m-1 5h0m0-9h0m0 1h0m-1 8h0m-1-9h0m-1 9h0m-3-13h0m-3 1h0m-1 6h0m-1-4h0m-1 0h0m0-2h0m-1 14h0m0-5h0m-1 3h0m0-2h0m-1 3h0m-3-2h0m0 2h0m-1-13h0m0 9h0m-1-1h0m-2 3h0m-1 0h0m0-12h0m0 14h0m-4 0h0m0 1h0m-2-12h0m-2 2h0m0 8h0m0-1h0m-3 2h0m0-2h0m-2-9h0m0 10h0m-1-3h0m-1-1h0m0 1h0m-2-3h0m0-3h0m0 6h0m-1-4h0m-2 1h0m-1 3h0m-4 1h0m0-3h0m0-7h0m-1 6h0m0 0h0m-2 0h0m-3-2h0m-1 4h0m-2 4h0m-1-2h0m-2-5h0m-1 0h0m0 1h0m-1 3h0m-3-4h0m-1-1h0m-2 9h0m-1-6h0m0-7h0m0 2h0m-2 1h0m-16-4h0m-2 6h0m7 18h0m3 7h0m1-4h0m9-5h0m0 2h0m1 5h0m3 0h0m12-10h0m0 2h0m3-2h0m6 4h0m1 6h0m2-6h0m3 4h0m1 0h0m2 4h0m0-14h0m3 3h0m0 4h0m1-6h0m1 7h0m0-1h0m2-5h0m0-3h0m0 3h0m3-3h0m0 5h0m2 0h0m1 5h0m1-4h0m1-1h0m5-1h0m3 5h0m0-9h0m0 6h0m3 7h0m1-13h0m0 10h0m2-10h0m0 2h0m2 4h0m2 1h0m1-7h0m0 12h0m4-9h0m1 3h0m1-4h0m0 13h0m6-9h0m1 8h0m2 1h0m0-5h0m4-5h0m1-1h0m3 10h0m13-7h0m7-2h0m-21 20h0m-1-1h0m-1-3h0m-1 8h0m-3 2h0m-6-11h0m-1-1h0m-3 1h0m-1 11h0m-2-11h0m-1-1h0m-9 4h0m-1 6h0m-3-8h0m-3 8h0m-4 1h0m-2-12h0m-1 12h0m0-9h0m-11 1h0m-1-5h0m0 2h0m-3-1h0m-2 8h0m-4 4h0m-3-11h0m-1 12h0m-5-8h0m-4 8h0m-15-12h0m0 10h0m-6-4h0m0 1h0m-1 0h0m-3-6h0m9 17h0m9-1h0m3-2h0m3 11h0m0 0h0m5 1h0m1 1h0m1-11h0m3-2h0m6 4h0m1-1h0m2 8h0m1-9h0m1 0h0m0-4h0m4 10h0m2-3h0m4 3h0m10-3h0m5 3h0m1 0h0m1-1h0m0-4h0m6-2h0m0 2h0m2-3h0m2-2h0m7 13h0m9-8h0m-26 13h0m-8 1h0m-23 1h0m-2 2h0m0-4h0m-9 2h0m-2-2h0m-1-1h0" stroke="#ef7f31" vector-effect="non-scaling-stroke"/>
<path d="M230 351h0m-41 0h0m-4 15h0m5-3h0m8-9h0m1 12h0m2-2h0m1 0h0m10 3h0m0-6h0m2-5h0m7 7h0m2-4h0m1-2h0m3 7h0m16-8h0m1 7h0m-16 18h0m-6-6h0m-1 5h0m-13-5h0m-8-5h0m2 17h0m0 4h0m8-1h0m1-1h0m1-2h0m3 11h0m3-13h0m7 14h0m26-1h0m6 14h0m-6-3h0m-3 6h0m-2 0h0m0 0h0m-1-2h0m-1-2h0m-20-8h0m-18 7h0m31 8h0m5 13h0m0-10h0m1 9h0m8-8h0m5 1h0m-3 17h0m0-7h0m-1 8h0m0-9h0m-2 13h0m-1-9h0m0-4h0m-2 2h0m0 7h0m4 7h0m190 30h0m-3 1h0m0-2h0m-9-13h0m-6 15h0m-11-6h0m-4 9h0m7 6h0m2-5h0m3 4h0m7 1h0m0-7h0m1 3h0m0-2h0m1 4h0m1-6h0m3 14h0m5-5h0m0-6h0m4 27h0m-5-14h0m-2 9h0m0 6h0m0-15h0m0 5h0m-1-2h0m-3 10h0m0-13h0m-1 15h0m-1 0h0m-1-15h0m-1 4h0m-3 6h0m0 0h0m-1-1h0m-1-5h0m-2 11h0m-3-10h0m0 6h0m-7-6h0m-5 0h0m-10 24h0m11-10h0m5-2h0m0 6h0m2 4h0m1-11h0m2 2h0m3 3h0m1-5h0m1 13h0m0-13h0m0 13h0m1-7h0m2-2h0m0 6h0m1-2h0m2-8h0m0 12h0m1-1h0m0-5h0m0 7h0m1-4h0m1 1h0m3-1h0m2 0h0m1 2h0m1-1h0m1 2h0m0 3h0m1-5h0m2 5h0m7 0h0m9-12h0m8 13h0m-4 3h0m-2-1h0m-2 0h0m-2 0h0m-2-1h0m0 14h0m0-7h0m-2-5h0m-3 9h0m-4-12h0m-2 4h0m0 2h0m-1 2h0m-2-1h0m0-7h0m-6 8h0m-1-7h0m-1 11h0m0-11h0m-3 9h0m0-9h0m-1 12h0m-1-13h0m-1 1h0m0 12h0m-2-1h0m-2 2h0m0-6h0m-1 5h0m-4 2h0m-2-4h0m-1 0h0m-4-4h0m-1 0h0m0-2h0m-3-3h0m0 8h0m-1-8h0m0 5h0m-2 3h0m-9-7h0m-1 8h0m-79 4h0m0-2h0m-11 2h0m-24 10h0m3 3h0m1-1h0m4-1h0m2 1h0m5 4h0m2-4h0m1-1h0m0-3h0m2-2h0m0 5h0m1-8h0m1 9h0m3 4h0m0-1h0m0 0h0m1-3h0m2-1h0m1-4h0m1 8h0m1 0h0m2-1h0m2-4h0m0 5h0m4-5h0m0 1h0m0 2h0m2 3h0m3-10h0m1 9h0m0-13h0m1 6h0m2 8h0m1-3h0m1 3h0m3-2h0m4-3h0m2 4h0m50-12h0m3 7h0m3-2h0m2-2h0m1 1h0m0 8h0m1-2h0m0 0h0m4 3h0m0-1h0m1-14h0m1 4h0m0 1h0m2-2h0m1-2h0m1 9h0m2-8h0m1 13h0m1-8h0m0-6h0m1 13h0m5-5h0m1 4h0m3-4h0m1-5h0m1-3h0m3 9h0m0-2h0m2-4h0m0 7h0m0 2h0m7-10h0m1 8h0m0-11h0m0 15h0m1-6h0m0 2h0m1-11h0m2 1h0m1 0h0m0 3h0m4 4h0m1-1h0m3 6h0m7-12h0m1-1h0m4 6h0m-1 18h0m-6-8h0m-1 9h0m-6-8h0m-6 12h0m-2-5h0m-1 0h0m0-1h0m-1 2h0m-1 4h0m-1-2h0m-6-11h0m-1 1h0m-1 6h0m-3 4h0m0-8h0m-2 9h0m-1-11h0m-1 7h0m-1-1h0m-1-7h0m-1 1h0m-1 8h0m-1 6h0m-2-15h0m-1 4h0m-3 0h0m-6 2h0m0-3h0m-1 2h0m-10-5h0m-56 6h0m0-5h0m-2 9h0m-5-7h0m0 3h0m0 2h0m-1-5h0m-1-1h0m-2 7h0m-1-1h0m0 6h0m0-5h0m-1-2h0m-1-3h0m-1 5h0m0-4h0m-1 7h0m0 3h0m-1-5h0m0 1h0m-1 2h0m0 1h0m0-3h0m-3-1h0m0-5h0m-1 8h0m-1 0h0m0-4h0m0-3h0m-2-3h0m0 1h0m0 6h0m-1 1h0m-1 2h0m0-13h0m0 10h0m-1-5h0m-3 5h0m-1-10h0m-2 1h0m-2 1h0m0-1h0m-1 9h0m0-5h0m0-1h0m0 10h0m-1-9h0m-1-3h0m0 0h0m-1 3h0m0-3h0m-1 6h0m0-8h0m0 1h0m-1 2h0m0 8h0m-1-4h0m0-3h0m-1 6h0m-3 1h0m-2-6h0m-2 3h0m-1-4h0m-2 3h0m0 7h0m-5-8h0m-2 5h0m-2 2h0m18 14h0m4-3h0m3-8h0m0 2h0m0 4h0m1 7h0m5-6h0m0-4h0m1 5h0m0-7h0m1 7h0m1-5h0m2 12h0m3-6h0m0 0h0m0 1h0m3-4h0m1-4h0m1 8h0m0-4h0m1 5h0m0-2h0m0 4h0m0-13h0m3 2h0m0 12h0m0-6h0m2-7h0m0 3h0m2 1h0m3-2h0m1 0h0m4-3h0m2 8h0m84-8h0m8 3h0m4 3h0m5 1h0m4-5h0m-129 16h0" stroke="#1f6fb4" vector-effect="non-scaling-stroke"/>
<path d="M572 156h0m0 2h0m-10-8h0m-20 5h0m-23 19h0m1-2h0m1-7h0m18 1h0m0 0h0m3-3h0m1 4h0m1 8h0m0-10h0m4 8h0m1 2h0m1-3h0m2-8h0m3-2h0m1 13h0m3-5h0m0 2h0m1-8h0m1 5h0m2 1h0m1 0h0m1-8h0m5 3h0m1 6h0m7-3h0m5 7h0m4-3h0m2 2h0m1-6h0m4 23h0m-1-5h0m-1 4h0m-1-7h0m0 3h0m-1-3h0m-1 1h0m-1 4h0m0-2h0m0 1h0m-7-1h0m-4-2h0m-3 1h0m-2-2h0m-1 3h0m-1 5h0m-1-3h0m-4-1h0m-1-8h0m0 9h0m-2-6h0m-1 0h0m-1 7h0m-1-1h0m0-5h0m-4-5h0m-1 1h0m-1 7h0m-2-5h0m0 1h0m0 7h0m0-1h0m-2-11h0m-1 11h0m-2-12h0m-2 9h0m-1-6h0m-1 3h0m-1-1h0m-3 0h0m-3-4h0m0 4h0m-2 9h0m-1-7h0m0 0h0m-1-1h0m-2-4h0m-2 10h0m-1-8h0m-6 6h0m-4-6h0m0-4h0m-11 12h0m-6 3h0m-2-4h0m4 10h0m3 2h0m1-3h0m2-2h0m0 0h0m2 6h0m1-4h0m4 11h0m3-11h0m5 2h0m0-4h0m5 8h0m1 3h0m0-8h0m0 10h0m0-4h0m1-10h0m2 7h0m0 1h0m0-4h0m1 8h0m0-9h0m1-1h0m1 7h0m1-9h0m2 7h0m2 0h0m2 7h0m0-2h0m0-8h0m2 9h0m1-6h0m0 3h0m1-4h0m0-4h0m0 7h0m2-5h0m0-4h0m0 2h0m0 2h0m2-2h0m1 11h0m1-5h0m0-8h0m3 1h0m2 0h0m0 9h0m1-11h0m1 15h0m2-3h0m2-5h0m3-3h0m0 6h0m0-7h0m2 12h0m1-5h0m4-2h0m0-4h0m3-4h0m0 4h0m1 7h0m2 1h0m1-1h0m0-5h0m1 0h0m0 0h0m1 1h0m1 6h0m0-13h0m1 7h0m2 2h0m4 4h0m0-4h0m1 2h0m1-6h0m0 5h0m2-2h0m2-8h0m3 14h0m5-10h0m1 10h0m-2 10h0m-2-3h0m-1 7h0m-2-11h0m-7 0h0m-2 12h0m-6-1h0m-2-1h0m0-8h0m-3 10h0m-1-10h0m0-3h0m-3 14h0m0 0h0m0 0h0m-1-5h0m-1 1h0m-1 2h0m-3-8h0m-1-4h0m0 5h0m-1 7h0m-2-4h0m0-6h0m-1 5h0m0 0h0m-1-1h0m-1-4h0m-1-2h0m-1 8h0m0-1h0m-1 2h0m-2-9h0m0 6h0m-2-6h0m-1 12h0m-7-5h0m0-6h0m0 9h0m-1-7h0m-1 6h0m-1-9h0m-1 9h0m-1-4h0m0 5h0m-1-3h0m-2 2h0m-1-1h0m0-3h0m-1-5h0m-2 15h0m0-14h0m-1 3h0m-2-1h0m0 8h0m-5-4h0m-1 8h0m-2-2h0m-1 1h0m-6-3h0m-6-10h0m-1 0h0m0 10h0m-2-9h0m-3-2h0m-1 2h0m-4 13h0m0 0h0m-2-12h0m-1 7h0m-4-6h0m0 7h0m-4 15h0m10-3h0m3 7h0m0-7h0m1-3h0m1 1h0m0 0h0m2 0h0m1 1h0m2 5h0m3-11h0m3 11h0m0 4h0m0-9h0m2 5h0m0-2h0m1 4h0m1-10h0m1 11h0m13-12h0m8 6h0m5-4h0m5 1h0m13 0h0m0-3h0m10-1h0m0 10h0m2-9h0m2 8h0m-55 13h0m-3 5h0m-5-10h0m-3 7h0m-1 6h0m0-13h0m-1 7h0m-3-7h0m0-1h0m0 11h0m-1-6h0m-2 2h0m-2-6h0m-3 7h0m0-4h0m0 2h0m4 9h0m16 3h0" stroke="#9fbadf" vector-effect="non-scaling-stroke"/>
<path d="M600 438h0m-3 9h0m0-9h0m-2 9h0m-11 0h0m-2-7h0m-2-2h0m-9-1h0m-1 10h0m-1-1h0m-6-6h0m-4-6h0m-4 1h0m-1 10h0m-15-1h0m-3 0h0m-3 9h0m1 1h0m2 1h0m5 5h0m5-10h0m2 11h0m1 0h0m1 2h0m2-11h0m1 4h0m4 0h0m0-1h0m2-4h0m3 7h0m1 5h0m0-9h0m1-5h0m9 4h0m0-2h0m3 5h0m2 6h0m4-5h0m2-6h0m3 12h0m0-11h0m0 8h0m1-5h0m0 4h0m6-10h0m0 12h0m5-10h0m0 6h0m1-1h0m1-7h0m1 8h0m3-2h0m2 8h0m16 4h0m-13 1h0m-5 5h0m-7-3h0m-1 4h0m-3-1h0m0-6h0m-3-1h0m-1 6h0m-3 3h0m-4-11h0m-1 15h0m-1-4h0m0-11h0m-2 14h0m-1-14h0m0 3h0m0 12h0m-1-2h0m-3-13h0m-1 4h0m-1 11h0m0-8h0m-1-6h0m-1 1h0m-1 2h0m0 0h0m-1 5h0m0-2h0m-3 8h0m-1-5h0m-1-6h0m-1 7h0m-4-3h0m0 4h0m-2 0h0m-1-6h0m-1 1h0m-3-3h0m0 4h0m-1 7h0m-3-13h0m-2 9h0m-4-8h0m-2 11h0m0-1h0m-6-1h0m-3 3h0m-6 14h0m1-4h0m3 4h0m2 1h0m0-7h0m4 1h0m2 7h0m1-4h0m1-6h0m3-1h0m1-1h0m6-1h0m1-1h0m1 5h0m0-2h0m2 11h0m0-6h0m0 6h0m2-9h0m1 4h0m0 1h0m2-5h0m5 9h0m2-2h0m1 0h0m0 1h0m2-9h0m0 5h0m0-3h0m1 3h0m1 3h0m2-11h0m1 1h0m0 11h0m4-6h0m0 4h0m0-12h0m1 9h0m1-8h0m1 6h0m0 2h0m2 6h0m0-3h0m3 1h0m1 0h0m1-13h0m0 13h0m1 1h0m4-7h0m6-2h0m2-4h0m0 8h0m0-9h0m1 6h0m0 9h0m1-14h0m3 7h0m1-2h0m2-5h0m0 2h0m9 5h0m1-5h0m7 13h0m-3 12h0m-3-11h0m0 3h0m-2-1h0m-1 7h0m-2 5h0m-5-4h0m-3 4h0m0-5h0m-1 5h0m-3-7h0m-2-4h0m-1 5h0m-5-6h0m-2 11h0m-1-7h0m0 6h0m-2-3h0m-4 1h0m-1-8h0m-2 3h0m-4-3h0m0-3h0m-2 7h0m-3-5h0m0 7h0m-1-3h0m-2 2h0m-1 5h0m-1-8h0m-1 6h0m0 1h0m-1-12h0m0 7h0m-2-2h0m-1-1h0m-1 3h0m-1 3h0m-1 0h0m0 2h0m-2-3h0m-1-4h0m0-2h0m-1-3h0m-1 3h0m-4 6h0m-1-1h0m0 5h0m0-10h0m-3 3h0m-1-2h0m-1 1h0m-1 9h0m-5-6h0m-1 7h0m0-4h0m-1 2h0m0-7h0m-8 5h0m-7-8h0m8 22h0m1-4h0m5 6h0m9 1h0m2-8h0m1 2h0m2 0h0m5-4h0m0 0h0m5 11h0m0 0h0m1-4h0m0-7h0m1 13h0m2-8h0m1-1h0m5 7h0m0-2h0m1 0h0m2 4h0m0-9h0m3-5h0m0 2h0m7 8h0m3-2h0m1-5h0m1 0h0m2-4h0m0 3h0m1 11h0m5-5h0m7 2h0m2-1h0m6-1h0m1-8h0m1 1h0m-3 17h0m-3-2h0m-5 7h0m-9-3h0m-1 0h0m-3-1h0m-2-4h0m-1 10h0m-4-6h0m-4 3h0m-9-5h0m0 12h0m-1-4h0m-1 4h0m-2-1h0m-1-2h0m-9-10h0m-1 13h0m-7-11h0m16 13h0" stroke="#b88f86" vector-effect="non-scaling-stroke"/>
<path d="M322 126h0m-13 1h0m-33 13h0m3-7h0m2 6h0m3 4h0m2-4h0m7-8h0m1-2h0m1 10h0m1-3h0m2-5h0m2 10h0m6-2h0m2 2h0m2-11h0m3 10h0m2-4h0m0 6h0m1-10h0m0 5h0m5 4h0m2-3h0m4-8h0m0 6h0m6-7h0m1 6h0m4-4h0m0 12h0m0-2h0m3-2h0m26 16h0m-5 2h0m-3 2h0m-1-4h0m0-6h0m-2 8h0m-2-9h0m-3-4h0m-2 2h0m-1 8h0m-2-7h0m0 11h0m-1-3h0m0 2h0m-2-7h0m-3 0h0m0 6h0m-2-10h0m0 2h0m-1 9h0m-4-5h0m-3 7h0m-1-6h0m-1-4h0m0 5h0m0 2h0m0 0h0m-4 2h0m-3-5h0m-2-3h0m-1 6h0m-4-8h0m-3-4h0m-2 5h0m0 6h0m-1-6h0m0 7h0m-4 2h0m0-1h0m-2-1h0m-2-11h0m-1 9h0m-3-8h0m-4 2h0m-1-3h0m-1 7h0m-1-1h0m0-5h0m-1 4h0m0 8h0m0 0h0m-1-10h0m-3 3h0m-1-3h0m-3 1h0m-5 13h0m3-1h0m4 10h0m3-4h0m2 6h0m6 2h0m1-2h0m3-13h0m4 7h0m2 1h0m2 3h0m0-1h0m5-10h0m0 12h0m2-3h0m0-2h0m3 0h0m1-2h0m1 2h0m0 2h0m0 1h0m0 0h0m1-7h0m0 12h0m2-15h0m0 12h0m0-1h0m2-11h0m1 12h0m3-6h0m1 2h0m1-3h0m0 2h0m2 3h0m0 5h0m0-12h0m1-1h0m0 5h0m1 5h0m3-8h0m1-1h0m1 3h0m0 5h0m2-1h0m3 0h0m0-9h0m1 10h0m2-10h0m0 13h0m0 1h0m2-12h0m1 4h0m0 5h0m2-9h0m2-2h0m0 5h0m3 3h0m1-8h0m2 11h0m1-11h0m0 11h0m2 0h0m2 2h0m4-2h0m0-3h0m2-7h0m4 7h0m1 5h0m0-4h0m3-10h0m0 9h0m4-3h0m1-6h0m4 9h0m2 6h0m-4 13h0m-5 1h0m-2-6h0m0-6h0m-1 8h0m-3-6h0m-2 0h0m0 1h0m-1 11h0m-1-13h0m-2 10h0m0 0h0m-1 2h0m0-10h0m-1 6h0m0-7h0m-1 12h0m-3-11h0m-2 2h0m-1-5h0m-1 13h0m0 0h0m-1-2h0m-2-8h0m0 10h0m-1 1h0m-3-7h0m0-4h0m-1 11h0m-1-10h0m-4 0h0m0 4h0m0-9h0m0 3h0m-1 3h0m-1-6h0m-2 10h0m-4-1h0m-4-1h0m-1-6h0m0 12h0m-1-4h0m0-6h0m-4 11h0m0-11h0m0 7h0m-1-1h0m-2-1h0m-1-8h0m-2 2h0m-3 5h0m-1-5h0m0 9h0m0-10h0m-1 5h0m-2 1h0m0-3h0m-3-5h0m-1 0h0m-1 1h0m-7 2h0m-4-3h0m0 3h0m0 2h0m-2 1h0m-1 6h0m-2-7h0m-2 2h0m-1-4h0m-1 2h0m-1 2h0m14 12h0m14 9h0m3-7h0m1-2h0m12 2h0m1 4h0m12-4h0m1-3h0m1 2h0m9-3h0m5 6h0m2-2h0m1-1h0m1 3h0m1-6h0m1 5h0m3 4h0m1 4h0m1-3h0m1 0h0m1-8h0m1-1h0m1 3h0m1 3h0m1-3h0m5 5h0m-8 6h0m-2 1h0m-5 3h0m-1-1h0m-5-1h0m-1-2h0" stroke="#87bd88" vector-effect="non-scaling-stroke"/>
<path d="M354 204h0m23-3h0m64 21h0m-31-5h0m-1 2h0m-11-3h0m-7-6h0m-1 6h0m-5-5h0m-6 1h0m-23 0h0m-7 10h0m-12-1h0m-21-3h0m6 8h0m5 0h0m4 2h0m17 0h0m5 8h0m6 3h0m5-11h0m4 6h0m1-5h0m5 3h0m0-8h0m2 13h0m5-5h0m0 2h0m4 3h0m0-4h0m0 0h0m2 0h0m9 4h0m0 0h0m6 1h0m1-5h0m4-1h0m6 2h0m2-6h0m1 3h0m0 4h0m3-2h0m30-7h0m8 1h0m1 11h0m-16 16h0m-31-4h0m-2-6h0m-7 10h0m-5-14h0m-1 12h0m0 2h0m-1-9h0m-4-3h0m-2 3h0m-6 5h0m-3-5h0m-4 0h0m-2-2h0m-5 12h0m0-14h0m-13 9h0m-3 1h0m-8-1h0m-17 1h0m-4-5h0m-13 4h0m-12 9h0m29-2h0m6 6h0m4 3h0m7 1h0m1-10h0m1 8h0m3 1h0m8 1h0m6-7h0m2 8h0m1-10h0m1 7h0m2 3h0m0-9h0m6-1h0m1 10h0m2-5h0m1-1h0m2 7h0m1-13h0m0 12h0m1-1h0m0-5h0m3 7h0m8 1h0m0-2h0m1-12h0m12 12h0m0-1h0m0 4h0m4-13h0m8-1h0m16 8h0m0 9h0m-16 5h0m-5-6h0m-7 4h0m-19-1h0m-4 4h0m-7-4h0m-1-2h0m-4 11h0m-9-9h0m-4 10h0m-7-11h0m-1 2h0m-3-2h0m-17 12h0m-6-11h0m-1 6h0m-4 1h0m-6 0h0m-3-10h0m-4 9h0m16 17h0m5 4h0m4 0h0m3-7h0m29-8h0m16 0h0m41 5h0m1 3h0m15 0h0m-8 13h0m-15 10h0m-3-7h0m-35-8h0m13 17h0m127-1h0m6 3h0m25 7h0m3 1h0m8-1h0m9 1h0m4-5h0m4 4h0m7 3h0m2 2h0m5-4h0m2 1h0m2 1h0m9 3h0m-6 0h0m-2 11h0m-3-7h0m0 4h0m-4-3h0m-1 2h0m-2 3h0m-4-6h0m0 9h0m-3-6h0m-1 8h0m0-9h0m-3-5h0m-1 11h0m-2-5h0m0 5h0m-3-7h0m-4 1h0m0 8h0m-1-4h0m-3-2h0m-1-6h0m0 7h0m-1 2h0m-2-11h0m0 11h0m-3-4h0m-1-3h0m-9-2h0m0 10h0m-1-11h0m-15 9h0m-13-4h0m-26 22h0m41 2h0m4-4h0m4 1h0m7-3h0m6 0h0m0-4h0m15 4h0m3-5h0m0 6h0m0-7h0m2 2h0m0 10h0m1-12h0m1 6h0m1 5h0m1-7h0m3-4h0m0 6h0m1-1h0m3-3h0m0-3h0m4 12h0m0-11h0m2 3h0m0-3h0m4-1h0m2 8h0m2-1h0m7 5h0m1-4h0m3 2h0m13-6h0m1-4h0m-28 27h0m-7-7h0m-12-1h0m-12-3h0m-6 5h0m-4-1h0m-4 8h0m-10-1h0m-3-5h0m-11-4h0m-5 10h0m-13-4h0m9 8h0m39 11h0m35-12h0" stroke="#b0a0c8" vector-effect="non-scaling-stroke"/>
<path d="M444 44h0m5-1h0m3 1h0m2 1h0m0 1h0m2-2h0m3 15h0m-4 3h0m-2-9h0m0-5h0m-4 2h0m-1 10h0m-2-1h0m-1-10h0m-2 7h0m0 2h0m-2-4h0m-1 4h0m0 5h0m-1-2h0m0-6h0m-2-2h0m-2 6h0m-1-7h0m-3-3h0m-5 25h0m1 3h0m7-7h0m1 1h0m0-2h0m0 6h0m1-1h0m1 1h0m0 0h0m0-8h0m0 7h0m1-4h0m0 6h0m2 1h0m0-11h0m0 9h0m0 1h0m0-2h0m1 0h0m1-4h0m0 6h0m4-5h0m4 3h0m1-2h0m0-4h0m0 7h0m2-10h0m3 10h0m0-7h0m1 7h0m2 3h0m2-5h0m-1 9h0m-5 13h0m-4-7h0m0-1h0m-1 2h0m0 1h0m-2-2h0m-1-8h0m0 15h0m0-3h0m0-6h0m0-5h0m-1 2h0m0-2h0m-1 8h0m-1 4h0m-3-2h0m0-7h0m-1-2h0m0-1h0m-2 14h0m0-1h0m-2-1h0m-2-1h0m0 2h0m-2-4h0m-7-10h0m0 14h0m-2-7h0m1 16h0m1 6h0m2-7h0m1 5h0m1 2h0m1-9h0m2-3h0m2 7h0m0-7h0m2 4h0m0 2h0m1-3h0m0 4h0m0-1h0m1-5h0m1 9h0m1-10h0m0 11h0m0-1h0m1-9h0m1 8h0m0 1h0m2-5h0m0 1h0m1 2h0m0 0h0m1-5h0m1 4h0m2-3h0m0-2h0m1 10h0m0-7h0m1 8h0m0-13h0m1 12h0m4-4h0m2-6h0m4 1h0m1 12h0m-8 3h0m-3 1h0m0 0h0m-3 2h0m0 5h0m-1-9h0m-1 3h0m-1-1h0m0 8h0m-1-6h0m-1 3h0m-1 2h0m0-9h0m0 7h0m-1 1h0m0-4h0m-2-5h0m-6 13h0m0-8h0m0 7h0m-2 1h0m-1-12h0m-1-2h0m-4 14h0m4 6h0m7-4h0m1 14h0m0-2h0m2-6h0m1-4h0m1 8h0m0-9h0m2 8h0m1-8h0m0 0h0m2 9h0m4 1h0m0 2h0m1 1h0m1-6h0m1 7h0m5-8h0m0-4h0m2-2h0m3 3h0m9 18h0m0-4h0m-3 11h0m0-13h0m-2 7h0m0-4h0m-1-1h0m-1 1h0m-1 1h0m-1 3h0m-2-7h0m-2 4h0m-3 7h0m0-2h0m0 0h0m-2 3h0m0-2h0m-1-7h0m-2 8h0m0-11h0m-1 10h0m0-7h0m-2 0h0m-1 3h0m-5 1h0m-1 2h0m-2 5h0m-1-4h0m-1-6h0m-2 0h0m2 13h0m6 7h0m3-7h0m2 4h0m1-1h0m1-4h0m3 1h0m1 7h0m0-7h0m2 14h0m3-13h0m0 12h0m1-8h0m2-3h0m0-1h0m1 12h0m0-9h0m1 0h0m3 3h0m1-4h0m3 18h0m-18-6h0m-2 10h0m-4-6h0" stroke="#d57ab0" vector-effect="non-scaling-stroke"/>
<path d="M615 172h0m4-8h0m15 9h0m15 6h0m-8 9h0m-1-3h0m-3 5h0m-2-2h0m-1-2h0m-4 4h0m-7-10h0m-1-2h0m-3 2h0m0 2h0m-1 4h0m-1 2h0m-1 2h0m0-8h0m-2-2h0m-4 0h0m0-4h0m-2 15h0m-4-5h0m-4 0h0m-1-2h0m4 16h0m1-6h0m0 4h0m3 2h0m2 3h0m3-4h0m0 7h0m1-9h0m0 8h0m1-1h0m1 1h0m0-2h0m1 0h0m1-11h0m1 6h0m2-2h0m2 8h0m1-7h0m1-5h0m2 4h0m0 7h0m0-10h0m1 4h0m1 8h0m0-3h0m4-8h0m2 11h0m1-7h0m1 6h0m1-9h0m0 9h0m2-12h0m1 8h0m4 4h0m0-9h0m1-1h0m1 9h0m1 1h0m0-3h0m3-5h0m2-2h0m3 0h0m2 13h0m-2 9h0m0-2h0m-2 9h0m-2-4h0m-4-7h0m-1 4h0m-1 2h0m-1-7h0m0 3h0m-1 9h0m-2-7h0m0-3h0m-1-4h0m-1 1h0m-2 5h0m0-5h0m-2 10h0m-3-4h0m-1-7h0m-1 11h0m-1-9h0m-1 0h0m-1 10h0m-1-11h0m-1-2h0m-1 2h0m-1 11h0m-1-7h0m-2 9h0m-1-12h0m-1 3h0m-1 4h0m-1-7h0m0 0h0m0 9h0m-1-4h0m-1-1h0m-3-3h0m0 9h0m-2-7h0m0 2h0m-1-7h0m0-1h0m-2 4h0m0 7h0m-5 3h0m-1-5h0m0-3h0m-3-3h0m-1 5h0m-58 20h0m20-9h0m20 8h0m25-1h0m6 1h0m2-6h0m3-1h0m0-2h0m3 4h0m1 4h0m1-2h0m1-6h0m2 7h0m0-4h0m0 0h0m4-3h0m0 5h0m0-6h0m1 3h0m2 0h0m0 0h0m0 3h0m2-3h0m2 2h0m4 1h0m0 8h0m1-15h0m1 1h0m4 8h0m4-3h0m3 5h0m1-10h0m-12 27h0m-4-9h0m-1 1h0m-2 2h0m0-4h0m-1 1h0m-3 2h0m-3-3h0m-1 0h0m-4 0h0m-6 4h0m0-2h0m-1 0h0m-1 5h0m-49-7h0m-15-1h0m-14-1h0m-22 14h0m30 3h0m18-1h0m22 5h0m3 5h0m2-10h0m24 2h0m7 11h0m9 0h0m-12 9h0m-38 3h0m-2 1h0m-44 6h0m5 5h0m52 15h0m-24-4h0m-14 0h0" stroke="#a3b060" vector-effect="non-scaling-stroke"/>
<path d="M388 57h0m-7-2h0m-2 4h0m-4-2h0m-1 3h0m-2-7h0m-1-4h0m-6 10h0m-9 20h0m8 0h0m7-11h0m1 0h0m1 8h0m2 0h0m3-1h0m3-1h0m3-9h0m1 1h0m3 2h0m2 8h0m7 1h0m-2 15h0m0-10h0m-2 1h0m-1 5h0m-2-1h0m-1 5h0m-1 2h0m-1-8h0m-6 7h0m-1 2h0m0-10h0m0-2h0m-1-2h0m-1 7h0m-2 7h0m0-10h0m-3-1h0m-1 4h0m0 6h0m0-8h0m-1-4h0m0-1h0m-1 10h0m-2-5h0m-2 8h0m-8 1h0m-4 6h0m2 1h0m0 8h0m6-4h0m2 5h0m4-9h0m1 5h0m3-1h0m4 3h0m0-9h0m0 2h0m0 4h0m1 0h0m2 0h0m3-9h0m1 4h0m0 7h0m0-3h0m4-9h0m0 2h0m1 11h0m2-5h0m2 6h0m5-12h0m1-1h0m2 0h0m0 6h0m3-2h0m0 10h0m-3 6h0m-6 4h0m-2 5h0m-2-4h0m-1-5h0m-1 10h0m0-6h0m-2-8h0m-2 2h0m-2 1h0m0-4h0m0 1h0m-2 9h0m0-4h0m0 1h0m-3-2h0m0 6h0m0 4h0m-3-10h0m-1-1h0m-1 1h0m0 6h0m0-6h0m0-3h0m0 0h0m-1-2h0m-1 9h0m0-8h0m0 7h0m-2 5h0m0-5h0m0 7h0m-1-5h0m0-8h0m-2 4h0m0 0h0m-1 9h0m-3-3h0m0-10h0m-1 8h0m-7 15h0m2 1h0m1-6h0m6 4h0m1 2h0m0-8h0m0 0h0m1 13h0m2-7h0m0 3h0m1 0h0m4-3h0m3 4h0m1-5h0m1-7h0m0 7h0m0-5h0m1 11h0m3-9h0m1 8h0m0 1h0m3 1h0m0-3h0m2-2h0m2 5h0m2-7h0m0 4h0m1-10h0m1 9h0m3-7h0m3 6h0m0 2h0m-2 20h0m0-4h0m-3 3h0m-1-3h0m-3-2h0m-2-4h0m0 8h0m0 0h0m-3-3h0m-2-6h0m-2 6h0m-7-2h0m-1 4h0m-3-9h0m-2 8h0m0-11h0m-7 16h0m3 3h0m1 10h0m9-2h0m3 0h0m3-6h0m2 4h0m5-7h0m2 13h0m-1 2h0m-9-1h0m-8 8h0" stroke="#12b4c8" vector-effect="non-scaling-stroke"/>
<path d="M447 233h0m27 4h0m32-6h0m2 9h0m0 6h0m-3-4h0m-1 10h0m-1-10h0m0 11h0m-3-8h0m-4 9h0m0-6h0m-5 1h0m-1-2h0m-2 6h0m-2 2h0m-1-5h0m-1-5h0m-1 7h0m0 2h0m-1-2h0m-8-8h0m-48 18h0m36 9h0m0-11h0m4 8h0m6 3h0m3-13h0m1 5h0m4 8h0m5-2h0m1-1h0m3-8h0m1 2h0m1-4h0m2 7h0m1-3h0m4 0h0m1-3h0m0 6h0m4 2h0m1-3h0m0-8h0m1 8h0m7 2h0m4-8h0m2 9h0m0-5h0m2 18h0m-10-8h0m-3 14h0m0-10h0m-4 11h0m-1-1h0m0-13h0m-2 2h0m0-2h0m-1 10h0m-1-6h0m-2 9h0m0-4h0m-1 3h0m-3-13h0m-1 11h0m0-9h0m-2 5h0m-1-4h0m0 11h0m-2-13h0m-1 14h0m-1-2h0m-1-10h0m-3-3h0m-1 1h0m0 7h0m-5 0h0m-1-8h0m-2 4h0m-2 4h0m-9 7h0m-10-13h0m-4-1h0m-5 22h0m24 5h0m4-4h0m7-4h0m1 0h0m3-2h0m3 3h0m1 5h0m1 1h0m2-6h0m7 5h0m1-2h0m1 4h0m1-8h0m1-4h0m1 14h0m2-1h0m3 2h0m4-2h0m0-6h0m-13 11h0m-4-2h0m-4 10h0m0 2h0m-2-4h0m0-3h0m-3-5h0m-8 9h0m-1 1h0m0-7h0m0 4h0m-1 1h0m-1-7h0m-2 5h0m0-5h0m-1 6h0m-5 3h0m-4-7h0m-16 5h0m-16 10h0m13 9h0m14-1h0m1 2h0m2-7h0m2-2h0m1 0h0m2 7h0m2-10h0m2 7h0m5 3h0m2-3h0m16 7h0m0-13h0m-15 22h0m-2-2h0m-1 6h0m-1-10h0m0 2h0m-1 6h0m-4 4h0m0-8h0m-2 5h0m0-2h0m-1-3h0m0 9h0m-2-9h0m0 1h0m0-1h0m-1-1h0m0-1h0m-3-3h0m-1 6h0m-1-2h0m0 11h0m-2-9h0m-1-2h0m17 15h0m5-2h0" stroke="#e78684" vector-effect="non-scaling-stroke"/>
<path d="M301 254h0m-3-1h0m-1 2h0m0 0h0m-2-13h0m0 7h0m0 0h0m-1-2h0m-1 5h0m-4-5h0m-1 8h0m0-2h0m-2-5h0m-3 2h0m0 1h0m-1-5h0m-5 9h0m0-1h0m-1-2h0m0-5h0m-3 1h0m-1 3h0m-2 4h0m-2-7h0m-7 6h0m-3 6h0m5 8h0m2-12h0m3 8h0m3-6h0m1-2h0m1 2h0m2 2h0m1-1h0m0 0h0m1 3h0m2 7h0m0-9h0m1 9h0m2-11h0m0 10h0m1-8h0m0 3h0m1-1h0m0 4h0m1-5h0m4-4h0m1 0h0m2 10h0m1-11h0m0 1h0m1-1h0m1 7h0m8 8h0m2-6h0m0 5h0m1-6h0m15 7h0m0-14h0m10 4h0m14-2h0m21 25h0m-4 0h0m-4 1h0m-9 1h0m-2-5h0m0 5h0m-4-14h0m-10 9h0m-50 1h0m-5-10h0m-2 10h0m-18-4h0m-4 4h0m6 12h0m20 2h0m44-4h0m0 0h0m0-3h0m4 11h0m2-12h0m2 11h0m3-2h0m0 2h0m1-4h0m0 1h0m1 1h0m1-9h0m0 4h0m1 9h0m0-4h0m1 0h0m1-4h0m1 3h0m1 7h0m0-1h0m1-6h0m1-4h0m3 8h0m2-5h0m1-7h0m0 6h0m2 5h0m0-5h0m0 2h0m1 2h0m0 2h0m0-4h0m1-3h0m3 9h0m0-9h0m1-5h0m7 3h0m5 11h0m-3 4h0m-1 3h0m-2-4h0m-2 2h0m-1 1h0m-3 7h0m0-9h0m-4 8h0m-4-8h0m-1 1h0m-3-1h0m0 0h0m0 4h0m-3 1h0m-1-5h0m-1 6h0m0-8h0m-1 0h0m-8 7h0m-4-7h0m-9 2h0m-26 1h0" stroke="#cfd48a" vector-effect="non-scaling-stroke"/>
<path d="M408 158h0m-7 4h0m7 5h0m1 4h0m3-5h0m3 5h0m4-4h0m2-1h0m2-3h0m0 8h0m0 3h0m0-11h0m1-3h0m0 15h0m2-2h0m0 2h0m0-6h0m0 5h0m1 0h0m0-12h0m1 11h0m1 0h0m0-10h0m3 3h0m0 4h0m0-2h0m1 3h0m1-3h0m2 1h0m0 1h0m2-6h0m1 8h0m1-10h0m0 2h0m1 10h0m1-5h0m1 5h0m2 0h0m8-1h0m2-4h0m2 8h0m-3 0h0m-2 7h0m-7-6h0m-4 8h0m-3-6h0m0 2h0m-2 3h0m0 4h0m-2-3h0m-1-1h0m0 6h0m-1-8h0m-1-4h0m-2-3h0m0 11h0m-1-2h0m0-7h0m-2 6h0m-1 1h0m0 4h0m0-9h0m-1 3h0m-1 2h0m0 5h0m-1-3h0m0-7h0m-1 7h0m0 2h0m-1-5h0m0 1h0m0-6h0m-2 7h0m0-3h0m-1-6h0m0-1h0m0 8h0m-4-4h0m0 9h0m-3-4h0m-3-8h0m-6 2h0m-4 4h0m10 10h0m7-1h0m1 1h0m0 3h0m3 2h0m6 7h0m0-1h0m7-10h0m2 2h0m4 1h0m1 0h0m3 1h0m6-3h0" stroke="#f3ac74" vector-effect="non-scaling-stroke"/>
<path d="M546 44h0m3-2h0m7-8h0m4 8h0m2 1h0m3 2h0m1 0h0m2-5h0m0 2h0m0 3h0m3-11h0m1 11h0m0-1h0m5-7h0m0-5h0m4 6h0m7 6h0m7 7h0m-1 8h0m0 2h0m-3 2h0m-1-13h0m-2 4h0m-5 3h0m-1 4h0m-3-5h0m-1 6h0m-2-1h0m-2-13h0m0 15h0m0-7h0m0-4h0m-3 11h0m-1-6h0m-1-8h0m-2 4h0m0-2h0m-1 5h0m-1-3h0m0 10h0m0-1h0m0 1h0m-1-7h0m-1-3h0m0 1h0m-4 3h0m-1-1h0m-3 6h0m0-12h0m-1 6h0m-2-4h0m-2 3h0m-1-7h0m-3 5h0m0 20h0m3-3h0m2 4h0m2 0h0m6 0h0m2-9h0m3 0h0m2 14h0m6 0h0m0-3h0m0-4h0m2-2h0m1 8h0m1-12h0m0 1h0m1 4h0m7-3h0m2 10h0m-6 11h0m-2 3h0m-2-6h0m-2-4h0m-1 7h0m-4-8h0m-2 5h0m-9 2h0" stroke="#eeaac6" vector-effect="non-scaling-stroke"/>
<path d="M455 364h0m2 3h0m0-1h0m2-6h0m1 6h0m6 1h0m12-6h0m3 19h0m-1-1h0m-1-9h0m0 3h0m-3 8h0m-3-13h0m-2 4h0m-3-3h0m0 1h0m-5-1h0m-1 5h0m0-1h0m0 1h0m-1 0h0m-2-1h0m-1-4h0m-1 11h0m-1 1h0m-1-11h0m-2 4h0m-1 3h0m-1-5h0m-3-4h0m-1 1h0m23 17h0" stroke="#88c8d6" vector-effect="non-scaling-stroke"/>
</g>
<rect x="72.6" y="30.7" width="387.1" height="384.2" fill="none" stroke="#333" stroke-width="1.3"/>
<text x="177.8" y="22.3" font-size="12.3" textLength="177.4" lengthAdjust="spacing">Ground Truth (14630 Genes)</text>
<text x="79.5" y="52.1" font-size="22" textLength="105.9" lengthAdjust="spacing">ARI = 0.52</text>
<text x="266.1" y="431.1" font-size="13" text-anchor="middle" textLength="45.6" lengthAdjust="spacing">UMAP1</text>
<text transform="translate(63.1,222.8) rotate(-90)" x="0" y="0" font-size="13" text-anchor="middle" textLength="45.6" lengthAdjust="spacing">UMAP2</text>
<rect x="499.1" y="30.7" width="386.7" height="384.0" fill="none" stroke="#333" stroke-width="1.3"/>
<text x="506.2" y="22.3" font-size="12.3" textLength="373.7" lengthAdjust="spacing">Simulated Dataset (500 HVGs Sampled from Ground Truth)</text>
<text x="508.8" y="52.1" font-size="22" textLength="104.1" lengthAdjust="spacing">ARI = 0.51</text>
<text x="692.5" y="430.9" font-size="13" text-anchor="middle" textLength="45.6" lengthAdjust="spacing">UMAP1</text>
<text transform="translate(489.6,222.7) rotate(-90)" x="0" y="0" font-size="13" text-anchor="middle" textLength="45.6" lengthAdjust="spacing">UMAP2</text>
<rect x="72.0" y="474.8" width="387.7" height="384.7" fill="none" stroke="#333" stroke-width="1.3"/>
<text x="89.9" y="466.7" font-size="12.3" textLength="352.3" lengthAdjust="spacing">scGALA Imputed from Simulated Dataset (1545 Genes)</text>
<text x="78.4" y="498.2" font-size="22" textLength="104.1" lengthAdjust="spacing">ARI = 0.51</text>
<text x="265.9" y="875.7" font-size="13" text-anchor="middle" textLength="45.6" lengthAdjust="spacing">UMAP1</text>
<text transform="translate(62.5,667.1) rotate(-90)" x="0" y="0" font-size="13" text-anchor="middle" textLength="45.6" lengthAdjust="spacing">UMAP2</text>
<rect x="499.0" y="474.8" width="386.6" height="383.9" fill="none" stroke="#333" stroke-width="1.3"/>
<text x="578.9" y="466.7" font-size="12.3" textLength="226.3" lengthAdjust="spacing">Imputed Genes Only (1050 Genes)</text>
<text x="508.6" y="498.2" font-size="22" textLength="105.4" lengthAdjust="spacing">ARI = 0.49</text>
<text x="692.3" y="874.9" font-size="13" text-anchor="middle" textLength="45.6" lengthAdjust="spacing">UMAP1</text>
<text transform="translate(489.5,666.8) rotate(-90)" x="0" y="0" font-size="13" text-anchor="middle" textLength="45.6" lengthAdjust="spacing">UMAP2</text>
<text x="961.0" y="21.8" font-size="32">b</text>
<rect x="1263.8" y="65.9" width="341.7" height="24.3" fill="#f5ad7d"/>
<rect x="1605.5" y="65.9" width="300.2" height="24.3" fill="#7a9dcb"/>
<rect x="1378.0" y="96.3" width="227.5" height="24.3" fill="#f5ad7d"/>
<rect x="1605.5" y="96.3" width="153.0" height="24.3" fill="#7a9dcb"/>
<rect x="1378.0" y="126.7" width="227.5" height="24.3" fill="#f5ad7d"/>
<rect x="1605.5" y="126.7" width="153.0" height="24.3" fill="#7a9dcb"/>
<rect x="1383.0" y="157.0" width="222.5" height="24.3" fill="#f5ad7d"/>
<rect x="1605.5" y="157.0" width="153.0" height="24.3" fill="#7a9dcb"/>
<rect x="1510.0" y="187.4" width="95.5" height="24.3" fill="#f5ad7d"/>
<rect x="1605.5" y="187.4" width="155.1" height="24.3" fill="#7a9dcb"/>
<rect x="1511.6" y="217.8" width="93.9" height="24.3" fill="#f5ad7d"/>
<rect x="1605.5" y="217.8" width="153.0" height="24.3" fill="#7a9dcb"/>
<rect x="1472.5" y="248.1" width="133.0" height="24.3" fill="#f5ad7d"/>
<rect x="1605.5" y="248.1" width="141.3" height="24.3" fill="#7a9dcb"/>
<rect x="1477.6" y="278.5" width="127.9" height="24.3" fill="#f5ad7d"/>
<rect x="1605.5" y="278.5" width="112.9" height="24.3" fill="#7a9dcb"/>
<rect x="1479.4" y="308.8" width="126.1" height="24.3" fill="#f5ad7d"/>
<rect x="1605.5" y="308.8" width="116.1" height="24.3" fill="#7a9dcb"/>
<rect x="1488.3" y="339.2" width="117.2" height="24.3" fill="#f5ad7d"/>
<rect x="1605.5" y="339.2" width="121.5" height="24.3" fill="#7a9dcb"/>
<rect x="1487.6" y="369.6" width="117.9" height="24.3" fill="#f5ad7d"/>
<text x="1626.5" y="384.2" font-size="15" text-anchor="middle">ns</text>
<rect x="1487.6" y="399.9" width="117.9" height="24.3" fill="#f5ad7d"/>
<text x="1626.5" y="414.6" font-size="15" text-anchor="middle">ns</text>
<rect x="1500.3" y="430.3" width="105.2" height="24.3" fill="#f5ad7d"/>
<rect x="1605.5" y="430.3" width="87.7" height="24.3" fill="#7a9dcb"/>
<rect x="1500.3" y="460.6" width="105.2" height="24.3" fill="#f5ad7d"/>
<rect x="1605.5" y="460.6" width="87.7" height="24.3" fill="#7a9dcb"/>
<rect x="1502.8" y="491.0" width="102.7" height="24.3" fill="#f5ad7d"/>
<rect x="1605.5" y="491.0" width="96.5" height="24.3" fill="#7a9dcb"/>
<rect x="1510.3" y="521.4" width="95.2" height="24.3" fill="#f5ad7d"/>
<rect x="1605.5" y="521.4" width="96.5" height="24.3" fill="#7a9dcb"/>
<rect x="1518.0" y="551.7" width="87.5" height="24.3" fill="#f5ad7d"/>
<rect x="1605.5" y="551.7" width="96.5" height="24.3" fill="#7a9dcb"/>
<rect x="1550.0" y="582.1" width="55.5" height="24.3" fill="#f5ad7d"/>
<rect x="1605.5" y="582.1" width="85.5" height="24.3" fill="#7a9dcb"/>
<rect x="1521.0" y="612.4" width="84.5" height="24.3" fill="#f5ad7d"/>
<rect x="1605.5" y="612.4" width="58.5" height="24.3" fill="#7a9dcb"/>
<rect x="1545.0" y="642.8" width="60.5" height="24.3" fill="#f5ad7d"/>
<rect x="1605.5" y="642.8" width="73.5" height="24.3" fill="#7a9dcb"/>
<rect x="1543.7" y="673.2" width="61.8" height="24.3" fill="#f5ad7d"/>
<rect x="1605.5" y="673.2" width="73.5" height="24.3" fill="#7a9dcb"/>
<rect x="1535.6" y="703.5" width="69.9" height="24.3" fill="#f5ad7d"/>
<rect x="1605.5" y="703.5" width="48.5" height="24.3" fill="#7a9dcb"/>
<rect x="1546.0" y="733.9" width="59.5" height="24.3" fill="#f5ad7d"/>
<text x="1626.5" y="748.5" font-size="15" text-anchor="middle">ns</text>
<rect x="1549.0" y="764.2" width="56.5" height="24.3" fill="#f5ad7d"/>
<text x="1626.5" y="778.9" font-size="15" text-anchor="middle">ns</text>
<rect x="1605.5" y="794.6" width="53.5" height="24.3" fill="#7a9dcb"/>
<text x="1585.5" y="809.2" font-size="15" text-anchor="middle">ns</text>
<line x1="1267.6" y1="27.5" x2="1267.6" y2="856.0" stroke="#b8b8b8" stroke-width="1.0" stroke-opacity="0.75"/>
<line x1="1352.1" y1="27.5" x2="1352.1" y2="856.0" stroke="#b8b8b8" stroke-width="1.0" stroke-opacity="0.75"/>
<line x1="1436.5" y1="27.5" x2="1436.5" y2="856.0" stroke="#b8b8b8" stroke-width="1.0" stroke-opacity="0.75"/>
<line x1="1521.0" y1="27.5" x2="1521.0" y2="856.0" stroke="#b8b8b8" stroke-width="1.0" stroke-opacity="0.75"/>
<line x1="1690.0" y1="27.5" x2="1690.0" y2="856.0" stroke="#b8b8b8" stroke-width="1.0" stroke-opacity="0.75"/>
<line x1="1774.5" y1="27.5" x2="1774.5" y2="856.0" stroke="#b8b8b8" stroke-width="1.0" stroke-opacity="0.75"/>
<line x1="1858.9" y1="27.5" x2="1858.9" y2="856.0" stroke="#b8b8b8" stroke-width="1.0" stroke-opacity="0.75"/>
<line x1="1943.4" y1="27.5" x2="1943.4" y2="856.0" stroke="#b8b8b8" stroke-width="1.0" stroke-opacity="0.75"/>
<line x1="1229.8" y1="78.1" x2="1980.7" y2="78.1" stroke="#b8b8b8" stroke-width="1.0" stroke-opacity="0.75"/>
<line x1="1229.8" y1="108.5" x2="1980.7" y2="108.5" stroke="#b8b8b8" stroke-width="1.0" stroke-opacity="0.75"/>
<line x1="1229.8" y1="138.8" x2="1980.7" y2="138.8" stroke="#b8b8b8" stroke-width="1.0" stroke-opacity="0.75"/>
<line x1="1229.8" y1="169.2" x2="1980.7" y2="169.2" stroke="#b8b8b8" stroke-width="1.0" stroke-opacity="0.75"/>
<line x1="1229.8" y1="199.5" x2="1980.7" y2="199.5" stroke="#b8b8b8" stroke-width="1.0" stroke-opacity="0.75"/>
<line x1="1229.8" y1="229.9" x2="1980.7" y2="229.9" stroke="#b8b8b8" stroke-width="1.0" stroke-opacity="0.75"/>
<line x1="1229.8" y1="260.3" x2="1980.7" y2="260.3" stroke="#b8b8b8" stroke-width="1.0" stroke-opacity="0.75"/>
<line x1="1229.8" y1="290.6" x2="1980.7" y2="290.6" stroke="#b8b8b8" stroke-width="1.0" stroke-opacity="0.75"/>
<line x1="1229.8" y1="321.0" x2="1980.7" y2="321.0" stroke="#b8b8b8" stroke-width="1.0" stroke-opacity="0.75"/>
<line x1="1229.8" y1="351.3" x2="1980.7" y2="351.3" stroke="#b8b8b8" stroke-width="1.0" stroke-opacity="0.75"/>
<line x1="1229.8" y1="381.7" x2="1980.7" y2="381.7" stroke="#b8b8b8" stroke-width="1.0" stroke-opacity="0.75"/>
<line x1="1229.8" y1="412.1" x2="1980.7" y2="412.1" stroke="#b8b8b8" stroke-width="1.0" stroke-opacity="0.75"/>
<line x1="1229.8" y1="442.4" x2="1980.7" y2="442.4" stroke="#b8b8b8" stroke-width="1.0" stroke-opacity="0.75"/>
<line x1="1229.8" y1="472.8" x2="1980.7" y2="472.8" stroke="#b8b8b8" stroke-width="1.0" stroke-opacity="0.75"/>
<line x1="1229.8" y1="503.1" x2="1980.7" y2="503.1" stroke="#b8b8b8" stroke-width="1.0" stroke-opacity="0.75"/>
<line x1="1229.8" y1="533.5" x2="1980.7" y2="533.5" stroke="#b8b8b8" stroke-width="1.0" stroke-opacity="0.75"/>
<line x1="1229.8" y1="563.9" x2="1980.7" y2="563.9" stroke="#b8b8b8" stroke-width="1.0" stroke-opacity="0.75"/>
<line x1="1229.8" y1="594.2" x2="1980.7" y2="594.2" stroke="#b8b8b8" stroke-width="1.0" stroke-opacity="0.75"/>
<line x1="1229.8" y1="624.6" x2="1980.7" y2="624.6" stroke="#b8b8b8" stroke-width="1.0" stroke-opacity="0.75"/>
<line x1="1229.8" y1="654.9" x2="1980.7" y2="654.9" stroke="#b8b8b8" stroke-width="1.0" stroke-opacity="0.75"/>
<line x1="1229.8" y1="685.3" x2="1980.7" y2="685.3" stroke="#b8b8b8" stroke-width="1.0" stroke-opacity="0.75"/>
<line x1="1229.8" y1="715.7" x2="1980.7" y2="715.7" stroke="#b8b8b8" stroke-width="1.0" stroke-opacity="0.75"/>
<line x1="1229.8" y1="746.0" x2="1980.7" y2="746.0" stroke="#b8b8b8" stroke-width="1.0" stroke-opacity="0.75"/>
<line x1="1229.8" y1="776.4" x2="1980.7" y2="776.4" stroke="#b8b8b8" stroke-width="1.0" stroke-opacity="0.75"/>
<line x1="1229.8" y1="806.7" x2="1980.7" y2="806.7" stroke="#b8b8b8" stroke-width="1.0" stroke-opacity="0.75"/>
<text x="1220.2" y="82.9" font-size="13.4" text-anchor="end" textLength="87.2" lengthAdjust="spacing">4-myelination</text>
<line x1="1225.3" y1="78.1" x2="1229.8" y2="78.1" stroke="#222" stroke-width="1.2"/>
<text x="1220.2" y="113.3" font-size="13.4" text-anchor="end" textLength="310.2" lengthAdjust="spacing">13-external encapsulating structure organization</text>
<line x1="1225.3" y1="108.5" x2="1229.8" y2="108.5" stroke="#222" stroke-width="1.2"/>
<text x="1220.2" y="143.6" font-size="13.4" text-anchor="end" textLength="243.8" lengthAdjust="spacing">13-extracellular structure organization</text>
<line x1="1225.3" y1="138.8" x2="1229.8" y2="138.8" stroke="#222" stroke-width="1.2"/>
<text x="1220.2" y="174.0" font-size="13.4" text-anchor="end" textLength="228.2" lengthAdjust="spacing">13-extracellular matrix organization</text>
<line x1="1225.3" y1="169.2" x2="1229.8" y2="169.2" stroke="#222" stroke-width="1.2"/>
<text x="1220.2" y="204.3" font-size="13.4" text-anchor="end" textLength="230.0" lengthAdjust="spacing">13-keratan sulfate catabolic process</text>
<line x1="1225.3" y1="199.5" x2="1229.8" y2="199.5" stroke="#222" stroke-width="1.2"/>
<text x="1220.2" y="234.7" font-size="13.4" text-anchor="end" textLength="241.4" lengthAdjust="spacing">13-sulfur compound catabolic process</text>
<line x1="1225.3" y1="229.9" x2="1229.8" y2="229.9" stroke="#222" stroke-width="1.2"/>
<text x="1220.2" y="265.1" font-size="13.4" text-anchor="end" textLength="235.1" lengthAdjust="spacing">13-supramolecular fiber organization</text>
<line x1="1225.3" y1="260.3" x2="1229.8" y2="260.3" stroke="#222" stroke-width="1.2"/>
<text x="1220.2" y="295.4" font-size="13.4" text-anchor="end" textLength="189.1" lengthAdjust="spacing">13-collagen fibril organization</text>
<line x1="1225.3" y1="290.6" x2="1229.8" y2="290.6" stroke="#222" stroke-width="1.2"/>
<text x="1220.2" y="325.8" font-size="13.4" text-anchor="end" textLength="201.0" lengthAdjust="spacing">4-nervous system development</text>
<line x1="1225.3" y1="321.0" x2="1229.8" y2="321.0" stroke="#222" stroke-width="1.2"/>
<text x="1220.2" y="356.1" font-size="13.4" text-anchor="end" textLength="249.6" lengthAdjust="spacing">4-central nervous system development</text>
<line x1="1225.3" y1="351.3" x2="1229.8" y2="351.3" stroke="#222" stroke-width="1.2"/>
<text x="1220.2" y="386.5" font-size="13.4" text-anchor="end" textLength="192.8" lengthAdjust="spacing">6-sensory perception of sound</text>
<line x1="1225.3" y1="381.7" x2="1229.8" y2="381.7" stroke="#222" stroke-width="1.2"/>
<text x="1220.2" y="416.9" font-size="13.4" text-anchor="end" textLength="284.9" lengthAdjust="spacing">6-sensory perception of mechanical stimulus</text>
<line x1="1225.3" y1="412.1" x2="1229.8" y2="412.1" stroke="#222" stroke-width="1.2"/>
<text x="1220.2" y="447.2" font-size="13.4" text-anchor="end" textLength="310.7" lengthAdjust="spacing">16-external encapsulating structure organization</text>
<line x1="1225.3" y1="442.4" x2="1229.8" y2="442.4" stroke="#222" stroke-width="1.2"/>
<text x="1220.2" y="477.6" font-size="13.4" text-anchor="end" textLength="244.5" lengthAdjust="spacing">16-extracellular structure organization</text>
<line x1="1225.3" y1="472.8" x2="1229.8" y2="472.8" stroke="#222" stroke-width="1.2"/>
<text x="1220.2" y="507.9" font-size="13.4" text-anchor="end" textLength="228.2" lengthAdjust="spacing">16-extracellular matrix organization</text>
<line x1="1225.3" y1="503.1" x2="1229.8" y2="503.1" stroke="#222" stroke-width="1.2"/>
<text x="1220.2" y="538.3" font-size="13.4" text-anchor="end" textLength="189.2" lengthAdjust="spacing">16-collagen fibril organization</text>
<line x1="1225.3" y1="533.5" x2="1229.8" y2="533.5" stroke="#222" stroke-width="1.2"/>
<text x="1220.2" y="568.7" font-size="13.4" text-anchor="end" textLength="300.0" lengthAdjust="spacing">16-positive regulation of fibroblast proliferation</text>
<line x1="1225.3" y1="563.9" x2="1229.8" y2="563.9" stroke="#222" stroke-width="1.2"/>
<text x="1220.2" y="599.0" font-size="13.4" text-anchor="end" textLength="235.2" lengthAdjust="spacing">16-supramolecular fiber organization</text>
<line x1="1225.3" y1="594.2" x2="1229.8" y2="594.2" stroke="#222" stroke-width="1.2"/>
<text x="1220.2" y="629.4" font-size="13.4" text-anchor="end" textLength="308.9" lengthAdjust="spacing">4-axon ensheathment in central nervous system</text>
<line x1="1225.3" y1="624.6" x2="1229.8" y2="624.6" stroke="#222" stroke-width="1.2"/>
<text x="1220.2" y="659.7" font-size="13.4" text-anchor="end" textLength="160.2" lengthAdjust="spacing">13-organic acid transport</text>
<line x1="1225.3" y1="654.9" x2="1229.8" y2="654.9" stroke="#222" stroke-width="1.2"/>
<text x="1220.2" y="690.1" font-size="13.4" text-anchor="end" textLength="112.8" lengthAdjust="spacing">13-odontogenesis</text>
<line x1="1225.3" y1="685.3" x2="1229.8" y2="685.3" stroke="#222" stroke-width="1.2"/>
<text x="1220.2" y="720.5" font-size="13.4" text-anchor="end" textLength="240.8" lengthAdjust="spacing">4-central nervous system myelination</text>
<line x1="1225.3" y1="715.7" x2="1229.8" y2="715.7" stroke="#222" stroke-width="1.2"/>
<text x="1220.2" y="750.8" font-size="13.4" text-anchor="end" textLength="209.2" lengthAdjust="spacing">17-microtubule bundle formation</text>
<line x1="1225.3" y1="746.0" x2="1229.8" y2="746.0" stroke="#222" stroke-width="1.2"/>
<text x="1220.2" y="781.2" font-size="13.4" text-anchor="end" textLength="202.9" lengthAdjust="spacing">4-oligodendrocyte development</text>
<line x1="1225.3" y1="776.4" x2="1229.8" y2="776.4" stroke="#222" stroke-width="1.2"/>
<text x="1220.2" y="811.5" font-size="13.4" text-anchor="end" textLength="264.1" lengthAdjust="spacing">13-regulation of osteoblast differentiation</text>
<line x1="1225.3" y1="806.7" x2="1229.8" y2="806.7" stroke="#222" stroke-width="1.2"/>
<line x1="1605.5" y1="49.5" x2="1605.5" y2="856.0" stroke="#000" stroke-width="2.2"/>
<line x1="1229.8" y1="27.5" x2="1229.8" y2="856.6" stroke="#222" stroke-width="1.3"/>
<line x1="1229.2" y1="856.0" x2="1980.7" y2="856.0" stroke="#222" stroke-width="1.3"/>
<line x1="1267.6" y1="856.0" x2="1267.6" y2="860.5" stroke="#222" stroke-width="1.2"/>
<text x="1267.6" y="874.5" font-size="12.5" text-anchor="middle">10.0</text>
<line x1="1352.1" y1="856.0" x2="1352.1" y2="860.5" stroke="#222" stroke-width="1.2"/>
<text x="1352.1" y="874.5" font-size="12.5" text-anchor="middle">7.5</text>
<line x1="1436.5" y1="856.0" x2="1436.5" y2="860.5" stroke="#222" stroke-width="1.2"/>
<text x="1436.5" y="874.5" font-size="12.5" text-anchor="middle">5.0</text>
<line x1="1521.0" y1="856.0" x2="1521.0" y2="860.5" stroke="#222" stroke-width="1.2"/>
<text x="1521.0" y="874.5" font-size="12.5" text-anchor="middle">2.5</text>
<line x1="1605.5" y1="856.0" x2="1605.5" y2="860.5" stroke="#222" stroke-width="1.2"/>
<text x="1605.5" y="874.5" font-size="12.5" text-anchor="middle">0.0</text>
<line x1="1690.0" y1="856.0" x2="1690.0" y2="860.5" stroke="#222" stroke-width="1.2"/>
<text x="1690.0" y="874.5" font-size="12.5" text-anchor="middle">2.5</text>
<line x1="1774.5" y1="856.0" x2="1774.5" y2="860.5" stroke="#222" stroke-width="1.2"/>
<text x="1774.5" y="874.5" font-size="12.5" text-anchor="middle">5.0</text>
<line x1="1858.9" y1="856.0" x2="1858.9" y2="860.5" stroke="#222" stroke-width="1.2"/>
<text x="1858.9" y="874.5" font-size="12.5" text-anchor="middle">7.5</text>
<line x1="1943.4" y1="856.0" x2="1943.4" y2="860.5" stroke="#222" stroke-width="1.2"/>
<text x="1943.4" y="874.5" font-size="12.5" text-anchor="middle">10.0</text>
<text x="1605.5" y="892.5" font-size="13" text-anchor="middle" textLength="79.0" lengthAdjust="spacing">-Log10(FDR)</text>
<text x="1605.5" y="20.5" font-size="14.5" text-anchor="middle" textLength="385.0" lengthAdjust="spacing">Enriched Pathways Comparison Across All Clusters</text>
<text x="1494.0" y="47.5" font-size="13.2" text-anchor="middle" textLength="100.0" lengthAdjust="spacing">scGALA Imputed</text>
<text x="1719.5" y="47.5" font-size="13.2" text-anchor="middle" textLength="109.0" lengthAdjust="spacing">Simulated Dataset</text>
<text x="1573" y="42" font-size="15.5"><tspan font-style="italic">P</tspan> = 0.036</text>
<rect x="1236.2" y="810" width="99" height="40" rx="3" fill="#fff" stroke="#ccc" stroke-width="1"/>
<rect x="1241.5" y="815.5" width="26.0" height="9.0" fill="#7a9dcb"/>
<rect x="1241.5" y="834.0" width="26.0" height="9.0" fill="#f5ad7d"/>
<text x="1277.0" y="824.5" font-size="12.5" textLength="52.0" lengthAdjust="spacing">Original</text>
<text x="1277.0" y="843.5" font-size="12.5" textLength="53.0" lengthAdjust="spacing">Imputed</text>
<text x="-2.5" y="904.6" font-size="32">c</text>
<rect x="205.8" y="893.5" width="1236.8" height="466.3" fill="#fff" stroke="#222" stroke-width="1.3"/>
<g stroke="#1a1a2a" stroke-width="0.6">
<circle cx="237.8" cy="918.4" r="8.4" fill="#3c56a5"/>
<circle cx="278.2" cy="918.4" r="8.4" fill="#3c56a5"/>
<circle cx="318.6" cy="918.4" r="12.0" fill="#3162ae"/>
<circle cx="359.0" cy="918.4" r="9.6" fill="#3c56a5"/>
<circle cx="399.4" cy="918.4" r="12.0" fill="#0892bc"/>
<circle cx="439.9" cy="918.4" r="8.4" fill="#3c56a5"/>
<circle cx="480.3" cy="918.4" r="4.8" fill="#3c56a5"/>
<circle cx="520.7" cy="918.4" r="4.8" fill="#3c56a5"/>
<circle cx="561.1" cy="918.4" r="10.8" fill="#0a74bb"/>
<circle cx="601.5" cy="918.4" r="10.8" fill="#1e6cb5"/>
<circle cx="641.9" cy="918.4" r="3.6" fill="#3c56a5"/>
<circle cx="682.3" cy="918.4" r="12.0" fill="#0581bf"/>
<circle cx="722.7" cy="918.4" r="7.2" fill="#3c56a5"/>
<circle cx="763.1" cy="918.4" r="6.0" fill="#3c56a5"/>
<circle cx="803.5" cy="918.4" r="9.6" fill="#3760ad"/>
<circle cx="844.0" cy="918.4" r="6.0" fill="#3c56a5"/>
<circle cx="884.4" cy="918.4" r="6.0" fill="#3c56a5"/>
<circle cx="924.8" cy="918.4" r="6.0" fill="#3c56a5"/>
<circle cx="965.2" cy="918.4" r="10.8" fill="#3760ad"/>
<circle cx="1005.6" cy="918.4" r="2.4" fill="#3c56a5"/>
<circle cx="1046.0" cy="918.4" r="3.6" fill="#3c56a5"/>
<circle cx="1086.4" cy="918.4" r="6.0" fill="#3c56a5"/>
<circle cx="1126.8" cy="918.4" r="12.0" fill="#099b9e"/>
<circle cx="1167.2" cy="918.4" r="2.4" fill="#3c56a5"/>
<circle cx="1207.6" cy="918.4" r="4.8" fill="#3c56a5"/>
<circle cx="1248.0" cy="918.4" r="9.6" fill="#3760ad"/>
<circle cx="1288.5" cy="918.4" r="3.6" fill="#3c56a5"/>
<circle cx="1328.9" cy="918.4" r="9.6" fill="#3760ad"/>
<circle cx="1369.3" cy="918.4" r="12.0" fill="#0896b0"/>
<circle cx="1409.7" cy="918.4" r="6.0" fill="#3c56a5"/>
<circle cx="237.8" cy="942.9" r="4.8" fill="#3c56a5"/>
<circle cx="278.2" cy="942.9" r="12.0" fill="#07a194"/>
<circle cx="318.6" cy="942.9" r="10.8" fill="#3162ae"/>
<circle cx="359.0" cy="942.9" r="6.0" fill="#3c56a5"/>
<circle cx="399.4" cy="942.9" r="9.6" fill="#3162ae"/>
<circle cx="439.9" cy="942.9" r="2.4" fill="#3c56a5"/>
<circle cx="480.3" cy="942.9" r="4.8" fill="#3c56a5"/>
<circle cx="520.7" cy="942.9" r="7.2" fill="#3c56a5"/>
<circle cx="561.1" cy="942.9" r="9.6" fill="#3c56a5"/>
<circle cx="601.5" cy="942.9" r="12.0" fill="#5cb475"/>
<circle cx="641.9" cy="942.9" r="10.8" fill="#3162ae"/>
<circle cx="682.3" cy="942.9" r="8.4" fill="#3c56a5"/>
<circle cx="722.7" cy="942.9" r="2.4" fill="#3c56a5"/>
<circle cx="763.1" cy="942.9" r="9.6" fill="#3760ad"/>
<circle cx="803.5" cy="942.9" r="7.2" fill="#3c56a5"/>
<circle cx="844.0" cy="942.9" r="3.6" fill="#3c56a5"/>
<circle cx="884.4" cy="942.9" r="6.0" fill="#3c56a5"/>
<circle cx="924.8" cy="942.9" r="10.8" fill="#3162ae"/>
<circle cx="965.2" cy="942.9" r="7.2" fill="#3c56a5"/>
<circle cx="1005.6" cy="942.9" r="10.8" fill="#3162ae"/>
<circle cx="1046.0" cy="942.9" r="8.4" fill="#3c56a5"/>
<circle cx="1086.4" cy="942.9" r="12.0" fill="#0a74bb"/>
<circle cx="1126.8" cy="942.9" r="12.0" fill="#0589c0"/>
<circle cx="1167.2" cy="942.9" r="12.0" fill="#0892bc"/>
<circle cx="1207.6" cy="942.9" r="2.4" fill="#3c56a5"/>
<circle cx="1248.0" cy="942.9" r="8.4" fill="#3c56a5"/>
<circle cx="1288.5" cy="942.9" r="8.4" fill="#3760ad"/>
<circle cx="1328.9" cy="942.9" r="12.0" fill="#099b9e"/>
<circle cx="1369.3" cy="942.9" r="10.8" fill="#3162ae"/>
<circle cx="1409.7" cy="942.9" r="12.0" fill="#0589c0"/>
<circle cx="237.8" cy="967.4" r="7.2" fill="#3c56a5"/>
<circle cx="278.2" cy="967.4" r="12.0" fill="#0a74bb"/>
<circle cx="318.6" cy="967.4" r="12.0" fill="#3162ae"/>
<circle cx="359.0" cy="967.4" r="12.0" fill="#0896b0"/>
<circle cx="399.4" cy="967.4" r="10.8" fill="#3162ae"/>
<circle cx="439.9" cy="967.4" r="8.4" fill="#3c56a5"/>
<circle cx="480.3" cy="967.4" r="7.2" fill="#3c56a5"/>
<circle cx="520.7" cy="967.4" r="7.2" fill="#3c56a5"/>
<circle cx="561.1" cy="967.4" r="12.0" fill="#08a78a"/>
<circle cx="601.5" cy="967.4" r="12.0" fill="#0896b0"/>
<circle cx="641.9" cy="967.4" r="8.4" fill="#3c56a5"/>
<circle cx="682.3" cy="967.4" r="10.8" fill="#3760ad"/>
<circle cx="722.7" cy="967.4" r="8.4" fill="#3c56a5"/>
<circle cx="763.1" cy="967.4" r="6.0" fill="#3c56a5"/>
<circle cx="803.5" cy="967.4" r="10.8" fill="#1e6cb5"/>
<circle cx="844.0" cy="967.4" r="6.0" fill="#3c56a5"/>
<circle cx="884.4" cy="967.4" r="7.2" fill="#3c56a5"/>
<circle cx="924.8" cy="967.4" r="10.8" fill="#1e6cb5"/>
<circle cx="965.2" cy="967.4" r="9.6" fill="#3c56a5"/>
<circle cx="1005.6" cy="967.4" r="3.6" fill="#3c56a5"/>
<circle cx="1046.0" cy="967.4" r="6.0" fill="#3c56a5"/>
<circle cx="1086.4" cy="967.4" r="10.8" fill="#3760ad"/>
<circle cx="1126.8" cy="967.4" r="12.0" fill="#0589c0"/>
<circle cx="1167.2" cy="967.4" r="6.0" fill="#3c56a5"/>
<circle cx="1207.6" cy="967.4" r="6.0" fill="#3c56a5"/>
<circle cx="1248.0" cy="967.4" r="12.0" fill="#07a194"/>
<circle cx="1288.5" cy="967.4" r="3.6" fill="#3c56a5"/>
<circle cx="1328.9" cy="967.4" r="10.8" fill="#1e6cb5"/>
<circle cx="1369.3" cy="967.4" r="12.0" fill="#146fb8"/>
<circle cx="1409.7" cy="967.4" r="9.6" fill="#3c56a5"/>
<circle cx="237.8" cy="992.0" r="4.8" fill="#3c56a5"/>
<circle cx="278.2" cy="992.0" r="12.0" fill="#08a78a"/>
<circle cx="318.6" cy="992.0" r="10.8" fill="#1e6cb5"/>
<circle cx="359.0" cy="992.0" r="10.8" fill="#0a74bb"/>
<circle cx="399.4" cy="992.0" r="8.4" fill="#3c56a5"/>
<circle cx="439.9" cy="992.0" r="3.6" fill="#3c56a5"/>
<circle cx="480.3" cy="992.0" r="7.2" fill="#3c56a5"/>
<circle cx="520.7" cy="992.0" r="9.6" fill="#3162ae"/>
<circle cx="561.1" cy="992.0" r="10.8" fill="#0a74bb"/>
<circle cx="601.5" cy="992.0" r="12.0" fill="#5cb475"/>
<circle cx="641.9" cy="992.0" r="10.8" fill="#1e6cb5"/>
<circle cx="682.3" cy="992.0" r="8.4" fill="#3c56a5"/>
<circle cx="722.7" cy="992.0" r="3.6" fill="#3c56a5"/>
<circle cx="763.1" cy="992.0" r="10.8" fill="#3162ae"/>
<circle cx="803.5" cy="992.0" r="9.6" fill="#3c56a5"/>
<circle cx="844.0" cy="992.0" r="4.8" fill="#3c56a5"/>
<circle cx="884.4" cy="992.0" r="4.8" fill="#3c56a5"/>
<circle cx="924.8" cy="992.0" r="12.0" fill="#0896b0"/>
<circle cx="965.2" cy="992.0" r="7.2" fill="#3c56a5"/>
<circle cx="1005.6" cy="992.0" r="7.2" fill="#3c56a5"/>
<circle cx="1046.0" cy="992.0" r="8.4" fill="#3c56a5"/>
<circle cx="1086.4" cy="992.0" r="10.8" fill="#1e6cb5"/>
<circle cx="1126.8" cy="992.0" r="12.0" fill="#0a74bb"/>
<circle cx="1167.2" cy="992.0" r="9.6" fill="#3162ae"/>
<circle cx="1207.6" cy="992.0" r="4.8" fill="#3c56a5"/>
<circle cx="1248.0" cy="992.0" r="12.0" fill="#099b9e"/>
<circle cx="1288.5" cy="992.0" r="3.6" fill="#3c56a5"/>
<circle cx="1328.9" cy="992.0" r="12.0" fill="#0589c0"/>
<circle cx="1369.3" cy="992.0" r="9.6" fill="#3c56a5"/>
<circle cx="1409.7" cy="992.0" r="12.0" fill="#0896b0"/>
<circle cx="237.8" cy="1016.5" r="6.0" fill="#3c56a5"/>
<circle cx="278.2" cy="1016.5" r="6.0" fill="#3c56a5"/>
<circle cx="318.6" cy="1016.5" r="12.0" fill="#1e6cb5"/>
<circle cx="359.0" cy="1016.5" r="4.8" fill="#3c56a5"/>
<circle cx="399.4" cy="1016.5" r="12.0" fill="#08a78a"/>
<circle cx="439.9" cy="1016.5" r="10.8" fill="#1e6cb5"/>
<circle cx="480.3" cy="1016.5" r="2.4" fill="#3c56a5"/>
<circle cx="520.7" cy="1016.5" r="3.6" fill="#3c56a5"/>
<circle cx="561.1" cy="1016.5" r="6.0" fill="#3c56a5"/>
<circle cx="601.5" cy="1016.5" r="10.8" fill="#1e6cb5"/>
<circle cx="641.9" cy="1016.5" r="3.6" fill="#3c56a5"/>
<circle cx="682.3" cy="1016.5" r="12.0" fill="#07a194"/>
<circle cx="722.7" cy="1016.5" r="3.6" fill="#3c56a5"/>
<circle cx="763.1" cy="1016.5" r="7.2" fill="#3c56a5"/>
<circle cx="803.5" cy="1016.5" r="3.6" fill="#3c56a5"/>
<circle cx="844.0" cy="1016.5" r="8.4" fill="#3c56a5"/>
<circle cx="884.4" cy="1016.5" r="9.6" fill="#3c56a5"/>
<circle cx="924.8" cy="1016.5" r="4.8" fill="#3c56a5"/>
<circle cx="965.2" cy="1016.5" r="12.0" fill="#1e6cb5"/>
<circle cx="1005.6" cy="1016.5" r="2.4" fill="#3c56a5"/>
<circle cx="1046.0" cy="1016.5" r="3.6" fill="#3c56a5"/>
<circle cx="1086.4" cy="1016.5" r="4.8" fill="#3c56a5"/>
<circle cx="1126.8" cy="1016.5" r="12.0" fill="#099b9e"/>
<circle cx="1167.2" cy="1016.5" r="3.6" fill="#3c56a5"/>
<circle cx="1207.6" cy="1016.5" r="2.4" fill="#3c56a5"/>
<circle cx="1248.0" cy="1016.5" r="6.0" fill="#3c56a5"/>
<circle cx="1288.5" cy="1016.5" r="6.0" fill="#3c56a5"/>
<circle cx="1328.9" cy="1016.5" r="7.2" fill="#3c56a5"/>
<circle cx="1369.3" cy="1016.5" r="12.0" fill="#08a78a"/>
<circle cx="1409.7" cy="1016.5" r="7.2" fill="#3c56a5"/>
<circle cx="237.8" cy="1041.0" r="12.0" fill="#08a78a"/>
<circle cx="278.2" cy="1041.0" r="10.8" fill="#3162ae"/>
<circle cx="318.6" cy="1041.0" r="12.0" fill="#3162ae"/>
<circle cx="359.0" cy="1041.0" r="9.6" fill="#3c56a5"/>
<circle cx="399.4" cy="1041.0" r="12.0" fill="#0a74bb"/>
<circle cx="439.9" cy="1041.0" r="4.8" fill="#3c56a5"/>
<circle cx="480.3" cy="1041.0" r="12.0" fill="#0589c0"/>
<circle cx="520.7" cy="1041.0" r="7.2" fill="#3c56a5"/>
<circle cx="561.1" cy="1041.0" r="10.8" fill="#1e6cb5"/>
<circle cx="601.5" cy="1041.0" r="10.8" fill="#3162ae"/>
<circle cx="641.9" cy="1041.0" r="3.6" fill="#3c56a5"/>
<circle cx="682.3" cy="1041.0" r="10.8" fill="#1e6cb5"/>
<circle cx="722.7" cy="1041.0" r="12.0" fill="#0896b0"/>
<circle cx="763.1" cy="1041.0" r="3.6" fill="#3c56a5"/>
<circle cx="803.5" cy="1041.0" r="12.0" fill="#099b9e"/>
<circle cx="844.0" cy="1041.0" r="4.8" fill="#3c56a5"/>
<circle cx="884.4" cy="1041.0" r="4.8" fill="#3c56a5"/>
<circle cx="924.8" cy="1041.0" r="3.6" fill="#3c56a5"/>
<circle cx="965.2" cy="1041.0" r="8.4" fill="#3c56a5"/>
<circle cx="1005.6" cy="1041.0" r="2.4" fill="#3c56a5"/>
<circle cx="1046.0" cy="1041.0" r="3.6" fill="#3c56a5"/>
<circle cx="1086.4" cy="1041.0" r="4.8" fill="#3c56a5"/>
<circle cx="1126.8" cy="1041.0" r="12.0" fill="#0892bc"/>
<circle cx="1167.2" cy="1041.0" r="2.4" fill="#3c56a5"/>
<circle cx="1207.6" cy="1041.0" r="2.4" fill="#3c56a5"/>
<circle cx="1248.0" cy="1041.0" r="9.6" fill="#3760ad"/>
<circle cx="1288.5" cy="1041.0" r="3.6" fill="#3c56a5"/>
<circle cx="1328.9" cy="1041.0" r="7.2" fill="#3c56a5"/>
<circle cx="1369.3" cy="1041.0" r="12.0" fill="#0581bf"/>
<circle cx="1409.7" cy="1041.0" r="7.2" fill="#3c56a5"/>
<circle cx="237.8" cy="1065.5" r="6.0" fill="#3c56a5"/>
<circle cx="278.2" cy="1065.5" r="12.0" fill="#0581bf"/>
<circle cx="318.6" cy="1065.5" r="12.0" fill="#099b9e"/>
<circle cx="359.0" cy="1065.5" r="8.4" fill="#3c56a5"/>
<circle cx="399.4" cy="1065.5" r="10.8" fill="#3162ae"/>
<circle cx="439.9" cy="1065.5" r="9.6" fill="#3c56a5"/>
<circle cx="480.3" cy="1065.5" r="4.8" fill="#3c56a5"/>
<circle cx="520.7" cy="1065.5" r="12.0" fill="#0589c0"/>
<circle cx="561.1" cy="1065.5" r="9.6" fill="#3c56a5"/>
<circle cx="601.5" cy="1065.5" r="12.0" fill="#5cb475"/>
<circle cx="641.9" cy="1065.5" r="12.0" fill="#0589c0"/>
<circle cx="682.3" cy="1065.5" r="12.0" fill="#3162ae"/>
<circle cx="722.7" cy="1065.5" r="3.6" fill="#3c56a5"/>
<circle cx="763.1" cy="1065.5" r="8.4" fill="#3c56a5"/>
<circle cx="803.5" cy="1065.5" r="6.0" fill="#3c56a5"/>
<circle cx="844.0" cy="1065.5" r="6.0" fill="#3c56a5"/>
<circle cx="884.4" cy="1065.5" r="6.0" fill="#3c56a5"/>
<circle cx="924.8" cy="1065.5" r="8.4" fill="#3c56a5"/>
<circle cx="965.2" cy="1065.5" r="9.6" fill="#3c56a5"/>
<circle cx="1005.6" cy="1065.5" r="12.0" fill="#0896b0"/>
<circle cx="1046.0" cy="1065.5" r="2.4" fill="#3c56a5"/>
<circle cx="1086.4" cy="1065.5" r="12.0" fill="#0a74bb"/>
<circle cx="1126.8" cy="1065.5" r="12.0" fill="#0a74bb"/>
<circle cx="1167.2" cy="1065.5" r="10.8" fill="#3760ad"/>
<circle cx="1207.6" cy="1065.5" r="10.8" fill="#3760ad"/>
<circle cx="1248.0" cy="1065.5" r="8.4" fill="#3c56a5"/>
<circle cx="1288.5" cy="1065.5" r="12.0" fill="#0581bf"/>
<circle cx="1328.9" cy="1065.5" r="12.0" fill="#2aaa7f"/>
<circle cx="1369.3" cy="1065.5" r="10.8" fill="#3162ae"/>
<circle cx="1409.7" cy="1065.5" r="12.0" fill="#08a78a"/>
<circle cx="237.8" cy="1090.0" r="4.8" fill="#3c56a5"/>
<circle cx="278.2" cy="1090.0" r="12.0" fill="#099b9e"/>
<circle cx="318.6" cy="1090.0" r="9.6" fill="#3162ae"/>
<circle cx="359.0" cy="1090.0" r="7.2" fill="#3c56a5"/>
<circle cx="399.4" cy="1090.0" r="7.2" fill="#3c56a5"/>
<circle cx="439.9" cy="1090.0" r="3.6" fill="#3c56a5"/>
<circle cx="480.3" cy="1090.0" r="4.8" fill="#3c56a5"/>
<circle cx="520.7" cy="1090.0" r="6.0" fill="#3c56a5"/>
<circle cx="561.1" cy="1090.0" r="9.6" fill="#3162ae"/>
<circle cx="601.5" cy="1090.0" r="12.0" fill="#5cb475"/>
<circle cx="641.9" cy="1090.0" r="9.6" fill="#3162ae"/>
<circle cx="682.3" cy="1090.0" r="7.2" fill="#3c56a5"/>
<circle cx="722.7" cy="1090.0" r="2.4" fill="#3c56a5"/>
<circle cx="763.1" cy="1090.0" r="8.4" fill="#3c56a5"/>
<circle cx="803.5" cy="1090.0" r="4.8" fill="#3c56a5"/>
<circle cx="844.0" cy="1090.0" r="3.6" fill="#3c56a5"/>
<circle cx="884.4" cy="1090.0" r="4.8" fill="#3c56a5"/>
<circle cx="924.8" cy="1090.0" r="10.8" fill="#0a74bb"/>
<circle cx="965.2" cy="1090.0" r="6.0" fill="#3c56a5"/>
<circle cx="1005.6" cy="1090.0" r="9.6" fill="#3162ae"/>
<circle cx="1046.0" cy="1090.0" r="6.0" fill="#3c56a5"/>
<circle cx="1086.4" cy="1090.0" r="10.8" fill="#146fb8"/>
<circle cx="1126.8" cy="1090.0" r="9.6" fill="#1e6cb5"/>
<circle cx="1167.2" cy="1090.0" r="8.4" fill="#3c56a5"/>
<circle cx="1207.6" cy="1090.0" r="4.8" fill="#3c56a5"/>
<circle cx="1248.0" cy="1090.0" r="9.6" fill="#3760ad"/>
<circle cx="1288.5" cy="1090.0" r="4.8" fill="#3c56a5"/>
<circle cx="1328.9" cy="1090.0" r="12.0" fill="#0589c0"/>
<circle cx="1369.3" cy="1090.0" r="8.4" fill="#3c56a5"/>
<circle cx="1409.7" cy="1090.0" r="12.0" fill="#0589c0"/>
<circle cx="237.8" cy="1114.6" r="7.2" fill="#3c56a5"/>
<circle cx="278.2" cy="1114.6" r="12.0" fill="#08a78a"/>
<circle cx="318.6" cy="1114.6" r="12.0" fill="#0896b0"/>
<circle cx="359.0" cy="1114.6" r="8.4" fill="#3c56a5"/>
<circle cx="399.4" cy="1114.6" r="10.8" fill="#3162ae"/>
<circle cx="439.9" cy="1114.6" r="9.6" fill="#3c56a5"/>
<circle cx="480.3" cy="1114.6" r="7.2" fill="#3c56a5"/>
<circle cx="520.7" cy="1114.6" r="12.0" fill="#0589c0"/>
<circle cx="561.1" cy="1114.6" r="8.4" fill="#3c56a5"/>
<circle cx="601.5" cy="1114.6" r="12.0" fill="#5cb475"/>
<circle cx="641.9" cy="1114.6" r="12.0" fill="#0a74bb"/>
<circle cx="682.3" cy="1114.6" r="10.8" fill="#3162ae"/>
<circle cx="722.7" cy="1114.6" r="6.0" fill="#3c56a5"/>
<circle cx="763.1" cy="1114.6" r="8.4" fill="#3c56a5"/>
<circle cx="803.5" cy="1114.6" r="6.0" fill="#3c56a5"/>
<circle cx="844.0" cy="1114.6" r="7.2" fill="#3c56a5"/>
<circle cx="884.4" cy="1114.6" r="6.0" fill="#3c56a5"/>
<circle cx="924.8" cy="1114.6" r="6.0" fill="#3c56a5"/>
<circle cx="965.2" cy="1114.6" r="8.4" fill="#3c56a5"/>
<circle cx="1005.6" cy="1114.6" r="12.0" fill="#0896b0"/>
<circle cx="1046.0" cy="1114.6" r="3.6" fill="#3c56a5"/>
<circle cx="1086.4" cy="1114.6" r="12.0" fill="#0896b0"/>
<circle cx="1126.8" cy="1114.6" r="12.0" fill="#0589c0"/>
<circle cx="1167.2" cy="1114.6" r="10.8" fill="#3760ad"/>
<circle cx="1207.6" cy="1114.6" r="12.0" fill="#0589c0"/>
<circle cx="1248.0" cy="1114.6" r="9.6" fill="#3c56a5"/>
<circle cx="1288.5" cy="1114.6" r="7.2" fill="#3c56a5"/>
<circle cx="1328.9" cy="1114.6" r="12.0" fill="#2aaa7f"/>
<circle cx="1369.3" cy="1114.6" r="12.0" fill="#2a66b1"/>
<circle cx="1409.7" cy="1114.6" r="12.0" fill="#07a194"/>
<circle cx="237.8" cy="1139.1" r="4.8" fill="#3c56a5"/>
<circle cx="278.2" cy="1139.1" r="12.0" fill="#0589c0"/>
<circle cx="318.6" cy="1139.1" r="10.8" fill="#3c56a5"/>
<circle cx="359.0" cy="1139.1" r="8.4" fill="#3c56a5"/>
<circle cx="399.4" cy="1139.1" r="12.0" fill="#1e6cb5"/>
<circle cx="439.9" cy="1139.1" r="4.8" fill="#3c56a5"/>
<circle cx="480.3" cy="1139.1" r="4.8" fill="#3c56a5"/>
<circle cx="520.7" cy="1139.1" r="9.6" fill="#3c56a5"/>
<circle cx="561.1" cy="1139.1" r="12.0" fill="#3162ae"/>
<circle cx="601.5" cy="1139.1" r="12.0" fill="#5cb475"/>
<circle cx="641.9" cy="1139.1" r="10.8" fill="#3162ae"/>
<circle cx="682.3" cy="1139.1" r="12.0" fill="#1e6cb5"/>
<circle cx="722.7" cy="1139.1" r="2.4" fill="#3c56a5"/>
<circle cx="763.1" cy="1139.1" r="10.8" fill="#3162ae"/>
<circle cx="803.5" cy="1139.1" r="7.2" fill="#3c56a5"/>
<circle cx="844.0" cy="1139.1" r="4.8" fill="#3c56a5"/>
<circle cx="884.4" cy="1139.1" r="7.2" fill="#3c56a5"/>
<circle cx="924.8" cy="1139.1" r="12.0" fill="#0a74bb"/>
<circle cx="965.2" cy="1139.1" r="9.6" fill="#3c56a5"/>
<circle cx="1005.6" cy="1139.1" r="12.0" fill="#1e6cb5"/>
<circle cx="1046.0" cy="1139.1" r="6.0" fill="#3c56a5"/>
<circle cx="1086.4" cy="1139.1" r="12.0" fill="#07a194"/>
<circle cx="1126.8" cy="1139.1" r="12.0" fill="#0a74bb"/>
<circle cx="1167.2" cy="1139.1" r="12.0" fill="#2a66b1"/>
<circle cx="1207.6" cy="1139.1" r="4.8" fill="#3c56a5"/>
<circle cx="1248.0" cy="1139.1" r="8.4" fill="#3c56a5"/>
<circle cx="1288.5" cy="1139.1" r="8.4" fill="#3c56a5"/>
<circle cx="1328.9" cy="1139.1" r="12.0" fill="#07a194"/>
<circle cx="1369.3" cy="1139.1" r="12.0" fill="#0a74bb"/>
<circle cx="1409.7" cy="1139.1" r="12.0" fill="#0892bc"/>
<circle cx="237.8" cy="1163.6" r="7.2" fill="#3c56a5"/>
<circle cx="278.2" cy="1163.6" r="10.8" fill="#0a74bb"/>
<circle cx="318.6" cy="1163.6" r="12.0" fill="#08a78a"/>
<circle cx="359.0" cy="1163.6" r="6.0" fill="#3c56a5"/>
<circle cx="399.4" cy="1163.6" r="10.8" fill="#3162ae"/>
<circle cx="439.9" cy="1163.6" r="10.8" fill="#1e6cb5"/>
<circle cx="480.3" cy="1163.6" r="4.8" fill="#3c56a5"/>
<circle cx="520.7" cy="1163.6" r="8.4" fill="#3c56a5"/>
<circle cx="561.1" cy="1163.6" r="6.0" fill="#3c56a5"/>
<circle cx="601.5" cy="1163.6" r="12.0" fill="#2aaa7f"/>
<circle cx="641.9" cy="1163.6" r="9.6" fill="#3162ae"/>
<circle cx="682.3" cy="1163.6" r="10.8" fill="#1e6cb5"/>
<circle cx="722.7" cy="1163.6" r="3.6" fill="#3c56a5"/>
<circle cx="763.1" cy="1163.6" r="6.0" fill="#3c56a5"/>
<circle cx="803.5" cy="1163.6" r="4.8" fill="#3c56a5"/>
<circle cx="844.0" cy="1163.6" r="6.0" fill="#3c56a5"/>
<circle cx="884.4" cy="1163.6" r="6.0" fill="#3c56a5"/>
<circle cx="924.8" cy="1163.6" r="6.0" fill="#3c56a5"/>
<circle cx="965.2" cy="1163.6" r="9.6" fill="#3760ad"/>
<circle cx="1005.6" cy="1163.6" r="8.4" fill="#3c56a5"/>
<circle cx="1046.0" cy="1163.6" r="1.8" fill="#3c56a5"/>
<circle cx="1086.4" cy="1163.6" r="9.6" fill="#3760ad"/>
<circle cx="1126.8" cy="1163.6" r="12.0" fill="#099b9e"/>
<circle cx="1167.2" cy="1163.6" r="7.2" fill="#3c56a5"/>
<circle cx="1207.6" cy="1163.6" r="8.4" fill="#3c56a5"/>
<circle cx="1248.0" cy="1163.6" r="6.0" fill="#3c56a5"/>
<circle cx="1288.5" cy="1163.6" r="8.4" fill="#3c56a5"/>
<circle cx="1328.9" cy="1163.6" r="12.0" fill="#0a74bb"/>
<circle cx="1369.3" cy="1163.6" r="10.8" fill="#146fb8"/>
<circle cx="1409.7" cy="1163.6" r="12.0" fill="#08a78a"/>
<circle cx="237.8" cy="1188.1" r="8.4" fill="#3c56a5"/>
<circle cx="278.2" cy="1188.1" r="12.0" fill="#0896b0"/>
<circle cx="318.6" cy="1188.1" r="12.0" fill="#08a78a"/>
<circle cx="359.0" cy="1188.1" r="7.2" fill="#3c56a5"/>
<circle cx="399.4" cy="1188.1" r="9.6" fill="#3c56a5"/>
<circle cx="439.9" cy="1188.1" r="9.6" fill="#3c56a5"/>
<circle cx="480.3" cy="1188.1" r="9.6" fill="#3c56a5"/>
<circle cx="520.7" cy="1188.1" r="12.0" fill="#0589c0"/>
<circle cx="561.1" cy="1188.1" r="7.2" fill="#3c56a5"/>
<circle cx="601.5" cy="1188.1" r="12.0" fill="#5cb475"/>
<circle cx="641.9" cy="1188.1" r="12.0" fill="#099b9e"/>
<circle cx="682.3" cy="1188.1" r="9.6" fill="#3c56a5"/>
<circle cx="722.7" cy="1188.1" r="6.0" fill="#3c56a5"/>
<circle cx="763.1" cy="1188.1" r="8.4" fill="#3c56a5"/>
<circle cx="803.5" cy="1188.1" r="6.0" fill="#3c56a5"/>
<circle cx="844.0" cy="1188.1" r="7.2" fill="#3c56a5"/>
<circle cx="884.4" cy="1188.1" r="7.2" fill="#3c56a5"/>
<circle cx="924.8" cy="1188.1" r="8.4" fill="#3c56a5"/>
<circle cx="965.2" cy="1188.1" r="9.6" fill="#3c56a5"/>
<circle cx="1005.6" cy="1188.1" r="8.4" fill="#3c56a5"/>
<circle cx="1046.0" cy="1188.1" r="1.4" fill="#3c56a5"/>
<circle cx="1086.4" cy="1188.1" r="12.0" fill="#099b9e"/>
<circle cx="1126.8" cy="1188.1" r="12.0" fill="#0892bc"/>
<circle cx="1167.2" cy="1188.1" r="8.4" fill="#3c56a5"/>
<circle cx="1207.6" cy="1188.1" r="9.6" fill="#3c56a5"/>
<circle cx="1248.0" cy="1188.1" r="10.8" fill="#3162ae"/>
<circle cx="1288.5" cy="1188.1" r="8.4" fill="#3c56a5"/>
<circle cx="1328.9" cy="1188.1" r="12.0" fill="#08a78a"/>
<circle cx="1369.3" cy="1188.1" r="10.8" fill="#3c56a5"/>
<circle cx="1409.7" cy="1188.1" r="12.0" fill="#08a78a"/>
<circle cx="237.8" cy="1212.6" r="6.0" fill="#3c56a5"/>
<circle cx="278.2" cy="1212.6" r="10.8" fill="#3c56a5"/>
<circle cx="318.6" cy="1212.6" r="12.0" fill="#1e6cb5"/>
<circle cx="359.0" cy="1212.6" r="7.2" fill="#3c56a5"/>
<circle cx="399.4" cy="1212.6" r="12.0" fill="#0896b0"/>
<circle cx="439.9" cy="1212.6" r="10.8" fill="#3c56a5"/>
<circle cx="480.3" cy="1212.6" r="2.4" fill="#3c56a5"/>
<circle cx="520.7" cy="1212.6" r="8.4" fill="#3c56a5"/>
<circle cx="561.1" cy="1212.6" r="9.6" fill="#3c56a5"/>
<circle cx="601.5" cy="1212.6" r="12.0" fill="#08a78a"/>
<circle cx="641.9" cy="1212.6" r="9.6" fill="#3c56a5"/>
<circle cx="682.3" cy="1212.6" r="12.0" fill="#0896b0"/>
<circle cx="722.7" cy="1212.6" r="2.4" fill="#3c56a5"/>
<circle cx="763.1" cy="1212.6" r="9.6" fill="#3c56a5"/>
<circle cx="803.5" cy="1212.6" r="2.4" fill="#3c56a5"/>
<circle cx="844.0" cy="1212.6" r="7.2" fill="#3c56a5"/>
<circle cx="884.4" cy="1212.6" r="8.4" fill="#3c56a5"/>
<circle cx="924.8" cy="1212.6" r="9.6" fill="#3c56a5"/>
<circle cx="965.2" cy="1212.6" r="12.0" fill="#3162ae"/>
<circle cx="1005.6" cy="1212.6" r="10.8" fill="#3760ad"/>
<circle cx="1046.0" cy="1212.6" r="4.8" fill="#3c56a5"/>
<circle cx="1086.4" cy="1212.6" r="10.8" fill="#146fb8"/>
<circle cx="1126.8" cy="1212.6" r="12.0" fill="#099b9e"/>
<circle cx="1167.2" cy="1212.6" r="7.2" fill="#3c56a5"/>
<circle cx="1207.6" cy="1212.6" r="7.2" fill="#3c56a5"/>
<circle cx="1248.0" cy="1212.6" r="7.2" fill="#3c56a5"/>
<circle cx="1288.5" cy="1212.6" r="6.0" fill="#3c56a5"/>
<circle cx="1328.9" cy="1212.6" r="10.8" fill="#0a74bb"/>
<circle cx="1369.3" cy="1212.6" r="12.0" fill="#07a194"/>
<circle cx="1409.7" cy="1212.6" r="12.0" fill="#146fb8"/>
<circle cx="237.8" cy="1237.2" r="7.2" fill="#3c56a5"/>
<circle cx="278.2" cy="1237.2" r="12.0" fill="#0a74bb"/>
<circle cx="318.6" cy="1237.2" r="12.0" fill="#0896b0"/>
<circle cx="359.0" cy="1237.2" r="7.2" fill="#3c56a5"/>
<circle cx="399.4" cy="1237.2" r="9.6" fill="#3162ae"/>
<circle cx="439.9" cy="1237.2" r="12.0" fill="#0589c0"/>
<circle cx="480.3" cy="1237.2" r="4.8" fill="#3c56a5"/>
<circle cx="520.7" cy="1237.2" r="7.2" fill="#3c56a5"/>
<circle cx="561.1" cy="1237.2" r="8.4" fill="#3c56a5"/>
<circle cx="601.5" cy="1237.2" r="12.0" fill="#08a78a"/>
<circle cx="641.9" cy="1237.2" r="8.4" fill="#3c56a5"/>
<circle cx="682.3" cy="1237.2" r="10.8" fill="#1e6cb5"/>
<circle cx="722.7" cy="1237.2" r="8.4" fill="#3c56a5"/>
<circle cx="763.1" cy="1237.2" r="7.2" fill="#3c56a5"/>
<circle cx="803.5" cy="1237.2" r="7.2" fill="#3c56a5"/>
<circle cx="844.0" cy="1237.2" r="9.6" fill="#3760ad"/>
<circle cx="884.4" cy="1237.2" r="8.4" fill="#3c56a5"/>
<circle cx="924.8" cy="1237.2" r="8.4" fill="#3760ad"/>
<circle cx="965.2" cy="1237.2" r="9.6" fill="#3760ad"/>
<circle cx="1005.6" cy="1237.2" r="4.8" fill="#3c56a5"/>
<circle cx="1046.0" cy="1237.2" r="3.6" fill="#3c56a5"/>
<circle cx="1086.4" cy="1237.2" r="8.4" fill="#3c56a5"/>
<circle cx="1126.8" cy="1237.2" r="12.0" fill="#5cb475"/>
<circle cx="1167.2" cy="1237.2" r="6.0" fill="#3c56a5"/>
<circle cx="1207.6" cy="1237.2" r="3.6" fill="#3c56a5"/>
<circle cx="1248.0" cy="1237.2" r="9.6" fill="#3760ad"/>
<circle cx="1288.5" cy="1237.2" r="3.6" fill="#3c56a5"/>
<circle cx="1328.9" cy="1237.2" r="9.6" fill="#3162ae"/>
<circle cx="1369.3" cy="1237.2" r="10.8" fill="#3162ae"/>
<circle cx="1409.7" cy="1237.2" r="10.8" fill="#3162ae"/>
<circle cx="237.8" cy="1261.7" r="6.0" fill="#3c56a5"/>
<circle cx="278.2" cy="1261.7" r="12.0" fill="#1e6cb5"/>
<circle cx="318.6" cy="1261.7" r="12.0" fill="#1e6cb5"/>
<circle cx="359.0" cy="1261.7" r="10.8" fill="#3162ae"/>
<circle cx="399.4" cy="1261.7" r="12.0" fill="#0a74bb"/>
<circle cx="439.9" cy="1261.7" r="4.8" fill="#3c56a5"/>
<circle cx="480.3" cy="1261.7" r="3.6" fill="#3c56a5"/>
<circle cx="520.7" cy="1261.7" r="10.8" fill="#3162ae"/>
<circle cx="561.1" cy="1261.7" r="9.6" fill="#3c56a5"/>
<circle cx="601.5" cy="1261.7" r="12.0" fill="#08a78a"/>
<circle cx="641.9" cy="1261.7" r="12.0" fill="#0a74bb"/>
<circle cx="682.3" cy="1261.7" r="10.8" fill="#1e6cb5"/>
<circle cx="722.7" cy="1261.7" r="3.6" fill="#3c56a5"/>
<circle cx="763.1" cy="1261.7" r="12.0" fill="#08a78a"/>
<circle cx="803.5" cy="1261.7" r="4.8" fill="#3c56a5"/>
<circle cx="844.0" cy="1261.7" r="4.8" fill="#3c56a5"/>
<circle cx="884.4" cy="1261.7" r="6.0" fill="#3c56a5"/>
<circle cx="924.8" cy="1261.7" r="10.8" fill="#3162ae"/>
<circle cx="965.2" cy="1261.7" r="8.4" fill="#3c56a5"/>
<circle cx="1005.6" cy="1261.7" r="6.0" fill="#3c56a5"/>
<circle cx="1046.0" cy="1261.7" r="12.0" fill="#08a78a"/>
<circle cx="1086.4" cy="1261.7" r="8.4" fill="#3c56a5"/>
<circle cx="1126.8" cy="1261.7" r="12.0" fill="#0a74bb"/>
<circle cx="1167.2" cy="1261.7" r="10.8" fill="#3162ae"/>
<circle cx="1207.6" cy="1261.7" r="2.4" fill="#3c56a5"/>
<circle cx="1248.0" cy="1261.7" r="10.8" fill="#3162ae"/>
<circle cx="1288.5" cy="1261.7" r="6.0" fill="#3c56a5"/>
<circle cx="1328.9" cy="1261.7" r="12.0" fill="#08a78a"/>
<circle cx="1369.3" cy="1261.7" r="12.0" fill="#0581bf"/>
<circle cx="1409.7" cy="1261.7" r="12.0" fill="#0896b0"/>
<circle cx="237.8" cy="1286.2" r="6.0" fill="#3c56a5"/>
<circle cx="278.2" cy="1286.2" r="12.0" fill="#0a74bb"/>
<circle cx="318.6" cy="1286.2" r="12.0" fill="#1e6cb5"/>
<circle cx="359.0" cy="1286.2" r="6.0" fill="#3c56a5"/>
<circle cx="399.4" cy="1286.2" r="10.8" fill="#3162ae"/>
<circle cx="439.9" cy="1286.2" r="4.8" fill="#3c56a5"/>
<circle cx="480.3" cy="1286.2" r="8.4" fill="#3c56a5"/>
<circle cx="520.7" cy="1286.2" r="8.4" fill="#3c56a5"/>
<circle cx="561.1" cy="1286.2" r="10.8" fill="#3162ae"/>
<circle cx="601.5" cy="1286.2" r="12.0" fill="#5cb475"/>
<circle cx="641.9" cy="1286.2" r="10.8" fill="#3c56a5"/>
<circle cx="682.3" cy="1286.2" r="10.8" fill="#3162ae"/>
<circle cx="722.7" cy="1286.2" r="3.6" fill="#3c56a5"/>
<circle cx="763.1" cy="1286.2" r="8.4" fill="#3c56a5"/>
<circle cx="803.5" cy="1286.2" r="9.6" fill="#3c56a5"/>
<circle cx="844.0" cy="1286.2" r="6.0" fill="#3c56a5"/>
<circle cx="884.4" cy="1286.2" r="4.8" fill="#3c56a5"/>
<circle cx="924.8" cy="1286.2" r="10.8" fill="#3162ae"/>
<circle cx="965.2" cy="1286.2" r="7.2" fill="#3c56a5"/>
<circle cx="1005.6" cy="1286.2" r="10.8" fill="#3162ae"/>
<circle cx="1046.0" cy="1286.2" r="3.6" fill="#3c56a5"/>
<circle cx="1086.4" cy="1286.2" r="10.8" fill="#1e6cb5"/>
<circle cx="1126.8" cy="1286.2" r="12.0" fill="#07a194"/>
<circle cx="1167.2" cy="1286.2" r="12.0" fill="#0896b0"/>
<circle cx="1207.6" cy="1286.2" r="6.0" fill="#3c56a5"/>
<circle cx="1248.0" cy="1286.2" r="8.4" fill="#3c56a5"/>
<circle cx="1288.5" cy="1286.2" r="10.8" fill="#3162ae"/>
<circle cx="1328.9" cy="1286.2" r="12.0" fill="#0892bc"/>
<circle cx="1369.3" cy="1286.2" r="12.0" fill="#0581bf"/>
<circle cx="1409.7" cy="1286.2" r="12.0" fill="#146fb8"/>
<circle cx="237.8" cy="1310.7" r="10.8" fill="#3162ae"/>
<circle cx="278.2" cy="1310.7" r="10.8" fill="#3c56a5"/>
<circle cx="318.6" cy="1310.7" r="12.0" fill="#3162ae"/>
<circle cx="359.0" cy="1310.7" r="9.6" fill="#3c56a5"/>
<circle cx="399.4" cy="1310.7" r="12.0" fill="#1e6cb5"/>
<circle cx="439.9" cy="1310.7" r="10.8" fill="#3c56a5"/>
<circle cx="480.3" cy="1310.7" r="7.2" fill="#3c56a5"/>
<circle cx="520.7" cy="1310.7" r="8.4" fill="#3c56a5"/>
<circle cx="561.1" cy="1310.7" r="10.8" fill="#3c56a5"/>
<circle cx="601.5" cy="1310.7" r="12.0" fill="#0a74bb"/>
<circle cx="641.9" cy="1310.7" r="7.2" fill="#3c56a5"/>
<circle cx="682.3" cy="1310.7" r="10.8" fill="#3760ad"/>
<circle cx="722.7" cy="1310.7" r="10.8" fill="#3162ae"/>
<circle cx="763.1" cy="1310.7" r="12.0" fill="#1e6cb5"/>
<circle cx="803.5" cy="1310.7" r="9.6" fill="#3c56a5"/>
<circle cx="844.0" cy="1310.7" r="10.8" fill="#3c56a5"/>
<circle cx="884.4" cy="1310.7" r="12.0" fill="#3760ad"/>
<circle cx="924.8" cy="1310.7" r="7.2" fill="#3c56a5"/>
<circle cx="965.2" cy="1310.7" r="12.0" fill="#3760ad"/>
<circle cx="1005.6" cy="1310.7" r="6.0" fill="#3c56a5"/>
<circle cx="1046.0" cy="1310.7" r="3.6" fill="#3c56a5"/>
<circle cx="1086.4" cy="1310.7" r="10.8" fill="#3760ad"/>
<circle cx="1126.8" cy="1310.7" r="12.0" fill="#08a78a"/>
<circle cx="1167.2" cy="1310.7" r="3.6" fill="#3c56a5"/>
<circle cx="1207.6" cy="1310.7" r="6.0" fill="#3c56a5"/>
<circle cx="1248.0" cy="1310.7" r="9.6" fill="#3760ad"/>
<circle cx="1288.5" cy="1310.7" r="6.0" fill="#3c56a5"/>
<circle cx="1328.9" cy="1310.7" r="9.6" fill="#3c56a5"/>
<circle cx="1369.3" cy="1310.7" r="10.8" fill="#3162ae"/>
<circle cx="1409.7" cy="1310.7" r="10.8" fill="#3c56a5"/>
<circle cx="237.8" cy="1335.2" r="9.6" fill="#3c56a5"/>
<circle cx="278.2" cy="1335.2" r="10.8" fill="#3c56a5"/>
<circle cx="318.6" cy="1335.2" r="12.0" fill="#0a74bb"/>
<circle cx="359.0" cy="1335.2" r="8.4" fill="#3c56a5"/>
<circle cx="399.4" cy="1335.2" r="12.0" fill="#0589c0"/>
<circle cx="439.9" cy="1335.2" r="12.0" fill="#0a74bb"/>
<circle cx="480.3" cy="1335.2" r="4.8" fill="#3c56a5"/>
<circle cx="520.7" cy="1335.2" r="7.2" fill="#3c56a5"/>
<circle cx="561.1" cy="1335.2" r="7.2" fill="#3c56a5"/>
<circle cx="601.5" cy="1335.2" r="12.0" fill="#0589c0"/>
<circle cx="641.9" cy="1335.2" r="9.6" fill="#3c56a5"/>
<circle cx="682.3" cy="1335.2" r="12.0" fill="#0589c0"/>
<circle cx="722.7" cy="1335.2" r="6.0" fill="#3c56a5"/>
<circle cx="763.1" cy="1335.2" r="10.8" fill="#3162ae"/>
<circle cx="803.5" cy="1335.2" r="4.8" fill="#3c56a5"/>
<circle cx="844.0" cy="1335.2" r="12.0" fill="#0a74bb"/>
<circle cx="884.4" cy="1335.2" r="12.0" fill="#0a74bb"/>
<circle cx="924.8" cy="1335.2" r="9.6" fill="#3c56a5"/>
<circle cx="965.2" cy="1335.2" r="12.0" fill="#0a74bb"/>
<circle cx="1005.6" cy="1335.2" r="7.2" fill="#3c56a5"/>
<circle cx="1046.0" cy="1335.2" r="7.2" fill="#3c56a5"/>
<circle cx="1086.4" cy="1335.2" r="8.4" fill="#3c56a5"/>
<circle cx="1126.8" cy="1335.2" r="12.0" fill="#099b9e"/>
<circle cx="1167.2" cy="1335.2" r="7.2" fill="#3c56a5"/>
<circle cx="1207.6" cy="1335.2" r="4.8" fill="#3c56a5"/>
<circle cx="1248.0" cy="1335.2" r="8.4" fill="#3c56a5"/>
<circle cx="1288.5" cy="1335.2" r="7.2" fill="#3c56a5"/>
<circle cx="1328.9" cy="1335.2" r="10.8" fill="#3760ad"/>
<circle cx="1369.3" cy="1335.2" r="12.0" fill="#07a194"/>
<circle cx="1409.7" cy="1335.2" r="10.8" fill="#3c56a5"/>
</g>
<line x1="200.3" y1="918.4" x2="205.8" y2="918.4" stroke="#222" stroke-width="1.2"/>
<text x="195.0" y="923.7" font-size="14.3" text-anchor="end" letter-spacing="0.75">Midbrain GABA</text>
<line x1="200.3" y1="942.9" x2="205.8" y2="942.9" stroke="#222" stroke-width="1.2"/>
<text x="195.0" y="948.2" font-size="14.3" text-anchor="end" letter-spacing="0.75">Sensorimotor/Visual Ctx</text>
<line x1="200.3" y1="967.4" x2="205.8" y2="967.4" stroke="#222" stroke-width="1.2"/>
<text x="195.0" y="972.7" font-size="14.3" text-anchor="end" letter-spacing="0.75">Hypothal/Pituitary</text>
<line x1="200.3" y1="992.0" x2="205.8" y2="992.0" stroke="#222" stroke-width="1.2"/>
<text x="195.0" y="997.3" font-size="14.3" text-anchor="end" letter-spacing="0.75">Piriform Ctx/Amygdala</text>
<line x1="200.3" y1="1016.5" x2="205.8" y2="1016.5" stroke="#222" stroke-width="1.2"/>
<text x="195.0" y="1021.8" font-size="14.3" text-anchor="end" letter-spacing="0.75">White Matter</text>
<line x1="200.3" y1="1041.0" x2="205.8" y2="1041.0" stroke="#222" stroke-width="1.2"/>
<text x="195.0" y="1046.3" font-size="14.3" text-anchor="end" letter-spacing="0.75">Thalamus</text>
<line x1="200.3" y1="1065.5" x2="205.8" y2="1065.5" stroke="#222" stroke-width="1.2"/>
<text x="195.0" y="1070.8" font-size="14.3" text-anchor="end" letter-spacing="0.75">Hipp CA1 Pyramidal</text>
<line x1="200.3" y1="1090.0" x2="205.8" y2="1090.0" stroke="#222" stroke-width="1.2"/>
<text x="195.0" y="1095.3" font-size="14.3" text-anchor="end" letter-spacing="0.75">Auditory/Entorhinal Ctx</text>
<line x1="200.3" y1="1114.6" x2="205.8" y2="1114.6" stroke="#222" stroke-width="1.2"/>
<text x="195.0" y="1119.9" font-size="14.3" text-anchor="end" letter-spacing="0.75">Hipp CA3</text>
<line x1="200.3" y1="1139.1" x2="205.8" y2="1139.1" stroke="#222" stroke-width="1.2"/>
<text x="195.0" y="1144.4" font-size="14.3" text-anchor="end" letter-spacing="0.75">Sensorimotor Migration</text>
<line x1="200.3" y1="1163.6" x2="205.8" y2="1163.6" stroke="#222" stroke-width="1.2"/>
<text x="195.0" y="1168.9" font-size="14.3" text-anchor="end" letter-spacing="0.75">Hipp CA1 Radiatum</text>
<line x1="200.3" y1="1188.1" x2="205.8" y2="1188.1" stroke="#222" stroke-width="1.2"/>
<text x="195.0" y="1193.4" font-size="14.3" text-anchor="end" letter-spacing="0.75">Dentate Gyrus</text>
<line x1="200.3" y1="1212.6" x2="205.8" y2="1212.6" stroke="#222" stroke-width="1.2"/>
<text x="195.0" y="1217.9" font-size="14.3" text-anchor="end" letter-spacing="0.75">Corpus Callosum</text>
<line x1="200.3" y1="1237.2" x2="205.8" y2="1237.2" stroke="#222" stroke-width="1.2"/>
<text x="195.0" y="1242.5" font-size="14.3" text-anchor="end" letter-spacing="0.75">Neurovasculature</text>
<line x1="200.3" y1="1261.7" x2="205.8" y2="1261.7" stroke="#222" stroke-width="1.2"/>
<text x="195.0" y="1267.0" font-size="14.3" text-anchor="end" letter-spacing="0.75">Striatum/Amygdala</text>
<line x1="200.3" y1="1286.2" x2="205.8" y2="1286.2" stroke="#222" stroke-width="1.2"/>
<text x="195.0" y="1291.5" font-size="14.3" text-anchor="end" letter-spacing="0.75">Retrosplenial Ctx</text>
<line x1="200.3" y1="1310.7" x2="205.8" y2="1310.7" stroke="#222" stroke-width="1.2"/>
<text x="195.0" y="1316.0" font-size="14.3" text-anchor="end" letter-spacing="0.75">Ventricle/Choroid</text>
<line x1="200.3" y1="1335.2" x2="205.8" y2="1335.2" stroke="#222" stroke-width="1.2"/>
<text x="195.0" y="1340.5" font-size="14.3" text-anchor="end" letter-spacing="0.75">Choroid Transport</text>
<rect x="205.8" y="1386.0" width="1236.8" height="465.9" fill="#fff" stroke="#222" stroke-width="1.3"/>
<g stroke="#1a1a2a" stroke-width="0.6">
<circle cx="237.8" cy="1410.9" r="8.4" fill="#3c56a5"/>
<circle cx="278.2" cy="1410.9" r="8.4" fill="#3c56a5"/>
<circle cx="318.6" cy="1410.9" r="12.0" fill="#3760ad"/>
<circle cx="359.0" cy="1410.9" r="9.6" fill="#3c56a5"/>
<circle cx="399.4" cy="1410.9" r="12.0" fill="#0a74bb"/>
<circle cx="439.9" cy="1410.9" r="8.4" fill="#3c56a5"/>
<circle cx="480.3" cy="1410.9" r="4.8" fill="#3c56a5"/>
<circle cx="520.7" cy="1410.9" r="4.8" fill="#3c56a5"/>
<circle cx="561.1" cy="1410.9" r="10.8" fill="#3760ad"/>
<circle cx="601.5" cy="1410.9" r="10.8" fill="#3760ad"/>
<circle cx="641.9" cy="1410.9" r="3.6" fill="#3c56a5"/>
<circle cx="682.3" cy="1410.9" r="12.0" fill="#2a66b1"/>
<circle cx="722.7" cy="1410.9" r="7.2" fill="#3c56a5"/>
<circle cx="763.1" cy="1410.9" r="6.0" fill="#3c56a5"/>
<circle cx="803.5" cy="1410.9" r="9.6" fill="#3c56a5"/>
<circle cx="844.0" cy="1410.9" r="6.0" fill="#3c56a5"/>
<circle cx="884.4" cy="1410.9" r="6.0" fill="#3c56a5"/>
<circle cx="924.8" cy="1410.9" r="6.0" fill="#3c56a5"/>
<circle cx="965.2" cy="1410.9" r="10.8" fill="#3c56a5"/>
<circle cx="1005.6" cy="1410.9" r="2.4" fill="#3c56a5"/>
<circle cx="1046.0" cy="1410.9" r="3.6" fill="#3c56a5"/>
<circle cx="1086.4" cy="1410.9" r="6.0" fill="#3c56a5"/>
<circle cx="1126.8" cy="1410.9" r="12.0" fill="#0892bc"/>
<circle cx="1167.2" cy="1410.9" r="2.4" fill="#3c56a5"/>
<circle cx="1207.6" cy="1410.9" r="4.8" fill="#3c56a5"/>
<circle cx="1248.0" cy="1410.9" r="9.6" fill="#3c56a5"/>
<circle cx="1288.5" cy="1410.9" r="3.6" fill="#3c56a5"/>
<circle cx="1328.9" cy="1410.9" r="9.6" fill="#3760ad"/>
<circle cx="1369.3" cy="1410.9" r="12.0" fill="#0581bf"/>
<circle cx="1409.7" cy="1410.9" r="6.0" fill="#3c56a5"/>
<circle cx="237.8" cy="1435.4" r="4.8" fill="#3c56a5"/>
<circle cx="278.2" cy="1435.4" r="12.0" fill="#146fb8"/>
<circle cx="318.6" cy="1435.4" r="10.8" fill="#3760ad"/>
<circle cx="359.0" cy="1435.4" r="6.0" fill="#3c56a5"/>
<circle cx="399.4" cy="1435.4" r="9.6" fill="#3c56a5"/>
<circle cx="439.9" cy="1435.4" r="2.4" fill="#3c56a5"/>
<circle cx="480.3" cy="1435.4" r="4.8" fill="#3c56a5"/>
<circle cx="520.7" cy="1435.4" r="7.2" fill="#3c56a5"/>
<circle cx="561.1" cy="1435.4" r="9.6" fill="#3c56a5"/>
<circle cx="601.5" cy="1435.4" r="12.0" fill="#2aaa7f"/>
<circle cx="641.9" cy="1435.4" r="10.8" fill="#3c56a5"/>
<circle cx="682.3" cy="1435.4" r="8.4" fill="#3c56a5"/>
<circle cx="722.7" cy="1435.4" r="2.4" fill="#3c56a5"/>
<circle cx="763.1" cy="1435.4" r="9.6" fill="#3c56a5"/>
<circle cx="803.5" cy="1435.4" r="7.2" fill="#3c56a5"/>
<circle cx="844.0" cy="1435.4" r="3.6" fill="#3c56a5"/>
<circle cx="884.4" cy="1435.4" r="6.0" fill="#3c56a5"/>
<circle cx="924.8" cy="1435.4" r="10.8" fill="#3c56a5"/>
<circle cx="965.2" cy="1435.4" r="7.2" fill="#3c56a5"/>
<circle cx="1005.6" cy="1435.4" r="10.8" fill="#3c56a5"/>
<circle cx="1046.0" cy="1435.4" r="8.4" fill="#3c56a5"/>
<circle cx="1086.4" cy="1435.4" r="12.0" fill="#3760ad"/>
<circle cx="1126.8" cy="1435.4" r="12.0" fill="#3162ae"/>
<circle cx="1167.2" cy="1435.4" r="12.0" fill="#2a66b1"/>
<circle cx="1207.6" cy="1435.4" r="2.4" fill="#3c56a5"/>
<circle cx="1248.0" cy="1435.4" r="8.4" fill="#3c56a5"/>
<circle cx="1288.5" cy="1435.4" r="8.4" fill="#3c56a5"/>
<circle cx="1328.9" cy="1435.4" r="12.0" fill="#1e6cb5"/>
<circle cx="1369.3" cy="1435.4" r="10.8" fill="#3760ad"/>
<circle cx="1409.7" cy="1435.4" r="12.0" fill="#3162ae"/>
<circle cx="237.8" cy="1459.9" r="7.2" fill="#3c56a5"/>
<circle cx="278.2" cy="1459.9" r="12.0" fill="#3760ad"/>
<circle cx="318.6" cy="1459.9" r="12.0" fill="#3760ad"/>
<circle cx="359.0" cy="1459.9" r="12.0" fill="#1e6cb5"/>
<circle cx="399.4" cy="1459.9" r="10.8" fill="#3c56a5"/>
<circle cx="439.9" cy="1459.9" r="8.4" fill="#3c56a5"/>
<circle cx="480.3" cy="1459.9" r="7.2" fill="#3c56a5"/>
<circle cx="520.7" cy="1459.9" r="7.2" fill="#3c56a5"/>
<circle cx="561.1" cy="1459.9" r="12.0" fill="#0581bf"/>
<circle cx="601.5" cy="1459.9" r="12.0" fill="#146fb8"/>
<circle cx="641.9" cy="1459.9" r="8.4" fill="#3c56a5"/>
<circle cx="682.3" cy="1459.9" r="10.8" fill="#3c56a5"/>
<circle cx="722.7" cy="1459.9" r="8.4" fill="#3c56a5"/>
<circle cx="763.1" cy="1459.9" r="6.0" fill="#3c56a5"/>
<circle cx="803.5" cy="1459.9" r="10.8" fill="#3c56a5"/>
<circle cx="844.0" cy="1459.9" r="6.0" fill="#3c56a5"/>
<circle cx="884.4" cy="1459.9" r="7.2" fill="#3c56a5"/>
<circle cx="924.8" cy="1459.9" r="10.8" fill="#3c56a5"/>
<circle cx="965.2" cy="1459.9" r="9.6" fill="#3c56a5"/>
<circle cx="1005.6" cy="1459.9" r="3.6" fill="#3c56a5"/>
<circle cx="1046.0" cy="1459.9" r="6.0" fill="#3c56a5"/>
<circle cx="1086.4" cy="1459.9" r="10.8" fill="#3c56a5"/>
<circle cx="1126.8" cy="1459.9" r="12.0" fill="#3162ae"/>
<circle cx="1167.2" cy="1459.9" r="6.0" fill="#3c56a5"/>
<circle cx="1207.6" cy="1459.9" r="6.0" fill="#3c56a5"/>
<circle cx="1248.0" cy="1459.9" r="12.0" fill="#0581bf"/>
<circle cx="1288.5" cy="1459.9" r="3.6" fill="#3c56a5"/>
<circle cx="1328.9" cy="1459.9" r="10.8" fill="#3760ad"/>
<circle cx="1369.3" cy="1459.9" r="12.0" fill="#3760ad"/>
<circle cx="1409.7" cy="1459.9" r="9.6" fill="#3c56a5"/>
<circle cx="237.8" cy="1484.5" r="4.8" fill="#3c56a5"/>
<circle cx="278.2" cy="1484.5" r="12.0" fill="#0892bc"/>
<circle cx="318.6" cy="1484.5" r="10.8" fill="#3c56a5"/>
<circle cx="359.0" cy="1484.5" r="10.8" fill="#3760ad"/>
<circle cx="399.4" cy="1484.5" r="8.4" fill="#3c56a5"/>
<circle cx="439.9" cy="1484.5" r="3.6" fill="#3c56a5"/>
<circle cx="480.3" cy="1484.5" r="7.2" fill="#3c56a5"/>
<circle cx="520.7" cy="1484.5" r="9.6" fill="#3c56a5"/>
<circle cx="561.1" cy="1484.5" r="10.8" fill="#3c56a5"/>
<circle cx="601.5" cy="1484.5" r="12.0" fill="#08a78a"/>
<circle cx="641.9" cy="1484.5" r="10.8" fill="#3c56a5"/>
<circle cx="682.3" cy="1484.5" r="8.4" fill="#3c56a5"/>
<circle cx="722.7" cy="1484.5" r="3.6" fill="#3c56a5"/>
<circle cx="763.1" cy="1484.5" r="10.8" fill="#3c56a5"/>
<circle cx="803.5" cy="1484.5" r="9.6" fill="#3c56a5"/>
<circle cx="844.0" cy="1484.5" r="4.8" fill="#3c56a5"/>
<circle cx="884.4" cy="1484.5" r="4.8" fill="#3c56a5"/>
<circle cx="924.8" cy="1484.5" r="12.0" fill="#3760ad"/>
<circle cx="965.2" cy="1484.5" r="7.2" fill="#3c56a5"/>
<circle cx="1005.6" cy="1484.5" r="7.2" fill="#3c56a5"/>
<circle cx="1046.0" cy="1484.5" r="8.4" fill="#3c56a5"/>
<circle cx="1086.4" cy="1484.5" r="10.8" fill="#3c56a5"/>
<circle cx="1126.8" cy="1484.5" r="12.0" fill="#3760ad"/>
<circle cx="1167.2" cy="1484.5" r="9.6" fill="#3c56a5"/>
<circle cx="1207.6" cy="1484.5" r="4.8" fill="#3c56a5"/>
<circle cx="1248.0" cy="1484.5" r="12.0" fill="#1e6cb5"/>
<circle cx="1288.5" cy="1484.5" r="3.6" fill="#3c56a5"/>
<circle cx="1328.9" cy="1484.5" r="12.0" fill="#3760ad"/>
<circle cx="1369.3" cy="1484.5" r="9.6" fill="#3c56a5"/>
<circle cx="1409.7" cy="1484.5" r="12.0" fill="#2a66b1"/>
<circle cx="237.8" cy="1509.0" r="6.0" fill="#3c56a5"/>
<circle cx="278.2" cy="1509.0" r="6.0" fill="#3c56a5"/>
<circle cx="318.6" cy="1509.0" r="12.0" fill="#3162ae"/>
<circle cx="359.0" cy="1509.0" r="4.8" fill="#3c56a5"/>
<circle cx="399.4" cy="1509.0" r="12.0" fill="#08a78a"/>
<circle cx="439.9" cy="1509.0" r="10.8" fill="#3162ae"/>
<circle cx="480.3" cy="1509.0" r="2.4" fill="#3c56a5"/>
<circle cx="520.7" cy="1509.0" r="3.6" fill="#3c56a5"/>
<circle cx="561.1" cy="1509.0" r="6.0" fill="#3c56a5"/>
<circle cx="601.5" cy="1509.0" r="10.8" fill="#3162ae"/>
<circle cx="641.9" cy="1509.0" r="3.6" fill="#3c56a5"/>
<circle cx="682.3" cy="1509.0" r="12.0" fill="#099b9e"/>
<circle cx="722.7" cy="1509.0" r="3.6" fill="#3c56a5"/>
<circle cx="763.1" cy="1509.0" r="7.2" fill="#3c56a5"/>
<circle cx="803.5" cy="1509.0" r="3.6" fill="#3c56a5"/>
<circle cx="844.0" cy="1509.0" r="8.4" fill="#3c56a5"/>
<circle cx="884.4" cy="1509.0" r="9.6" fill="#3c56a5"/>
<circle cx="924.8" cy="1509.0" r="4.8" fill="#3c56a5"/>
<circle cx="965.2" cy="1509.0" r="12.0" fill="#3760ad"/>
<circle cx="1005.6" cy="1509.0" r="2.4" fill="#3c56a5"/>
<circle cx="1046.0" cy="1509.0" r="3.6" fill="#3c56a5"/>
<circle cx="1086.4" cy="1509.0" r="4.8" fill="#3c56a5"/>
<circle cx="1126.8" cy="1509.0" r="12.0" fill="#07a48d"/>
<circle cx="1167.2" cy="1509.0" r="3.6" fill="#3c56a5"/>
<circle cx="1207.6" cy="1509.0" r="2.4" fill="#3c56a5"/>
<circle cx="1248.0" cy="1509.0" r="6.0" fill="#3c56a5"/>
<circle cx="1288.5" cy="1509.0" r="6.0" fill="#3c56a5"/>
<circle cx="1328.9" cy="1509.0" r="7.2" fill="#3c56a5"/>
<circle cx="1369.3" cy="1509.0" r="12.0" fill="#08a78a"/>
<circle cx="1409.7" cy="1509.0" r="7.2" fill="#3c56a5"/>
<circle cx="237.8" cy="1533.5" r="12.0" fill="#0581bf"/>
<circle cx="278.2" cy="1533.5" r="10.8" fill="#3c56a5"/>
<circle cx="318.6" cy="1533.5" r="12.0" fill="#3c56a5"/>
<circle cx="359.0" cy="1533.5" r="9.6" fill="#3c56a5"/>
<circle cx="399.4" cy="1533.5" r="12.0" fill="#3760ad"/>
<circle cx="439.9" cy="1533.5" r="4.8" fill="#3c56a5"/>
<circle cx="480.3" cy="1533.5" r="12.0" fill="#3162ae"/>
<circle cx="520.7" cy="1533.5" r="7.2" fill="#3c56a5"/>
<circle cx="561.1" cy="1533.5" r="10.8" fill="#3c56a5"/>
<circle cx="601.5" cy="1533.5" r="10.8" fill="#3c56a5"/>
<circle cx="641.9" cy="1533.5" r="3.6" fill="#3c56a5"/>
<circle cx="682.3" cy="1533.5" r="10.8" fill="#3c56a5"/>
<circle cx="722.7" cy="1533.5" r="12.0" fill="#1e6cb5"/>
<circle cx="763.1" cy="1533.5" r="3.6" fill="#3c56a5"/>
<circle cx="803.5" cy="1533.5" r="12.0" fill="#0a74bb"/>
<circle cx="844.0" cy="1533.5" r="4.8" fill="#3c56a5"/>
<circle cx="884.4" cy="1533.5" r="4.8" fill="#3c56a5"/>
<circle cx="924.8" cy="1533.5" r="3.6" fill="#3c56a5"/>
<circle cx="965.2" cy="1533.5" r="8.4" fill="#3c56a5"/>
<circle cx="1005.6" cy="1533.5" r="2.4" fill="#3c56a5"/>
<circle cx="1046.0" cy="1533.5" r="3.6" fill="#3c56a5"/>
<circle cx="1086.4" cy="1533.5" r="4.8" fill="#3c56a5"/>
<circle cx="1126.8" cy="1533.5" r="12.0" fill="#2a66b1"/>
<circle cx="1167.2" cy="1533.5" r="2.4" fill="#3c56a5"/>
<circle cx="1207.6" cy="1533.5" r="2.4" fill="#3c56a5"/>
<circle cx="1248.0" cy="1533.5" r="9.6" fill="#3c56a5"/>
<circle cx="1288.5" cy="1533.5" r="3.6" fill="#3c56a5"/>
<circle cx="1328.9" cy="1533.5" r="7.2" fill="#3c56a5"/>
<circle cx="1369.3" cy="1533.5" r="12.0" fill="#3162ae"/>
<circle cx="1409.7" cy="1533.5" r="7.2" fill="#3c56a5"/>
<circle cx="237.8" cy="1558.0" r="6.0" fill="#3c56a5"/>
<circle cx="278.2" cy="1558.0" r="12.0" fill="#3c56a5"/>
<circle cx="318.6" cy="1558.0" r="12.0" fill="#1e6cb5"/>
<circle cx="359.0" cy="1558.0" r="8.4" fill="#3c56a5"/>
<circle cx="399.4" cy="1558.0" r="10.8" fill="#3c56a5"/>
<circle cx="439.9" cy="1558.0" r="9.6" fill="#3c56a5"/>
<circle cx="480.3" cy="1558.0" r="4.8" fill="#3c56a5"/>
<circle cx="520.7" cy="1558.0" r="12.0" fill="#3162ae"/>
<circle cx="561.1" cy="1558.0" r="9.6" fill="#3c56a5"/>
<circle cx="601.5" cy="1558.0" r="12.0" fill="#2aaa7f"/>
<circle cx="641.9" cy="1558.0" r="12.0" fill="#2a66b1"/>
<circle cx="682.3" cy="1558.0" r="12.0" fill="#3c56a5"/>
<circle cx="722.7" cy="1558.0" r="3.6" fill="#3c56a5"/>
<circle cx="763.1" cy="1558.0" r="8.4" fill="#3c56a5"/>
<circle cx="803.5" cy="1558.0" r="6.0" fill="#3c56a5"/>
<circle cx="844.0" cy="1558.0" r="6.0" fill="#3c56a5"/>
<circle cx="884.4" cy="1558.0" r="6.0" fill="#3c56a5"/>
<circle cx="924.8" cy="1558.0" r="8.4" fill="#3c56a5"/>
<circle cx="965.2" cy="1558.0" r="9.6" fill="#3c56a5"/>
<circle cx="1005.6" cy="1558.0" r="12.0" fill="#2a66b1"/>
<circle cx="1046.0" cy="1558.0" r="2.4" fill="#3c56a5"/>
<circle cx="1086.4" cy="1558.0" r="12.0" fill="#3c56a5"/>
<circle cx="1126.8" cy="1558.0" r="12.0" fill="#3760ad"/>
<circle cx="1167.2" cy="1558.0" r="10.8" fill="#3c56a5"/>
<circle cx="1207.6" cy="1558.0" r="10.8" fill="#3760ad"/>
<circle cx="1248.0" cy="1558.0" r="8.4" fill="#3c56a5"/>
<circle cx="1288.5" cy="1558.0" r="12.0" fill="#3162ae"/>
<circle cx="1328.9" cy="1558.0" r="12.0" fill="#099b9e"/>
<circle cx="1369.3" cy="1558.0" r="10.8" fill="#3c56a5"/>
<circle cx="1409.7" cy="1558.0" r="12.0" fill="#0581bf"/>
<circle cx="237.8" cy="1582.5" r="4.8" fill="#3c56a5"/>
<circle cx="278.2" cy="1582.5" r="12.0" fill="#146fb8"/>
<circle cx="318.6" cy="1582.5" r="9.6" fill="#3c56a5"/>
<circle cx="359.0" cy="1582.5" r="7.2" fill="#3c56a5"/>
<circle cx="399.4" cy="1582.5" r="7.2" fill="#3c56a5"/>
<circle cx="439.9" cy="1582.5" r="3.6" fill="#3c56a5"/>
<circle cx="480.3" cy="1582.5" r="4.8" fill="#3c56a5"/>
<circle cx="520.7" cy="1582.5" r="6.0" fill="#3c56a5"/>
<circle cx="561.1" cy="1582.5" r="9.6" fill="#3c56a5"/>
<circle cx="601.5" cy="1582.5" r="12.0" fill="#08a78a"/>
<circle cx="641.9" cy="1582.5" r="9.6" fill="#3c56a5"/>
<circle cx="682.3" cy="1582.5" r="7.2" fill="#3c56a5"/>
<circle cx="722.7" cy="1582.5" r="2.4" fill="#3c56a5"/>
<circle cx="763.1" cy="1582.5" r="8.4" fill="#3c56a5"/>
<circle cx="803.5" cy="1582.5" r="4.8" fill="#3c56a5"/>
<circle cx="844.0" cy="1582.5" r="3.6" fill="#3c56a5"/>
<circle cx="884.4" cy="1582.5" r="4.8" fill="#3c56a5"/>
<circle cx="924.8" cy="1582.5" r="10.8" fill="#3c56a5"/>
<circle cx="965.2" cy="1582.5" r="6.0" fill="#3c56a5"/>
<circle cx="1005.6" cy="1582.5" r="9.6" fill="#3c56a5"/>
<circle cx="1046.0" cy="1582.5" r="6.0" fill="#3c56a5"/>
<circle cx="1086.4" cy="1582.5" r="10.8" fill="#3c56a5"/>
<circle cx="1126.8" cy="1582.5" r="9.6" fill="#3c56a5"/>
<circle cx="1167.2" cy="1582.5" r="8.4" fill="#3c56a5"/>
<circle cx="1207.6" cy="1582.5" r="4.8" fill="#3c56a5"/>
<circle cx="1248.0" cy="1582.5" r="9.6" fill="#3c56a5"/>
<circle cx="1288.5" cy="1582.5" r="4.8" fill="#3c56a5"/>
<circle cx="1328.9" cy="1582.5" r="12.0" fill="#3162ae"/>
<circle cx="1369.3" cy="1582.5" r="8.4" fill="#3c56a5"/>
<circle cx="1409.7" cy="1582.5" r="12.0" fill="#3162ae"/>
<circle cx="237.8" cy="1607.1" r="7.2" fill="#3c56a5"/>
<circle cx="278.2" cy="1607.1" r="12.0" fill="#0581bf"/>
<circle cx="318.6" cy="1607.1" r="12.0" fill="#2a66b1"/>
<circle cx="359.0" cy="1607.1" r="8.4" fill="#3c56a5"/>
<circle cx="399.4" cy="1607.1" r="10.8" fill="#3c56a5"/>
<circle cx="439.9" cy="1607.1" r="9.6" fill="#3c56a5"/>
<circle cx="480.3" cy="1607.1" r="7.2" fill="#3c56a5"/>
<circle cx="520.7" cy="1607.1" r="12.0" fill="#3162ae"/>
<circle cx="561.1" cy="1607.1" r="8.4" fill="#3c56a5"/>
<circle cx="601.5" cy="1607.1" r="12.0" fill="#08a78a"/>
<circle cx="641.9" cy="1607.1" r="12.0" fill="#3c56a5"/>
<circle cx="682.3" cy="1607.1" r="10.8" fill="#3c56a5"/>
<circle cx="722.7" cy="1607.1" r="6.0" fill="#3c56a5"/>
<circle cx="763.1" cy="1607.1" r="8.4" fill="#3c56a5"/>
<circle cx="803.5" cy="1607.1" r="6.0" fill="#3c56a5"/>
<circle cx="844.0" cy="1607.1" r="7.2" fill="#3c56a5"/>
<circle cx="884.4" cy="1607.1" r="6.0" fill="#3c56a5"/>
<circle cx="924.8" cy="1607.1" r="6.0" fill="#3c56a5"/>
<circle cx="965.2" cy="1607.1" r="8.4" fill="#3c56a5"/>
<circle cx="1005.6" cy="1607.1" r="12.0" fill="#2a66b1"/>
<circle cx="1046.0" cy="1607.1" r="3.6" fill="#3c56a5"/>
<circle cx="1086.4" cy="1607.1" r="12.0" fill="#1e6cb5"/>
<circle cx="1126.8" cy="1607.1" r="12.0" fill="#3162ae"/>
<circle cx="1167.2" cy="1607.1" r="10.8" fill="#3c56a5"/>
<circle cx="1207.6" cy="1607.1" r="12.0" fill="#3162ae"/>
<circle cx="1248.0" cy="1607.1" r="9.6" fill="#3c56a5"/>
<circle cx="1288.5" cy="1607.1" r="7.2" fill="#3c56a5"/>
<circle cx="1328.9" cy="1607.1" r="12.0" fill="#07a48d"/>
<circle cx="1369.3" cy="1607.1" r="12.0" fill="#3c56a5"/>
<circle cx="1409.7" cy="1607.1" r="12.0" fill="#146fb8"/>
<circle cx="237.8" cy="1631.6" r="4.8" fill="#3c56a5"/>
<circle cx="278.2" cy="1631.6" r="12.0" fill="#3760ad"/>
<circle cx="318.6" cy="1631.6" r="10.8" fill="#3c56a5"/>
<circle cx="359.0" cy="1631.6" r="8.4" fill="#3c56a5"/>
<circle cx="399.4" cy="1631.6" r="12.0" fill="#3c56a5"/>
<circle cx="439.9" cy="1631.6" r="4.8" fill="#3c56a5"/>
<circle cx="480.3" cy="1631.6" r="4.8" fill="#3c56a5"/>
<circle cx="520.7" cy="1631.6" r="9.6" fill="#3c56a5"/>
<circle cx="561.1" cy="1631.6" r="12.0" fill="#3c56a5"/>
<circle cx="601.5" cy="1631.6" r="12.0" fill="#2aaa7f"/>
<circle cx="641.9" cy="1631.6" r="10.8" fill="#3c56a5"/>
<circle cx="682.3" cy="1631.6" r="12.0" fill="#3c56a5"/>
<circle cx="722.7" cy="1631.6" r="2.4" fill="#3c56a5"/>
<circle cx="763.1" cy="1631.6" r="10.8" fill="#3c56a5"/>
<circle cx="803.5" cy="1631.6" r="7.2" fill="#3c56a5"/>
<circle cx="844.0" cy="1631.6" r="4.8" fill="#3c56a5"/>
<circle cx="884.4" cy="1631.6" r="7.2" fill="#3c56a5"/>
<circle cx="924.8" cy="1631.6" r="12.0" fill="#3c56a5"/>
<circle cx="965.2" cy="1631.6" r="9.6" fill="#3c56a5"/>
<circle cx="1005.6" cy="1631.6" r="12.0" fill="#3c56a5"/>
<circle cx="1046.0" cy="1631.6" r="6.0" fill="#3c56a5"/>
<circle cx="1086.4" cy="1631.6" r="12.0" fill="#1e6cb5"/>
<circle cx="1126.8" cy="1631.6" r="12.0" fill="#3760ad"/>
<circle cx="1167.2" cy="1631.6" r="12.0" fill="#3c56a5"/>
<circle cx="1207.6" cy="1631.6" r="4.8" fill="#3c56a5"/>
<circle cx="1248.0" cy="1631.6" r="8.4" fill="#3c56a5"/>
<circle cx="1288.5" cy="1631.6" r="8.4" fill="#3c56a5"/>
<circle cx="1328.9" cy="1631.6" r="12.0" fill="#1e6cb5"/>
<circle cx="1369.3" cy="1631.6" r="12.0" fill="#3c56a5"/>
<circle cx="1409.7" cy="1631.6" r="12.0" fill="#3162ae"/>
<circle cx="237.8" cy="1656.1" r="7.2" fill="#3c56a5"/>
<circle cx="278.2" cy="1656.1" r="10.8" fill="#3760ad"/>
<circle cx="318.6" cy="1656.1" r="12.0" fill="#0892bc"/>
<circle cx="359.0" cy="1656.1" r="6.0" fill="#3c56a5"/>
<circle cx="399.4" cy="1656.1" r="10.8" fill="#3760ad"/>
<circle cx="439.9" cy="1656.1" r="10.8" fill="#3162ae"/>
<circle cx="480.3" cy="1656.1" r="4.8" fill="#3c56a5"/>
<circle cx="520.7" cy="1656.1" r="8.4" fill="#3c56a5"/>
<circle cx="561.1" cy="1656.1" r="6.0" fill="#3c56a5"/>
<circle cx="601.5" cy="1656.1" r="12.0" fill="#08a78a"/>
<circle cx="641.9" cy="1656.1" r="9.6" fill="#3c56a5"/>
<circle cx="682.3" cy="1656.1" r="10.8" fill="#3c56a5"/>
<circle cx="722.7" cy="1656.1" r="3.6" fill="#3c56a5"/>
<circle cx="763.1" cy="1656.1" r="6.0" fill="#3c56a5"/>
<circle cx="803.5" cy="1656.1" r="4.8" fill="#3c56a5"/>
<circle cx="844.0" cy="1656.1" r="6.0" fill="#3c56a5"/>
<circle cx="884.4" cy="1656.1" r="6.0" fill="#3c56a5"/>
<circle cx="924.8" cy="1656.1" r="6.0" fill="#3c56a5"/>
<circle cx="965.2" cy="1656.1" r="9.6" fill="#3c56a5"/>
<circle cx="1005.6" cy="1656.1" r="8.4" fill="#3c56a5"/>
<circle cx="1046.0" cy="1656.1" r="1.8" fill="#3c56a5"/>
<circle cx="1086.4" cy="1656.1" r="9.6" fill="#3c56a5"/>
<circle cx="1126.8" cy="1656.1" r="12.0" fill="#0a74bb"/>
<circle cx="1167.2" cy="1656.1" r="7.2" fill="#3c56a5"/>
<circle cx="1207.6" cy="1656.1" r="8.4" fill="#3c56a5"/>
<circle cx="1248.0" cy="1656.1" r="6.0" fill="#3c56a5"/>
<circle cx="1288.5" cy="1656.1" r="8.4" fill="#3c56a5"/>
<circle cx="1328.9" cy="1656.1" r="12.0" fill="#3162ae"/>
<circle cx="1369.3" cy="1656.1" r="10.8" fill="#3c56a5"/>
<circle cx="1409.7" cy="1656.1" r="12.0" fill="#0896b0"/>
<circle cx="237.8" cy="1680.6" r="8.4" fill="#3c56a5"/>
<circle cx="278.2" cy="1680.6" r="12.0" fill="#3162ae"/>
<circle cx="318.6" cy="1680.6" r="12.0" fill="#0a74bb"/>
<circle cx="359.0" cy="1680.6" r="7.2" fill="#3c56a5"/>
<circle cx="399.4" cy="1680.6" r="9.6" fill="#3c56a5"/>
<circle cx="439.9" cy="1680.6" r="9.6" fill="#3c56a5"/>
<circle cx="480.3" cy="1680.6" r="9.6" fill="#3c56a5"/>
<circle cx="520.7" cy="1680.6" r="12.0" fill="#3162ae"/>
<circle cx="561.1" cy="1680.6" r="7.2" fill="#3c56a5"/>
<circle cx="601.5" cy="1680.6" r="12.0" fill="#2aaa7f"/>
<circle cx="641.9" cy="1680.6" r="12.0" fill="#1e6cb5"/>
<circle cx="682.3" cy="1680.6" r="9.6" fill="#3c56a5"/>
<circle cx="722.7" cy="1680.6" r="6.0" fill="#3c56a5"/>
<circle cx="763.1" cy="1680.6" r="8.4" fill="#3c56a5"/>
<circle cx="803.5" cy="1680.6" r="6.0" fill="#3c56a5"/>
<circle cx="844.0" cy="1680.6" r="7.2" fill="#3c56a5"/>
<circle cx="884.4" cy="1680.6" r="7.2" fill="#3c56a5"/>
<circle cx="924.8" cy="1680.6" r="8.4" fill="#3c56a5"/>
<circle cx="965.2" cy="1680.6" r="9.6" fill="#3c56a5"/>
<circle cx="1005.6" cy="1680.6" r="8.4" fill="#3c56a5"/>
<circle cx="1046.0" cy="1680.6" r="1.4" fill="#3c56a5"/>
<circle cx="1086.4" cy="1680.6" r="12.0" fill="#1e6cb5"/>
<circle cx="1126.8" cy="1680.6" r="12.0" fill="#2a66b1"/>
<circle cx="1167.2" cy="1680.6" r="8.4" fill="#3c56a5"/>
<circle cx="1207.6" cy="1680.6" r="9.6" fill="#3c56a5"/>
<circle cx="1248.0" cy="1680.6" r="10.8" fill="#3c56a5"/>
<circle cx="1288.5" cy="1680.6" r="8.4" fill="#3c56a5"/>
<circle cx="1328.9" cy="1680.6" r="12.0" fill="#0589c0"/>
<circle cx="1369.3" cy="1680.6" r="10.8" fill="#3c56a5"/>
<circle cx="1409.7" cy="1680.6" r="12.0" fill="#0892bc"/>
<circle cx="237.8" cy="1705.1" r="6.0" fill="#3c56a5"/>
<circle cx="278.2" cy="1705.1" r="10.8" fill="#3c56a5"/>
<circle cx="318.6" cy="1705.1" r="12.0" fill="#3760ad"/>
<circle cx="359.0" cy="1705.1" r="7.2" fill="#3c56a5"/>
<circle cx="399.4" cy="1705.1" r="12.0" fill="#0a74bb"/>
<circle cx="439.9" cy="1705.1" r="10.8" fill="#3c56a5"/>
<circle cx="480.3" cy="1705.1" r="2.4" fill="#3c56a5"/>
<circle cx="520.7" cy="1705.1" r="8.4" fill="#3c56a5"/>
<circle cx="561.1" cy="1705.1" r="9.6" fill="#3c56a5"/>
<circle cx="601.5" cy="1705.1" r="12.0" fill="#07a194"/>
<circle cx="641.9" cy="1705.1" r="9.6" fill="#3c56a5"/>
<circle cx="682.3" cy="1705.1" r="12.0" fill="#0a74bb"/>
<circle cx="722.7" cy="1705.1" r="2.4" fill="#3c56a5"/>
<circle cx="763.1" cy="1705.1" r="9.6" fill="#3c56a5"/>
<circle cx="803.5" cy="1705.1" r="2.4" fill="#3c56a5"/>
<circle cx="844.0" cy="1705.1" r="7.2" fill="#3c56a5"/>
<circle cx="884.4" cy="1705.1" r="8.4" fill="#3c56a5"/>
<circle cx="924.8" cy="1705.1" r="9.6" fill="#3c56a5"/>
<circle cx="965.2" cy="1705.1" r="12.0" fill="#3c56a5"/>
<circle cx="1005.6" cy="1705.1" r="10.8" fill="#3c56a5"/>
<circle cx="1046.0" cy="1705.1" r="4.8" fill="#3c56a5"/>
<circle cx="1086.4" cy="1705.1" r="10.8" fill="#3c56a5"/>
<circle cx="1126.8" cy="1705.1" r="12.0" fill="#0a74bb"/>
<circle cx="1167.2" cy="1705.1" r="7.2" fill="#3c56a5"/>
<circle cx="1207.6" cy="1705.1" r="7.2" fill="#3c56a5"/>
<circle cx="1248.0" cy="1705.1" r="7.2" fill="#3c56a5"/>
<circle cx="1288.5" cy="1705.1" r="6.0" fill="#3c56a5"/>
<circle cx="1328.9" cy="1705.1" r="10.8" fill="#3760ad"/>
<circle cx="1369.3" cy="1705.1" r="12.0" fill="#0892bc"/>
<circle cx="1409.7" cy="1705.1" r="12.0" fill="#3760ad"/>
<circle cx="237.8" cy="1729.7" r="7.2" fill="#3c56a5"/>
<circle cx="278.2" cy="1729.7" r="12.0" fill="#3760ad"/>
<circle cx="318.6" cy="1729.7" r="12.0" fill="#146fb8"/>
<circle cx="359.0" cy="1729.7" r="7.2" fill="#3c56a5"/>
<circle cx="399.4" cy="1729.7" r="9.6" fill="#3c56a5"/>
<circle cx="439.9" cy="1729.7" r="12.0" fill="#1e6cb5"/>
<circle cx="480.3" cy="1729.7" r="4.8" fill="#3c56a5"/>
<circle cx="520.7" cy="1729.7" r="7.2" fill="#3c56a5"/>
<circle cx="561.1" cy="1729.7" r="8.4" fill="#3c56a5"/>
<circle cx="601.5" cy="1729.7" r="12.0" fill="#07a194"/>
<circle cx="641.9" cy="1729.7" r="8.4" fill="#3c56a5"/>
<circle cx="682.3" cy="1729.7" r="10.8" fill="#3c56a5"/>
<circle cx="722.7" cy="1729.7" r="8.4" fill="#3c56a5"/>
<circle cx="763.1" cy="1729.7" r="7.2" fill="#3c56a5"/>
<circle cx="803.5" cy="1729.7" r="7.2" fill="#3c56a5"/>
<circle cx="844.0" cy="1729.7" r="9.6" fill="#3c56a5"/>
<circle cx="884.4" cy="1729.7" r="8.4" fill="#3c56a5"/>
<circle cx="924.8" cy="1729.7" r="8.4" fill="#3c56a5"/>
<circle cx="965.2" cy="1729.7" r="9.6" fill="#3c56a5"/>
<circle cx="1005.6" cy="1729.7" r="4.8" fill="#3c56a5"/>
<circle cx="1046.0" cy="1729.7" r="3.6" fill="#3c56a5"/>
<circle cx="1086.4" cy="1729.7" r="8.4" fill="#3c56a5"/>
<circle cx="1126.8" cy="1729.7" r="12.0" fill="#5cb475"/>
<circle cx="1167.2" cy="1729.7" r="6.0" fill="#3c56a5"/>
<circle cx="1207.6" cy="1729.7" r="3.6" fill="#3c56a5"/>
<circle cx="1248.0" cy="1729.7" r="9.6" fill="#3c56a5"/>
<circle cx="1288.5" cy="1729.7" r="3.6" fill="#3c56a5"/>
<circle cx="1328.9" cy="1729.7" r="9.6" fill="#3c56a5"/>
<circle cx="1369.3" cy="1729.7" r="10.8" fill="#3c56a5"/>
<circle cx="1409.7" cy="1729.7" r="10.8" fill="#3c56a5"/>
<circle cx="237.8" cy="1754.2" r="6.0" fill="#3c56a5"/>
<circle cx="278.2" cy="1754.2" r="12.0" fill="#3c56a5"/>
<circle cx="318.6" cy="1754.2" r="12.0" fill="#3760ad"/>
<circle cx="359.0" cy="1754.2" r="10.8" fill="#3c56a5"/>
<circle cx="399.4" cy="1754.2" r="12.0" fill="#3760ad"/>
<circle cx="439.9" cy="1754.2" r="4.8" fill="#3c56a5"/>
<circle cx="480.3" cy="1754.2" r="3.6" fill="#3c56a5"/>
<circle cx="520.7" cy="1754.2" r="10.8" fill="#3c56a5"/>
<circle cx="561.1" cy="1754.2" r="9.6" fill="#3c56a5"/>
<circle cx="601.5" cy="1754.2" r="12.0" fill="#07a194"/>
<circle cx="641.9" cy="1754.2" r="12.0" fill="#3c56a5"/>
<circle cx="682.3" cy="1754.2" r="10.8" fill="#3c56a5"/>
<circle cx="722.7" cy="1754.2" r="3.6" fill="#3c56a5"/>
<circle cx="763.1" cy="1754.2" r="12.0" fill="#0896b0"/>
<circle cx="803.5" cy="1754.2" r="4.8" fill="#3c56a5"/>
<circle cx="844.0" cy="1754.2" r="4.8" fill="#3c56a5"/>
<circle cx="884.4" cy="1754.2" r="6.0" fill="#3c56a5"/>
<circle cx="924.8" cy="1754.2" r="10.8" fill="#3c56a5"/>
<circle cx="965.2" cy="1754.2" r="8.4" fill="#3c56a5"/>
<circle cx="1005.6" cy="1754.2" r="6.0" fill="#3c56a5"/>
<circle cx="1046.0" cy="1754.2" r="12.0" fill="#0892bc"/>
<circle cx="1086.4" cy="1754.2" r="8.4" fill="#3c56a5"/>
<circle cx="1126.8" cy="1754.2" r="12.0" fill="#3162ae"/>
<circle cx="1167.2" cy="1754.2" r="10.8" fill="#3c56a5"/>
<circle cx="1207.6" cy="1754.2" r="2.4" fill="#3c56a5"/>
<circle cx="1248.0" cy="1754.2" r="10.8" fill="#3c56a5"/>
<circle cx="1288.5" cy="1754.2" r="6.0" fill="#3c56a5"/>
<circle cx="1328.9" cy="1754.2" r="12.0" fill="#0892bc"/>
<circle cx="1369.3" cy="1754.2" r="12.0" fill="#3162ae"/>
<circle cx="1409.7" cy="1754.2" r="12.0" fill="#1e6cb5"/>
<circle cx="237.8" cy="1778.7" r="6.0" fill="#3c56a5"/>
<circle cx="278.2" cy="1778.7" r="12.0" fill="#3c56a5"/>
<circle cx="318.6" cy="1778.7" r="12.0" fill="#3c56a5"/>
<circle cx="359.0" cy="1778.7" r="6.0" fill="#3c56a5"/>
<circle cx="399.4" cy="1778.7" r="10.8" fill="#3c56a5"/>
<circle cx="439.9" cy="1778.7" r="4.8" fill="#3c56a5"/>
<circle cx="480.3" cy="1778.7" r="8.4" fill="#3c56a5"/>
<circle cx="520.7" cy="1778.7" r="8.4" fill="#3c56a5"/>
<circle cx="561.1" cy="1778.7" r="10.8" fill="#3c56a5"/>
<circle cx="601.5" cy="1778.7" r="12.0" fill="#08a78a"/>
<circle cx="641.9" cy="1778.7" r="10.8" fill="#3c56a5"/>
<circle cx="682.3" cy="1778.7" r="10.8" fill="#3c56a5"/>
<circle cx="722.7" cy="1778.7" r="3.6" fill="#3c56a5"/>
<circle cx="763.1" cy="1778.7" r="8.4" fill="#3c56a5"/>
<circle cx="803.5" cy="1778.7" r="9.6" fill="#3c56a5"/>
<circle cx="844.0" cy="1778.7" r="6.0" fill="#3c56a5"/>
<circle cx="884.4" cy="1778.7" r="4.8" fill="#3c56a5"/>
<circle cx="924.8" cy="1778.7" r="10.8" fill="#3c56a5"/>
<circle cx="965.2" cy="1778.7" r="7.2" fill="#3c56a5"/>
<circle cx="1005.6" cy="1778.7" r="10.8" fill="#3c56a5"/>
<circle cx="1046.0" cy="1778.7" r="3.6" fill="#3c56a5"/>
<circle cx="1086.4" cy="1778.7" r="10.8" fill="#3c56a5"/>
<circle cx="1126.8" cy="1778.7" r="12.0" fill="#0a74bb"/>
<circle cx="1167.2" cy="1778.7" r="12.0" fill="#2a66b1"/>
<circle cx="1207.6" cy="1778.7" r="6.0" fill="#3c56a5"/>
<circle cx="1248.0" cy="1778.7" r="8.4" fill="#3c56a5"/>
<circle cx="1288.5" cy="1778.7" r="10.8" fill="#3c56a5"/>
<circle cx="1328.9" cy="1778.7" r="12.0" fill="#3162ae"/>
<circle cx="1369.3" cy="1778.7" r="12.0" fill="#3760ad"/>
<circle cx="1409.7" cy="1778.7" r="12.0" fill="#3c56a5"/>
<circle cx="237.8" cy="1803.2" r="10.8" fill="#3c56a5"/>
<circle cx="278.2" cy="1803.2" r="10.8" fill="#3c56a5"/>
<circle cx="318.6" cy="1803.2" r="12.0" fill="#3c56a5"/>
<circle cx="359.0" cy="1803.2" r="9.6" fill="#3c56a5"/>
<circle cx="399.4" cy="1803.2" r="12.0" fill="#3760ad"/>
<circle cx="439.9" cy="1803.2" r="10.8" fill="#3c56a5"/>
<circle cx="480.3" cy="1803.2" r="7.2" fill="#3c56a5"/>
<circle cx="520.7" cy="1803.2" r="8.4" fill="#3c56a5"/>
<circle cx="561.1" cy="1803.2" r="10.8" fill="#3c56a5"/>
<circle cx="601.5" cy="1803.2" r="12.0" fill="#2a66b1"/>
<circle cx="641.9" cy="1803.2" r="7.2" fill="#3c56a5"/>
<circle cx="682.3" cy="1803.2" r="10.8" fill="#3c56a5"/>
<circle cx="722.7" cy="1803.2" r="10.8" fill="#3c56a5"/>
<circle cx="763.1" cy="1803.2" r="12.0" fill="#3c56a5"/>
<circle cx="803.5" cy="1803.2" r="9.6" fill="#3c56a5"/>
<circle cx="844.0" cy="1803.2" r="10.8" fill="#3c56a5"/>
<circle cx="884.4" cy="1803.2" r="12.0" fill="#3c56a5"/>
<circle cx="924.8" cy="1803.2" r="7.2" fill="#3c56a5"/>
<circle cx="965.2" cy="1803.2" r="12.0" fill="#3c56a5"/>
<circle cx="1005.6" cy="1803.2" r="6.0" fill="#3c56a5"/>
<circle cx="1046.0" cy="1803.2" r="3.6" fill="#3c56a5"/>
<circle cx="1086.4" cy="1803.2" r="10.8" fill="#3c56a5"/>
<circle cx="1126.8" cy="1803.2" r="12.0" fill="#07a48d"/>
<circle cx="1167.2" cy="1803.2" r="3.6" fill="#3c56a5"/>
<circle cx="1207.6" cy="1803.2" r="6.0" fill="#3c56a5"/>
<circle cx="1248.0" cy="1803.2" r="9.6" fill="#3c56a5"/>
<circle cx="1288.5" cy="1803.2" r="6.0" fill="#3c56a5"/>
<circle cx="1328.9" cy="1803.2" r="9.6" fill="#3c56a5"/>
<circle cx="1369.3" cy="1803.2" r="10.8" fill="#3c56a5"/>
<circle cx="1409.7" cy="1803.2" r="10.8" fill="#3c56a5"/>
<circle cx="237.8" cy="1827.7" r="9.6" fill="#3c56a5"/>
<circle cx="278.2" cy="1827.7" r="10.8" fill="#3c56a5"/>
<circle cx="318.6" cy="1827.7" r="12.0" fill="#3162ae"/>
<circle cx="359.0" cy="1827.7" r="8.4" fill="#3c56a5"/>
<circle cx="399.4" cy="1827.7" r="12.0" fill="#0a74bb"/>
<circle cx="439.9" cy="1827.7" r="12.0" fill="#1e6cb5"/>
<circle cx="480.3" cy="1827.7" r="4.8" fill="#3c56a5"/>
<circle cx="520.7" cy="1827.7" r="7.2" fill="#3c56a5"/>
<circle cx="561.1" cy="1827.7" r="7.2" fill="#3c56a5"/>
<circle cx="601.5" cy="1827.7" r="12.0" fill="#0a74bb"/>
<circle cx="641.9" cy="1827.7" r="9.6" fill="#3c56a5"/>
<circle cx="682.3" cy="1827.7" r="12.0" fill="#0a74bb"/>
<circle cx="722.7" cy="1827.7" r="6.0" fill="#3c56a5"/>
<circle cx="763.1" cy="1827.7" r="10.8" fill="#3c56a5"/>
<circle cx="803.5" cy="1827.7" r="4.8" fill="#3c56a5"/>
<circle cx="844.0" cy="1827.7" r="12.0" fill="#3162ae"/>
<circle cx="884.4" cy="1827.7" r="12.0" fill="#3162ae"/>
<circle cx="924.8" cy="1827.7" r="9.6" fill="#3c56a5"/>
<circle cx="965.2" cy="1827.7" r="12.0" fill="#3162ae"/>
<circle cx="1005.6" cy="1827.7" r="7.2" fill="#3c56a5"/>
<circle cx="1046.0" cy="1827.7" r="7.2" fill="#3c56a5"/>
<circle cx="1086.4" cy="1827.7" r="8.4" fill="#3c56a5"/>
<circle cx="1126.8" cy="1827.7" r="12.0" fill="#0892bc"/>
<circle cx="1167.2" cy="1827.7" r="7.2" fill="#3c56a5"/>
<circle cx="1207.6" cy="1827.7" r="4.8" fill="#3c56a5"/>
<circle cx="1248.0" cy="1827.7" r="8.4" fill="#3c56a5"/>
<circle cx="1288.5" cy="1827.7" r="7.2" fill="#3c56a5"/>
<circle cx="1328.9" cy="1827.7" r="10.8" fill="#3c56a5"/>
<circle cx="1369.3" cy="1827.7" r="12.0" fill="#099b9e"/>
<circle cx="1409.7" cy="1827.7" r="10.8" fill="#3c56a5"/>
</g>
<line x1="200.3" y1="1410.9" x2="205.8" y2="1410.9" stroke="#222" stroke-width="1.2"/>
<text x="195.0" y="1416.2" font-size="14.3" text-anchor="end" letter-spacing="0.75">Midbrain GABA</text>
<line x1="200.3" y1="1435.4" x2="205.8" y2="1435.4" stroke="#222" stroke-width="1.2"/>
<text x="195.0" y="1440.7" font-size="14.3" text-anchor="end" letter-spacing="0.75">Sensorimotor/Visual Ctx</text>
<line x1="200.3" y1="1459.9" x2="205.8" y2="1459.9" stroke="#222" stroke-width="1.2"/>
<text x="195.0" y="1465.2" font-size="14.3" text-anchor="end" letter-spacing="0.75">Hypothal/Pituitary</text>
<line x1="200.3" y1="1484.5" x2="205.8" y2="1484.5" stroke="#222" stroke-width="1.2"/>
<text x="195.0" y="1489.8" font-size="14.3" text-anchor="end" letter-spacing="0.75">Piriform Ctx/Amygdala</text>
<line x1="200.3" y1="1509.0" x2="205.8" y2="1509.0" stroke="#222" stroke-width="1.2"/>
<text x="195.0" y="1514.3" font-size="14.3" text-anchor="end" letter-spacing="0.75">White Matter</text>
<line x1="200.3" y1="1533.5" x2="205.8" y2="1533.5" stroke="#222" stroke-width="1.2"/>
<text x="195.0" y="1538.8" font-size="14.3" text-anchor="end" letter-spacing="0.75">Thalamus</text>
<line x1="200.3" y1="1558.0" x2="205.8" y2="1558.0" stroke="#222" stroke-width="1.2"/>
<text x="195.0" y="1563.3" font-size="14.3" text-anchor="end" letter-spacing="0.75">Hipp CA1 Pyramidal</text>
<line x1="200.3" y1="1582.5" x2="205.8" y2="1582.5" stroke="#222" stroke-width="1.2"/>
<text x="195.0" y="1587.8" font-size="14.3" text-anchor="end" letter-spacing="0.75">Auditory/Entorhinal Ctx</text>
<line x1="200.3" y1="1607.1" x2="205.8" y2="1607.1" stroke="#222" stroke-width="1.2"/>
<text x="195.0" y="1612.4" font-size="14.3" text-anchor="end" letter-spacing="0.75">Hipp CA3</text>
<line x1="200.3" y1="1631.6" x2="205.8" y2="1631.6" stroke="#222" stroke-width="1.2"/>
<text x="195.0" y="1636.9" font-size="14.3" text-anchor="end" letter-spacing="0.75">Sensorimotor Migration</text>
<line x1="200.3" y1="1656.1" x2="205.8" y2="1656.1" stroke="#222" stroke-width="1.2"/>
<text x="195.0" y="1661.4" font-size="14.3" text-anchor="end" letter-spacing="0.75">Hipp CA1 Radiatum</text>
<line x1="200.3" y1="1680.6" x2="205.8" y2="1680.6" stroke="#222" stroke-width="1.2"/>
<text x="195.0" y="1685.9" font-size="14.3" text-anchor="end" letter-spacing="0.75">Dentate Gyrus</text>
<line x1="200.3" y1="1705.1" x2="205.8" y2="1705.1" stroke="#222" stroke-width="1.2"/>
<text x="195.0" y="1710.4" font-size="14.3" text-anchor="end" letter-spacing="0.75">Corpus Callosum</text>
<line x1="200.3" y1="1729.7" x2="205.8" y2="1729.7" stroke="#222" stroke-width="1.2"/>
<text x="195.0" y="1735.0" font-size="14.3" text-anchor="end" letter-spacing="0.75">Neurovasculature</text>
<line x1="200.3" y1="1754.2" x2="205.8" y2="1754.2" stroke="#222" stroke-width="1.2"/>
<text x="195.0" y="1759.5" font-size="14.3" text-anchor="end" letter-spacing="0.75">Striatum/Amygdala</text>
<line x1="200.3" y1="1778.7" x2="205.8" y2="1778.7" stroke="#222" stroke-width="1.2"/>
<text x="195.0" y="1784.0" font-size="14.3" text-anchor="end" letter-spacing="0.75">Retrosplenial Ctx</text>
<line x1="200.3" y1="1803.2" x2="205.8" y2="1803.2" stroke="#222" stroke-width="1.2"/>
<text x="195.0" y="1808.5" font-size="14.3" text-anchor="end" letter-spacing="0.75">Ventricle/Choroid</text>
<line x1="200.3" y1="1827.7" x2="205.8" y2="1827.7" stroke="#222" stroke-width="1.2"/>
<text x="195.0" y="1833.0" font-size="14.3" text-anchor="end" letter-spacing="0.75">Choroid Transport</text>
<text x="813.4" y="887.1" font-size="17.3" textLength="104.7" lengthAdjust="spacing">Ground Truth</text>
<text x="798.5" y="1379.0" font-size="17.3" textLength="134.7" lengthAdjust="spacing">scGALA Imputed</text>
<line x1="237.8" y1="1851.9" x2="237.8" y2="1856.5" stroke="#222" stroke-width="1.2"/>
<text transform="translate(242.7,1863.5) rotate(-90)" x="0" y="0" font-size="13.8" text-anchor="end" letter-spacing="0.95">Tcf7l2</text>
<line x1="278.2" y1="1851.9" x2="278.2" y2="1856.5" stroke="#222" stroke-width="1.2"/>
<text transform="translate(283.1,1863.5) rotate(-90)" x="0" y="0" font-size="13.8" text-anchor="end" letter-spacing="0.95">Nptxr</text>
<line x1="318.6" y1="1851.9" x2="318.6" y2="1856.5" stroke="#222" stroke-width="1.2"/>
<text transform="translate(323.5,1863.5) rotate(-90)" x="0" y="0" font-size="13.8" text-anchor="end" letter-spacing="0.95">Zbtb20</text>
<line x1="359.0" y1="1851.9" x2="359.0" y2="1856.5" stroke="#222" stroke-width="1.2"/>
<text transform="translate(363.9,1863.5) rotate(-90)" x="0" y="0" font-size="13.8" text-anchor="end" letter-spacing="0.95">Zcchc12</text>
<line x1="399.4" y1="1851.9" x2="399.4" y2="1856.5" stroke="#222" stroke-width="1.2"/>
<text transform="translate(404.3,1863.5) rotate(-90)" x="0" y="0" font-size="13.8" text-anchor="end" letter-spacing="0.95">Trf</text>
<line x1="439.9" y1="1851.9" x2="439.9" y2="1856.5" stroke="#222" stroke-width="1.2"/>
<text transform="translate(444.8,1863.5) rotate(-90)" x="0" y="0" font-size="13.8" text-anchor="end" letter-spacing="0.95">Gfap</text>
<line x1="480.3" y1="1851.9" x2="480.3" y2="1856.5" stroke="#222" stroke-width="1.2"/>
<text transform="translate(485.2,1863.5) rotate(-90)" x="0" y="0" font-size="13.8" text-anchor="end" letter-spacing="0.95">Ntng1</text>
<line x1="520.7" y1="1851.9" x2="520.7" y2="1856.5" stroke="#222" stroke-width="1.2"/>
<text transform="translate(525.6,1863.5) rotate(-90)" x="0" y="0" font-size="13.8" text-anchor="end" letter-spacing="0.95">Wipf3</text>
<line x1="561.1" y1="1851.9" x2="561.1" y2="1856.5" stroke="#222" stroke-width="1.2"/>
<text transform="translate(566.0,1863.5) rotate(-90)" x="0" y="0" font-size="13.8" text-anchor="end" letter-spacing="0.95">Resp18</text>
<line x1="601.5" y1="1851.9" x2="601.5" y2="1856.5" stroke="#222" stroke-width="1.2"/>
<text transform="translate(606.4,1863.5) rotate(-90)" x="0" y="0" font-size="13.8" text-anchor="end" letter-spacing="0.95">Nrgn</text>
<line x1="641.9" y1="1851.9" x2="641.9" y2="1856.5" stroke="#222" stroke-width="1.2"/>
<text transform="translate(646.8,1863.5) rotate(-90)" x="0" y="0" font-size="13.8" text-anchor="end" letter-spacing="0.95">2010300C02Rik</text>
<line x1="682.3" y1="1851.9" x2="682.3" y2="1856.5" stroke="#222" stroke-width="1.2"/>
<text transform="translate(687.2,1863.5) rotate(-90)" x="0" y="0" font-size="13.8" text-anchor="end" letter-spacing="0.95">Cldn11</text>
<line x1="722.7" y1="1851.9" x2="722.7" y2="1856.5" stroke="#222" stroke-width="1.2"/>
<text transform="translate(727.6,1863.5) rotate(-90)" x="0" y="0" font-size="13.8" text-anchor="end" letter-spacing="0.95">Zic1</text>
<line x1="763.1" y1="1851.9" x2="763.1" y2="1856.5" stroke="#222" stroke-width="1.2"/>
<text transform="translate(768.0,1863.5) rotate(-90)" x="0" y="0" font-size="13.8" text-anchor="end" letter-spacing="0.95">Ppp1r1b</text>
<line x1="803.5" y1="1851.9" x2="803.5" y2="1856.5" stroke="#222" stroke-width="1.2"/>
<text transform="translate(808.4,1863.5) rotate(-90)" x="0" y="0" font-size="13.8" text-anchor="end" letter-spacing="0.95">Slc17a6</text>
<line x1="844.0" y1="1851.9" x2="844.0" y2="1856.5" stroke="#222" stroke-width="1.2"/>
<text transform="translate(848.9,1863.5) rotate(-90)" x="0" y="0" font-size="13.8" text-anchor="end" letter-spacing="0.95">Vim</text>
<line x1="884.4" y1="1851.9" x2="884.4" y2="1856.5" stroke="#222" stroke-width="1.2"/>
<text transform="translate(889.3,1863.5) rotate(-90)" x="0" y="0" font-size="13.8" text-anchor="end" letter-spacing="0.95">S100a6</text>
<line x1="924.8" y1="1851.9" x2="924.8" y2="1856.5" stroke="#222" stroke-width="1.2"/>
<text transform="translate(929.7,1863.5) rotate(-90)" x="0" y="0" font-size="13.8" text-anchor="end" letter-spacing="0.95">Atp2b4</text>
<line x1="965.2" y1="1851.9" x2="965.2" y2="1856.5" stroke="#222" stroke-width="1.2"/>
<text transform="translate(970.1,1863.5) rotate(-90)" x="0" y="0" font-size="13.8" text-anchor="end" letter-spacing="0.95">Cd9</text>
<line x1="1005.6" y1="1851.9" x2="1005.6" y2="1856.5" stroke="#222" stroke-width="1.2"/>
<text transform="translate(1010.5,1863.5) rotate(-90)" x="0" y="0" font-size="13.8" text-anchor="end" letter-spacing="0.95">Neurod6</text>
<line x1="1046.0" y1="1851.9" x2="1046.0" y2="1856.5" stroke="#222" stroke-width="1.2"/>
<text transform="translate(1050.9,1863.5) rotate(-90)" x="0" y="0" font-size="13.8" text-anchor="end" letter-spacing="0.95">Gpr88</text>
<line x1="1086.4" y1="1851.9" x2="1086.4" y2="1856.5" stroke="#222" stroke-width="1.2"/>
<text transform="translate(1091.3,1863.5) rotate(-90)" x="0" y="0" font-size="13.8" text-anchor="end" letter-spacing="0.95">Nptx1</text>
<line x1="1126.8" y1="1851.9" x2="1126.8" y2="1856.5" stroke="#222" stroke-width="1.2"/>
<text transform="translate(1131.7,1863.5) rotate(-90)" x="0" y="0" font-size="13.8" text-anchor="end" letter-spacing="0.95">Ptgds</text>
<line x1="1167.2" y1="1851.9" x2="1167.2" y2="1856.5" stroke="#222" stroke-width="1.2"/>
<text transform="translate(1172.1,1863.5) rotate(-90)" x="0" y="0" font-size="13.8" text-anchor="end" letter-spacing="0.95">Lamp5</text>
<line x1="1207.6" y1="1851.9" x2="1207.6" y2="1856.5" stroke="#222" stroke-width="1.2"/>
<text transform="translate(1212.5,1863.5) rotate(-90)" x="0" y="0" font-size="13.8" text-anchor="end" letter-spacing="0.95">Cabp7</text>
<line x1="1248.0" y1="1851.9" x2="1248.0" y2="1856.5" stroke="#222" stroke-width="1.2"/>
<text transform="translate(1253.0,1863.5) rotate(-90)" x="0" y="0" font-size="13.8" text-anchor="end" letter-spacing="0.95">Hap1</text>
<line x1="1288.5" y1="1851.9" x2="1288.5" y2="1856.5" stroke="#222" stroke-width="1.2"/>
<text transform="translate(1293.4,1863.5) rotate(-90)" x="0" y="0" font-size="13.8" text-anchor="end" letter-spacing="0.95">Pou3f1</text>
<line x1="1328.9" y1="1851.9" x2="1328.9" y2="1856.5" stroke="#222" stroke-width="1.2"/>
<text transform="translate(1333.8,1863.5) rotate(-90)" x="0" y="0" font-size="13.8" text-anchor="end" letter-spacing="0.95">Hpca</text>
<line x1="1369.3" y1="1851.9" x2="1369.3" y2="1856.5" stroke="#222" stroke-width="1.2"/>
<text transform="translate(1374.2,1863.5) rotate(-90)" x="0" y="0" font-size="13.8" text-anchor="end" letter-spacing="0.95">Cnp</text>
<line x1="1409.7" y1="1851.9" x2="1409.7" y2="1856.5" stroke="#222" stroke-width="1.2"/>
<text transform="translate(1414.6,1863.5) rotate(-90)" x="0" y="0" font-size="13.8" text-anchor="end" letter-spacing="0.95">Ddn</text>
<defs><linearGradient id="cb1" x1="0" x2="1" y1="0" y2="0"><stop offset="0" stop-color="#3d4e9f"/><stop offset="0.25" stop-color="#3d52a2"/><stop offset="0.35" stop-color="#365dab"/><stop offset="0.42" stop-color="#1f6ab4"/><stop offset="0.46" stop-color="#0c76bb"/><stop offset="0.51" stop-color="#078fc0"/><stop offset="0.6" stop-color="#03a0a4"/><stop offset="0.72" stop-color="#06a98a"/><stop offset="0.86" stop-color="#31aa7b"/><stop offset="1" stop-color="#5eb673"/></linearGradient></defs>
<rect x="1461.3" y="930.6" width="138.4" height="32.7" fill="url(#cb1)" stroke="#111" stroke-width="1.5"/>
<line x1="1515.0" y1="963.3" x2="1515.0" y2="968.0" stroke="#111" stroke-width="1.3"/>
<line x1="1570.0" y1="963.3" x2="1570.0" y2="968.0" stroke="#111" stroke-width="1.3"/>
<text x="1515.0" y="985.5" font-size="13.2" text-anchor="middle">2.5</text>
<text x="1570.0" y="985.5" font-size="13.2" text-anchor="middle">5.0</text>
<text x="1530.0" y="905.0" font-size="13" text-anchor="middle" textLength="117.0" lengthAdjust="spacing">Mean expression</text>
<text x="1530.0" y="921.0" font-size="13" text-anchor="middle" textLength="57.0" lengthAdjust="spacing">in group</text>
<text x="1533.6" y="1006.0" font-size="13" text-anchor="middle" textLength="109.0" lengthAdjust="spacing">Fraction of cells</text>
<text x="1533.6" y="1022.0" font-size="13" text-anchor="middle" textLength="86.0" lengthAdjust="spacing">in group (%)</text>
<circle cx="1474" cy="1055.2" r="3.8" fill="#808080" stroke="#222" stroke-width="0.7"/>
<line x1="1474.0" y1="1087.0" x2="1474.0" y2="1092.5" stroke="#111" stroke-width="1.3"/>
<text x="1474.0" y="1109.2" font-size="13.2" text-anchor="middle">20</text>
<circle cx="1501.5" cy="1055.2" r="6.2" fill="#808080" stroke="#222" stroke-width="0.7"/>
<line x1="1501.5" y1="1087.0" x2="1501.5" y2="1092.5" stroke="#111" stroke-width="1.3"/>
<text x="1501.5" y="1109.2" font-size="13.2" text-anchor="middle">40</text>
<circle cx="1528.7" cy="1055.2" r="8.6" fill="#808080" stroke="#222" stroke-width="0.7"/>
<line x1="1528.7" y1="1087.0" x2="1528.7" y2="1092.5" stroke="#111" stroke-width="1.3"/>
<text x="1528.7" y="1109.2" font-size="13.2" text-anchor="middle">60</text>
<circle cx="1556" cy="1055.2" r="10.3" fill="#808080" stroke="#222" stroke-width="0.7"/>
<line x1="1556.0" y1="1087.0" x2="1556.0" y2="1092.5" stroke="#111" stroke-width="1.3"/>
<text x="1556.0" y="1109.2" font-size="13.2" text-anchor="middle">80</text>
<circle cx="1583" cy="1055.2" r="12.4" fill="#808080" stroke="#222" stroke-width="0.7"/>
<line x1="1583.0" y1="1087.0" x2="1583.0" y2="1092.5" stroke="#111" stroke-width="1.3"/>
<text x="1583.0" y="1109.2" font-size="13.2" text-anchor="middle">100</text>
<text x="1543.0" y="1660.5" font-size="13" text-anchor="middle" textLength="109.0" lengthAdjust="spacing">Fraction of cells</text>
<text x="1543.0" y="1677.0" font-size="13" text-anchor="middle" textLength="86.0" lengthAdjust="spacing">in group (%)</text>
<circle cx="1484" cy="1710" r="3.8" fill="#808080" stroke="#222" stroke-width="0.7"/>
<line x1="1484.0" y1="1742.0" x2="1484.0" y2="1747.5" stroke="#111" stroke-width="1.3"/>
<text x="1484.0" y="1764.5" font-size="13.2" text-anchor="middle">20</text>
<circle cx="1511.2" cy="1710" r="6.2" fill="#808080" stroke="#222" stroke-width="0.7"/>
<line x1="1511.2" y1="1742.0" x2="1511.2" y2="1747.5" stroke="#111" stroke-width="1.3"/>
<text x="1511.2" y="1764.5" font-size="13.2" text-anchor="middle">40</text>
<circle cx="1538.4" cy="1710" r="8.6" fill="#808080" stroke="#222" stroke-width="0.7"/>
<line x1="1538.4" y1="1742.0" x2="1538.4" y2="1747.5" stroke="#111" stroke-width="1.3"/>
<text x="1538.4" y="1764.5" font-size="13.2" text-anchor="middle">60</text>
<circle cx="1566" cy="1710" r="10.3" fill="#808080" stroke="#222" stroke-width="0.7"/>
<line x1="1566.0" y1="1742.0" x2="1566.0" y2="1747.5" stroke="#111" stroke-width="1.3"/>
<text x="1566.0" y="1764.5" font-size="13.2" text-anchor="middle">80</text>
<circle cx="1593.1" cy="1710" r="12.4" fill="#808080" stroke="#222" stroke-width="0.7"/>
<line x1="1593.1" y1="1742.0" x2="1593.1" y2="1747.5" stroke="#111" stroke-width="1.3"/>
<text x="1593.1" y="1764.5" font-size="13.2" text-anchor="middle">100</text>
<text x="1543.0" y="1793.5" font-size="13" text-anchor="middle" textLength="117.0" lengthAdjust="spacing">Mean expression</text>
<text x="1543.0" y="1809.5" font-size="13" text-anchor="middle" textLength="57.0" lengthAdjust="spacing">in group</text>
<defs><linearGradient id="cb2" x1="0" x2="1" y1="0" y2="0"><stop offset="0" stop-color="#3d4e9f"/><stop offset="0.25" stop-color="#3d52a2"/><stop offset="0.35" stop-color="#365dab"/><stop offset="0.42" stop-color="#1f6ab4"/><stop offset="0.46" stop-color="#0c76bb"/><stop offset="0.51" stop-color="#078fc0"/><stop offset="0.6" stop-color="#03a0a4"/><stop offset="0.72" stop-color="#06a98a"/><stop offset="0.86" stop-color="#31aa7b"/><stop offset="1" stop-color="#5eb673"/></linearGradient></defs>
<rect x="1474.7" y="1819.5" width="137.7" height="32.5" fill="url(#cb2)" stroke="#111" stroke-width="1.5"/>
<line x1="1534.6" y1="1852.0" x2="1534.6" y2="1856.5" stroke="#111" stroke-width="1.3"/>
<line x1="1595.2" y1="1852.0" x2="1595.2" y2="1856.5" stroke="#111" stroke-width="1.3"/>
<text x="1534.6" y="1874.5" font-size="13.2" text-anchor="middle">2</text>
<text x="1595.2" y="1874.5" font-size="13.2" text-anchor="middle">4</text>
<polyline points="1446.5,1220.4 1463.5,1220.4 1463.5,1555.5 1446.5,1555.5" fill="none" stroke="#222" stroke-width="1.3"/>
<text x="1477.5" y="1349.4" font-size="20" textLength="71.5" lengthAdjust="spacing">Pearson</text>
<text x="1477.5" y="1369.4" font-size="20" textLength="143.0" lengthAdjust="spacing">correlation: 0.96,</text>
<text x="1477.5" y="1409.7" font-size="19.4"><tspan font-style="italic">P</tspan> = 4.86x10<tspan font-size="11.6" dy="-8" font-weight="bold">-312</tspan></text>
<rect x="1663.3" y="1047" width="336.2" height="604.5" rx="14" fill="#fff" stroke="#111" stroke-width="1.5"/>
<text x="1815.8" y="1080.0" font-size="26.5" text-anchor="middle" textLength="112.0" lengthAdjust="spacing">Cell Type</text>
<circle cx="1678.8" cy="1100" r="12.2" fill="#0b6db0"/>
<text x="1698.8" y="1106.0" font-size="16.8" textLength="171.4" lengthAdjust="spacing">0 - Midbrain neurons</text>
<circle cx="1678.8" cy="1128.5" r="12.2" fill="#ef8034"/>
<text x="1698.8" y="1134.5" font-size="16.8" textLength="264.4" lengthAdjust="spacing">1 - Cortical neurons, top layers</text>
<circle cx="1678.8" cy="1157.8" r="12.2" fill="#06935d"/>
<text x="1698.8" y="1163.8" font-size="16.8" textLength="237.2" lengthAdjust="spacing">2 - Neuroendocrine neurons</text>
<circle cx="1678.8" cy="1186" r="12.2" fill="#dc1f2e"/>
<text x="1698.8" y="1192.0" font-size="16.8" textLength="296.7" lengthAdjust="spacing">3 - Amygdalar and piriform neurons</text>
<circle cx="1678.8" cy="1215.3" r="12.2" fill="#745a99"/>
<text x="1698.8" y="1221.3" font-size="16.8" textLength="135.6" lengthAdjust="spacing">4 - White matter</text>
<circle cx="1678.8" cy="1244.2" r="12.2" fill="#8b5549"/>
<text x="1698.8" y="1250.2" font-size="16.8" textLength="178.0" lengthAdjust="spacing">5 - Thalamic neurons</text>
<circle cx="1678.8" cy="1272.4" r="12.2" fill="#d47bae"/>
<text x="1698.8" y="1278.4" font-size="16.8" textLength="259.5" lengthAdjust="spacing">6 - Hippocampal CA1 neurons,</text>
<text x="1724.6" y="1295.2" font-size="16.8" textLength="139.4" lengthAdjust="spacing">pyramidal layers</text>
<circle cx="1678.8" cy="1316.8" r="12.2" fill="#a2b061"/>
<text x="1698.8" y="1322.8" font-size="16.8" textLength="296.7" lengthAdjust="spacing">7 - Auditory and entorhinal neurons</text>
<circle cx="1678.8" cy="1345.4" r="12.2" fill="#08b2c8"/>
<text x="1698.8" y="1351.4" font-size="16.8" textLength="253.0" lengthAdjust="spacing">8 - Hippocampal CA3 neurons</text>
<circle cx="1678.8" cy="1374" r="12.2" fill="#9db8dc"/>
<text x="1698.8" y="1380.0" font-size="16.8" textLength="287.4" lengthAdjust="spacing">9 - Cortical neurons, bottom layers</text>
<circle cx="1678.8" cy="1403.7" r="12.2" fill="#f2ab72"/>
<text x="1698.8" y="1409.7" font-size="16.8" textLength="266.1" lengthAdjust="spacing">10 - Hippocampal CA1 neurons,</text>
<text x="1739.8" y="1426.5" font-size="16.8" textLength="140.7" lengthAdjust="spacing">stratum radiatum</text>
<circle cx="1678.8" cy="1444.3" r="12.2" fill="#88bd8a"/>
<text x="1698.8" y="1450.3" font-size="16.8" textLength="229.9" lengthAdjust="spacing">11 - Dentate gyrus neurons</text>
<circle cx="1678.8" cy="1473.2" r="12.2" fill="#e68684"/>
<text x="1698.8" y="1479.2" font-size="16.8" textLength="178.7" lengthAdjust="spacing">12 - Corpus callosum</text>
<circle cx="1678.8" cy="1502.8" r="12.2" fill="#ae9ec6"/>
<text x="1698.8" y="1508.8" font-size="16.8" textLength="185.9" lengthAdjust="spacing">13 - Neurovasculature</text>
<circle cx="1678.8" cy="1531" r="12.2" fill="#b58d86"/>
<text x="1698.8" y="1537.0" font-size="16.8" textLength="261.2" lengthAdjust="spacing">14 - Caudate/putamen neurons</text>
<circle cx="1678.8" cy="1559.6" r="12.2" fill="#eca8c4"/>
<text x="1698.8" y="1565.6" font-size="16.8" textLength="224.4" lengthAdjust="spacing">15 - Retrosplenial neurons</text>
<circle cx="1678.8" cy="1590" r="12.2" fill="#d1d58c"/>
<text x="1698.8" y="1596.0" font-size="16.8" textLength="202.7" lengthAdjust="spacing">16 - Choroid plexus and</text>
<text x="1736.7" y="1612.8" font-size="16.8" textLength="210.6" lengthAdjust="spacing">subventricular structures</text>
<circle cx="1678.8" cy="1631.2" r="12.2" fill="#86c8d6"/>
<text x="1698.8" y="1637.2" font-size="16.8" textLength="164.5" lengthAdjust="spacing">17 - Choroid plexus</text>
<text x="-1.8" y="1967.6" font-size="32">d</text>
<clipPath id="dclip0"><rect x="71.0" y="2006.4" width="439.8" height="382.5999999999999"/></clipPath>
<g clip-path="url(#dclip0)">
<rect x="71.0" y="2006.4" width="439.8" height="382.6" fill="#9fa2a5"/>
<path d="M500.7 2026.8h0M500.7 2043.6h0M500.7 2060.4h0M500.7 2077.2h0M500.7 2094.0h0M500.7 2110.8h0M500.7 2127.6h0M500.7 2144.4h0M500.7 2161.2h0M500.7 2178.0h0M500.7 2194.8h0M500.7 2211.6h0M500.7 2228.4h0M500.7 2245.2h0M500.7 2262.0h0M500.7 2278.8h0M500.7 2295.6h0M500.7 2312.4h0M500.7 2329.2h0M500.7 2346.0h0M500.7 2362.8h0M500.7 2379.6h0M506.3 2018.4h0M506.3 2035.2h0M506.3 2052.0h0M506.3 2068.8h0M506.3 2085.6h0M506.3 2102.4h0M506.3 2119.2h0M506.3 2136.0h0M506.3 2152.8h0M506.3 2169.6h0M506.3 2186.4h0M506.3 2203.2h0M506.3 2220.0h0M506.3 2236.8h0M506.3 2253.6h0M506.3 2270.4h0M506.3 2287.2h0M506.3 2304.0h0M506.3 2320.8h0M506.3 2337.6h0M506.3 2354.4h0M506.3 2371.2h0M506.3 2388.0h0M511.9 2026.8h0M511.9 2043.6h0M511.9 2060.4h0M511.9 2077.2h0M511.9 2094.0h0M511.9 2110.8h0M511.9 2127.6h0M511.9 2144.4h0M511.9 2161.2h0M511.9 2178.0h0M511.9 2194.8h0M511.9 2211.6h0M511.9 2228.4h0M511.9 2245.2h0M511.9 2262.0h0M511.9 2278.8h0M511.9 2295.6h0M511.9 2312.4h0M511.9 2329.2h0M511.9 2346.0h0M511.9 2362.8h0M511.9 2379.6h0" stroke="#878a90" stroke-width="7" stroke-linecap="round" fill="none"/>
<path d="M500.7 2026.8h0M500.7 2043.6h0M500.7 2060.4h0M500.7 2077.2h0M500.7 2094.0h0M500.7 2110.8h0M500.7 2127.6h0M500.7 2144.4h0M500.7 2161.2h0M500.7 2178.0h0M500.7 2194.8h0M500.7 2211.6h0M500.7 2228.4h0M500.7 2245.2h0M500.7 2262.0h0M500.7 2278.8h0M500.7 2295.6h0M500.7 2312.4h0M500.7 2329.2h0M500.7 2346.0h0M500.7 2362.8h0M500.7 2379.6h0M506.3 2018.4h0M506.3 2035.2h0M506.3 2052.0h0M506.3 2068.8h0M506.3 2085.6h0M506.3 2102.4h0M506.3 2119.2h0M506.3 2136.0h0M506.3 2152.8h0M506.3 2169.6h0M506.3 2186.4h0M506.3 2203.2h0M506.3 2220.0h0M506.3 2236.8h0M506.3 2253.6h0M506.3 2270.4h0M506.3 2287.2h0M506.3 2304.0h0M506.3 2320.8h0M506.3 2337.6h0M506.3 2354.4h0M506.3 2371.2h0M506.3 2388.0h0M511.9 2026.8h0M511.9 2043.6h0M511.9 2060.4h0M511.9 2077.2h0M511.9 2094.0h0M511.9 2110.8h0M511.9 2127.6h0M511.9 2144.4h0M511.9 2161.2h0M511.9 2178.0h0M511.9 2194.8h0M511.9 2211.6h0M511.9 2228.4h0M511.9 2245.2h0M511.9 2262.0h0M511.9 2278.8h0M511.9 2295.6h0M511.9 2312.4h0M511.9 2329.2h0M511.9 2346.0h0M511.9 2362.8h0M511.9 2379.6h0" stroke="#999ca1" stroke-width="4.2" stroke-linecap="round" fill="none"/>
<polygon points="88.0,2072.4 101.0,2068.4 131.0,2058.4 146.0,2056.4 189.0,2054.4 206.0,2053.4 211.0,2051.4 241.0,2051.4 271.0,2051.4 348.0,2050.4 367.0,2041.4 383.0,2046.4 408.0,2050.4 417.0,2061.4 430.0,2063.4 449.0,2071.4 461.0,2080.4 470.0,2092.4 480.0,2099.4 492.0,2114.4 501.0,2126.4 511.0,2136.4 511.0,2342.4 499.0,2348.4 480.0,2356.4 455.0,2349.9 417.0,2351.4 404.0,2358.4 379.0,2365.4 356.5,2358.4 329.0,2367.4 291.0,2372.4 228.5,2372.4 222.0,2375.4 149.0,2372.4 134.0,2367.4 119.0,2366.4 115.0,2361.4 116.0,2336.4 119.0,2317.4 124.0,2303.4 128.0,2285.4 133.0,2275.4 136.5,2257.9 141.5,2240.4 145.0,2222.4 139.0,2212.4 130.0,2197.4 121.0,2189.4 113.0,2182.4 94.0,2182.4 91.0,2146.4 90.0,2106.4 88.0,2076.4" fill="#783f71"/>
<polygon points="490.0,2112.4 501.0,2126.4 511.0,2136.4 511.0,2342.4 499.0,2348.4 490.0,2352.4" fill="#6c3666"/>
<polyline points="101.0,2066.9 131.0,2056.9 146.0,2054.9 189.0,2052.9 206.0,2051.9 211.0,2049.9 241.0,2049.9 271.0,2049.9 348.0,2048.9 367.0,2039.9 383.0,2044.9 408.0,2048.9 417.0,2059.9 430.0,2061.9 449.0,2069.9 461.0,2078.9 470.0,2090.9 480.0,2097.9 492.0,2112.9 501.0,2124.9 511.0,2134.9" fill="none" stroke="#3f1d3a" stroke-width="2.6" stroke-dasharray="5 1 2 3 1 2 6 2 1 4 3 1" stroke-opacity="0.7"/>
<path transform="translate(232.90,2184.00) scale(3.2400,5.6370)" d="M41 -25h0m2 0h0M38 -24h0m2 0h0m2 0h0m2 0h0m2 0h0m2 0h0m2 0h0M39 -23h0m2 0h0m2 0h0m2 0h0m2 0h0m2 0h0m2 0h0m2 0h0m2 0h0M38 -22h0m2 0h0m2 0h0m2 0h0m2 0h0m2 0h0m2 0h0m2 0h0m2 0h0m2 0h0M39 -21h0m2 0h0m2 0h0m2 0h0m2 0h0m2 0h0m2 0h0m2 0h0m2 0h0m2 0h0m2 0h0m2 0h0M44 -20h0m2 0h0m2 0h0m2 0h0m2 0h0m2 0h0m2 0h0m2 0h0m2 0h0m2 0h0m2 0h0m2 0h0M47 -19h0m2 0h0m2 0h0m2 0h0m2 0h0m2 0h0m2 0h0m2 0h0m2 0h0m2 0h0m2 0h0M48 -18h0m2 0h0m2 0h0m2 0h0m2 0h0m2 0h0m2 0h0m2 0h0m2 0h0m2 0h0m2 0h0m2 0h0M53 -17h0m2 0h0m2 0h0m2 0h0m2 0h0m2 0h0m2 0h0m2 0h0m2 0h0m2 0h0M56 -16h0m2 0h0m2 0h0m2 0h0m2 0h0m2 0h0m2 0h0m2 0h0m2 0h0M57 -15h0m2 0h0m2 0h0m2 0h0m2 0h0m2 0h0m2 0h0m2 0h0m2 0h0m2 0h0M60 -14h0m2 0h0m2 0h0m2 0h0m2 0h0m2 0h0m2 0h0m2 0h0m2 0h0M61 -13h0m2 0h0m2 0h0m2 0h0m2 0h0m2 0h0m2 0h0m2 0h0m2 0h0m2 0h0M62 -12h0m2 0h0m2 0h0m2 0h0m2 0h0m2 0h0m2 0h0m2 0h0m2 0h0M63 -11h0m2 0h0m2 0h0m2 0h0m2 0h0m2 0h0m2 0h0m2 0h0m2 0h0M66 -10h0m2 0h0m2 0h0m2 0h0m2 0h0m2 0h0m2 0h0M69 -9h0m2 0h0m2 0h0m2 0h0m2 0h0m2 0h0M70 -8h0m2 0h0m2 0h0m2 0h0m2 0h0M71 -7h0m2 0h0m2 0h0m2 0h0m2 0h0M72 -6h0m2 0h0m2 0h0m2 0h0M73 -5h0m2 0h0m2 0h0m2 0h0M74 -4h0m2 0h0m2 0h0M75 -3h0m2 0h0m2 0h0M78 -2h0M79 -1h0M70 28h0m2 0h0m2 0h0m2 0h0m2 0h0M71 29h0m2 0h0m2 0h0m2 0h0m2 0h0M74 30h0m2 0h0m2 0h0" stroke="#f6801f" stroke-width="4" stroke-linecap="round" vector-effect="non-scaling-stroke" fill="none"/>
<path transform="translate(232.90,2184.00) scale(3.2400,5.6370)" d="M-13 -23h0m2 0h0m2 0h0m46 0h0M-8 -22h0m44 0h0M20 -16h0m2 0h0m2 0h0m2 0h0m2 0h0M31 -15h0m2 0h0M34 -14h0M38 -12h0m4 0h0M48 -10h0M15 -9h0m10 0h0m24 0h0m6 0h0M16 -8h0m2 0h0m2 0h0m2 0h0m2 0h0m26 0h0m2 0h0m2 0h0m2 0h0M17 -7h0m2 0h0m2 0h0m2 0h0m2 0h0m24 0h0m2 0h0m2 0h0m4 0h0m2 0h0M24 -6h0m2 0h0m2 0h0m2 0h0m2 0h0m2 0h0m2 0h0m2 0h0m2 0h0M9 -5h0m6 0h0m12 0h0m2 0h0m8 0h0m2 0h0m2 0h0m20 0h0M6 -4h0m4 0h0m4 0h0m2 0h0m2 0h0m14 0h0m2 0h0m2 0h0m2 0h0m2 0h0m22 0h0m2 0h0M5 -3h0m2 0h0m2 0h0m2 0h0m2 0h0m2 0h0m4 0h0m2 0h0m12 0h0m4 0h0m2 0h0m2 0h0M4 -2h0m2 0h0m2 0h0m2 0h0m2 0h0m2 0h0m2 0h0m2 0h0m16 0h0m2 0h0m2 0h0m2 0h0M5 -1h0m2 0h0m2 0h0m2 0h0m2 0h0m2 0h0m2 0h0m2 0h0m2 0h0m2 0h0M4 0h0m2 0h0m2 0h0m2 0h0m2 0h0m2 0h0m2 0h0m2 0h0m2 0h0m2 0h0M-33 1h0m36 0h0m2 0h0m2 0h0m2 0h0m2 0h0m2 0h0m2 0h0m2 0h0m2 0h0m2 0h0m2 0h0M-24 2h0m2 0h0m24 0h0m2 0h0m2 0h0m2 0h0m2 0h0m2 0h0m2 0h0m2 0h0m2 0h0m2 0h0m2 0h0m2 0h0M-25 3h0m2 0h0m2 0h0m2 0h0m2 0h0m2 0h0m2 0h0m2 0h0m2 0h0m2 0h0m2 0h0m2 0h0m2 0h0m2 0h0m2 0h0m2 0h0m2 0h0m2 0h0m2 0h0m2 0h0m2 0h0m2 0h0m2 0h0m2 0h0m2 0h0m2 0h0m12 0h0M-14 4h0m2 0h0m2 0h0m2 0h0m2 0h0m2 0h0m2 0h0m2 0h0m2 0h0m2 0h0m4 0h0m2 0h0m26 0h0M-15 5h0m2 0h0m2 0h0m2 0h0m2 0h0m2 0h0m2 0h0m2 0h0m2 0h0m2 0h0m4 0h0m2 0h0m4 0h0m6 0h0m2 0h0m14 0h0m2 0h0M-14 6h0m2 0h0m2 0h0m2 0h0m2 0h0m2 0h0m2 0h0m2 0h0m2 0h0m2 0h0m4 0h0m16 0h0m2 0h0m6 0h0m4 0h0m2 0h0M33 7h0m2 0h0m2 0h0m2 0h0m2 0h0M-24 10h0m68 0h0M-27 11h0m2 0h0m32 0h0M-28 12h0m2 0h0M-29 13h0m2 0h0m2 0h0m32 0h0m38 0h0M-30 14h0m2 0h0m2 0h0m72 0h0m10 0h0m2 0h0m2 0h0m2 0h0M-29 15h0m2 0h0m2 0h0m32 0h0m48 0h0m2 0h0m6 0h0m2 0h0m2 0h0m2 0h0m2 0h0m2 0h0m2 0h0M-30 16h0m2 0h0m2 0h0m32 0h0m50 0h0m2 0h0m2 0h0m2 0h0m2 0h0m4 0h0m2 0h0m2 0h0m2 0h0m2 0h0M-31 17h0m2 0h0m2 0h0m32 0h0m50 0h0m2 0h0m2 0h0m2 0h0m2 0h0m2 0h0m2 0h0m2 0h0m2 0h0m2 0h0m2 0h0M-32 18h0m2 0h0m2 0h0m2 0h0m30 0h0m54 0h0m2 0h0M-31 19h0m2 0h0m2 0h0m30 0h0m52 0h0m2 0h0m2 0h0m2 0h0M-32 20h0m2 0h0m2 0h0m30 0h0m56 0h0m2 0h0M-33 21h0m2 0h0m2 0h0m84 0h0m2 0h0m2 0h0M-34 22h0m2 0h0m2 0h0m2 0h0m30 0h0m56 0h0m2 0h0m2 0h0M-33 23h0m2 0h0m2 0h0M-34 24h0m2 0h0m2 0h0m70 0h0m16 0h0m4 0h0M-35 25h0m2 0h0m2 0h0m70 0h0m16 0h0m2 0h0M-34 26h0m2 0h0m66 0h0m2 0h0m2 0h0m2 0h0m14 0h0m2 0h0m2 0h0m2 0h0m2 0h0M-35 27h0m2 0h0m2 0h0m62 0h0m2 0h0m2 0h0m2 0h0m2 0h0m2 0h0m2 0h0m10 0h0m2 0h0m2 0h0m2 0h0M-36 28h0m2 0h0m2 0h0M-35 29h0m2 0h0m2 0h0m82 0h0M-36 30h0m2 0h0m2 0h0m84 0h0M-35 31h0m2 0h0m2 0h0m60 0h0m22 0h0M-34 32h0m2 0h0m60 0h0m18 0h0M23 33h0" stroke="#8a62aa" stroke-width="4" stroke-linecap="round" vector-effect="non-scaling-stroke" fill="none"/>
<path transform="translate(232.90,2184.00) scale(3.2400,5.6370)" d="M-7 -23h0m2 0h0m2 0h0m2 0h0m2 0h0m2 0h0m2 0h0m2 0h0m2 0h0m2 0h0m2 0h0m2 0h0m2 0h0m2 0h0m2 0h0m2 0h0m2 0h0m2 0h0m2 0h0m2 0h0m2 0h0m2 0h0M-6 -22h0m2 0h0m2 0h0m2 0h0m2 0h0m2 0h0m2 0h0m2 0h0m2 0h0m2 0h0m2 0h0m2 0h0m2 0h0m2 0h0m2 0h0m2 0h0m2 0h0m2 0h0m2 0h0m2 0h0m2 0h0M-7 -21h0m2 0h0m2 0h0m2 0h0m2 0h0m2 0h0m2 0h0m2 0h0m2 0h0m2 0h0m2 0h0m2 0h0m2 0h0m2 0h0m2 0h0m2 0h0m2 0h0m2 0h0M-4 -20h0m2 0h0m2 0h0m2 0h0m2 0h0m2 0h0m2 0h0m2 0h0m2 0h0m2 0h0m2 0h0m2 0h0m2 0h0m2 0h0m2 0h0m2 0h0M-3 -19h0m2 0h0m2 0h0m2 0h0m2 0h0m2 0h0m2 0h0m2 0h0m2 0h0m2 0h0m2 0h0m2 0h0m2 0h0m2 0h0m2 0h0M-2 -18h0m2 0h0m2 0h0m2 0h0m2 0h0m2 0h0m2 0h0m2 0h0m2 0h0m2 0h0m2 0h0m2 0h0m2 0h0M-1 -17h0m2 0h0m2 0h0m2 0h0m2 0h0m2 0h0m2 0h0m2 0h0m2 0h0m2 0h0m2 0h0m2 0h0M4 -16h0m2 0h0m2 0h0m2 0h0m2 0h0m2 0h0m2 0h0m2 0h0M-34 -12h0m2 0h0m2 0h0m4 0h0m2 0h0m2 0h0m4 0h0m2 0h0M-35 -11h0m2 0h0m4 0h0m2 0h0m2 0h0m2 0h0m2 0h0m2 0h0m2 0h0M-26 -10h0M-31 -9h0m6 0h0M-32 -8h0m4 0h0m2 0h0M-33 -7h0m2 0h0m2 0h0m8 0h0M-24 -6h0m2 0h0m2 0h0M-31 -5h0m2 0h0M-29 -3h0m2 0h0M-32 -2h0m8 0h0M-29 -1h0m6 0h0m2 0h0M-27 1h0" stroke="#b4c85a" stroke-width="4" stroke-linecap="round" vector-effect="non-scaling-stroke" fill="none"/>
<path transform="translate(232.90,2184.00) scale(3.2400,5.6370)" d="M-32 -22h0m2 0h0m2 0h0m2 0h0m2 0h0m2 0h0m2 0h0m2 0h0m2 0h0m2 0h0m2 0h0m2 0h0M-37 -21h0m2 0h0m2 0h0m2 0h0m2 0h0m2 0h0m2 0h0m2 0h0m2 0h0m2 0h0m2 0h0m2 0h0m2 0h0m2 0h0m2 0h0M-42 -20h0m2 0h0m2 0h0m2 0h0m2 0h0m2 0h0m2 0h0m2 0h0m2 0h0m2 0h0m2 0h0m2 0h0m2 0h0m2 0h0m2 0h0m2 0h0m2 0h0m2 0h0m2 0h0M-43 -19h0m2 0h0m2 0h0m2 0h0m2 0h0m2 0h0m2 0h0m2 0h0m2 0h0m2 0h0m2 0h0m2 0h0m2 0h0m2 0h0m2 0h0m2 0h0m2 0h0m2 0h0m2 0h0m2 0h0M-44 -18h0m2 0h0m2 0h0m2 0h0m2 0h0m2 0h0m2 0h0m2 0h0m2 0h0m2 0h0m2 0h0m2 0h0m2 0h0m2 0h0m2 0h0m2 0h0m2 0h0m2 0h0m2 0h0m2 0h0m2 0h0M-43 -17h0m2 0h0m2 0h0m2 0h0m2 0h0m2 0h0m2 0h0m2 0h0m2 0h0m2 0h0m2 0h0m2 0h0m2 0h0m2 0h0m2 0h0m2 0h0m2 0h0m2 0h0m2 0h0m2 0h0m2 0h0M-44 -16h0m2 0h0m2 0h0m2 0h0m2 0h0m2 0h0m2 0h0m2 0h0m2 0h0m2 0h0m2 0h0m2 0h0m2 0h0m2 0h0m2 0h0m2 0h0m2 0h0m2 0h0m2 0h0m2 0h0m2 0h0m2 0h0m2 0h0m2 0h0M-43 -15h0m2 0h0m2 0h0m2 0h0m2 0h0m2 0h0m2 0h0m2 0h0m2 0h0m2 0h0m2 0h0m2 0h0m2 0h0m2 0h0m2 0h0m2 0h0m2 0h0m2 0h0m2 0h0m2 0h0m2 0h0m2 0h0m2 0h0m2 0h0m2 0h0M-44 -14h0m2 0h0m2 0h0m2 0h0m2 0h0m2 0h0m2 0h0m2 0h0m2 0h0m2 0h0m2 0h0m2 0h0m2 0h0m2 0h0m2 0h0m2 0h0m2 0h0m2 0h0m2 0h0m2 0h0m2 0h0m2 0h0m2 0h0m2 0h0m2 0h0m2 0h0M-43 -13h0m2 0h0m2 0h0m2 0h0m2 0h0m2 0h0m2 0h0m2 0h0m2 0h0m2 0h0m2 0h0m2 0h0m2 0h0m2 0h0m2 0h0m2 0h0m2 0h0m2 0h0m2 0h0m2 0h0m2 0h0m2 0h0m2 0h0m2 0h0m2 0h0M-44 -12h0m2 0h0m2 0h0m2 0h0m2 0h0m8 0h0m8 0h0m6 0h0m2 0h0m2 0h0m2 0h0m2 0h0m2 0h0m2 0h0m2 0h0m2 0h0m2 0h0M-43 -11h0m2 0h0m2 0h0m2 0h0m6 0h0m16 0h0m2 0h0m2 0h0m2 0h0m2 0h0m2 0h0m2 0h0m2 0h0m2 0h0m2 0h0M-42 -10h0m2 0h0m2 0h0m2 0h0m2 0h0m16 0h0m2 0h0m2 0h0m2 0h0m2 0h0m2 0h0m2 0h0m2 0h0m2 0h0m2 0h0m2 0h0M-43 -9h0m2 0h0m2 0h0m2 0h0m2 0h0m2 0h0m14 0h0m2 0h0m2 0h0m2 0h0m2 0h0m2 0h0m2 0h0m2 0h0m2 0h0m2 0h0m2 0h0m2 0h0M-42 -8h0m2 0h0m2 0h0m2 0h0m2 0h0m36 0h0m2 0h0M-43 -7h0m2 0h0m2 0h0m2 0h0m2 0h0m38 0h0M-42 -6h0m2 0h0m2 0h0m2 0h0M-43 -5h0m2 0h0m2 0h0m2 0h0m2 0h0M-42 -4h0m2 0h0m2 0h0m2 0h0M-43 -3h0m2 0h0m2 0h0m2 0h0m2 0h0M-42 -2h0m2 0h0m2 0h0m2 0h0M-41 -1h0m2 0h0m2 0h0m2 0h0M-36 0h0m2 0h0M-32 2h0m2 0h0m2 0h0M-31 3h0m2 0h0m2 0h0M-30 4h0m2 0h0" stroke="#e4202a" stroke-width="4" stroke-linecap="round" vector-effect="non-scaling-stroke" fill="none"/>
<path transform="translate(232.90,2184.00) scale(3.2400,5.6370)" d="M29 -21h0m2 0h0m2 0h0m2 0h0m2 0h0M28 -20h0m2 0h0m2 0h0m2 0h0m2 0h0m2 0h0m2 0h0m2 0h0M27 -19h0m2 0h0m2 0h0m2 0h0m2 0h0m2 0h0m2 0h0m2 0h0m2 0h0m2 0h0M24 -18h0m2 0h0m2 0h0m2 0h0m2 0h0m2 0h0m2 0h0m2 0h0m2 0h0m2 0h0m2 0h0m2 0h0M23 -17h0m2 0h0m2 0h0m2 0h0m2 0h0m2 0h0m2 0h0m2 0h0m2 0h0m2 0h0m2 0h0m2 0h0m2 0h0m2 0h0m2 0h0M30 -16h0m2 0h0m2 0h0m2 0h0m2 0h0m2 0h0m2 0h0m2 0h0m2 0h0m2 0h0m2 0h0m2 0h0m2 0h0M39 -15h0m2 0h0m2 0h0m2 0h0m2 0h0m2 0h0m2 0h0m2 0h0m2 0h0M42 -14h0m2 0h0m2 0h0m2 0h0m2 0h0m2 0h0m2 0h0m2 0h0m2 0h0M45 -13h0m2 0h0m2 0h0m2 0h0m2 0h0m2 0h0m2 0h0m2 0h0M48 -12h0m2 0h0m2 0h0m2 0h0m2 0h0m2 0h0m2 0h0M51 -11h0m2 0h0m2 0h0m2 0h0m2 0h0m2 0h0M54 -10h0m2 0h0m2 0h0m2 0h0m2 0h0m2 0h0M57 -9h0m2 0h0m2 0h0m2 0h0m2 0h0m2 0h0M58 -8h0m2 0h0m2 0h0m2 0h0m2 0h0m2 0h0M61 -7h0m2 0h0m2 0h0m2 0h0m2 0h0M62 -6h0m2 0h0m2 0h0m2 0h0m2 0h0M63 -5h0m2 0h0m2 0h0m2 0h0m2 0h0M66 -4h0m2 0h0m2 0h0m2 0h0M73 -3h0M74 -2h0m2 0h0M75 -1h0m2 0h0M76 0h0m2 0h0M77 1h0m2 0h0M78 2h0M77 3h0m2 0h0M78 4h0M77 5h0m2 0h0M78 6h0M77 7h0m2 0h0M78 8h0M77 9h0m2 0h0M78 10h0M77 11h0m2 0h0M78 12h0M77 13h0m2 0h0M78 14h0M77 15h0m2 0h0M78 16h0M77 17h0m2 0h0" stroke="#a8cbee" stroke-width="4" stroke-linecap="round" vector-effect="non-scaling-stroke" fill="none"/>
<path transform="translate(232.90,2184.00) scale(3.2400,5.6370)" d="M7 -15h0m2 0h0m2 0h0m2 0h0m2 0h0m2 0h0m2 0h0m2 0h0m2 0h0m2 0h0m2 0h0m2 0h0M8 -14h0m2 0h0m2 0h0m2 0h0m2 0h0m2 0h0m2 0h0m2 0h0m2 0h0m2 0h0m2 0h0m2 0h0m2 0h0m4 0h0M7 -13h0m2 0h0m2 0h0m2 0h0m2 0h0m2 0h0m2 0h0m2 0h0m2 0h0m2 0h0m2 0h0m2 0h0m2 0h0m2 0h0M6 -12h0m2 0h0m2 0h0m2 0h0m2 0h0m2 0h0m2 0h0m2 0h0m2 0h0m2 0h0m2 0h0m2 0h0m2 0h0m2 0h0m2 0h0m2 0h0M5 -11h0m2 0h0m2 0h0m2 0h0m2 0h0m2 0h0m2 0h0m2 0h0m2 0h0m2 0h0m2 0h0m2 0h0m2 0h0m2 0h0m2 0h0m2 0h0m2 0h0m2 0h0m2 0h0m4 0h0M4 -10h0m2 0h0m2 0h0m2 0h0m2 0h0m2 0h0m2 0h0m2 0h0m2 0h0m2 0h0m2 0h0m2 0h0m2 0h0m2 0h0m2 0h0m2 0h0m2 0h0m2 0h0m2 0h0m2 0h0m2 0h0m6 0h0M5 -9h0m2 0h0m2 0h0m2 0h0m2 0h0m4 0h0m2 0h0m2 0h0m2 0h0m4 0h0m2 0h0m2 0h0m2 0h0m2 0h0m2 0h0m2 0h0m2 0h0m2 0h0m2 0h0M6 -8h0m2 0h0m2 0h0m2 0h0m2 0h0m12 0h0m2 0h0m2 0h0m2 0h0m2 0h0m2 0h0m2 0h0m2 0h0m2 0h0m2 0h0m2 0h0M5 -7h0m2 0h0m2 0h0m2 0h0m2 0h0m2 0h0m12 0h0m2 0h0m2 0h0m2 0h0m2 0h0m2 0h0m2 0h0m2 0h0m2 0h0m2 0h0m2 0h0M20 -6h0m2 0h0" stroke="#d2a28c" stroke-width="4" stroke-linecap="round" vector-effect="non-scaling-stroke" fill="none"/>
<path transform="translate(232.90,2184.00) scale(3.2400,5.6370)" d="M35 -15h0m2 0h0M38 -14h0m2 0h0M35 -13h0m2 0h0m2 0h0m2 0h0m2 0h0M40 -12h0m4 0h0m2 0h0M43 -11h0m4 0h0m2 0h0M46 -10h0m6 0h0M47 -9h0m4 0h0m2 0h0M48 -8h0M55 -7h0M52 -6h0M47 -5h0m4 0h0m2 0h0m2 0h0m2 0h0M48 -4h0m2 0h0m8 0h0m2 0h0M45 -3h0m2 0h0M71 5h0m2 0h0M64 6h0m8 0h0m4 0h0M55 7h0m6 0h0m8 0h0m6 0h0M68 8h0m2 0h0m2 0h0m2 0h0m2 0h0M55 9h0m2 0h0m4 0h0m10 0h0m2 0h0m2 0h0M70 10h0m2 0h0m2 0h0M59 11h0m2 0h0m8 0h0m6 0h0M68 12h0m2 0h0m2 0h0m2 0h0M63 13h0m6 0h0m4 0h0m2 0h0M68 14h0m4 0h0m2 0h0m2 0h0" stroke="#f09088" stroke-width="4" stroke-linecap="round" vector-effect="non-scaling-stroke" fill="none"/>
<path transform="translate(232.90,2184.00) scale(3.2400,5.6370)" d="M-32 -10h0m2 0h0m2 0h0m4 0h0m2 0h0m2 0h0M-29 -9h0m2 0h0m4 0h0m2 0h0M-30 -8h0m6 0h0m2 0h0m2 0h0M49 -5h0M46 -4h0m6 0h0M49 -3h0m2 0h0M53 5h0m2 0h0m2 0h0m2 0h0m2 0h0m2 0h0M52 6h0m2 0h0m2 0h0m2 0h0m2 0h0m2 0h0M53 7h0m4 0h0m2 0h0m4 0h0M54 8h0m2 0h0m2 0h0m2 0h0m2 0h0m2 0h0M59 9h0m4 0h0M58 10h0m2 0h0m2 0h0m2 0h0M63 11h0M62 12h0m2 0h0" stroke="#f8b068" stroke-width="4" stroke-linecap="round" vector-effect="non-scaling-stroke" fill="none"/>
<path transform="translate(232.90,2184.00) scale(3.2400,5.6370)" d="M-18 -8h0m2 0h0m2 0h0m2 0h0m2 0h0m2 0h0m2 0h0m2 0h0m2 0h0m2 0h0M-19 -7h0m2 0h0m2 0h0m2 0h0m2 0h0m2 0h0m2 0h0m2 0h0m2 0h0m2 0h0m2 0h0M-18 -6h0m2 0h0m2 0h0m2 0h0m2 0h0m2 0h0m2 0h0m2 0h0m2 0h0m2 0h0m2 0h0m2 0h0M-19 -5h0m2 0h0m2 0h0m2 0h0m2 0h0m2 0h0m2 0h0m2 0h0m2 0h0m2 0h0m2 0h0m2 0h0m2 0h0M-20 -4h0m2 0h0m2 0h0m2 0h0m2 0h0m2 0h0m2 0h0m2 0h0m2 0h0m2 0h0m2 0h0m2 0h0m2 0h0M-19 -3h0m2 0h0m2 0h0m2 0h0m2 0h0m2 0h0m2 0h0m2 0h0m2 0h0m2 0h0m2 0h0m2 0h0M-20 -2h0m2 0h0m2 0h0m2 0h0m2 0h0m2 0h0m2 0h0m2 0h0m2 0h0m2 0h0m2 0h0m2 0h0M-19 -1h0m2 0h0m2 0h0m2 0h0m2 0h0m2 0h0m2 0h0m2 0h0m2 0h0m2 0h0m2 0h0m2 0h0M-20 0h0m2 0h0m2 0h0m2 0h0m2 0h0m2 0h0m2 0h0m2 0h0m2 0h0m2 0h0m2 0h0m2 0h0M-23 1h0m2 0h0m2 0h0m2 0h0m2 0h0m2 0h0m2 0h0m2 0h0m2 0h0m2 0h0m2 0h0m2 0h0m2 0h0M-20 2h0m2 0h0m2 0h0m2 0h0m2 0h0m2 0h0m2 0h0m2 0h0m2 0h0m2 0h0m2 0h0M-21 7h0m6 0h0m2 0h0m6 0h0M-22 8h0m2 0h0m2 0h0m12 0h0m8 0h0m2 0h0m2 0h0M-13 9h0m2 0h0m2 0h0m2 0h0m2 0h0m2 0h0m6 0h0M-18 10h0m2 0h0m2 0h0m2 0h0m2 0h0m6 0h0m2 0h0m2 0h0m2 0h0m2 0h0M-21 11h0m8 0h0m2 0h0m2 0h0m4 0h0m8 0h0M-20 12h0m4 0h0m4 0h0m2 0h0m4 0h0m2 0h0m2 0h0m2 0h0m4 0h0M-21 13h0m2 0h0m4 0h0m2 0h0m2 0h0m8 0h0m2 0h0M-24 14h0m6 0h0m2 0h0m2 0h0m2 0h0m2 0h0m2 0h0m2 0h0m2 0h0m4 0h0m4 0h0m2 0h0M-23 15h0m2 0h0m2 0h0m2 0h0m2 0h0m2 0h0m2 0h0m2 0h0m2 0h0m12 0h0M-24 16h0m2 0h0m2 0h0m2 0h0m2 0h0m2 0h0m2 0h0m2 0h0m2 0h0m2 0h0M-25 17h0m2 0h0m2 0h0m2 0h0m2 0h0m2 0h0m2 0h0m2 0h0m2 0h0m2 0h0m2 0h0m8 0h0M-24 18h0m2 0h0m2 0h0m2 0h0m2 0h0m2 0h0m2 0h0m2 0h0m2 0h0m2 0h0M-25 19h0m2 0h0m2 0h0m2 0h0m2 0h0m2 0h0m2 0h0m2 0h0m2 0h0m2 0h0m2 0h0M-26 20h0m2 0h0m2 0h0m2 0h0m2 0h0m2 0h0m2 0h0m2 0h0m2 0h0m2 0h0m2 0h0m2 0h0m2 0h0M-27 21h0m2 0h0m2 0h0m2 0h0m2 0h0m2 0h0m2 0h0m2 0h0m2 0h0m2 0h0m2 0h0m2 0h0m2 0h0m2 0h0m2 0h0M-26 22h0m2 0h0m2 0h0m2 0h0m4 0h0m2 0h0m2 0h0m2 0h0m2 0h0m2 0h0m2 0h0m2 0h0m2 0h0M-27 23h0m2 0h0m2 0h0m2 0h0m2 0h0m2 0h0m2 0h0m2 0h0m2 0h0m2 0h0m2 0h0m2 0h0m2 0h0m2 0h0m2 0h0M-28 24h0m2 0h0m2 0h0m2 0h0m2 0h0m2 0h0m2 0h0m2 0h0m2 0h0m2 0h0m2 0h0m2 0h0m2 0h0m2 0h0m2 0h0M-29 25h0m2 0h0m2 0h0m2 0h0m2 0h0m2 0h0m2 0h0m2 0h0m2 0h0m2 0h0m2 0h0m2 0h0m2 0h0m2 0h0m2 0h0m2 0h0M-30 26h0m2 0h0m2 0h0m2 0h0m2 0h0m2 0h0m2 0h0m2 0h0m2 0h0m2 0h0m2 0h0m2 0h0m2 0h0m2 0h0m2 0h0m2 0h0M-29 27h0m2 0h0m2 0h0m2 0h0m2 0h0m2 0h0m2 0h0m2 0h0m2 0h0m2 0h0m2 0h0m2 0h0m2 0h0m2 0h0m2 0h0M-30 28h0m2 0h0m2 0h0m2 0h0m2 0h0m2 0h0m2 0h0m2 0h0m2 0h0m2 0h0m2 0h0m2 0h0m2 0h0m2 0h0m2 0h0m2 0h0M-29 29h0m2 0h0m2 0h0m2 0h0m2 0h0m2 0h0m2 0h0m2 0h0m2 0h0m2 0h0m2 0h0m2 0h0m2 0h0m2 0h0m2 0h0M-30 30h0m2 0h0m2 0h0m2 0h0m2 0h0m2 0h0m2 0h0m2 0h0m2 0h0m2 0h0m2 0h0m2 0h0m2 0h0m2 0h0m2 0h0M-29 31h0m2 0h0m2 0h0m2 0h0m2 0h0m2 0h0m2 0h0m2 0h0m2 0h0m2 0h0m2 0h0m2 0h0m2 0h0m2 0h0m2 0h0M-30 32h0m2 0h0m2 0h0m2 0h0m2 0h0m2 0h0m2 0h0m2 0h0m2 0h0m2 0h0m2 0h0m2 0h0m2 0h0m2 0h0m2 0h0M-27 33h0m2 0h0m2 0h0m2 0h0m2 0h0m2 0h0m2 0h0m2 0h0m2 0h0m2 0h0m2 0h0m2 0h0m2 0h0" stroke="#0fa058" stroke-width="4" stroke-linecap="round" vector-effect="non-scaling-stroke" fill="none"/>
<path transform="translate(232.90,2184.00) scale(3.2400,5.6370)" d="M-27 -7h0m2 0h0m2 0h0M-34 -6h0m2 0h0m2 0h0m2 0h0m2 0h0M-33 -5h0m6 0h0m2 0h0m2 0h0m2 0h0M-34 -4h0m2 0h0m2 0h0m2 0h0m2 0h0m2 0h0m2 0h0M-33 -3h0m2 0h0m6 0h0m2 0h0m2 0h0M-34 -2h0m4 0h0m2 0h0m2 0h0m4 0h0M-33 -1h0m2 0h0m4 0h0m2 0h0M-32 0h0m2 0h0m2 0h0m2 0h0m2 0h0m2 0h0M-31 1h0m2 0h0m4 0h0M-26 2h0M-26 4h0m2 0h0m2 0h0m2 0h0m2 0h0m2 0h0M-29 5h0m2 0h0m2 0h0m2 0h0m2 0h0m2 0h0m2 0h0M-26 6h0m2 0h0m2 0h0m2 0h0m2 0h0m2 0h0M-27 7h0m2 0h0m2 0h0M-26 8h0m2 0h0M-27 9h0m2 0h0M-28 10h0m2 0h0M52 28h0m2 0h0m2 0h0m2 0h0m2 0h0m2 0h0m2 0h0m2 0h0m2 0h0M53 29h0m2 0h0m2 0h0m2 0h0m2 0h0m2 0h0m2 0h0m2 0h0M54 30h0" stroke="#dccbe6" stroke-width="4" stroke-linecap="round" vector-effect="non-scaling-stroke" fill="none"/>
<path transform="translate(232.90,2184.00) scale(3.2400,5.6370)" d="M6 -6h0m2 0h0m2 0h0m2 0h0m2 0h0m2 0h0m2 0h0M7 -5h0m4 0h0m2 0h0m4 0h0m2 0h0m2 0h0m2 0h0m2 0h0m6 0h0m2 0h0m2 0h0M8 -4h0m4 0h0m8 0h0m2 0h0m2 0h0m2 0h0m2 0h0m2 0h0M17 -3h0m6 0h0m2 0h0m2 0h0m2 0h0m2 0h0m4 0h0M20 -2h0m2 0h0M6 4h0m6 0h0m2 0h0m2 0h0m2 0h0m2 0h0m2 0h0m2 0h0m2 0h0M5 5h0m6 0h0m4 0h0m2 0h0m6 0h0m2 0h0m2 0h0m2 0h0m2 0h0M6 6h0m4 0h0m2 0h0m2 0h0m2 0h0m2 0h0m2 0h0m2 0h0m6 0h0m2 0h0m4 0h0M-19 7h0m2 0h0m6 0h0m2 0h0m4 0h0m2 0h0m2 0h0m2 0h0m2 0h0m2 0h0m2 0h0m2 0h0m2 0h0m2 0h0m2 0h0m2 0h0m2 0h0m2 0h0m2 0h0m2 0h0m2 0h0m2 0h0m2 0h0M-16 8h0m2 0h0m2 0h0m2 0h0m2 0h0m4 0h0m2 0h0m2 0h0m8 0h0m2 0h0m2 0h0m2 0h0m2 0h0M-23 9h0m2 0h0m2 0h0m2 0h0m2 0h0m14 0h0m2 0h0m4 0h0m2 0h0m2 0h0m2 0h0M-22 10h0m2 0h0m12 0h0m2 0h0m12 0h0m2 0h0M-23 11h0m4 0h0m2 0h0m2 0h0m8 0h0m4 0h0m2 0h0m2 0h0m4 0h0M-24 12h0m2 0h0m4 0h0m4 0h0m6 0h0m10 0h0m4 0h0M-23 13h0m6 0h0m8 0h0m2 0h0m2 0h0m6 0h0m2 0h0m2 0h0M-22 14h0m2 0h0m18 0h0m4 0h0M-5 15h0m6 0h0m2 0h0M2 16h0m2 0h0M2 18h0" stroke="#1a7cc4" stroke-width="4" stroke-linecap="round" vector-effect="non-scaling-stroke" fill="none"/>
<path transform="translate(232.90,2184.00) scale(3.2400,5.6370)" d="M42 -6h0m2 0h0m2 0h0m2 0h0m2 0h0m4 0h0m2 0h0m2 0h0m2 0h0M43 -5h0M42 -4h0m14 0h0M42 -2h0m2 0h0m6 0h0M37 -1h0m2 0h0m2 0h0m2 0h0m2 0h0m2 0h0m2 0h0m2 0h0M38 0h0m2 0h0m2 0h0m2 0h0m2 0h0m2 0h0m2 0h0m2 0h0M37 1h0m2 0h0m2 0h0m2 0h0m2 0h0m2 0h0m2 0h0m2 0h0M38 2h0m2 0h0m2 0h0m2 0h0m2 0h0m2 0h0m2 0h0m2 0h0M39 3h0m2 0h0m2 0h0m2 0h0m2 0h0m2 0h0m2 0h0M38 4h0m2 0h0m2 0h0m2 0h0m2 0h0m2 0h0m2 0h0m2 0h0M39 5h0m2 0h0m2 0h0m2 0h0m2 0h0m2 0h0m2 0h0M40 6h0m2 0h0m2 0h0m2 0h0m2 0h0m2 0h0M43 7h0m2 0h0m2 0h0m2 0h0m2 0h0M44 8h0m2 0h0m2 0h0m2 0h0m2 0h0M45 9h0m2 0h0m2 0h0m2 0h0M46 10h0m2 0h0m2 0h0m2 0h0M45 11h0m2 0h0m2 0h0m2 0h0M46 12h0m2 0h0m2 0h0m2 0h0M47 13h0m2 0h0m2 0h0M48 14h0" stroke="#12bcd2" stroke-width="4" stroke-linecap="round" vector-effect="non-scaling-stroke" fill="none"/>
<path transform="translate(232.90,2184.00) scale(3.2400,5.6370)" d="M45 -5h0m14 0h0M44 -4h0m10 0h0M43 -3h0M46 -2h0m2 0h0m4 0h0" stroke="#a0e0ea" stroke-width="4" stroke-linecap="round" vector-effect="non-scaling-stroke" fill="none"/>
<path transform="translate(232.90,2184.00) scale(3.2400,5.6370)" d="M53 -3h0m2 0h0m2 0h0m2 0h0m2 0h0m2 0h0m2 0h0m2 0h0m2 0h0m2 0h0M54 -2h0m2 0h0m2 0h0m2 0h0m2 0h0m2 0h0m2 0h0m2 0h0m2 0h0m2 0h0M53 -1h0m2 0h0m2 0h0m2 0h0m2 0h0m2 0h0m2 0h0m2 0h0m2 0h0m2 0h0m2 0h0M54 0h0m2 0h0m2 0h0m2 0h0m2 0h0m2 0h0m2 0h0m2 0h0m2 0h0m2 0h0m2 0h0M53 1h0m2 0h0m2 0h0m2 0h0m2 0h0m2 0h0m2 0h0m2 0h0m2 0h0m2 0h0m2 0h0m2 0h0M54 2h0m2 0h0m2 0h0m2 0h0m2 0h0m2 0h0m2 0h0m2 0h0m2 0h0m2 0h0m2 0h0m2 0h0M53 3h0m2 0h0m2 0h0m2 0h0m2 0h0m2 0h0m2 0h0m2 0h0m2 0h0m2 0h0m2 0h0m2 0h0M54 4h0m2 0h0m2 0h0m2 0h0m2 0h0m2 0h0m2 0h0m2 0h0m2 0h0m2 0h0m2 0h0m2 0h0M65 5h0m2 0h0m2 0h0m6 0h0M66 6h0m2 0h0m2 0h0m4 0h0M65 7h0m2 0h0m4 0h0m2 0h0M66 8h0M65 9h0m2 0h0m2 0h0M66 10h0m2 0h0m8 0h0M65 11h0m2 0h0m4 0h0m2 0h0M66 12h0m10 0h0M65 13h0m2 0h0m4 0h0M64 14h0m2 0h0m4 0h0M59 15h0m2 0h0M66 16h0M56 18h0m6 0h0M56 20h0m6 0h0M61 21h0M56 22h0M55 23h0m2 0h0m2 0h0m2 0h0M58 24h0m4 0h0M59 25h0m2 0h0M61 27h0" stroke="#dc74b4" stroke-width="4" stroke-linecap="round" vector-effect="non-scaling-stroke" fill="none"/>
<path transform="translate(232.90,2184.00) scale(3.2400,5.6370)" d="M24 -2h0m2 0h0m2 0h0m2 0h0m2 0h0M25 -1h0m2 0h0m2 0h0m2 0h0m2 0h0m2 0h0M24 0h0m2 0h0m2 0h0m2 0h0m2 0h0m2 0h0m2 0h0M25 1h0m2 0h0m2 0h0m2 0h0m2 0h0m2 0h0M26 2h0m2 0h0m2 0h0m2 0h0m2 0h0m2 0h0M27 3h0m2 0h0m2 0h0m2 0h0m2 0h0M28 4h0m2 0h0m2 0h0m2 0h0M33 5h0M30 28h0m2 0h0m2 0h0m2 0h0m2 0h0m2 0h0m2 0h0m2 0h0m2 0h0m2 0h0m2 0h0M31 29h0m2 0h0m2 0h0m2 0h0m2 0h0m2 0h0m2 0h0m2 0h0m2 0h0m2 0h0M30 30h0m2 0h0m2 0h0m2 0h0m2 0h0m2 0h0m2 0h0m2 0h0m2 0h0m2 0h0m2 0h0M31 31h0m2 0h0m2 0h0m2 0h0m2 0h0m2 0h0m2 0h0m2 0h0m2 0h0m2 0h0M30 32h0m2 0h0" stroke="#e4e47a" stroke-width="4" stroke-linecap="round" vector-effect="non-scaling-stroke" fill="none"/>
<path transform="translate(232.90,2184.00) scale(3.2400,5.6370)" d="M18 8h0m2 0h0m2 0h0m2 0h0m2 0h0m2 0h0m2 0h0m2 0h0m2 0h0m2 0h0m2 0h0m2 0h0m2 0h0M13 9h0m2 0h0m2 0h0m2 0h0m2 0h0m2 0h0m2 0h0m2 0h0m2 0h0m2 0h0m2 0h0m2 0h0m2 0h0m2 0h0m2 0h0m2 0h0M10 10h0m2 0h0m2 0h0m2 0h0m2 0h0m2 0h0m2 0h0m2 0h0m2 0h0m2 0h0m2 0h0m2 0h0m2 0h0m2 0h0m2 0h0m2 0h0m2 0h0M9 11h0m2 0h0m2 0h0m2 0h0m2 0h0m2 0h0m2 0h0m2 0h0m2 0h0m2 0h0m2 0h0m2 0h0m2 0h0m2 0h0m2 0h0m2 0h0m2 0h0m2 0h0M8 12h0m2 0h0m2 0h0m2 0h0m2 0h0m2 0h0m2 0h0m2 0h0m2 0h0m2 0h0m2 0h0m2 0h0m2 0h0m2 0h0m2 0h0m2 0h0m2 0h0m2 0h0m2 0h0M9 13h0m2 0h0m2 0h0m2 0h0m2 0h0m2 0h0m2 0h0m2 0h0m2 0h0m2 0h0m2 0h0m2 0h0m2 0h0m2 0h0m2 0h0m2 0h0m2 0h0m2 0h0M8 14h0m2 0h0m2 0h0m2 0h0m2 0h0m2 0h0m2 0h0m2 0h0m2 0h0m2 0h0m2 0h0m2 0h0m2 0h0m2 0h0m2 0h0m2 0h0m2 0h0m2 0h0m2 0h0M9 15h0m2 0h0m2 0h0m2 0h0m2 0h0m2 0h0m2 0h0m2 0h0m2 0h0m2 0h0m2 0h0m2 0h0m2 0h0m2 0h0m2 0h0m2 0h0m2 0h0m2 0h0M8 16h0m2 0h0m2 0h0m2 0h0m2 0h0m2 0h0m2 0h0m2 0h0m2 0h0m2 0h0m2 0h0m2 0h0m2 0h0m2 0h0m2 0h0m2 0h0m2 0h0m2 0h0M7 17h0m2 0h0m2 0h0m2 0h0m2 0h0m2 0h0m2 0h0m2 0h0m2 0h0m2 0h0m2 0h0m2 0h0m2 0h0m2 0h0m2 0h0m2 0h0m2 0h0m2 0h0M6 18h0m2 0h0m2 0h0m2 0h0m2 0h0m2 0h0m2 0h0m2 0h0m2 0h0m2 0h0m2 0h0m2 0h0m2 0h0m2 0h0m2 0h0m2 0h0m2 0h0m2 0h0m2 0h0M5 19h0m2 0h0m2 0h0m2 0h0m2 0h0m2 0h0m2 0h0m2 0h0m2 0h0m2 0h0m2 0h0m2 0h0m2 0h0m2 0h0m2 0h0m2 0h0m2 0h0m2 0h0m2 0h0M4 20h0m2 0h0m2 0h0m2 0h0m2 0h0m2 0h0m2 0h0m2 0h0m2 0h0m2 0h0m2 0h0m2 0h0m2 0h0m2 0h0m2 0h0m2 0h0m2 0h0m2 0h0m2 0h0M3 21h0m2 0h0m2 0h0m2 0h0m2 0h0m2 0h0m2 0h0m2 0h0m2 0h0m2 0h0m2 0h0m2 0h0m2 0h0m2 0h0m2 0h0m2 0h0m2 0h0m2 0h0m2 0h0M4 22h0m2 0h0m2 0h0m2 0h0m2 0h0m2 0h0m2 0h0m2 0h0m2 0h0m2 0h0m2 0h0m2 0h0m2 0h0m2 0h0m2 0h0m2 0h0m2 0h0m2 0h0M3 23h0m2 0h0m2 0h0m2 0h0m2 0h0m2 0h0m2 0h0m2 0h0m2 0h0m2 0h0m2 0h0m2 0h0m2 0h0m2 0h0m2 0h0m2 0h0m2 0h0m2 0h0m2 0h0M2 24h0m2 0h0m2 0h0m2 0h0m2 0h0m2 0h0m2 0h0m2 0h0m2 0h0m2 0h0m2 0h0m2 0h0m2 0h0m2 0h0m2 0h0m2 0h0m2 0h0m2 0h0m2 0h0M3 25h0m2 0h0m2 0h0m2 0h0m2 0h0m2 0h0m2 0h0m2 0h0m2 0h0m2 0h0m2 0h0m2 0h0m2 0h0m2 0h0m2 0h0m2 0h0m2 0h0m2 0h0M2 26h0m2 0h0m2 0h0m2 0h0m2 0h0m2 0h0m2 0h0m2 0h0m2 0h0m2 0h0m2 0h0m2 0h0m2 0h0m2 0h0m2 0h0m2 0h0M1 27h0m2 0h0m2 0h0m2 0h0m2 0h0m2 0h0m2 0h0m2 0h0m2 0h0m2 0h0m2 0h0m2 0h0m2 0h0m2 0h0m2 0h0M2 28h0m2 0h0m2 0h0m2 0h0m2 0h0m2 0h0m2 0h0m2 0h0m2 0h0m2 0h0m2 0h0m2 0h0m2 0h0m2 0h0M1 29h0m2 0h0m2 0h0m2 0h0m2 0h0m2 0h0m2 0h0m2 0h0m2 0h0m2 0h0m2 0h0m2 0h0m2 0h0m2 0h0m2 0h0M0 30h0m2 0h0m2 0h0m2 0h0m2 0h0m2 0h0m2 0h0m2 0h0m2 0h0m2 0h0m2 0h0m2 0h0m2 0h0m2 0h0m2 0h0M1 31h0m2 0h0m2 0h0m2 0h0m2 0h0m2 0h0m2 0h0m2 0h0m2 0h0m2 0h0m2 0h0m2 0h0m2 0h0m2 0h0M0 32h0m2 0h0m2 0h0m2 0h0m2 0h0m2 0h0m2 0h0m2 0h0m2 0h0m2 0h0m2 0h0m2 0h0m2 0h0m2 0h0M-1 33h0m2 0h0m2 0h0m2 0h0m2 0h0m2 0h0m2 0h0m2 0h0m2 0h0m2 0h0m2 0h0m2 0h0" stroke="#9a5a3e" stroke-width="4" stroke-linecap="round" vector-effect="non-scaling-stroke" fill="none"/>
<path transform="translate(232.90,2184.00) scale(3.2400,5.6370)" d="M53 9h0M54 10h0m2 0h0M53 11h0m2 0h0m2 0h0M54 12h0m2 0h0m2 0h0m2 0h0M53 13h0m2 0h0m2 0h0m2 0h0m2 0h0M50 14h0m2 0h0m2 0h0M45 15h0m2 0h0m2 0h0m2 0h0m2 0h0M44 16h0m2 0h0m2 0h0m2 0h0m2 0h0m2 0h0M43 17h0m2 0h0m2 0h0m2 0h0m2 0h0m2 0h0M44 18h0m2 0h0m2 0h0m2 0h0m2 0h0m2 0h0M43 19h0m2 0h0m2 0h0m2 0h0m2 0h0m2 0h0M42 20h0m2 0h0m2 0h0m2 0h0m2 0h0m2 0h0m2 0h0M41 21h0m2 0h0m2 0h0m2 0h0m2 0h0m2 0h0m2 0h0M40 22h0m2 0h0m2 0h0m2 0h0m2 0h0m2 0h0m2 0h0m2 0h0M41 23h0m2 0h0m2 0h0m2 0h0m2 0h0m2 0h0m2 0h0M42 24h0m2 0h0m2 0h0m2 0h0m2 0h0m2 0h0m2 0h0M41 25h0m2 0h0m2 0h0m2 0h0m2 0h0m2 0h0m2 0h0M42 26h0m2 0h0m2 0h0m2 0h0m2 0h0m2 0h0M45 27h0m2 0h0m2 0h0m2 0h0" stroke="#8cd08a" stroke-width="4" stroke-linecap="round" vector-effect="non-scaling-stroke" fill="none"/>
<path transform="translate(232.90,2184.00) scale(3.2400,5.6370)" d="M64 18h0m2 0h0m2 0h0m2 0h0m2 0h0m2 0h0m2 0h0m2 0h0M63 19h0m2 0h0m2 0h0m2 0h0m2 0h0m2 0h0m2 0h0m2 0h0m2 0h0M64 20h0m2 0h0m2 0h0m2 0h0m2 0h0m2 0h0m2 0h0m2 0h0M63 21h0m2 0h0m2 0h0m2 0h0m2 0h0m2 0h0m2 0h0m2 0h0m2 0h0M64 22h0m2 0h0m2 0h0m2 0h0m2 0h0m2 0h0m2 0h0m2 0h0M63 23h0m2 0h0m2 0h0m2 0h0m2 0h0m2 0h0m2 0h0m2 0h0m2 0h0M64 24h0m2 0h0m2 0h0m2 0h0m2 0h0m2 0h0m2 0h0m2 0h0M63 25h0m2 0h0m2 0h0m2 0h0m2 0h0m2 0h0m2 0h0m2 0h0m2 0h0M64 26h0m2 0h0m2 0h0m2 0h0m2 0h0m2 0h0m2 0h0m2 0h0M63 27h0m2 0h0m2 0h0m2 0h0m2 0h0m2 0h0m2 0h0m2 0h0m2 0h0M69 29h0" stroke="#f4b4ce" stroke-width="4" stroke-linecap="round" vector-effect="non-scaling-stroke" fill="none"/>
<polygon points="216.0,2270.4 223.0,2266.4 233.0,2268.4 237.0,2281.4 236.0,2296.4 229.0,2298.4 221.0,2291.4" fill="#9fa2a5"/>
<polygon points="171.0,2303.4 175.0,2301.4 178.0,2305.4 174.0,2309.4" fill="#9fa2a5"/>
</g>
<clipPath id="dclip1"><rect x="543.1" y="2006.4" width="439.8" height="382.5999999999999"/></clipPath>
<g clip-path="url(#dclip1)">
<rect x="543.1" y="2006.4" width="439.8" height="382.6" fill="#9fa2a5"/>
<path d="M972.8 2026.8h0M972.8 2043.6h0M972.8 2060.4h0M972.8 2077.2h0M972.8 2094.0h0M972.8 2110.8h0M972.8 2127.6h0M972.8 2144.4h0M972.8 2161.2h0M972.8 2178.0h0M972.8 2194.8h0M972.8 2211.6h0M972.8 2228.4h0M972.8 2245.2h0M972.8 2262.0h0M972.8 2278.8h0M972.8 2295.6h0M972.8 2312.4h0M972.8 2329.2h0M972.8 2346.0h0M972.8 2362.8h0M972.8 2379.6h0M978.4 2018.4h0M978.4 2035.2h0M978.4 2052.0h0M978.4 2068.8h0M978.4 2085.6h0M978.4 2102.4h0M978.4 2119.2h0M978.4 2136.0h0M978.4 2152.8h0M978.4 2169.6h0M978.4 2186.4h0M978.4 2203.2h0M978.4 2220.0h0M978.4 2236.8h0M978.4 2253.6h0M978.4 2270.4h0M978.4 2287.2h0M978.4 2304.0h0M978.4 2320.8h0M978.4 2337.6h0M978.4 2354.4h0M978.4 2371.2h0M978.4 2388.0h0M984.0 2026.8h0M984.0 2043.6h0M984.0 2060.4h0M984.0 2077.2h0M984.0 2094.0h0M984.0 2110.8h0M984.0 2127.6h0M984.0 2144.4h0M984.0 2161.2h0M984.0 2178.0h0M984.0 2194.8h0M984.0 2211.6h0M984.0 2228.4h0M984.0 2245.2h0M984.0 2262.0h0M984.0 2278.8h0M984.0 2295.6h0M984.0 2312.4h0M984.0 2329.2h0M984.0 2346.0h0M984.0 2362.8h0M984.0 2379.6h0" stroke="#878a90" stroke-width="7" stroke-linecap="round" fill="none"/>
<path d="M972.8 2026.8h0M972.8 2043.6h0M972.8 2060.4h0M972.8 2077.2h0M972.8 2094.0h0M972.8 2110.8h0M972.8 2127.6h0M972.8 2144.4h0M972.8 2161.2h0M972.8 2178.0h0M972.8 2194.8h0M972.8 2211.6h0M972.8 2228.4h0M972.8 2245.2h0M972.8 2262.0h0M972.8 2278.8h0M972.8 2295.6h0M972.8 2312.4h0M972.8 2329.2h0M972.8 2346.0h0M972.8 2362.8h0M972.8 2379.6h0M978.4 2018.4h0M978.4 2035.2h0M978.4 2052.0h0M978.4 2068.8h0M978.4 2085.6h0M978.4 2102.4h0M978.4 2119.2h0M978.4 2136.0h0M978.4 2152.8h0M978.4 2169.6h0M978.4 2186.4h0M978.4 2203.2h0M978.4 2220.0h0M978.4 2236.8h0M978.4 2253.6h0M978.4 2270.4h0M978.4 2287.2h0M978.4 2304.0h0M978.4 2320.8h0M978.4 2337.6h0M978.4 2354.4h0M978.4 2371.2h0M978.4 2388.0h0M984.0 2026.8h0M984.0 2043.6h0M984.0 2060.4h0M984.0 2077.2h0M984.0 2094.0h0M984.0 2110.8h0M984.0 2127.6h0M984.0 2144.4h0M984.0 2161.2h0M984.0 2178.0h0M984.0 2194.8h0M984.0 2211.6h0M984.0 2228.4h0M984.0 2245.2h0M984.0 2262.0h0M984.0 2278.8h0M984.0 2295.6h0M984.0 2312.4h0M984.0 2329.2h0M984.0 2346.0h0M984.0 2362.8h0M984.0 2379.6h0" stroke="#999ca1" stroke-width="4.2" stroke-linecap="round" fill="none"/>
<polygon points="560.1,2072.4 573.1,2068.4 603.1,2058.4 618.1,2056.4 661.1,2054.4 678.1,2053.4 683.1,2051.4 713.1,2051.4 743.1,2051.4 820.1,2050.4 839.1,2041.4 855.1,2046.4 880.1,2050.4 889.1,2061.4 902.1,2063.4 921.1,2071.4 933.1,2080.4 942.1,2092.4 952.1,2099.4 964.1,2114.4 973.1,2126.4 983.1,2136.4 983.1,2342.4 971.1,2348.4 952.1,2356.4 927.1,2349.9 889.1,2351.4 876.1,2358.4 851.1,2365.4 828.6,2358.4 801.1,2367.4 763.1,2372.4 700.6,2372.4 694.1,2375.4 621.1,2372.4 606.1,2367.4 591.1,2366.4 587.1,2361.4 588.1,2336.4 591.1,2317.4 596.1,2303.4 600.1,2285.4 605.1,2275.4 608.6,2257.9 613.6,2240.4 617.1,2222.4 611.1,2212.4 602.1,2197.4 593.1,2189.4 585.1,2182.4 566.1,2182.4 563.1,2146.4 562.1,2106.4 560.1,2076.4" fill="#783f71"/>
<polygon points="962.1,2112.4 973.1,2126.4 983.1,2136.4 983.1,2342.4 971.1,2348.4 962.1,2352.4" fill="#6c3666"/>
<polyline points="573.1,2066.9 603.1,2056.9 618.1,2054.9 661.1,2052.9 678.1,2051.9 683.1,2049.9 713.1,2049.9 743.1,2049.9 820.1,2048.9 839.1,2039.9 855.1,2044.9 880.1,2048.9 889.1,2059.9 902.1,2061.9 921.1,2069.9 933.1,2078.9 942.1,2090.9 952.1,2097.9 964.1,2112.9 973.1,2124.9 983.1,2134.9" fill="none" stroke="#3f1d3a" stroke-width="2.6" stroke-dasharray="5 1 2 3 1 2 6 2 1 4 3 1" stroke-opacity="0.7"/>
<path transform="translate(705.00,2184.00) scale(3.2400,5.6370)" d="M41 -25h0m2 0h0M38 -24h0m2 0h0m2 0h0m2 0h0m2 0h0m2 0h0m2 0h0M-32 -22h0m2 0h0m2 0h0M-37 -21h0m2 0h0m2 0h0m2 0h0m2 0h0m2 0h0m2 0h0M66 -20h0M21 -17h0m2 0h0M6 -16h0m2 0h0m2 0h0m2 0h0m2 0h0m2 0h0m2 0h0m2 0h0m2 0h0m2 0h0m2 0h0m2 0h0m2 0h0m2 0h0M5 -15h0m2 0h0m2 0h0m2 0h0m2 0h0m2 0h0m2 0h0m2 0h0m2 0h0m2 0h0m2 0h0m2 0h0m2 0h0m2 0h0m2 0h0m4 0h0m2 0h0M6 -14h0m2 0h0m2 0h0m2 0h0m2 0h0m2 0h0m2 0h0m2 0h0m2 0h0m2 0h0m2 0h0m2 0h0m2 0h0m2 0h0m2 0h0m2 0h0m6 0h0m2 0h0M5 -13h0m2 0h0m2 0h0m2 0h0m2 0h0m2 0h0m2 0h0m2 0h0m2 0h0m2 0h0m2 0h0m2 0h0m2 0h0m2 0h0m2 0h0m2 0h0m2 0h0M6 -12h0m2 0h0m2 0h0m2 0h0m2 0h0m2 0h0m2 0h0m2 0h0m2 0h0m2 0h0m2 0h0m2 0h0m2 0h0m2 0h0m2 0h0m2 0h0m2 0h0M5 -11h0m2 0h0m2 0h0m2 0h0m2 0h0m2 0h0m2 0h0m2 0h0m2 0h0m2 0h0m2 0h0m2 0h0m2 0h0m2 0h0m2 0h0m2 0h0m2 0h0m2 0h0M6 -10h0m2 0h0m2 0h0m2 0h0m2 0h0m2 0h0m2 0h0m2 0h0m2 0h0m2 0h0m2 0h0m2 0h0m2 0h0m2 0h0m2 0h0m2 0h0m2 0h0m2 0h0m2 0h0M5 -9h0m2 0h0m2 0h0m2 0h0m2 0h0m2 0h0m2 0h0m2 0h0m2 0h0m2 0h0m2 0h0m2 0h0m2 0h0m2 0h0m2 0h0m2 0h0m2 0h0m2 0h0m2 0h0m2 0h0M6 -8h0m2 0h0m2 0h0m2 0h0m2 0h0m2 0h0m2 0h0m2 0h0m2 0h0m2 0h0m2 0h0m2 0h0m2 0h0m2 0h0m2 0h0m2 0h0m2 0h0m2 0h0M-35 -7h0m40 0h0m2 0h0m2 0h0m2 0h0m2 0h0m2 0h0m2 0h0m2 0h0m2 0h0m2 0h0m2 0h0m2 0h0m2 0h0m2 0h0m2 0h0m2 0h0m2 0h0M4 -6h0m2 0h0m2 0h0m2 0h0m2 0h0m2 0h0m2 0h0m2 0h0m2 0h0m2 0h0m2 0h0m2 0h0m2 0h0m2 0h0m2 0h0m2 0h0m2 0h0M-35 -5h0m38 0h0m2 0h0M0 -4h0m2 0h0m2 0h0M-3 -3h0m2 0h0m2 0h0m2 0h0M-4 -2h0m2 0h0m2 0h0m2 0h0M-7 -1h0m2 0h0m2 0h0m2 0h0M-8 0h0m2 0h0m2 0h0m2 0h0M-11 1h0m2 0h0m2 0h0m2 0h0M-12 2h0m2 0h0m2 0h0m2 0h0M-13 3h0m2 0h0m58 0h0M-14 4h0m60 0h0m2 0h0M45 5h0m2 0h0m2 0h0M-24 6h0m2 0h0m2 0h0m14 0h0m50 0h0m2 0h0m2 0h0m2 0h0M-25 7h0m2 0h0m14 0h0m2 0h0m2 0h0m50 0h0m2 0h0m2 0h0m2 0h0M-26 8h0m30 0h0m40 0h0m2 0h0m2 0h0m2 0h0m2 0h0M-27 9h0m32 0h0m40 0h0m2 0h0m2 0h0M-28 10h0m72 0h0m2 0h0M45 11h0M59 17h0m2 0h0M60 18h0m2 0h0M59 19h0m2 0h0m2 0h0m2 0h0M-4 20h0m64 0h0m2 0h0m2 0h0M-11 21h0m2 0h0m2 0h0m2 0h0m2 0h0m2 0h0m6 0h0m54 0h0m2 0h0m2 0h0m2 0h0M-34 22h0m32 0h0m62 0h0m2 0h0m2 0h0M59 23h0m2 0h0m2 0h0m2 0h0M60 24h0m2 0h0m2 0h0M-35 25h0m94 0h0m2 0h0m2 0h0m2 0h0M56 26h0m2 0h0m2 0h0m2 0h0m2 0h0M57 27h0m2 0h0m2 0h0m2 0h0m2 0h0M-36 28h0m88 0h0m10 0h0m2 0h0m2 0h0m2 0h0m2 0h0m2 0h0m2 0h0m2 0h0m2 0h0M53 29h0m10 0h0m2 0h0m2 0h0m2 0h0m2 0h0m2 0h0m2 0h0m2 0h0m2 0h0M-36 30h0m88 0h0m2 0h0m20 0h0m2 0h0m2 0h0M-30 32h0m76 0h0" stroke="#8a62aa" stroke-width="4" stroke-linecap="round" vector-effect="non-scaling-stroke" fill="none"/>
<path transform="translate(705.00,2184.00) scale(3.2400,5.6370)" d="M-13 -23h0m2 0h0m2 0h0m2 0h0m2 0h0m2 0h0m2 0h0m2 0h0m2 0h0m2 0h0m2 0h0m2 0h0m2 0h0m2 0h0m2 0h0m2 0h0m2 0h0m2 0h0m2 0h0m2 0h0m2 0h0m2 0h0M-26 -22h0m2 0h0m2 0h0m2 0h0m2 0h0m2 0h0m2 0h0m2 0h0m2 0h0m2 0h0m2 0h0m2 0h0m2 0h0m2 0h0m2 0h0m2 0h0m2 0h0m2 0h0m2 0h0m2 0h0m2 0h0m2 0h0m2 0h0m2 0h0m2 0h0m2 0h0m2 0h0m2 0h0M-23 -21h0m2 0h0m2 0h0m2 0h0m2 0h0m2 0h0m2 0h0m2 0h0m2 0h0m2 0h0m2 0h0m2 0h0m2 0h0m2 0h0m2 0h0m2 0h0m2 0h0m2 0h0m2 0h0m2 0h0m2 0h0m2 0h0m2 0h0m2 0h0m2 0h0m2 0h0M-24 -20h0m2 0h0m2 0h0m2 0h0m2 0h0m2 0h0m2 0h0m2 0h0m2 0h0m2 0h0m2 0h0m2 0h0m2 0h0m2 0h0m2 0h0m2 0h0m2 0h0m2 0h0m2 0h0m2 0h0m2 0h0m2 0h0m2 0h0m2 0h0m2 0h0m2 0h0M-23 -19h0m2 0h0m2 0h0m2 0h0m2 0h0m2 0h0m2 0h0m2 0h0m2 0h0m2 0h0m2 0h0m2 0h0m2 0h0m2 0h0m2 0h0m2 0h0m2 0h0m2 0h0m2 0h0m2 0h0m2 0h0m2 0h0m2 0h0m2 0h0M-24 -18h0m2 0h0m2 0h0m2 0h0m2 0h0m2 0h0m2 0h0m2 0h0m2 0h0m2 0h0m2 0h0m2 0h0m2 0h0m2 0h0m2 0h0m2 0h0m2 0h0m2 0h0m2 0h0m2 0h0m2 0h0m2 0h0m2 0h0m2 0h0M-19 -17h0m2 0h0m2 0h0m2 0h0m2 0h0m2 0h0m2 0h0m2 0h0m2 0h0m2 0h0m2 0h0m2 0h0m2 0h0m2 0h0m2 0h0m2 0h0m2 0h0m2 0h0m2 0h0m2 0h0M-12 -16h0m2 0h0m2 0h0m2 0h0m2 0h0m2 0h0m2 0h0m2 0h0m2 0h0M-13 -15h0m2 0h0m2 0h0m2 0h0m2 0h0m2 0h0m2 0h0m2 0h0m2 0h0M-12 -14h0m2 0h0m2 0h0m2 0h0m2 0h0m2 0h0m2 0h0m2 0h0m2 0h0M-11 -13h0m2 0h0m2 0h0m2 0h0m2 0h0m2 0h0m2 0h0m2 0h0M-10 -12h0m2 0h0m2 0h0m2 0h0m2 0h0m2 0h0m2 0h0m2 0h0M-9 -11h0m2 0h0m2 0h0m2 0h0m2 0h0m2 0h0m2 0h0M-8 -10h0m2 0h0m2 0h0m2 0h0m2 0h0m2 0h0m2 0h0" stroke="#0fa058" stroke-width="4" stroke-linecap="round" vector-effect="non-scaling-stroke" fill="none"/>
<path transform="translate(705.00,2184.00) scale(3.2400,5.6370)" d="M31 -23h0m2 0h0m2 0h0m2 0h0m2 0h0m2 0h0m2 0h0m2 0h0m2 0h0m2 0h0m2 0h0m4 0h0M30 -22h0m2 0h0m2 0h0m2 0h0m2 0h0m2 0h0m2 0h0m2 0h0m2 0h0m2 0h0m2 0h0m2 0h0m2 0h0M29 -21h0m2 0h0m2 0h0m2 0h0m2 0h0m2 0h0m2 0h0m2 0h0m2 0h0m2 0h0m2 0h0m2 0h0m8 0h0M28 -20h0m2 0h0m2 0h0m2 0h0m2 0h0m2 0h0m2 0h0m2 0h0m2 0h0m2 0h0m2 0h0m2 0h0m2 0h0m2 0h0m2 0h0m2 0h0m2 0h0m2 0h0M25 -19h0m2 0h0m2 0h0m2 0h0m2 0h0m2 0h0m2 0h0m2 0h0m2 0h0m2 0h0m2 0h0m2 0h0m2 0h0m2 0h0m2 0h0m2 0h0m2 0h0m2 0h0m2 0h0m4 0h0M24 -18h0m2 0h0m2 0h0m2 0h0m2 0h0m2 0h0m2 0h0m2 0h0m2 0h0m2 0h0m2 0h0m2 0h0m2 0h0m2 0h0m2 0h0m2 0h0m2 0h0m2 0h0m2 0h0m2 0h0m4 0h0m4 0h0M25 -17h0m2 0h0m2 0h0m2 0h0m2 0h0m2 0h0m2 0h0m2 0h0m2 0h0m2 0h0m2 0h0m2 0h0m2 0h0m2 0h0m2 0h0m2 0h0m2 0h0m2 0h0m2 0h0m2 0h0m2 0h0m2 0h0M34 -16h0m2 0h0m2 0h0m2 0h0m2 0h0m2 0h0m2 0h0m2 0h0m2 0h0m2 0h0m2 0h0m2 0h0m2 0h0m2 0h0m2 0h0m2 0h0m2 0h0m2 0h0M41 -15h0m2 0h0m2 0h0m2 0h0m2 0h0m2 0h0m2 0h0m2 0h0m2 0h0m2 0h0m2 0h0m2 0h0m2 0h0m2 0h0m2 0h0m2 0h0m2 0h0m2 0h0M46 -14h0m2 0h0m2 0h0m2 0h0m2 0h0m2 0h0m2 0h0m2 0h0m2 0h0m2 0h0m2 0h0m2 0h0m2 0h0m2 0h0M47 -13h0m2 0h0m2 0h0m2 0h0m2 0h0m2 0h0m2 0h0m2 0h0m2 0h0m2 0h0m2 0h0m2 0h0m2 0h0m2 0h0m2 0h0m4 0h0M50 -12h0m2 0h0m2 0h0m2 0h0m2 0h0m2 0h0m2 0h0m2 0h0m2 0h0m2 0h0m2 0h0m2 0h0m2 0h0m2 0h0m2 0h0M55 -11h0m2 0h0m2 0h0m2 0h0m2 0h0m2 0h0m2 0h0m2 0h0m2 0h0m2 0h0m2 0h0m2 0h0m2 0h0M56 -10h0m2 0h0m2 0h0m2 0h0m2 0h0m2 0h0m2 0h0m2 0h0m2 0h0m2 0h0m2 0h0m2 0h0M59 -9h0m2 0h0m2 0h0m2 0h0m2 0h0m2 0h0m2 0h0m2 0h0m2 0h0m2 0h0m2 0h0M60 -8h0m2 0h0m2 0h0m2 0h0m2 0h0m2 0h0m2 0h0m2 0h0m2 0h0m2 0h0M61 -7h0m2 0h0m2 0h0m2 0h0m2 0h0m2 0h0m2 0h0m2 0h0m2 0h0m2 0h0M64 -6h0m2 0h0m2 0h0m2 0h0m2 0h0m2 0h0m2 0h0m2 0h0M65 -5h0m2 0h0m2 0h0m2 0h0m2 0h0m2 0h0m2 0h0m2 0h0M68 -4h0m2 0h0m2 0h0m2 0h0m2 0h0m2 0h0M69 -3h0m2 0h0m2 0h0m2 0h0m2 0h0m2 0h0M76 -2h0m2 0h0M75 -1h0m2 0h0m2 0h0M76 0h0m2 0h0M75 1h0m2 0h0m2 0h0M76 2h0m2 0h0M77 3h0m2 0h0M78 4h0M66 20h0m2 0h0m2 0h0m2 0h0m2 0h0m2 0h0m2 0h0M67 21h0m2 0h0m2 0h0m2 0h0m2 0h0m2 0h0m2 0h0M66 22h0m2 0h0m2 0h0m2 0h0m2 0h0m2 0h0m2 0h0M67 23h0m2 0h0m2 0h0m2 0h0m2 0h0m2 0h0m2 0h0M66 24h0m2 0h0m2 0h0m2 0h0m2 0h0m2 0h0m2 0h0M67 25h0m2 0h0m2 0h0m2 0h0m2 0h0m2 0h0m2 0h0M66 26h0m2 0h0m2 0h0m2 0h0m2 0h0m2 0h0m2 0h0M67 27h0m2 0h0m2 0h0m2 0h0m2 0h0m2 0h0m2 0h0" stroke="#1a7cc4" stroke-width="4" stroke-linecap="round" vector-effect="non-scaling-stroke" fill="none"/>
<path transform="translate(705.00,2184.00) scale(3.2400,5.6370)" d="M53 -23h0M56 -22h0M53 -21h0m2 0h0m2 0h0m4 0h0M64 -20h0M63 -19h0m4 0h0M64 -18h0m4 0h0M69 -17h0m2 0h0M70 -16h0m2 0h0M74 -14h0m2 0h0M77 -13h0" stroke="#a0e0ea" stroke-width="4" stroke-linecap="round" vector-effect="non-scaling-stroke" fill="none"/>
<path transform="translate(705.00,2184.00) scale(3.2400,5.6370)" d="M-42 -20h0m2 0h0m2 0h0m2 0h0m2 0h0m2 0h0m2 0h0m2 0h0m2 0h0M-43 -19h0m2 0h0m2 0h0m2 0h0m2 0h0m2 0h0m2 0h0m2 0h0m2 0h0m2 0h0M-44 -18h0m2 0h0m2 0h0m2 0h0m2 0h0m2 0h0m2 0h0m2 0h0m2 0h0m2 0h0M-43 -17h0m2 0h0m2 0h0m2 0h0m2 0h0m2 0h0m2 0h0m2 0h0m2 0h0m2 0h0M-44 -16h0m2 0h0m2 0h0m2 0h0m2 0h0m2 0h0m2 0h0m2 0h0m2 0h0m2 0h0M-43 -15h0m2 0h0m2 0h0m2 0h0m2 0h0m2 0h0m2 0h0m2 0h0m2 0h0m2 0h0M-44 -14h0m2 0h0m2 0h0m2 0h0m2 0h0m2 0h0m2 0h0m2 0h0m2 0h0m2 0h0m2 0h0M-43 -13h0m2 0h0m2 0h0m2 0h0m2 0h0m2 0h0m2 0h0m2 0h0m2 0h0m2 0h0M-44 -12h0m2 0h0m2 0h0m2 0h0m2 0h0m2 0h0m2 0h0m2 0h0m2 0h0m2 0h0m2 0h0m2 0h0M-43 -11h0m2 0h0m2 0h0m2 0h0m2 0h0m2 0h0m2 0h0m2 0h0m2 0h0m2 0h0m2 0h0m2 0h0m2 0h0m2 0h0M-42 -10h0m2 0h0m2 0h0m2 0h0m12 0h0m2 0h0m2 0h0m2 0h0m2 0h0M-43 -9h0m2 0h0m2 0h0m2 0h0m2 0h0m14 0h0m2 0h0m2 0h0M-42 -8h0m2 0h0m2 0h0m2 0h0M-43 -7h0m2 0h0m2 0h0m2 0h0M-42 -6h0m2 0h0m2 0h0m2 0h0M-43 -5h0m2 0h0m2 0h0m2 0h0M-42 -4h0m2 0h0m2 0h0m2 0h0M-43 -3h0m2 0h0m2 0h0m2 0h0m2 0h0M-42 -2h0m2 0h0m2 0h0m2 0h0M-41 -1h0m2 0h0m2 0h0m2 0h0M-36 0h0" stroke="#8cd08a" stroke-width="4" stroke-linecap="round" vector-effect="non-scaling-stroke" fill="none"/>
<path transform="translate(705.00,2184.00) scale(3.2400,5.6370)" d="M-23 -17h0m2 0h0M-24 -16h0m2 0h0m2 0h0m2 0h0m2 0h0m2 0h0M-23 -15h0m2 0h0m2 0h0m2 0h0m2 0h0M-22 -14h0m2 0h0m2 0h0m2 0h0m2 0h0M-23 -13h0m2 0h0m2 0h0m2 0h0m2 0h0m2 0h0M-20 -12h0m2 0h0m2 0h0m2 0h0m2 0h0M-15 -11h0m2 0h0m2 0h0M-14 -10h0m2 0h0m2 0h0M-15 -9h0m2 0h0m2 0h0m2 0h0m2 0h0m2 0h0m2 0h0m2 0h0m2 0h0m2 0h0M-16 -8h0m2 0h0m2 0h0m2 0h0m2 0h0m2 0h0m2 0h0m2 0h0m2 0h0m2 0h0m2 0h0M-17 -7h0m2 0h0m2 0h0m2 0h0m2 0h0m2 0h0m2 0h0m2 0h0m2 0h0m2 0h0m2 0h0M-18 -6h0m2 0h0m2 0h0m2 0h0m2 0h0m2 0h0m2 0h0m2 0h0m2 0h0m2 0h0m2 0h0M-17 -5h0m2 0h0m2 0h0m2 0h0m2 0h0m2 0h0m2 0h0m2 0h0m2 0h0m2 0h0M-22 -4h0m2 0h0m2 0h0m2 0h0m2 0h0m2 0h0m2 0h0m2 0h0m2 0h0m2 0h0m2 0h0M-23 -3h0m2 0h0m2 0h0m2 0h0m2 0h0m2 0h0m2 0h0m2 0h0m2 0h0m2 0h0M-24 -2h0m2 0h0m2 0h0m2 0h0m2 0h0m2 0h0m2 0h0m2 0h0m2 0h0m2 0h0M-23 -1h0m2 0h0m2 0h0m2 0h0m2 0h0m2 0h0m2 0h0m2 0h0M-24 0h0m2 0h0m2 0h0m2 0h0m2 0h0m2 0h0m2 0h0m2 0h0M-23 1h0m2 0h0m2 0h0m2 0h0m2 0h0m2 0h0M-22 2h0m2 0h0m2 0h0m2 0h0m2 0h0M-23 3h0m2 0h0m2 0h0m2 0h0m2 0h0M-22 4h0m2 0h0m2 0h0m2 0h0M-23 5h0m2 0h0m2 0h0m2 0h0" stroke="#9a5a3e" stroke-width="4" stroke-linecap="round" vector-effect="non-scaling-stroke" fill="none"/>
<path transform="translate(705.00,2184.00) scale(3.2400,5.6370)" d="M35 -15h0M38 -14h0m2 0h0M39 -13h0m2 0h0m2 0h0m2 0h0M40 -12h0m2 0h0m2 0h0m2 0h0m2 0h0M41 -11h0m2 0h0m2 0h0m2 0h0m2 0h0m2 0h0m2 0h0M44 -10h0m2 0h0m2 0h0m2 0h0m2 0h0m2 0h0M45 -9h0m2 0h0m2 0h0m2 0h0m2 0h0m2 0h0m2 0h0M42 -8h0m2 0h0m2 0h0m2 0h0m2 0h0m2 0h0m2 0h0m2 0h0m2 0h0M39 -7h0m2 0h0m2 0h0m2 0h0m2 0h0m2 0h0m2 0h0m2 0h0m2 0h0m2 0h0m2 0h0M38 -6h0m2 0h0m2 0h0m2 0h0m2 0h0m2 0h0m2 0h0m2 0h0m2 0h0m2 0h0m2 0h0m2 0h0m2 0h0M37 -5h0m2 0h0m2 0h0m2 0h0m2 0h0m2 0h0m2 0h0m2 0h0m2 0h0m2 0h0m2 0h0m2 0h0m2 0h0m2 0h0M38 -4h0m2 0h0m2 0h0m2 0h0m2 0h0m2 0h0m2 0h0m2 0h0m2 0h0m2 0h0m2 0h0m2 0h0m2 0h0m2 0h0m2 0h0M39 -3h0m2 0h0m2 0h0m2 0h0m2 0h0m2 0h0m2 0h0m2 0h0m2 0h0m2 0h0m2 0h0m2 0h0m2 0h0m2 0h0m2 0h0M66 -2h0M67 -1h0m6 0h0M52 2h0m2 0h0m20 0h0M49 3h0m2 0h0m2 0h0m2 0h0m20 0h0M50 4h0m2 0h0m2 0h0m2 0h0m20 0h0M51 5h0m2 0h0m2 0h0m6 0h0m16 0h0m2 0h0M52 6h0m2 0h0m2 0h0m2 0h0m18 0h0m2 0h0M53 7h0m2 0h0m2 0h0m2 0h0m6 0h0m10 0h0m2 0h0m2 0h0M54 8h0m2 0h0m2 0h0m4 0h0m14 0h0m2 0h0M55 9h0m2 0h0m2 0h0m4 0h0m4 0h0m6 0h0m2 0h0m2 0h0m2 0h0M56 10h0m2 0h0m2 0h0m6 0h0m2 0h0m6 0h0m2 0h0m2 0h0M57 11h0m2 0h0m2 0h0m2 0h0m6 0h0m4 0h0m2 0h0m2 0h0m2 0h0M58 12h0m2 0h0m2 0h0m4 0h0m6 0h0m2 0h0m2 0h0m2 0h0M59 13h0m2 0h0m8 0h0m8 0h0m2 0h0M58 14h0m2 0h0m2 0h0m2 0h0m2 0h0m2 0h0m2 0h0m2 0h0m2 0h0m2 0h0m2 0h0M59 15h0m2 0h0m2 0h0m2 0h0m2 0h0m2 0h0m2 0h0m2 0h0m2 0h0m2 0h0m2 0h0M60 16h0m2 0h0m2 0h0m2 0h0m2 0h0m2 0h0m2 0h0m2 0h0m2 0h0m2 0h0M63 17h0m2 0h0m2 0h0m2 0h0m2 0h0m2 0h0m2 0h0m2 0h0m2 0h0M64 18h0m2 0h0m2 0h0m2 0h0m2 0h0m2 0h0m2 0h0m2 0h0M67 19h0m2 0h0m2 0h0m2 0h0m2 0h0m2 0h0m2 0h0" stroke="#dc74b4" stroke-width="4" stroke-linecap="round" vector-effect="non-scaling-stroke" fill="none"/>
<path transform="translate(705.00,2184.00) scale(3.2400,5.6370)" d="M-34 -10h0m2 0h0m2 0h0m2 0h0M-25 -9h0m2 0h0M-30 -8h0m4 0h0m2 0h0m2 0h0m2 0h0m2 0h0M-33 -7h0m2 0h0m4 0h0m4 0h0m2 0h0M-32 -6h0m2 0h0m2 0h0m2 0h0m4 0h0m2 0h0M-31 -5h0m2 0h0m6 0h0m2 0h0m2 0h0M-32 -4h0m6 0h0m2 0h0M-29 -3h0m4 0h0M-34 -2h0m2 0h0M-31 -1h0M-34 0h0m2 0h0m2 0h0m2 0h0m2 0h0M-32 2h0m4 0h0m2 0h0m2 0h0M-27 3h0m2 0h0M-28 4h0m2 0h0M-29 5h0m4 0h0M-26 6h0M51 9h0m2 0h0M48 10h0m2 0h0m2 0h0m2 0h0M47 11h0m2 0h0m2 0h0m2 0h0m2 0h0M44 12h0m2 0h0m2 0h0m2 0h0m2 0h0m2 0h0m2 0h0M45 13h0m2 0h0m2 0h0m2 0h0m2 0h0m2 0h0m2 0h0M44 14h0m2 0h0m2 0h0m2 0h0m2 0h0m2 0h0m2 0h0M45 15h0m2 0h0m2 0h0m2 0h0m2 0h0m2 0h0m2 0h0M44 16h0m2 0h0m2 0h0m2 0h0m2 0h0m2 0h0m2 0h0m2 0h0M45 17h0m2 0h0m2 0h0m2 0h0m2 0h0m2 0h0m2 0h0M44 18h0m2 0h0m2 0h0m2 0h0m2 0h0m2 0h0m2 0h0m2 0h0M45 19h0m2 0h0m2 0h0m2 0h0m2 0h0m2 0h0m2 0h0M44 20h0m2 0h0m2 0h0m2 0h0m2 0h0m2 0h0m2 0h0m2 0h0M45 21h0m2 0h0m2 0h0m2 0h0m2 0h0m2 0h0m2 0h0M44 22h0m2 0h0m2 0h0m2 0h0m2 0h0m2 0h0m2 0h0m2 0h0M45 23h0m2 0h0m2 0h0m2 0h0m2 0h0m2 0h0m2 0h0M44 24h0m2 0h0m2 0h0m2 0h0m2 0h0m2 0h0m2 0h0m2 0h0M53 25h0m2 0h0m2 0h0M54 26h0" stroke="#f4b4ce" stroke-width="4" stroke-linecap="round" vector-effect="non-scaling-stroke" fill="none"/>
<path transform="translate(705.00,2184.00) scale(3.2400,5.6370)" d="M-26 -10h0M-33 -9h0m2 0h0m2 0h0m2 0h0M-34 -8h0m2 0h0m4 0h0M-29 -7h0m4 0h0m6 0h0M-34 -6h0m10 0h0M-33 -5h0m6 0h0m2 0h0M-34 -4h0m4 0h0m2 0h0M-33 -3h0m2 0h0m4 0h0M-30 -2h0m2 0h0m2 0h0M-33 -1h0m4 0h0m2 0h0m2 0h0M-33 1h0m2 0h0m2 0h0m2 0h0m2 0h0M-30 2h0M-31 3h0m2 0h0M-30 4h0m6 0h0M-27 5h0M-27 7h0" stroke="#dccbe6" stroke-width="4" stroke-linecap="round" vector-effect="non-scaling-stroke" fill="none"/>
<path transform="translate(705.00,2184.00) scale(3.2400,5.6370)" d="M7 -5h0m2 0h0m2 0h0m2 0h0m2 0h0m2 0h0m2 0h0m2 0h0m2 0h0M22 -4h0m2 0h0m12 0h0M23 -3h0m2 0h0m12 0h0M36 -2h0m2 0h0M25 -1h0m2 0h0m6 0h0m2 0h0m2 0h0M8 0h0m2 0h0m2 0h0m14 0h0m2 0h0m2 0h0m2 0h0m2 0h0m2 0h0M-3 1h0m10 0h0m2 0h0m2 0h0m2 0h0m12 0h0m2 0h0m2 0h0m2 0h0m2 0h0m2 0h0m2 0h0M4 2h0m2 0h0m2 0h0m2 0h0m2 0h0m2 0h0m10 0h0m2 0h0m2 0h0m2 0h0m2 0h0m2 0h0m2 0h0M3 3h0m2 0h0m2 0h0m2 0h0m2 0h0m2 0h0m2 0h0m2 0h0m2 0h0m4 0h0m2 0h0m2 0h0m2 0h0m2 0h0m2 0h0m2 0h0m2 0h0M2 4h0m2 0h0m2 0h0m2 0h0m2 0h0m2 0h0m2 0h0m2 0h0m2 0h0m2 0h0m2 0h0m2 0h0m2 0h0m2 0h0m2 0h0m2 0h0m2 0h0m2 0h0M-3 5h0m2 0h0m2 0h0m2 0h0m2 0h0m2 0h0m2 0h0m2 0h0m2 0h0m2 0h0m2 0h0m2 0h0m2 0h0m2 0h0m2 0h0m2 0h0m2 0h0m2 0h0m2 0h0m2 0h0m2 0h0M-4 6h0m2 0h0m2 0h0m2 0h0m2 0h0m2 0h0m2 0h0m2 0h0m2 0h0m2 0h0m2 0h0m2 0h0m2 0h0m2 0h0m2 0h0m2 0h0m2 0h0m2 0h0m2 0h0m2 0h0m2 0h0M-3 7h0m2 0h0m2 0h0m2 0h0m2 0h0m2 0h0m2 0h0m2 0h0m2 0h0m2 0h0m2 0h0m2 0h0m2 0h0m2 0h0m2 0h0m2 0h0m2 0h0m2 0h0m2 0h0m2 0h0m2 0h0M-2 8h0m2 0h0m2 0h0M-2 20h0m4 0h0m2 0h0M1 21h0m2 0h0M31 25h0m2 0h0m2 0h0m2 0h0m2 0h0m2 0h0m2 0h0m2 0h0m2 0h0m2 0h0m2 0h0M32 26h0m2 0h0m2 0h0m2 0h0m2 0h0m2 0h0m2 0h0m2 0h0m2 0h0m2 0h0M31 27h0m2 0h0m2 0h0m2 0h0m2 0h0m2 0h0m2 0h0m2 0h0m2 0h0m2 0h0m2 0h0M32 28h0m2 0h0m2 0h0m2 0h0m2 0h0m2 0h0m2 0h0m2 0h0m2 0h0m2 0h0M31 29h0m2 0h0m2 0h0m2 0h0m2 0h0m2 0h0m2 0h0m2 0h0m2 0h0m2 0h0m2 0h0M32 30h0m2 0h0m2 0h0m2 0h0m2 0h0m2 0h0m2 0h0m2 0h0m2 0h0m2 0h0M33 31h0m2 0h0m2 0h0m2 0h0m2 0h0m2 0h0m2 0h0m2 0h0m2 0h0m2 0h0M32 32h0" stroke="#b4c85a" stroke-width="4" stroke-linecap="round" vector-effect="non-scaling-stroke" fill="none"/>
<path transform="translate(705.00,2184.00) scale(3.2400,5.6370)" d="M25 -5h0m2 0h0m2 0h0m2 0h0m2 0h0m2 0h0M6 -4h0m2 0h0m2 0h0m2 0h0m2 0h0m2 0h0m2 0h0m2 0h0m6 0h0m2 0h0m2 0h0m2 0h0m2 0h0M5 -3h0m2 0h0m2 0h0m2 0h0m2 0h0m2 0h0m2 0h0m2 0h0m2 0h0m6 0h0m2 0h0m2 0h0m2 0h0m2 0h0M4 -2h0m2 0h0m2 0h0m2 0h0m2 0h0m2 0h0m2 0h0m2 0h0m2 0h0m2 0h0m2 0h0m2 0h0m2 0h0m2 0h0m2 0h0m2 0h0M1 -1h0m2 0h0m2 0h0m2 0h0m2 0h0m2 0h0m2 0h0m2 0h0m2 0h0m2 0h0m2 0h0m2 0h0m6 0h0m2 0h0M0 0h0m2 0h0m2 0h0m2 0h0m8 0h0m2 0h0m2 0h0m2 0h0m2 0h0m2 0h0M-1 1h0m2 0h0m2 0h0m2 0h0m10 0h0m2 0h0m2 0h0m2 0h0m2 0h0M-4 2h0m2 0h0m2 0h0m2 0h0m14 0h0m2 0h0m2 0h0m2 0h0M-9 3h0m2 0h0m2 0h0m2 0h0m2 0h0m2 0h0m20 0h0M-12 4h0m2 0h0m2 0h0m2 0h0m2 0h0m2 0h0m2 0h0M-15 5h0m2 0h0m2 0h0m2 0h0m2 0h0m2 0h0M-18 6h0m2 0h0m2 0h0m2 0h0m2 0h0m2 0h0M-21 7h0m2 0h0m2 0h0m2 0h0m2 0h0m2 0h0M-24 8h0M-25 9h0m2 0h0M-26 10h0m2 0h0M-27 11h0m2 0h0M-28 12h0m2 0h0M-29 13h0m2 0h0m2 0h0M-30 14h0m2 0h0m2 0h0M-29 15h0m2 0h0M-30 16h0m2 0h0M-31 17h0m2 0h0M-32 18h0m2 0h0m2 0h0M-31 19h0m2 0h0M-32 20h0m2 0h0m2 0h0M-33 21h0m2 0h0m2 0h0M-32 22h0m2 0h0M-33 23h0m2 0h0m2 0h0M-34 24h0m2 0h0m2 0h0M-33 25h0m2 0h0M-34 26h0m2 0h0m2 0h0M-35 27h0m2 0h0m2 0h0M-34 28h0m2 0h0m2 0h0m84 0h0m2 0h0m2 0h0m2 0h0M-35 29h0m2 0h0m2 0h0m86 0h0m2 0h0m2 0h0m2 0h0M-34 30h0m2 0h0m2 0h0M-35 31h0m2 0h0m2 0h0M-34 32h0m2 0h0" stroke="#e4202a" stroke-width="4" stroke-linecap="round" vector-effect="non-scaling-stroke" fill="none"/>
<path transform="translate(705.00,2184.00) scale(3.2400,5.6370)" d="M40 -2h0m2 0h0m2 0h0m2 0h0m2 0h0m2 0h0m2 0h0m2 0h0m2 0h0m2 0h0m2 0h0m2 0h0m2 0h0M39 -1h0m2 0h0m2 0h0m2 0h0m2 0h0m2 0h0m2 0h0m2 0h0m2 0h0m2 0h0m2 0h0m2 0h0m2 0h0m2 0h0M38 0h0m2 0h0m2 0h0m2 0h0m2 0h0m2 0h0m2 0h0m2 0h0m2 0h0m2 0h0m2 0h0m2 0h0m2 0h0m2 0h0m2 0h0m2 0h0M39 1h0m2 0h0m2 0h0m2 0h0m2 0h0m2 0h0m2 0h0m2 0h0m2 0h0m2 0h0m2 0h0m2 0h0m2 0h0m2 0h0m2 0h0m2 0h0M38 2h0m2 0h0m2 0h0m2 0h0m2 0h0m2 0h0m2 0h0m6 0h0m2 0h0m2 0h0m2 0h0m2 0h0m2 0h0m2 0h0m2 0h0M39 3h0m2 0h0m2 0h0m2 0h0m14 0h0m2 0h0m2 0h0m2 0h0m2 0h0m2 0h0m2 0h0M38 4h0m2 0h0m2 0h0m2 0h0m16 0h0m2 0h0m2 0h0m2 0h0m2 0h0m2 0h0m2 0h0M39 5h0m2 0h0m2 0h0m20 0h0m2 0h0m2 0h0m2 0h0m2 0h0m2 0h0M38 6h0m2 0h0m2 0h0m22 0h0m2 0h0m2 0h0m2 0h0m2 0h0M39 7h0m2 0h0m2 0h0m24 0h0m2 0h0m2 0h0m2 0h0M40 8h0m2 0h0m26 0h0m2 0h0m2 0h0m2 0h0M39 9h0m2 0h0m2 0h0M40 10h0m2 0h0M41 11h0m2 0h0M40 12h0m2 0h0M52 26h0M53 27h0m2 0h0" stroke="#12bcd2" stroke-width="4" stroke-linecap="round" vector-effect="non-scaling-stroke" fill="none"/>
<path transform="translate(705.00,2184.00) scale(3.2400,5.6370)" d="M68 -2h0m2 0h0m2 0h0m2 0h0M69 -1h0m2 0h0M70 0h0m2 0h0m2 0h0M71 1h0m2 0h0M72 2h0M57 3h0m16 0h0M58 4h0m16 0h0M57 5h0m2 0h0m16 0h0M60 6h0m2 0h0m12 0h0M61 7h0m2 0h0M60 8h0m4 0h0m2 0h0M61 9h0m4 0h0m4 0h0m2 0h0M62 10h0m2 0h0m6 0h0m2 0h0M65 11h0m2 0h0m4 0h0M64 12h0m4 0h0m2 0h0M63 13h0m2 0h0m2 0h0m4 0h0m2 0h0m2 0h0" stroke="#d2a28c" stroke-width="4" stroke-linecap="round" vector-effect="non-scaling-stroke" fill="none"/>
<path transform="translate(705.00,2184.00) scale(3.2400,5.6370)" d="M-22 8h0m2 0h0m2 0h0m2 0h0m2 0h0m2 0h0m2 0h0m2 0h0m2 0h0m2 0h0M-21 9h0m2 0h0m2 0h0m2 0h0m2 0h0m2 0h0m2 0h0m2 0h0m2 0h0m2 0h0m2 0h0m2 0h0m2 0h0M-22 10h0m2 0h0m2 0h0m2 0h0m2 0h0m2 0h0m2 0h0m2 0h0m2 0h0m2 0h0m2 0h0m2 0h0m2 0h0m2 0h0M-23 11h0m2 0h0m2 0h0m2 0h0m2 0h0m2 0h0m2 0h0m2 0h0m2 0h0m2 0h0m2 0h0m2 0h0m2 0h0m2 0h0m2 0h0M-24 12h0m2 0h0m2 0h0m2 0h0m2 0h0m2 0h0m2 0h0m2 0h0m2 0h0m2 0h0m2 0h0m2 0h0m2 0h0m2 0h0m2 0h0M-23 13h0m2 0h0m2 0h0m2 0h0m2 0h0m2 0h0m2 0h0m2 0h0m2 0h0m2 0h0m2 0h0m2 0h0m2 0h0m2 0h0m2 0h0M-24 14h0m2 0h0m2 0h0m2 0h0m2 0h0m2 0h0m2 0h0m2 0h0m2 0h0m2 0h0m2 0h0m2 0h0m2 0h0m2 0h0m2 0h0M-25 15h0m2 0h0m2 0h0m2 0h0m2 0h0m2 0h0m2 0h0m2 0h0m2 0h0m2 0h0m2 0h0m6 0h0m2 0h0m2 0h0M-26 16h0m2 0h0m2 0h0m2 0h0m2 0h0m2 0h0m2 0h0m2 0h0m2 0h0m2 0h0m2 0h0m8 0h0m2 0h0M-27 17h0m2 0h0m2 0h0m2 0h0m2 0h0m2 0h0m2 0h0m2 0h0m2 0h0m2 0h0m2 0h0m2 0h0m8 0h0m2 0h0M-26 18h0m2 0h0m2 0h0m2 0h0m2 0h0m2 0h0m2 0h0m2 0h0m2 0h0m2 0h0m2 0h0m8 0h0m2 0h0M-27 19h0m2 0h0m2 0h0m2 0h0m2 0h0m2 0h0m2 0h0m2 0h0m2 0h0m2 0h0m2 0h0m2 0h0m8 0h0M-26 20h0m2 0h0m2 0h0m2 0h0m2 0h0m2 0h0m2 0h0m2 0h0m2 0h0m2 0h0m2 0h0M-27 21h0m2 0h0m2 0h0m2 0h0m2 0h0m2 0h0m2 0h0m2 0h0M-28 22h0m2 0h0m2 0h0m2 0h0m2 0h0M-27 23h0m2 0h0m2 0h0M-28 24h0" stroke="#f8b068" stroke-width="4" stroke-linecap="round" vector-effect="non-scaling-stroke" fill="none"/>
<path transform="translate(705.00,2184.00) scale(3.2400,5.6370)" d="M6 8h0m2 0h0m2 0h0m2 0h0m2 0h0m2 0h0m2 0h0m2 0h0m2 0h0m2 0h0m2 0h0m2 0h0m2 0h0m2 0h0m2 0h0m2 0h0m2 0h0M7 9h0m2 0h0m2 0h0m2 0h0m2 0h0m2 0h0m2 0h0m2 0h0m2 0h0m2 0h0m2 0h0m2 0h0m2 0h0m2 0h0m2 0h0m2 0h0M6 10h0m2 0h0m2 0h0m2 0h0m2 0h0m2 0h0m2 0h0m2 0h0m2 0h0m2 0h0m2 0h0m2 0h0m2 0h0m2 0h0m2 0h0m2 0h0m2 0h0M7 11h0m2 0h0m2 0h0m2 0h0m2 0h0m2 0h0m2 0h0m2 0h0m2 0h0m2 0h0m2 0h0m2 0h0m2 0h0m2 0h0m2 0h0m2 0h0m2 0h0M6 12h0m2 0h0m2 0h0m2 0h0m2 0h0m2 0h0m2 0h0m2 0h0m2 0h0m2 0h0m2 0h0m2 0h0m2 0h0m2 0h0m2 0h0m2 0h0m2 0h0M7 13h0m2 0h0m2 0h0m2 0h0m2 0h0m2 0h0m2 0h0m2 0h0m2 0h0m2 0h0m2 0h0m2 0h0m2 0h0m2 0h0m2 0h0m2 0h0m2 0h0m2 0h0m2 0h0M6 14h0m2 0h0m2 0h0m2 0h0m2 0h0m2 0h0m2 0h0m2 0h0m2 0h0m2 0h0m2 0h0m2 0h0m2 0h0m2 0h0m2 0h0m2 0h0m2 0h0m2 0h0m2 0h0M7 15h0m2 0h0m2 0h0m2 0h0m2 0h0m2 0h0m2 0h0m2 0h0m2 0h0m2 0h0m2 0h0m2 0h0m2 0h0m2 0h0m2 0h0m2 0h0m2 0h0m2 0h0m2 0h0M6 16h0m2 0h0m2 0h0m2 0h0m2 0h0m2 0h0m2 0h0m2 0h0m2 0h0m2 0h0m2 0h0m2 0h0m2 0h0m2 0h0m2 0h0m2 0h0m2 0h0m2 0h0m2 0h0M7 17h0m2 0h0m2 0h0m2 0h0m2 0h0m2 0h0m2 0h0m2 0h0m2 0h0m2 0h0m2 0h0m2 0h0m2 0h0m2 0h0m2 0h0m2 0h0m2 0h0m2 0h0m2 0h0M6 18h0m2 0h0m2 0h0m2 0h0m2 0h0m2 0h0m2 0h0m2 0h0m2 0h0m2 0h0m2 0h0m2 0h0m2 0h0m2 0h0m2 0h0m2 0h0m2 0h0m2 0h0m2 0h0M5 19h0m2 0h0m2 0h0m2 0h0m2 0h0m2 0h0m2 0h0m2 0h0m2 0h0m2 0h0m2 0h0m2 0h0m2 0h0m2 0h0m2 0h0m2 0h0m2 0h0m2 0h0m2 0h0m2 0h0M6 20h0m2 0h0m2 0h0m2 0h0m2 0h0m2 0h0m2 0h0m2 0h0m2 0h0m2 0h0m2 0h0m2 0h0m2 0h0m2 0h0m2 0h0m2 0h0m2 0h0m2 0h0m2 0h0M7 21h0m2 0h0m2 0h0m2 0h0m2 0h0m2 0h0m2 0h0m2 0h0m2 0h0m2 0h0m2 0h0m2 0h0m2 0h0m2 0h0m2 0h0m2 0h0m2 0h0m2 0h0m2 0h0M6 22h0m2 0h0m2 0h0m2 0h0m2 0h0m2 0h0m2 0h0m2 0h0m2 0h0m2 0h0m2 0h0m2 0h0m2 0h0m2 0h0m2 0h0m2 0h0m2 0h0m2 0h0m2 0h0M9 23h0m2 0h0m2 0h0m2 0h0m2 0h0m2 0h0m2 0h0m2 0h0m2 0h0m2 0h0m2 0h0m2 0h0m2 0h0m2 0h0m2 0h0m2 0h0m2 0h0m2 0h0M12 24h0m2 0h0m2 0h0m2 0h0m2 0h0m2 0h0m2 0h0m2 0h0m2 0h0m2 0h0m2 0h0m2 0h0m2 0h0m2 0h0m2 0h0m2 0h0M15 25h0m2 0h0m2 0h0m2 0h0m2 0h0m2 0h0m2 0h0m2 0h0M16 26h0m2 0h0m2 0h0m2 0h0m2 0h0m2 0h0m2 0h0m2 0h0" stroke="#f6801f" stroke-width="4" stroke-linecap="round" vector-effect="non-scaling-stroke" fill="none"/>
<path transform="translate(705.00,2184.00) scale(3.2400,5.6370)" d="M-16 22h0m2 0h0m2 0h0m2 0h0m2 0h0m2 0h0m2 0h0M-21 23h0m2 0h0m2 0h0m2 0h0m2 0h0m2 0h0m2 0h0m2 0h0m2 0h0m2 0h0M-26 24h0m2 0h0m2 0h0m2 0h0m2 0h0m2 0h0m2 0h0m2 0h0m2 0h0m2 0h0m2 0h0m2 0h0m2 0h0M-29 25h0m2 0h0m2 0h0m2 0h0m2 0h0m2 0h0m2 0h0m2 0h0m2 0h0m2 0h0m2 0h0m2 0h0m2 0h0m2 0h0m2 0h0M-28 26h0m2 0h0m2 0h0m2 0h0m2 0h0m2 0h0m2 0h0m2 0h0m2 0h0m2 0h0m2 0h0m2 0h0m2 0h0m2 0h0M-29 27h0m2 0h0m2 0h0m2 0h0m2 0h0m2 0h0m2 0h0m2 0h0m2 0h0m2 0h0m2 0h0m2 0h0m2 0h0m2 0h0m2 0h0M-28 28h0m2 0h0m2 0h0m2 0h0m2 0h0m2 0h0m2 0h0m2 0h0m2 0h0m2 0h0m2 0h0m2 0h0m2 0h0m2 0h0M-29 29h0m2 0h0m2 0h0m2 0h0m2 0h0m2 0h0m2 0h0m2 0h0m2 0h0m2 0h0m2 0h0m2 0h0m2 0h0m2 0h0m2 0h0M-28 30h0m2 0h0m2 0h0m2 0h0m2 0h0m2 0h0m2 0h0m2 0h0m2 0h0m2 0h0m2 0h0m2 0h0m2 0h0m2 0h0M-29 31h0m2 0h0m2 0h0m2 0h0m2 0h0m2 0h0m2 0h0m2 0h0m2 0h0m2 0h0m2 0h0m2 0h0m2 0h0m2 0h0m2 0h0M-28 32h0m2 0h0m2 0h0m2 0h0m2 0h0m2 0h0m2 0h0m2 0h0m2 0h0m2 0h0m2 0h0m2 0h0m2 0h0m2 0h0M-27 33h0m2 0h0m2 0h0m2 0h0m2 0h0m2 0h0m2 0h0m2 0h0m2 0h0m2 0h0m2 0h0m2 0h0m2 0h0m2 0h0" stroke="#a8cbee" stroke-width="4" stroke-linecap="round" vector-effect="non-scaling-stroke" fill="none"/>
<path transform="translate(705.00,2184.00) scale(3.2400,5.6370)" d="M0 22h0m2 0h0m2 0h0M-1 23h0m2 0h0m2 0h0m2 0h0m2 0h0M0 24h0m2 0h0m2 0h0m2 0h0m2 0h0m2 0h0M1 25h0m2 0h0m2 0h0m2 0h0m2 0h0m2 0h0m2 0h0M0 26h0m2 0h0m2 0h0m2 0h0m2 0h0m2 0h0m2 0h0m2 0h0M1 27h0m2 0h0m2 0h0m2 0h0m2 0h0m2 0h0m2 0h0m2 0h0m2 0h0m2 0h0m2 0h0m2 0h0m2 0h0m2 0h0m2 0h0M0 28h0m2 0h0m2 0h0m2 0h0m2 0h0m2 0h0m2 0h0m2 0h0m2 0h0m2 0h0m2 0h0m2 0h0m2 0h0m2 0h0m2 0h0m2 0h0M1 29h0m2 0h0m2 0h0m2 0h0m2 0h0m2 0h0m2 0h0m2 0h0m2 0h0m2 0h0m2 0h0m2 0h0m2 0h0m2 0h0m2 0h0M0 30h0m2 0h0m2 0h0m2 0h0m2 0h0m2 0h0m2 0h0m2 0h0m2 0h0m2 0h0m2 0h0m2 0h0m2 0h0m2 0h0m2 0h0m2 0h0M1 31h0m2 0h0m2 0h0m2 0h0m2 0h0m2 0h0m2 0h0m2 0h0m2 0h0m2 0h0m2 0h0m2 0h0m2 0h0m2 0h0m2 0h0m2 0h0M0 32h0m2 0h0m2 0h0m2 0h0m2 0h0m2 0h0m2 0h0m2 0h0m2 0h0m2 0h0m2 0h0m2 0h0m2 0h0m2 0h0m2 0h0m2 0h0M1 33h0m2 0h0m2 0h0m2 0h0m2 0h0m2 0h0m2 0h0m2 0h0m2 0h0m2 0h0m2 0h0m2 0h0" stroke="#f09088" stroke-width="4" stroke-linecap="round" vector-effect="non-scaling-stroke" fill="none"/>
<polygon points="688.1,2270.4 695.1,2266.4 705.1,2268.4 709.1,2281.4 708.1,2296.4 701.1,2298.4 693.1,2291.4" fill="#9fa2a5"/>
<polygon points="643.1,2303.4 647.1,2301.4 650.1,2305.4 646.1,2309.4" fill="#9fa2a5"/>
</g>
<clipPath id="dclip2"><rect x="1015.5" y="2006.4" width="439.8" height="382.5999999999999"/></clipPath>
<g clip-path="url(#dclip2)">
<rect x="1015.5" y="2006.4" width="439.8" height="382.6" fill="#9fa2a5"/>
<path d="M1445.2 2026.8h0M1445.2 2043.6h0M1445.2 2060.4h0M1445.2 2077.2h0M1445.2 2094.0h0M1445.2 2110.8h0M1445.2 2127.6h0M1445.2 2144.4h0M1445.2 2161.2h0M1445.2 2178.0h0M1445.2 2194.8h0M1445.2 2211.6h0M1445.2 2228.4h0M1445.2 2245.2h0M1445.2 2262.0h0M1445.2 2278.8h0M1445.2 2295.6h0M1445.2 2312.4h0M1445.2 2329.2h0M1445.2 2346.0h0M1445.2 2362.8h0M1445.2 2379.6h0M1450.8 2018.4h0M1450.8 2035.2h0M1450.8 2052.0h0M1450.8 2068.8h0M1450.8 2085.6h0M1450.8 2102.4h0M1450.8 2119.2h0M1450.8 2136.0h0M1450.8 2152.8h0M1450.8 2169.6h0M1450.8 2186.4h0M1450.8 2203.2h0M1450.8 2220.0h0M1450.8 2236.8h0M1450.8 2253.6h0M1450.8 2270.4h0M1450.8 2287.2h0M1450.8 2304.0h0M1450.8 2320.8h0M1450.8 2337.6h0M1450.8 2354.4h0M1450.8 2371.2h0M1450.8 2388.0h0M1456.4 2026.8h0M1456.4 2043.6h0M1456.4 2060.4h0M1456.4 2077.2h0M1456.4 2094.0h0M1456.4 2110.8h0M1456.4 2127.6h0M1456.4 2144.4h0M1456.4 2161.2h0M1456.4 2178.0h0M1456.4 2194.8h0M1456.4 2211.6h0M1456.4 2228.4h0M1456.4 2245.2h0M1456.4 2262.0h0M1456.4 2278.8h0M1456.4 2295.6h0M1456.4 2312.4h0M1456.4 2329.2h0M1456.4 2346.0h0M1456.4 2362.8h0M1456.4 2379.6h0" stroke="#878a90" stroke-width="7" stroke-linecap="round" fill="none"/>
<path d="M1445.2 2026.8h0M1445.2 2043.6h0M1445.2 2060.4h0M1445.2 2077.2h0M1445.2 2094.0h0M1445.2 2110.8h0M1445.2 2127.6h0M1445.2 2144.4h0M1445.2 2161.2h0M1445.2 2178.0h0M1445.2 2194.8h0M1445.2 2211.6h0M1445.2 2228.4h0M1445.2 2245.2h0M1445.2 2262.0h0M1445.2 2278.8h0M1445.2 2295.6h0M1445.2 2312.4h0M1445.2 2329.2h0M1445.2 2346.0h0M1445.2 2362.8h0M1445.2 2379.6h0M1450.8 2018.4h0M1450.8 2035.2h0M1450.8 2052.0h0M1450.8 2068.8h0M1450.8 2085.6h0M1450.8 2102.4h0M1450.8 2119.2h0M1450.8 2136.0h0M1450.8 2152.8h0M1450.8 2169.6h0M1450.8 2186.4h0M1450.8 2203.2h0M1450.8 2220.0h0M1450.8 2236.8h0M1450.8 2253.6h0M1450.8 2270.4h0M1450.8 2287.2h0M1450.8 2304.0h0M1450.8 2320.8h0M1450.8 2337.6h0M1450.8 2354.4h0M1450.8 2371.2h0M1450.8 2388.0h0M1456.4 2026.8h0M1456.4 2043.6h0M1456.4 2060.4h0M1456.4 2077.2h0M1456.4 2094.0h0M1456.4 2110.8h0M1456.4 2127.6h0M1456.4 2144.4h0M1456.4 2161.2h0M1456.4 2178.0h0M1456.4 2194.8h0M1456.4 2211.6h0M1456.4 2228.4h0M1456.4 2245.2h0M1456.4 2262.0h0M1456.4 2278.8h0M1456.4 2295.6h0M1456.4 2312.4h0M1456.4 2329.2h0M1456.4 2346.0h0M1456.4 2362.8h0M1456.4 2379.6h0" stroke="#999ca1" stroke-width="4.2" stroke-linecap="round" fill="none"/>
<polygon points="1032.5,2072.4 1045.5,2068.4 1075.5,2058.4 1090.5,2056.4 1133.5,2054.4 1150.5,2053.4 1155.5,2051.4 1185.5,2051.4 1215.5,2051.4 1292.5,2050.4 1311.5,2041.4 1327.5,2046.4 1352.5,2050.4 1361.5,2061.4 1374.5,2063.4 1393.5,2071.4 1405.5,2080.4 1414.5,2092.4 1424.5,2099.4 1436.5,2114.4 1445.5,2126.4 1455.5,2136.4 1455.5,2342.4 1443.5,2348.4 1424.5,2356.4 1399.5,2349.9 1361.5,2351.4 1348.5,2358.4 1323.5,2365.4 1301.0,2358.4 1273.5,2367.4 1235.5,2372.4 1173.0,2372.4 1166.5,2375.4 1093.5,2372.4 1078.5,2367.4 1063.5,2366.4 1059.5,2361.4 1060.5,2336.4 1063.5,2317.4 1068.5,2303.4 1072.5,2285.4 1077.5,2275.4 1081.0,2257.9 1086.0,2240.4 1089.5,2222.4 1083.5,2212.4 1074.5,2197.4 1065.5,2189.4 1057.5,2182.4 1038.5,2182.4 1035.5,2146.4 1034.5,2106.4 1032.5,2076.4" fill="#783f71"/>
<polygon points="1434.5,2112.4 1445.5,2126.4 1455.5,2136.4 1455.5,2342.4 1443.5,2348.4 1434.5,2352.4" fill="#6c3666"/>
<polyline points="1045.5,2066.9 1075.5,2056.9 1090.5,2054.9 1133.5,2052.9 1150.5,2051.9 1155.5,2049.9 1185.5,2049.9 1215.5,2049.9 1292.5,2048.9 1311.5,2039.9 1327.5,2044.9 1352.5,2048.9 1361.5,2059.9 1374.5,2061.9 1393.5,2069.9 1405.5,2078.9 1414.5,2090.9 1424.5,2097.9 1436.5,2112.9 1445.5,2124.9 1455.5,2134.9" fill="none" stroke="#3f1d3a" stroke-width="2.6" stroke-dasharray="5 1 2 3 1 2 6 2 1 4 3 1" stroke-opacity="0.7"/>
<path transform="translate(1177.40,2184.00) scale(3.2400,5.6370)" d="M41 -25h0m2 0h0M38 -24h0m2 0h0m2 0h0m2 0h0m2 0h0m2 0h0m2 0h0M-13 -23h0m2 0h0m2 0h0m64 0h0M-32 -22h0m2 0h0m2 0h0m84 0h0M57 -21h0m2 0h0m2 0h0M58 -20h0m2 0h0m2 0h0m2 0h0m2 0h0M57 -19h0m2 0h0m2 0h0m2 0h0m2 0h0m2 0h0M2 -18h0m56 0h0m2 0h0m2 0h0m2 0h0m2 0h0m2 0h0m2 0h0M59 -17h0m2 0h0m2 0h0m2 0h0m2 0h0m2 0h0m2 0h0M28 -16h0m32 0h0m2 0h0m2 0h0m2 0h0m2 0h0m2 0h0m2 0h0M61 -15h0m2 0h0m2 0h0m2 0h0m2 0h0m2 0h0m2 0h0m2 0h0M46 -14h0m16 0h0m2 0h0m2 0h0m2 0h0m2 0h0m2 0h0m2 0h0m2 0h0M51 -13h0m12 0h0m2 0h0m2 0h0m2 0h0m2 0h0m2 0h0m2 0h0m2 0h0m2 0h0M64 -12h0m2 0h0m2 0h0m2 0h0m2 0h0m2 0h0m2 0h0m2 0h0M67 -11h0m2 0h0m2 0h0m2 0h0m2 0h0m2 0h0m2 0h0M58 -10h0m10 0h0m2 0h0m2 0h0m2 0h0m2 0h0m2 0h0M5 -9h0m66 0h0m2 0h0m2 0h0m2 0h0m2 0h0M62 -8h0m10 0h0m2 0h0m2 0h0m2 0h0M51 -7h0m12 0h0m10 0h0m2 0h0m2 0h0m2 0h0M32 -6h0m6 0h0m6 0h0m8 0h0m22 0h0m2 0h0m2 0h0M41 -5h0m34 0h0m2 0h0m2 0h0M34 -4h0m4 0h0m16 0h0m22 0h0m2 0h0M45 -3h0m2 0h0m2 0h0m10 0h0m18 0h0m2 0h0M26 -2h0m8 0h0m30 0h0m14 0h0M25 -1h0m6 0h0m32 0h0m16 0h0M-36 0h0m62 0h0m40 0h0m8 0h0M31 1h0m4 0h0m2 0h0m36 0h0m2 0h0M-2 2h0m24 0h0m6 0h0m38 0h0m4 0h0M-31 3h0m6 0h0m20 0h0m2 0h0m20 0h0m2 0h0m2 0h0m2 0h0m8 0h0m46 0h0M-8 4h0m2 0h0m2 0h0m78 0h0M-25 5h0m12 0h0m2 0h0m2 0h0m2 0h0m2 0h0m2 0h0m76 0h0M-26 6h0m6 0h0m2 0h0m2 0h0m2 0h0m2 0h0m2 0h0m2 0h0m2 0h0m2 0h0m44 0h0m34 0h0m4 0h0M-25 7h0m2 0h0m2 0h0m10 0h0m2 0h0m2 0h0m2 0h0m2 0h0m2 0h0m2 0h0m38 0h0m2 0h0m38 0h0M0 8h0m18 0h0m2 0h0m2 0h0m2 0h0m6 0h0m2 0h0m2 0h0M9 9h0m2 0h0m2 0h0M5 11h0M6 12h0M5 13h0M4 14h0m2 0h0M5 15h0M4 16h0m2 0h0M5 17h0m2 0h0M-32 18h0m36 0h0m2 0h0M-9 19h0m2 0h0m2 0h0m8 0h0m76 0h0M-28 20h0m16 0h0m4 0h0m2 0h0m2 0h0m2 0h0m74 0h0m4 0h0m2 0h0M-1 21h0m72 0h0m6 0h0M70 22h0m4 0h0m2 0h0m2 0h0M-1 23h0m70 0h0m4 0h0m2 0h0m2 0h0M64 24h0m8 0h0m2 0h0m2 0h0m2 0h0M-35 25h0m104 0h0m2 0h0m2 0h0m2 0h0m2 0h0m2 0h0M70 26h0m4 0h0m2 0h0m2 0h0M-35 27h0m92 0h0m10 0h0m2 0h0m2 0h0m4 0h0m2 0h0m2 0h0M-36 28h0m94 0h0m2 0h0m2 0h0m2 0h0m2 0h0m2 0h0m2 0h0m2 0h0m2 0h0m4 0h0M57 29h0m2 0h0m2 0h0m2 0h0m2 0h0m2 0h0m2 0h0m4 0h0m4 0h0m2 0h0M-36 30h0m110 0h0m2 0h0m2 0h0M46 32h0" stroke="#8a62aa" stroke-width="4" stroke-linecap="round" vector-effect="non-scaling-stroke" fill="none"/>
<path transform="translate(1177.40,2184.00) scale(3.2400,5.6370)" d="M-7 -23h0m2 0h0m2 0h0m2 0h0m2 0h0m2 0h0m2 0h0m2 0h0m2 0h0m2 0h0m2 0h0m2 0h0m2 0h0m2 0h0m2 0h0m2 0h0m2 0h0m2 0h0m2 0h0m2 0h0m2 0h0m2 0h0m2 0h0m2 0h0m2 0h0m2 0h0m2 0h0m2 0h0m2 0h0m2 0h0m2 0h0M-4 -22h0m2 0h0m2 0h0m2 0h0m2 0h0m2 0h0m2 0h0m2 0h0m2 0h0m2 0h0m2 0h0m2 0h0m2 0h0m2 0h0m2 0h0m2 0h0m2 0h0m2 0h0m2 0h0m2 0h0m2 0h0m2 0h0m2 0h0m2 0h0m2 0h0m2 0h0m2 0h0m2 0h0m2 0h0m2 0h0M-3 -21h0m2 0h0m2 0h0m2 0h0m2 0h0m2 0h0m2 0h0m2 0h0m2 0h0m2 0h0m2 0h0m2 0h0m2 0h0m2 0h0m2 0h0m2 0h0m2 0h0m2 0h0m2 0h0m2 0h0m2 0h0m2 0h0m2 0h0m2 0h0m2 0h0m2 0h0m2 0h0m2 0h0m2 0h0m2 0h0M0 -20h0m2 0h0m2 0h0m2 0h0m2 0h0m2 0h0m2 0h0m2 0h0m2 0h0m2 0h0m2 0h0m2 0h0m2 0h0m2 0h0m2 0h0m2 0h0m2 0h0m2 0h0m2 0h0m2 0h0m2 0h0m2 0h0m2 0h0m2 0h0m2 0h0m2 0h0m2 0h0m2 0h0m2 0h0M1 -19h0m2 0h0m2 0h0m2 0h0m2 0h0m2 0h0m2 0h0m2 0h0m2 0h0m2 0h0m2 0h0m2 0h0m2 0h0m2 0h0m2 0h0m2 0h0m2 0h0m2 0h0m2 0h0m2 0h0m2 0h0m2 0h0m2 0h0m2 0h0m2 0h0m2 0h0m2 0h0m2 0h0M4 -18h0m2 0h0m2 0h0m2 0h0m2 0h0m2 0h0m2 0h0m2 0h0m2 0h0m2 0h0m2 0h0m2 0h0m2 0h0m2 0h0m2 0h0m2 0h0m2 0h0m2 0h0m2 0h0m2 0h0m2 0h0m2 0h0m2 0h0m2 0h0m2 0h0m2 0h0m2 0h0M5 -17h0m2 0h0m2 0h0m2 0h0m2 0h0m2 0h0m2 0h0m2 0h0m2 0h0m2 0h0m2 0h0m2 0h0m2 0h0m2 0h0m2 0h0m2 0h0m2 0h0m2 0h0m2 0h0m2 0h0m2 0h0m2 0h0m2 0h0m2 0h0m2 0h0m2 0h0m2 0h0M30 -16h0m2 0h0m2 0h0m2 0h0m2 0h0m2 0h0m2 0h0m2 0h0m2 0h0m2 0h0m2 0h0m2 0h0m2 0h0m2 0h0m2 0h0M41 -15h0m2 0h0m2 0h0m2 0h0m2 0h0m2 0h0m2 0h0m2 0h0m2 0h0m2 0h0M48 -14h0m2 0h0m2 0h0m2 0h0m2 0h0m2 0h0m2 0h0M53 -13h0m2 0h0m2 0h0m2 0h0m2 0h0M54 -12h0m2 0h0m2 0h0m2 0h0m2 0h0M57 -11h0m2 0h0m2 0h0m2 0h0m2 0h0M60 -10h0m2 0h0m2 0h0m2 0h0M61 -9h0m2 0h0m2 0h0m2 0h0m2 0h0M64 -8h0m2 0h0m2 0h0m2 0h0M65 -7h0m2 0h0m2 0h0m2 0h0M66 -6h0m2 0h0m2 0h0m2 0h0M67 -5h0m2 0h0m2 0h0m2 0h0M70 -4h0m2 0h0m2 0h0M73 -3h0m2 0h0M76 -2h0M75 -1h0m2 0h0M76 0h0m2 0h0M77 1h0m2 0h0M78 2h0M79 3h0" stroke="#f6801f" stroke-width="4" stroke-linecap="round" vector-effect="non-scaling-stroke" fill="none"/>
<path transform="translate(1177.40,2184.00) scale(3.2400,5.6370)" d="M-26 -22h0m2 0h0m2 0h0m2 0h0m2 0h0m2 0h0m2 0h0m2 0h0m2 0h0m2 0h0m2 0h0M-35 -21h0m2 0h0m4 0h0m4 0h0m2 0h0m2 0h0m2 0h0m2 0h0m2 0h0m2 0h0m2 0h0m2 0h0m2 0h0m2 0h0M-42 -20h0m2 0h0m2 0h0m2 0h0m2 0h0m2 0h0m2 0h0m4 0h0m2 0h0m2 0h0m2 0h0m2 0h0m2 0h0m2 0h0m2 0h0m2 0h0m2 0h0m2 0h0m2 0h0m2 0h0M-43 -19h0m4 0h0m6 0h0m6 0h0m2 0h0m2 0h0m2 0h0m2 0h0m2 0h0m2 0h0m2 0h0m2 0h0m2 0h0m2 0h0m2 0h0m2 0h0m2 0h0M-44 -18h0m2 0h0m2 0h0m8 0h0m4 0h0m2 0h0m2 0h0m2 0h0m2 0h0m2 0h0m2 0h0m2 0h0m2 0h0m2 0h0m2 0h0m2 0h0m2 0h0m2 0h0m2 0h0M-41 -17h0m4 0h0m2 0h0m4 0h0m4 0h0m2 0h0m2 0h0m2 0h0m2 0h0m2 0h0m2 0h0m2 0h0m2 0h0m2 0h0m2 0h0m2 0h0m2 0h0m2 0h0m2 0h0m2 0h0M-44 -16h0m2 0h0m2 0h0m2 0h0m2 0h0m2 0h0m6 0h0m4 0h0m2 0h0m2 0h0m2 0h0m2 0h0m2 0h0m2 0h0m2 0h0m2 0h0m2 0h0m2 0h0m2 0h0m2 0h0m2 0h0m2 0h0M-41 -15h0m6 0h0m4 0h0m2 0h0m2 0h0m2 0h0m2 0h0m2 0h0m2 0h0m2 0h0m2 0h0m2 0h0m2 0h0m2 0h0m2 0h0m2 0h0m2 0h0m2 0h0m2 0h0m2 0h0M-44 -14h0m8 0h0m6 0h0m4 0h0m2 0h0m2 0h0m2 0h0m2 0h0m2 0h0m2 0h0m2 0h0m2 0h0m2 0h0m2 0h0m2 0h0m2 0h0m2 0h0m2 0h0m2 0h0M-39 -13h0m4 0h0m2 0h0m2 0h0m8 0h0m4 0h0m2 0h0m12 0h0m2 0h0m2 0h0m2 0h0m2 0h0M-40 -12h0m2 0h0m4 0h0m4 0h0m2 0h0m2 0h0m4 0h0m2 0h0m2 0h0m2 0h0m10 0h0m4 0h0M-43 -11h0m8 0h0m2 0h0m2 0h0m2 0h0m12 0h0m2 0h0m2 0h0m4 0h0m2 0h0m2 0h0m2 0h0m2 0h0m2 0h0M-42 -10h0m2 0h0m4 0h0m6 0h0m2 0h0m2 0h0m4 0h0m4 0h0m2 0h0m4 0h0m4 0h0m2 0h0m2 0h0m6 0h0m2 0h0M-43 -9h0m4 0h0m2 0h0m2 0h0m4 0h0m4 0h0m2 0h0m24 0h0m2 0h0m2 0h0M-40 -8h0m4 0h0m2 0h0m2 0h0m4 0h0m2 0h0M-43 -7h0m8 0h0m2 0h0m2 0h0m8 0h0M-38 -6h0m2 0h0m4 0h0m2 0h0m2 0h0M-43 -5h0m4 0h0m2 0h0m2 0h0m2 0h0m2 0h0m6 0h0M-42 -4h0m2 0h0m4 0h0m2 0h0m2 0h0m6 0h0m2 0h0M-39 -3h0m2 0h0m2 0h0m2 0h0m2 0h0m2 0h0m2 0h0m2 0h0M-38 -2h0m2 0h0m2 0h0m2 0h0m2 0h0M-39 -1h0m2 0h0m6 0h0m2 0h0m4 0h0M-34 0h0m2 0h0m6 0h0M-33 1h0m2 0h0m2 0h0m2 0h0M-32 2h0m6 0h0M-29 3h0m2 0h0M-30 4h0m2 0h0M-27 5h0M-27 7h0" stroke="#dc74b4" stroke-width="4" stroke-linecap="round" vector-effect="non-scaling-stroke" fill="none"/>
<path transform="translate(1177.40,2184.00) scale(3.2400,5.6370)" d="M-37 -21h0m6 0h0m4 0h0M-28 -20h0M-31 -19h0M-36 -18h0m6 0h0M-43 -17h0m4 0h0m6 0h0M-32 -16h0m2 0h0m4 0h0M-43 -15h0m6 0h0M-40 -14h0m2 0h0m6 0h0m4 0h0M-43 -13h0m14 0h0m4 0h0m12 0h0m2 0h0m2 0h0M-44 -12h0m2 0h0m6 0h0m22 0h0m2 0h0m2 0h0m2 0h0m4 0h0M-23 -11h0m4 0h0m8 0h0m14 0h0M-32 -10h0m8 0h0m4 0h0m18 0h0M-41 -9h0m18 0h0m14 0h0m2 0h0m2 0h0m2 0h0M-41 -7h0m2 0h0m2 0h0m10 0h0m2 0h0M-42 -6h0m2 0h0m14 0h0M-41 -5h0m12 0h0m2 0h0m4 0h0M-38 -4h0m8 0h0M-41 -3h0M-42 -2h0m16 0h0m2 0h0M-41 -1h0m6 0h0m8 0h0M-28 0h0M-28 2h0M-29 5h0" stroke="#dccbe6" stroke-width="4" stroke-linecap="round" vector-effect="non-scaling-stroke" fill="none"/>
<path transform="translate(1177.40,2184.00) scale(3.2400,5.6370)" d="M-41 -19h0m4 0h0m2 0h0m6 0h0M-38 -18h0m4 0h0M-29 -17h0M-39 -15h0m6 0h0M-42 -14h0m8 0h0M-41 -13h0m4 0h0m10 0h0m6 0h0m6 0h0m8 0h0M-32 -12h0m8 0h0m24 0h0m2 0h0m2 0h0M-41 -11h0m2 0h0m2 0h0m10 0h0m2 0h0m4 0h0M-38 -10h0m4 0h0m20 0h0m4 0h0m10 0h0M-33 -9h0m4 0h0M-42 -8h0m4 0h0m8 0h0m6 0h0M-29 -7h0M-34 -6h0m10 0h0M-28 -4h0M-43 -3h0M-40 -2h0m12 0h0M-33 -1h0M-30 0h0M-25 1h0M-30 2h0M-26 4h0" stroke="#f4b4ce" stroke-width="4" stroke-linecap="round" vector-effect="non-scaling-stroke" fill="none"/>
<path transform="translate(1177.40,2184.00) scale(3.2400,5.6370)" d="M6 -16h0m2 0h0m2 0h0m2 0h0m2 0h0m2 0h0m2 0h0m2 0h0m2 0h0m2 0h0m2 0h0M5 -15h0m2 0h0m2 0h0m2 0h0m2 0h0m2 0h0m2 0h0m2 0h0m2 0h0m2 0h0m2 0h0m2 0h0m2 0h0m2 0h0m2 0h0M6 -14h0m2 0h0m2 0h0m2 0h0m2 0h0m2 0h0m2 0h0m2 0h0m2 0h0m2 0h0m2 0h0m2 0h0m2 0h0m2 0h0m2 0h0M5 -13h0m2 0h0m2 0h0m2 0h0m2 0h0m2 0h0m2 0h0m2 0h0m2 0h0m2 0h0m2 0h0m2 0h0m2 0h0m2 0h0m2 0h0m2 0h0m2 0h0M6 -12h0m2 0h0m2 0h0m2 0h0m2 0h0m2 0h0m2 0h0m2 0h0m2 0h0m2 0h0m2 0h0m2 0h0m2 0h0m2 0h0m2 0h0m2 0h0m2 0h0m2 0h0M5 -11h0m2 0h0m2 0h0m2 0h0m2 0h0m2 0h0m2 0h0m2 0h0m2 0h0m2 0h0m2 0h0m2 0h0m2 0h0m2 0h0m2 0h0m2 0h0m2 0h0m2 0h0m2 0h0m2 0h0M6 -10h0m2 0h0m2 0h0m2 0h0m2 0h0m2 0h0m2 0h0m2 0h0m2 0h0m2 0h0m2 0h0m2 0h0m2 0h0m2 0h0m2 0h0m2 0h0m2 0h0m2 0h0m2 0h0m2 0h0M7 -9h0m2 0h0m2 0h0m2 0h0m2 0h0m2 0h0m2 0h0m2 0h0m2 0h0m2 0h0m2 0h0m2 0h0m2 0h0m2 0h0m2 0h0m2 0h0m2 0h0m2 0h0m2 0h0m2 0h0m2 0h0M6 -8h0m2 0h0m2 0h0m2 0h0m2 0h0m2 0h0m2 0h0m2 0h0m2 0h0m2 0h0m2 0h0m2 0h0m2 0h0m2 0h0m2 0h0m2 0h0m2 0h0m2 0h0m2 0h0m2 0h0m2 0h0m2 0h0M7 -7h0m2 0h0m2 0h0m2 0h0m2 0h0m2 0h0m2 0h0m2 0h0m2 0h0m2 0h0m2 0h0m2 0h0m2 0h0m2 0h0m2 0h0m2 0h0m2 0h0m2 0h0m2 0h0m2 0h0m2 0h0m2 0h0M16 -6h0m2 0h0m2 0h0m2 0h0m2 0h0m2 0h0" stroke="#9a5a3e" stroke-width="4" stroke-linecap="round" vector-effect="non-scaling-stroke" fill="none"/>
<path transform="translate(1177.40,2184.00) scale(3.2400,5.6370)" d="M35 -15h0m2 0h0m2 0h0M36 -14h0m2 0h0m2 0h0m2 0h0m2 0h0M39 -13h0m2 0h0m2 0h0m2 0h0m2 0h0m2 0h0M42 -12h0m2 0h0m2 0h0m2 0h0m2 0h0m2 0h0M45 -11h0m2 0h0m2 0h0m2 0h0m2 0h0m2 0h0M46 -10h0m2 0h0m2 0h0m2 0h0m2 0h0m2 0h0M49 -9h0m2 0h0m2 0h0m2 0h0m2 0h0m2 0h0M50 -8h0m2 0h0m2 0h0m2 0h0m2 0h0m2 0h0M53 -7h0m2 0h0m2 0h0m2 0h0m2 0h0M54 -6h0m2 0h0m2 0h0m2 0h0m2 0h0m2 0h0M65 -5h0M73 7h0m2 0h0m2 0h0M72 8h0m4 0h0m2 0h0M73 9h0m2 0h0m2 0h0m2 0h0M74 10h0m2 0h0m2 0h0M75 11h0m2 0h0M78 12h0M75 13h0m2 0h0m2 0h0M76 14h0M75 15h0m2 0h0m2 0h0M76 16h0m2 0h0" stroke="#a0e0ea" stroke-width="4" stroke-linecap="round" vector-effect="non-scaling-stroke" fill="none"/>
<path transform="translate(1177.40,2184.00) scale(3.2400,5.6370)" d="M-21 -9h0m2 0h0m2 0h0m2 0h0m2 0h0m2 0h0M-22 -8h0m2 0h0m2 0h0m2 0h0m2 0h0m2 0h0m2 0h0m2 0h0m2 0h0m2 0h0m2 0h0m2 0h0m2 0h0m2 0h0M-21 -7h0m2 0h0m2 0h0m2 0h0m2 0h0m2 0h0m2 0h0m2 0h0m2 0h0m2 0h0m2 0h0m2 0h0m2 0h0m2 0h0M-22 -6h0m2 0h0m2 0h0m2 0h0m2 0h0m2 0h0m2 0h0m2 0h0m2 0h0m2 0h0m2 0h0m2 0h0m2 0h0m2 0h0M-21 -5h0m2 0h0m2 0h0m2 0h0m2 0h0m2 0h0m2 0h0m2 0h0m2 0h0m2 0h0m2 0h0M-22 -4h0m2 0h0m2 0h0m2 0h0m2 0h0m2 0h0m2 0h0m2 0h0m2 0h0m2 0h0m2 0h0M-23 -3h0m2 0h0m2 0h0m2 0h0m2 0h0m2 0h0m2 0h0m2 0h0m2 0h0m2 0h0m2 0h0M-22 -2h0m2 0h0m2 0h0m2 0h0m2 0h0m2 0h0m2 0h0m2 0h0m2 0h0m2 0h0m2 0h0M-23 -1h0m2 0h0m2 0h0m2 0h0m2 0h0m2 0h0m2 0h0m2 0h0m2 0h0m2 0h0m2 0h0M-24 0h0m2 0h0m2 0h0m2 0h0m2 0h0m2 0h0m2 0h0m2 0h0m2 0h0m2 0h0m2 0h0m2 0h0M-23 1h0m2 0h0m2 0h0m2 0h0m2 0h0m2 0h0m2 0h0m2 0h0m2 0h0m2 0h0m2 0h0M-24 2h0m2 0h0m2 0h0m2 0h0m2 0h0m2 0h0m2 0h0m2 0h0m2 0h0m2 0h0m2 0h0M-23 3h0m2 0h0m2 0h0m2 0h0m2 0h0m2 0h0m2 0h0m2 0h0m2 0h0M-24 4h0m2 0h0m2 0h0m2 0h0m2 0h0m2 0h0m2 0h0m2 0h0M-23 5h0m2 0h0m2 0h0m2 0h0m2 0h0M-24 6h0m2 0h0" stroke="#f8b068" stroke-width="4" stroke-linecap="round" vector-effect="non-scaling-stroke" fill="none"/>
<path transform="translate(1177.40,2184.00) scale(3.2400,5.6370)" d="M6 -6h0m2 0h0m2 0h0m2 0h0m2 0h0m14 0h0m2 0h0m4 0h0m2 0h0m4 0h0m2 0h0m4 0h0m2 0h0m2 0h0M7 -5h0m6 0h0m2 0h0m2 0h0m8 0h0m4 0h0m2 0h0m2 0h0m2 0h0m2 0h0m2 0h0m4 0h0m2 0h0m2 0h0m2 0h0m2 0h0m2 0h0m2 0h0m2 0h0m2 0h0m2 0h0m2 0h0M0 -4h0m6 0h0m8 0h0m6 0h0m2 0h0m6 0h0m2 0h0m2 0h0m4 0h0m4 0h0m2 0h0m2 0h0m2 0h0m2 0h0m2 0h0m2 0h0m4 0h0m2 0h0m2 0h0m2 0h0m2 0h0m2 0h0m2 0h0M11 -3h0m12 0h0m2 0h0m12 0h0m4 0h0m10 0h0m2 0h0m2 0h0m2 0h0m4 0h0m2 0h0m2 0h0m2 0h0m2 0h0m2 0h0M0 -2h0m16 0h0m4 0h0m34 0h0m2 0h0m2 0h0m2 0h0m2 0h0m4 0h0m2 0h0m2 0h0m2 0h0M-1 -1h0m16 0h0m6 0h0m36 0h0m2 0h0m2 0h0m4 0h0m2 0h0m2 0h0m2 0h0m2 0h0M2 0h0m14 0h0m4 0h0m18 0h0m20 0h0m2 0h0m2 0h0m2 0h0m4 0h0m2 0h0m2 0h0M-1 1h0m4 0h0m2 0h0m4 0h0m4 0h0m50 0h0m2 0h0m2 0h0m2 0h0m2 0h0M4 2h0m2 0h0m58 0h0m4 0h0m4 0h0m2 0h0m2 0h0M5 3h0m8 0h0m54 0h0m2 0h0m2 0h0m2 0h0m2 0h0M-2 4h0m2 0h0m64 0h0m4 0h0m2 0h0m2 0h0m4 0h0m2 0h0M-1 5h0m4 0h0m66 0h0m2 0h0m4 0h0m2 0h0m2 0h0M-2 6h0m4 0h0m68 0h0m2 0h0m4 0h0M-19 7h0m2 0h0m2 0h0m86 0h0M-20 8h0m2 0h0m4 0h0m78 0h0m10 0h0M-27 9h0m10 0h0m8 0h0m10 0h0m52 0h0M-28 10h0m4 0h0m12 0h0m4 0h0m60 0h0m4 0h0m16 0h0M-17 11h0m84 0h0m4 0h0m2 0h0m6 0h0M-28 12h0m8 0h0m10 0h0m84 0h0m2 0h0M-29 13h0m16 0h0m10 0h0m76 0h0M-30 14h0m10 0h0m4 0h0m12 0h0m70 0h0m8 0h0m4 0h0M-29 15h0m102 0h0M-30 16h0m22 0h0m2 0h0m70 0h0m6 0h0m2 0h0m2 0h0M-29 17h0m6 0h0m2 0h0m4 0h0m2 0h0m8 0h0m72 0h0m2 0h0m4 0h0m2 0h0m2 0h0m2 0h0m2 0h0M-30 18h0m6 0h0m14 0h0m2 0h0m2 0h0m68 0h0m8 0h0m2 0h0m2 0h0m2 0h0m2 0h0M-31 19h0m4 0h0m2 0h0m2 0h0m2 0h0m4 0h0m86 0h0m2 0h0m2 0h0m2 0h0m2 0h0M-32 20h0m2 0h0m8 0h0m6 0h0m82 0h0m2 0h0m2 0h0m4 0h0M-33 21h0m98 0h0m2 0h0m2 0h0m4 0h0m2 0h0m4 0h0M-32 22h0m2 0h0m94 0h0m2 0h0m2 0h0m4 0h0M-31 23h0m94 0h0m2 0h0m2 0h0m4 0h0m8 0h0M-32 24h0m2 0h0m96 0h0m2 0h0m2 0h0M-33 25h0m2 0h0m90 0h0m2 0h0m2 0h0m2 0h0m2 0h0M-34 26h0m96 0h0m2 0h0m2 0h0m2 0h0m4 0h0M-33 27h0m2 0h0m90 0h0m2 0h0m2 0h0m2 0h0m8 0h0M-34 28h0m2 0h0m2 0h0m106 0h0M-33 29h0m2 0h0m102 0h0m4 0h0M-34 30h0m2 0h0M-35 31h0m2 0h0m2 0h0M-34 32h0m2 0h0" stroke="#1a7cc4" stroke-width="4" stroke-linecap="round" vector-effect="non-scaling-stroke" fill="none"/>
<path transform="translate(1177.40,2184.00) scale(3.2400,5.6370)" d="M1 -5h0m2 0h0m2 0h0m4 0h0m2 0h0m8 0h0m2 0h0m2 0h0m4 0h0M2 -4h0m2 0h0m4 0h0m2 0h0m2 0h0m4 0h0m2 0h0m6 0h0m2 0h0M-1 -3h0m2 0h0m2 0h0m2 0h0m2 0h0m2 0h0m4 0h0m2 0h0m2 0h0m2 0h0m2 0h0m6 0h0m2 0h0m2 0h0m2 0h0m2 0h0m4 0h0m4 0h0M2 -2h0m2 0h0m2 0h0m2 0h0m2 0h0m2 0h0m2 0h0m4 0h0m4 0h0m52 0h0M1 -1h0m2 0h0m2 0h0m2 0h0m2 0h0m2 0h0m2 0h0m4 0h0m2 0h0m4 0h0M0 0h0m4 0h0m2 0h0m2 0h0m2 0h0m2 0h0m2 0h0m4 0h0m4 0h0M1 1h0m6 0h0m4 0h0m4 0h0m2 0h0m2 0h0m2 0h0m2 0h0M0 2h0m2 0h0m6 0h0m2 0h0m2 0h0m2 0h0m2 0h0m2 0h0m2 0h0M-1 3h0m2 0h0m2 0h0m4 0h0m2 0h0m2 0h0m4 0h0M2 4h0m2 0h0M1 5h0M0 6h0M-13 7h0M-26 8h0m2 0h0m2 0h0m6 0h0m4 0h0m2 0h0m2 0h0m2 0h0m2 0h0m2 0h0M-25 9h0m2 0h0m2 0h0m2 0h0m4 0h0m2 0h0m2 0h0m4 0h0m2 0h0m2 0h0m2 0h0M-26 10h0m4 0h0m2 0h0m2 0h0m2 0h0m2 0h0m4 0h0m4 0h0m2 0h0m2 0h0m2 0h0M-27 11h0m2 0h0m2 0h0m2 0h0m2 0h0m4 0h0m2 0h0m2 0h0m2 0h0m2 0h0m2 0h0m2 0h0m2 0h0M-26 12h0m2 0h0m2 0h0m4 0h0m2 0h0m2 0h0m2 0h0m4 0h0m2 0h0m2 0h0m2 0h0M-27 13h0m2 0h0m2 0h0m2 0h0m2 0h0m2 0h0m2 0h0m4 0h0m2 0h0m2 0h0m2 0h0m4 0h0M-28 14h0m2 0h0m2 0h0m2 0h0m4 0h0m4 0h0m2 0h0m2 0h0m2 0h0m2 0h0m4 0h0M-27 15h0m2 0h0m2 0h0m2 0h0m2 0h0m2 0h0m2 0h0m2 0h0m2 0h0m2 0h0m2 0h0m2 0h0M-28 16h0m2 0h0m2 0h0m2 0h0m2 0h0m2 0h0m2 0h0m2 0h0m2 0h0m2 0h0M-31 17h0m4 0h0m2 0h0m6 0h0m6 0h0m2 0h0m2 0h0m4 0h0M-28 18h0m2 0h0m4 0h0m2 0h0m2 0h0m2 0h0m2 0h0m2 0h0M-29 19h0m10 0h0m4 0h0m2 0h0m2 0h0M-26 20h0m2 0h0m4 0h0m2 0h0m4 0h0M-31 21h0m12 0h0M-34 22h0M-33 23h0M-34 24h0M-32 26h0m2 0h0M-35 29h0" stroke="#0fa058" stroke-width="4" stroke-linecap="round" vector-effect="non-scaling-stroke" fill="none"/>
<path transform="translate(1177.40,2184.00) scale(3.2400,5.6370)" d="M24 -2h0m4 0h0m4 0h0m4 0h0M27 -1h0m6 0h0m2 0h0m2 0h0M24 0h0m4 0h0m4 0h0m4 0h0M27 1h0m2 0h0m4 0h0M24 2h0m2 0h0m4 0h0m4 0h0m2 0h0M29 3h0m4 0h0m2 0h0m2 0h0M38 8h0M42 10h0m2 0h0m2 0h0M48 12h0M44 14h0m4 0h0M49 15h0m4 0h0M48 16h0M49 19h0M43 21h0M54 22h0M54 24h0M41 25h0M56 26h0M43 27h0m4 0h0M40 28h0m8 0h0m8 0h0M37 31h0m8 0h0" stroke="#d2a28c" stroke-width="4" stroke-linecap="round" vector-effect="non-scaling-stroke" fill="none"/>
<path transform="translate(1177.40,2184.00) scale(3.2400,5.6370)" d="M30 -2h0M29 -1h0M30 0h0m4 0h0M25 1h0M32 2h0M25 3h0m2 0h0M36 8h0m4 0h0m2 0h0m2 0h0M39 9h0m2 0h0m2 0h0m2 0h0M48 10h0M45 11h0m2 0h0m2 0h0M44 12h0m2 0h0m4 0h0M45 13h0m2 0h0m2 0h0m2 0h0M46 14h0m4 0h0m2 0h0M45 15h0m2 0h0m4 0h0M44 16h0m2 0h0m4 0h0m2 0h0M45 17h0m2 0h0m2 0h0m2 0h0m2 0h0M44 18h0m2 0h0m2 0h0m2 0h0m2 0h0m2 0h0M45 19h0m2 0h0m4 0h0m2 0h0m2 0h0M44 20h0m2 0h0m2 0h0m2 0h0m2 0h0m2 0h0M45 21h0m2 0h0m2 0h0m2 0h0m2 0h0m2 0h0M42 22h0m2 0h0m2 0h0m2 0h0m2 0h0m2 0h0m4 0h0M41 23h0m2 0h0m2 0h0m2 0h0m2 0h0m2 0h0m2 0h0m2 0h0M40 24h0m2 0h0m2 0h0m2 0h0m2 0h0m2 0h0m2 0h0m4 0h0M33 25h0m2 0h0m2 0h0m2 0h0m4 0h0m2 0h0m2 0h0m2 0h0m2 0h0m2 0h0m2 0h0m2 0h0M32 26h0m2 0h0m2 0h0m2 0h0m2 0h0m2 0h0m2 0h0m2 0h0m2 0h0m2 0h0m2 0h0m2 0h0M33 27h0m2 0h0m2 0h0m2 0h0m2 0h0m4 0h0m4 0h0m2 0h0m2 0h0m2 0h0M32 28h0m2 0h0m2 0h0m2 0h0m4 0h0m2 0h0m2 0h0m4 0h0m2 0h0m2 0h0M33 29h0m2 0h0m2 0h0m2 0h0m2 0h0m2 0h0m2 0h0m2 0h0m2 0h0m2 0h0m2 0h0m2 0h0M32 30h0m2 0h0m2 0h0m2 0h0m2 0h0m2 0h0m2 0h0m2 0h0m2 0h0m2 0h0m2 0h0m2 0h0M33 31h0m2 0h0m4 0h0m2 0h0m2 0h0m4 0h0m2 0h0m2 0h0M32 32h0" stroke="#f09088" stroke-width="4" stroke-linecap="round" vector-effect="non-scaling-stroke" fill="none"/>
<path transform="translate(1177.40,2184.00) scale(3.2400,5.6370)" d="M38 -2h0m8 0h0m2 0h0M41 -1h0m2 0h0m2 0h0m4 0h0m2 0h0M40 0h0m12 0h0M43 1h0m4 0h0m14 0h0M60 2h0M39 3h0m12 0h0m10 0h0M38 4h0m2 0h0m14 0h0M39 5h0m2 0h0m8 0h0m16 0h0M42 6h0m16 0h0M45 7h0m2 0h0m12 0h0m4 0h0m2 0h0m2 0h0m2 0h0M46 8h0m4 0h0m8 0h0m2 0h0m2 0h0m8 0h0M47 9h0m10 0h0m2 0h0m2 0h0m4 0h0m2 0h0m2 0h0M58 10h0m2 0h0m4 0h0m2 0h0M51 11h0m2 0h0m6 0h0m2 0h0m4 0h0m4 0h0M52 12h0m4 0h0m4 0h0m2 0h0m2 0h0m2 0h0m2 0h0m4 0h0M53 13h0m2 0h0m2 0h0m2 0h0m4 0h0m8 0h0M58 14h0m4 0h0m6 0h0m4 0h0M55 15h0m4 0h0m8 0h0M56 16h0m2 0h0m4 0h0M55 17h0M56 18h0m8 0h0m2 0h0m2 0h0M57 19h0m4 0h0m2 0h0m4 0h0M58 20h0m6 0h0M57 21h0m2 0h0m4 0h0M58 22h0m4 0h0M57 23h0m2 0h0M58 24h0m2 0h0m2 0h0M60 26h0" stroke="#8cd08a" stroke-width="4" stroke-linecap="round" vector-effect="non-scaling-stroke" fill="none"/>
<path transform="translate(1177.40,2184.00) scale(3.2400,5.6370)" d="M40 -2h0m2 0h0m2 0h0m6 0h0m2 0h0M39 -1h0m8 0h0m6 0h0m2 0h0M42 0h0m2 0h0m2 0h0m2 0h0m2 0h0m4 0h0m2 0h0M39 1h0m2 0h0m4 0h0m4 0h0m2 0h0m2 0h0m2 0h0m2 0h0m2 0h0M38 2h0m2 0h0m2 0h0m2 0h0m2 0h0m2 0h0m2 0h0m2 0h0m2 0h0m2 0h0m2 0h0m4 0h0M41 3h0m2 0h0m2 0h0m2 0h0m2 0h0m4 0h0m2 0h0m2 0h0m2 0h0m4 0h0m2 0h0M42 4h0m2 0h0m2 0h0m2 0h0m2 0h0m2 0h0m4 0h0m2 0h0m2 0h0m2 0h0m4 0h0M43 5h0m2 0h0m2 0h0m4 0h0m2 0h0m2 0h0m2 0h0m2 0h0m2 0h0m2 0h0m4 0h0M44 6h0m2 0h0m2 0h0m2 0h0m2 0h0m2 0h0m2 0h0m4 0h0m2 0h0m2 0h0m2 0h0m2 0h0M43 7h0m6 0h0m2 0h0m2 0h0m2 0h0m2 0h0m4 0h0M48 8h0m4 0h0m2 0h0m2 0h0m10 0h0m2 0h0M49 9h0m2 0h0m4 0h0m8 0h0m8 0h0M50 10h0m4 0h0m8 0h0m6 0h0m2 0h0M55 11h0m2 0h0m6 0h0M54 12h0m4 0h0m12 0h0M61 13h0m4 0h0m2 0h0m2 0h0M54 14h0m2 0h0m4 0h0m4 0h0m6 0h0M57 15h0m4 0h0m2 0h0m2 0h0m4 0h0m2 0h0M54 16h0m6 0h0m6 0h0m2 0h0M57 17h0m2 0h0m2 0h0m2 0h0m6 0h0M58 18h0m2 0h0M59 19h0m6 0h0M56 20h0m4 0h0m2 0h0M61 21h0M60 22h0M61 23h0M58 26h0" stroke="#a8cbee" stroke-width="4" stroke-linecap="round" vector-effect="non-scaling-stroke" fill="none"/>
<path transform="translate(1177.40,2184.00) scale(3.2400,5.6370)" d="M6 4h0m2 0h0m2 0h0m2 0h0m2 0h0m2 0h0m2 0h0m2 0h0m2 0h0m2 0h0m2 0h0m2 0h0m2 0h0m2 0h0m2 0h0m2 0h0M5 5h0m2 0h0m2 0h0m2 0h0m2 0h0m2 0h0m2 0h0m2 0h0m2 0h0m2 0h0m2 0h0m2 0h0m2 0h0m2 0h0m2 0h0m2 0h0m2 0h0M4 6h0m2 0h0m2 0h0m2 0h0m2 0h0m2 0h0m2 0h0m2 0h0m2 0h0m2 0h0m2 0h0m2 0h0m2 0h0m2 0h0m2 0h0m2 0h0m2 0h0m2 0h0M3 7h0m2 0h0m2 0h0m2 0h0m2 0h0m2 0h0m2 0h0m2 0h0m2 0h0m2 0h0m2 0h0m2 0h0m2 0h0m2 0h0m2 0h0m2 0h0m2 0h0m2 0h0M2 8h0m2 0h0m2 0h0m2 0h0m2 0h0m2 0h0m2 0h0m2 0h0M3 9h0m2 0h0m2 0h0M2 10h0m2 0h0m2 0h0M1 11h0m2 0h0M0 12h0m2 0h0m2 0h0M1 13h0m2 0h0M0 14h0m2 0h0M1 15h0m2 0h0M2 16h0M3 17h0M2 18h0" stroke="#e4e47a" stroke-width="4" stroke-linecap="round" vector-effect="non-scaling-stroke" fill="none"/>
<path transform="translate(1177.40,2184.00) scale(3.2400,5.6370)" d="M26 8h0m2 0h0M15 9h0m2 0h0m2 0h0m2 0h0m2 0h0m2 0h0m2 0h0m2 0h0m2 0h0m2 0h0m2 0h0m2 0h0M8 10h0m2 0h0m2 0h0m2 0h0m2 0h0m2 0h0m2 0h0m2 0h0m2 0h0m2 0h0m2 0h0m2 0h0m2 0h0m2 0h0m2 0h0m2 0h0m2 0h0M7 11h0m2 0h0m2 0h0m2 0h0m2 0h0m2 0h0m2 0h0m2 0h0m2 0h0m2 0h0m2 0h0m2 0h0m2 0h0m2 0h0m2 0h0m2 0h0m2 0h0m2 0h0m2 0h0M8 12h0m2 0h0m2 0h0m2 0h0m2 0h0m2 0h0m2 0h0m2 0h0m2 0h0m2 0h0m2 0h0m2 0h0m2 0h0m2 0h0m2 0h0m2 0h0m2 0h0m2 0h0M7 13h0m2 0h0m2 0h0m2 0h0m2 0h0m2 0h0m2 0h0m2 0h0m2 0h0m2 0h0m2 0h0m2 0h0m2 0h0m2 0h0m2 0h0m2 0h0m2 0h0m2 0h0m2 0h0M8 14h0m2 0h0m2 0h0m2 0h0m2 0h0m2 0h0m2 0h0m2 0h0m2 0h0m2 0h0m2 0h0m2 0h0m2 0h0m2 0h0m2 0h0m2 0h0m2 0h0m2 0h0M7 15h0m2 0h0m2 0h0m2 0h0m2 0h0m2 0h0m2 0h0m2 0h0m2 0h0m2 0h0m2 0h0m2 0h0m2 0h0m2 0h0m2 0h0m2 0h0m2 0h0m2 0h0m2 0h0M8 16h0m2 0h0m2 0h0m2 0h0m2 0h0m2 0h0m2 0h0m2 0h0m2 0h0m2 0h0m2 0h0m2 0h0m2 0h0m2 0h0m2 0h0m2 0h0m2 0h0m2 0h0M9 17h0m2 0h0m2 0h0m2 0h0m2 0h0m2 0h0m2 0h0m2 0h0m2 0h0m2 0h0m2 0h0m2 0h0m2 0h0m2 0h0m2 0h0m2 0h0m2 0h0m2 0h0M22 18h0m2 0h0m2 0h0m2 0h0m2 0h0m2 0h0m2 0h0m2 0h0m2 0h0m2 0h0m2 0h0M25 19h0m2 0h0m2 0h0m2 0h0m2 0h0m2 0h0m2 0h0m2 0h0m2 0h0m2 0h0M28 20h0m2 0h0m2 0h0m2 0h0m2 0h0m2 0h0m2 0h0m2 0h0M29 21h0m2 0h0m2 0h0m2 0h0m2 0h0m2 0h0m2 0h0M30 22h0m2 0h0m2 0h0m2 0h0m2 0h0m2 0h0M31 23h0m2 0h0m2 0h0m2 0h0m2 0h0M32 24h0m2 0h0m2 0h0m2 0h0" stroke="#e4202a" stroke-width="4" stroke-linecap="round" vector-effect="non-scaling-stroke" fill="none"/>
<path transform="translate(1177.40,2184.00) scale(3.2400,5.6370)" d="M8 18h0m2 0h0m2 0h0m2 0h0m2 0h0m2 0h0m2 0h0M5 19h0m2 0h0m2 0h0m2 0h0m2 0h0m2 0h0m2 0h0m2 0h0m2 0h0m2 0h0M2 20h0m2 0h0m2 0h0m2 0h0m2 0h0m2 0h0m2 0h0m2 0h0m2 0h0m2 0h0m2 0h0m2 0h0m2 0h0M1 21h0m2 0h0m2 0h0m2 0h0m2 0h0m2 0h0m2 0h0m2 0h0m2 0h0m2 0h0m2 0h0m2 0h0m2 0h0m2 0h0M0 22h0m2 0h0m2 0h0m2 0h0m2 0h0m2 0h0m2 0h0m2 0h0m2 0h0m2 0h0m2 0h0m2 0h0m2 0h0m2 0h0m2 0h0M1 23h0m2 0h0m2 0h0m2 0h0m2 0h0m2 0h0m2 0h0m2 0h0m2 0h0m2 0h0m2 0h0m2 0h0m2 0h0m2 0h0m2 0h0M0 24h0m2 0h0m2 0h0m2 0h0m2 0h0m2 0h0m2 0h0m2 0h0m2 0h0m2 0h0m2 0h0m2 0h0m2 0h0m2 0h0m2 0h0m2 0h0M1 25h0m2 0h0m2 0h0m2 0h0m2 0h0m2 0h0m2 0h0m2 0h0m2 0h0m2 0h0m2 0h0m2 0h0m2 0h0m2 0h0m2 0h0m2 0h0M0 26h0m2 0h0m2 0h0m2 0h0m2 0h0m2 0h0m2 0h0m2 0h0m2 0h0m2 0h0m2 0h0m2 0h0m2 0h0m2 0h0m2 0h0m2 0h0M1 27h0m2 0h0m2 0h0m2 0h0m2 0h0m2 0h0m2 0h0m2 0h0m2 0h0m2 0h0m2 0h0m2 0h0m2 0h0m2 0h0m2 0h0m2 0h0M0 28h0m2 0h0m2 0h0m2 0h0m2 0h0m2 0h0m2 0h0m2 0h0m2 0h0m2 0h0m2 0h0m2 0h0m2 0h0m2 0h0m2 0h0m2 0h0M1 29h0m2 0h0m2 0h0m2 0h0m2 0h0m2 0h0m2 0h0m2 0h0m2 0h0m2 0h0m2 0h0m2 0h0m2 0h0m2 0h0m2 0h0m2 0h0M0 30h0m2 0h0m2 0h0m2 0h0m2 0h0m2 0h0m2 0h0m2 0h0m2 0h0m2 0h0m2 0h0m2 0h0m2 0h0m2 0h0m2 0h0m2 0h0M1 31h0m2 0h0m2 0h0m2 0h0m2 0h0m2 0h0m2 0h0m2 0h0m2 0h0m2 0h0m2 0h0m2 0h0m2 0h0m2 0h0m2 0h0m2 0h0M0 32h0m2 0h0m2 0h0m2 0h0m2 0h0m2 0h0m2 0h0m2 0h0m2 0h0m2 0h0m2 0h0m2 0h0m2 0h0m2 0h0m2 0h0m2 0h0M1 33h0m2 0h0m2 0h0m2 0h0m2 0h0m2 0h0m2 0h0m2 0h0m2 0h0m2 0h0m2 0h0m2 0h0" stroke="#b4c85a" stroke-width="4" stroke-linecap="round" vector-effect="non-scaling-stroke" fill="none"/>
<path transform="translate(1177.40,2184.00) scale(3.2400,5.6370)" d="M-10 20h0M-29 21h0m2 0h0m2 0h0m2 0h0m2 0h0m4 0h0m2 0h0m2 0h0m2 0h0m2 0h0m2 0h0m2 0h0m2 0h0M-28 22h0m2 0h0m2 0h0m2 0h0m2 0h0m4 0h0m2 0h0m2 0h0m2 0h0m2 0h0m2 0h0m2 0h0m2 0h0M-29 23h0m2 0h0m2 0h0m2 0h0m2 0h0m2 0h0m2 0h0m2 0h0m2 0h0m2 0h0m2 0h0m2 0h0m2 0h0m2 0h0M-28 24h0m2 0h0m2 0h0m2 0h0m2 0h0m2 0h0m2 0h0m2 0h0m2 0h0m2 0h0m2 0h0m2 0h0m2 0h0m2 0h0M-29 25h0m2 0h0m2 0h0m2 0h0m2 0h0m2 0h0m2 0h0m2 0h0m2 0h0m2 0h0m2 0h0m2 0h0m2 0h0m2 0h0m2 0h0M-28 26h0m2 0h0m2 0h0m2 0h0m2 0h0m2 0h0m2 0h0m2 0h0m2 0h0m2 0h0m2 0h0m2 0h0m2 0h0m2 0h0M-29 27h0m2 0h0m2 0h0m2 0h0m2 0h0m2 0h0m2 0h0m2 0h0m2 0h0m2 0h0m2 0h0m2 0h0m2 0h0m2 0h0m2 0h0M-28 28h0m2 0h0m2 0h0m2 0h0m2 0h0m2 0h0m2 0h0m2 0h0m2 0h0m2 0h0m2 0h0m2 0h0m2 0h0m2 0h0M-29 29h0m2 0h0m2 0h0m2 0h0m2 0h0m2 0h0m2 0h0m2 0h0m2 0h0m2 0h0m2 0h0m2 0h0m2 0h0m2 0h0m2 0h0M-30 30h0m2 0h0m2 0h0m2 0h0m2 0h0m2 0h0m2 0h0m2 0h0m2 0h0m2 0h0m2 0h0m2 0h0m2 0h0m2 0h0m2 0h0M-29 31h0m2 0h0m2 0h0m2 0h0m2 0h0m2 0h0m2 0h0m2 0h0m2 0h0m2 0h0m2 0h0m2 0h0m2 0h0m2 0h0m2 0h0M-30 32h0m2 0h0m2 0h0m2 0h0m2 0h0m2 0h0m2 0h0m2 0h0m2 0h0m2 0h0m2 0h0m2 0h0m2 0h0m2 0h0m2 0h0M-27 33h0m2 0h0m2 0h0m2 0h0m2 0h0m2 0h0m2 0h0m2 0h0m2 0h0m2 0h0m2 0h0m2 0h0m2 0h0m2 0h0" stroke="#12bcd2" stroke-width="4" stroke-linecap="round" vector-effect="non-scaling-stroke" fill="none"/>
<polygon points="1160.5,2270.4 1167.5,2266.4 1177.5,2268.4 1181.5,2281.4 1180.5,2296.4 1173.5,2298.4 1165.5,2291.4" fill="#9fa2a5"/>
<polygon points="1115.5,2303.4 1119.5,2301.4 1122.5,2305.4 1118.5,2309.4" fill="#9fa2a5"/>
</g>
<clipPath id="dclip3"><rect x="1487.3" y="2006.4" width="439.8" height="382.5999999999999"/></clipPath>
<g clip-path="url(#dclip3)">
<rect x="1487.3" y="2006.4" width="439.8" height="382.6" fill="#9fa2a5"/>
<path d="M1917.0 2026.8h0M1917.0 2043.6h0M1917.0 2060.4h0M1917.0 2077.2h0M1917.0 2094.0h0M1917.0 2110.8h0M1917.0 2127.6h0M1917.0 2144.4h0M1917.0 2161.2h0M1917.0 2178.0h0M1917.0 2194.8h0M1917.0 2211.6h0M1917.0 2228.4h0M1917.0 2245.2h0M1917.0 2262.0h0M1917.0 2278.8h0M1917.0 2295.6h0M1917.0 2312.4h0M1917.0 2329.2h0M1917.0 2346.0h0M1917.0 2362.8h0M1917.0 2379.6h0M1922.6 2018.4h0M1922.6 2035.2h0M1922.6 2052.0h0M1922.6 2068.8h0M1922.6 2085.6h0M1922.6 2102.4h0M1922.6 2119.2h0M1922.6 2136.0h0M1922.6 2152.8h0M1922.6 2169.6h0M1922.6 2186.4h0M1922.6 2203.2h0M1922.6 2220.0h0M1922.6 2236.8h0M1922.6 2253.6h0M1922.6 2270.4h0M1922.6 2287.2h0M1922.6 2304.0h0M1922.6 2320.8h0M1922.6 2337.6h0M1922.6 2354.4h0M1922.6 2371.2h0M1922.6 2388.0h0M1928.2 2026.8h0M1928.2 2043.6h0M1928.2 2060.4h0M1928.2 2077.2h0M1928.2 2094.0h0M1928.2 2110.8h0M1928.2 2127.6h0M1928.2 2144.4h0M1928.2 2161.2h0M1928.2 2178.0h0M1928.2 2194.8h0M1928.2 2211.6h0M1928.2 2228.4h0M1928.2 2245.2h0M1928.2 2262.0h0M1928.2 2278.8h0M1928.2 2295.6h0M1928.2 2312.4h0M1928.2 2329.2h0M1928.2 2346.0h0M1928.2 2362.8h0M1928.2 2379.6h0" stroke="#878a90" stroke-width="7" stroke-linecap="round" fill="none"/>
<path d="M1917.0 2026.8h0M1917.0 2043.6h0M1917.0 2060.4h0M1917.0 2077.2h0M1917.0 2094.0h0M1917.0 2110.8h0M1917.0 2127.6h0M1917.0 2144.4h0M1917.0 2161.2h0M1917.0 2178.0h0M1917.0 2194.8h0M1917.0 2211.6h0M1917.0 2228.4h0M1917.0 2245.2h0M1917.0 2262.0h0M1917.0 2278.8h0M1917.0 2295.6h0M1917.0 2312.4h0M1917.0 2329.2h0M1917.0 2346.0h0M1917.0 2362.8h0M1917.0 2379.6h0M1922.6 2018.4h0M1922.6 2035.2h0M1922.6 2052.0h0M1922.6 2068.8h0M1922.6 2085.6h0M1922.6 2102.4h0M1922.6 2119.2h0M1922.6 2136.0h0M1922.6 2152.8h0M1922.6 2169.6h0M1922.6 2186.4h0M1922.6 2203.2h0M1922.6 2220.0h0M1922.6 2236.8h0M1922.6 2253.6h0M1922.6 2270.4h0M1922.6 2287.2h0M1922.6 2304.0h0M1922.6 2320.8h0M1922.6 2337.6h0M1922.6 2354.4h0M1922.6 2371.2h0M1922.6 2388.0h0M1928.2 2026.8h0M1928.2 2043.6h0M1928.2 2060.4h0M1928.2 2077.2h0M1928.2 2094.0h0M1928.2 2110.8h0M1928.2 2127.6h0M1928.2 2144.4h0M1928.2 2161.2h0M1928.2 2178.0h0M1928.2 2194.8h0M1928.2 2211.6h0M1928.2 2228.4h0M1928.2 2245.2h0M1928.2 2262.0h0M1928.2 2278.8h0M1928.2 2295.6h0M1928.2 2312.4h0M1928.2 2329.2h0M1928.2 2346.0h0M1928.2 2362.8h0M1928.2 2379.6h0" stroke="#999ca1" stroke-width="4.2" stroke-linecap="round" fill="none"/>
<polygon points="1504.3,2072.4 1517.3,2068.4 1547.3,2058.4 1562.3,2056.4 1605.3,2054.4 1622.3,2053.4 1627.3,2051.4 1657.3,2051.4 1687.3,2051.4 1764.3,2050.4 1783.3,2041.4 1799.3,2046.4 1824.3,2050.4 1833.3,2061.4 1846.3,2063.4 1865.3,2071.4 1877.3,2080.4 1886.3,2092.4 1896.3,2099.4 1908.3,2114.4 1917.3,2126.4 1927.3,2136.4 1927.3,2342.4 1915.3,2348.4 1896.3,2356.4 1871.3,2349.9 1833.3,2351.4 1820.3,2358.4 1795.3,2365.4 1772.8,2358.4 1745.3,2367.4 1707.3,2372.4 1644.8,2372.4 1638.3,2375.4 1565.3,2372.4 1550.3,2367.4 1535.3,2366.4 1531.3,2361.4 1532.3,2336.4 1535.3,2317.4 1540.3,2303.4 1544.3,2285.4 1549.3,2275.4 1552.8,2257.9 1557.8,2240.4 1561.3,2222.4 1555.3,2212.4 1546.3,2197.4 1537.3,2189.4 1529.3,2182.4 1510.3,2182.4 1507.3,2146.4 1506.3,2106.4 1504.3,2076.4" fill="#783f71"/>
<polygon points="1906.3,2112.4 1917.3,2126.4 1927.3,2136.4 1927.3,2342.4 1915.3,2348.4 1906.3,2352.4" fill="#6c3666"/>
<polyline points="1517.3,2066.9 1547.3,2056.9 1562.3,2054.9 1605.3,2052.9 1622.3,2051.9 1627.3,2049.9 1657.3,2049.9 1687.3,2049.9 1764.3,2048.9 1783.3,2039.9 1799.3,2044.9 1824.3,2048.9 1833.3,2059.9 1846.3,2061.9 1865.3,2069.9 1877.3,2078.9 1886.3,2090.9 1896.3,2097.9 1908.3,2112.9 1917.3,2124.9 1927.3,2134.9" fill="none" stroke="#3f1d3a" stroke-width="2.6" stroke-dasharray="5 1 2 3 1 2 6 2 1 4 3 1" stroke-opacity="0.7"/>
<path transform="translate(1649.20,2184.00) scale(3.2400,5.6370)" d="M41 -25h0m2 0h0M-32 -22h0m2 0h0m2 0h0m2 0h0M26 -16h0M33 -15h0M1 -9h0M4 -8h0M5 -7h0m48 0h0m2 0h0m2 0h0M4 -6h0m2 0h0m2 0h0m2 0h0m2 0h0m42 0h0m2 0h0m2 0h0M59 -5h0m2 0h0M62 -4h0m2 0h0M65 -3h0M40 -2h0m2 0h0m2 0h0M-36 0h0m56 0h0m2 0h0M17 1h0m2 0h0m2 0h0m2 0h0M14 2h0m2 0h0m2 0h0m2 0h0m2 0h0m2 0h0M-31 3h0m54 0h0m2 0h0m2 0h0m4 0h0m2 0h0m2 0h0m36 0h0M-30 4h0m20 0h0m46 0h0m36 0h0M-13 5h0m16 0h0m34 0h0M-18 6h0m2 0h0m2 0h0m12 0h0m2 0h0m2 0h0M-23 7h0m2 0h0m8 0h0m2 0h0m2 0h0m2 0h0m2 0h0m2 0h0m2 0h0m2 0h0m2 0h0M0 8h0m2 0h0m4 0h0m2 0h0m2 0h0m2 0h0m2 0h0m2 0h0m2 0h0m2 0h0m2 0h0m2 0h0m2 0h0m2 0h0m2 0h0m2 0h0m2 0h0m2 0h0m2 0h0M7 9h0m2 0h0m2 0h0m2 0h0m2 0h0m2 0h0m2 0h0m2 0h0m2 0h0m2 0h0m2 0h0m2 0h0m2 0h0m2 0h0m2 0h0m2 0h0M6 10h0m2 0h0m2 0h0m2 0h0m2 0h0m2 0h0m2 0h0m2 0h0m2 0h0m2 0h0m2 0h0m2 0h0m2 0h0m2 0h0m2 0h0m2 0h0m2 0h0M5 11h0m2 0h0m2 0h0m2 0h0m2 0h0m2 0h0m2 0h0m2 0h0m2 0h0m2 0h0m2 0h0m2 0h0m2 0h0m2 0h0m2 0h0m2 0h0m2 0h0M4 12h0m2 0h0m2 0h0m2 0h0m2 0h0m2 0h0m2 0h0m2 0h0m2 0h0m2 0h0m2 0h0m2 0h0m2 0h0m2 0h0m2 0h0m2 0h0m2 0h0m2 0h0M5 13h0m2 0h0m2 0h0m2 0h0m2 0h0m2 0h0m2 0h0m2 0h0m2 0h0m2 0h0m2 0h0m2 0h0m2 0h0m2 0h0m2 0h0m2 0h0m2 0h0m2 0h0M4 14h0m2 0h0m2 0h0m2 0h0m2 0h0m2 0h0m2 0h0m2 0h0m2 0h0m2 0h0m2 0h0m2 0h0m2 0h0m2 0h0m2 0h0m2 0h0m2 0h0m2 0h0M3 15h0m2 0h0m2 0h0m2 0h0m2 0h0m2 0h0m2 0h0m2 0h0m2 0h0m2 0h0m2 0h0m2 0h0m2 0h0m2 0h0m2 0h0m2 0h0m2 0h0m2 0h0m2 0h0M2 16h0m2 0h0m2 0h0m2 0h0m2 0h0m2 0h0m2 0h0m2 0h0m2 0h0m2 0h0m2 0h0m2 0h0m2 0h0m2 0h0m2 0h0m2 0h0m2 0h0m2 0h0m2 0h0M5 17h0m2 0h0m2 0h0m2 0h0m2 0h0m2 0h0m2 0h0m2 0h0m2 0h0m2 0h0m2 0h0m2 0h0m2 0h0m2 0h0m2 0h0m2 0h0m2 0h0m2 0h0M-32 18h0m46 0h0m2 0h0m2 0h0m2 0h0m2 0h0m2 0h0m2 0h0m2 0h0m2 0h0m2 0h0m2 0h0m2 0h0m2 0h0M17 19h0m2 0h0m2 0h0m2 0h0m2 0h0m2 0h0m2 0h0m2 0h0m2 0h0m2 0h0m2 0h0m2 0h0M28 20h0m2 0h0m2 0h0m2 0h0m2 0h0m2 0h0M-29 21h0m60 0h0m2 0h0m2 0h0m2 0h0m2 0h0M32 22h0m2 0h0m2 0h0m2 0h0M-29 23h0m64 0h0m2 0h0m2 0h0M36 24h0m2 0h0M-35 25h0m6 0h0M-35 27h0m6 0h0M-36 28h0M-29 29h0M-36 30h0m6 0h0m2 0h0M-29 31h0M-30 32h0m2 0h0m74 0h0M-27 33h0" stroke="#8a62aa" stroke-width="4" stroke-linecap="round" vector-effect="non-scaling-stroke" fill="none"/>
<path transform="translate(1649.20,2184.00) scale(3.2400,5.6370)" d="M38 -24h0m2 0h0m2 0h0m2 0h0m2 0h0m2 0h0m2 0h0M9 -23h0m2 0h0m2 0h0m2 0h0m2 0h0m2 0h0m2 0h0m2 0h0m2 0h0m2 0h0m2 0h0m2 0h0m2 0h0m2 0h0m2 0h0m2 0h0m2 0h0m2 0h0m2 0h0m2 0h0m2 0h0m2 0h0m2 0h0m2 0h0M16 -22h0m2 0h0m2 0h0m2 0h0m2 0h0m2 0h0m2 0h0m2 0h0m2 0h0m2 0h0m2 0h0m2 0h0m2 0h0m2 0h0m2 0h0m2 0h0m2 0h0m2 0h0m2 0h0m2 0h0m2 0h0M29 -21h0m2 0h0m2 0h0m2 0h0m2 0h0m2 0h0m2 0h0m2 0h0m2 0h0m2 0h0m2 0h0m2 0h0m2 0h0m2 0h0m2 0h0m2 0h0m2 0h0M40 -20h0m2 0h0m2 0h0m2 0h0m2 0h0m2 0h0m2 0h0m2 0h0m2 0h0m2 0h0m2 0h0m2 0h0m2 0h0m2 0h0M45 -19h0m2 0h0m2 0h0m2 0h0m2 0h0m2 0h0m2 0h0m2 0h0m2 0h0m2 0h0m2 0h0m2 0h0M48 -18h0m2 0h0m2 0h0m2 0h0m2 0h0m2 0h0m2 0h0m2 0h0m2 0h0m2 0h0m2 0h0m2 0h0M49 -17h0m2 0h0m2 0h0m2 0h0m2 0h0m2 0h0m2 0h0m2 0h0m2 0h0m2 0h0m2 0h0m2 0h0M50 -16h0m2 0h0m2 0h0m2 0h0m2 0h0m2 0h0m2 0h0m2 0h0m2 0h0m2 0h0m2 0h0m2 0h0M51 -15h0m2 0h0m2 0h0m2 0h0m2 0h0m2 0h0m2 0h0m2 0h0m2 0h0m2 0h0m2 0h0m2 0h0m2 0h0M52 -14h0m2 0h0m2 0h0m2 0h0m2 0h0m2 0h0m2 0h0m2 0h0m2 0h0m2 0h0m2 0h0m2 0h0m2 0h0M53 -13h0m2 0h0m2 0h0m2 0h0m2 0h0m2 0h0m2 0h0m2 0h0m2 0h0m2 0h0m2 0h0m2 0h0m2 0h0m2 0h0M56 -12h0m2 0h0m2 0h0m2 0h0m2 0h0m2 0h0m2 0h0m2 0h0m2 0h0m2 0h0m2 0h0m2 0h0M59 -11h0m2 0h0m2 0h0m2 0h0m2 0h0m2 0h0m2 0h0m2 0h0m2 0h0m2 0h0m2 0h0M62 -10h0m2 0h0m2 0h0m2 0h0m2 0h0m2 0h0m2 0h0m2 0h0m2 0h0M65 -9h0m2 0h0m2 0h0m2 0h0m2 0h0m2 0h0m2 0h0m2 0h0M68 -8h0m2 0h0m2 0h0m2 0h0m2 0h0m2 0h0M69 -7h0m2 0h0m2 0h0m2 0h0m2 0h0m2 0h0M62 -6h0m2 0h0m2 0h0m2 0h0m2 0h0m2 0h0m2 0h0m2 0h0m2 0h0M67 -5h0m2 0h0m2 0h0m2 0h0m2 0h0m2 0h0m2 0h0M70 -4h0m2 0h0m2 0h0m2 0h0m2 0h0M73 -3h0m2 0h0m2 0h0m2 0h0M76 -2h0m2 0h0M79 -1h0M73 5h0m6 0h0M74 6h0M73 7h0m2 0h0m4 0h0M74 8h0m2 0h0M75 9h0m2 0h0m2 0h0M74 10h0m4 0h0M73 11h0m4 0h0M74 12h0m2 0h0m2 0h0M71 13h0m2 0h0m4 0h0m2 0h0M68 14h0m2 0h0m4 0h0m2 0h0m2 0h0M67 15h0m4 0h0m2 0h0m2 0h0m2 0h0m2 0h0M66 16h0m2 0h0m2 0h0m2 0h0m2 0h0m2 0h0m2 0h0M65 17h0m2 0h0m2 0h0m2 0h0m2 0h0m2 0h0m2 0h0m2 0h0M64 18h0m2 0h0m2 0h0m2 0h0m2 0h0m2 0h0m2 0h0m2 0h0M65 19h0m2 0h0m2 0h0m2 0h0m2 0h0m2 0h0m2 0h0m2 0h0M64 20h0m2 0h0m2 0h0m2 0h0m2 0h0m2 0h0m2 0h0m2 0h0M63 21h0m2 0h0m2 0h0m2 0h0m2 0h0m2 0h0m2 0h0m2 0h0m2 0h0M62 22h0m2 0h0m2 0h0m2 0h0m2 0h0m2 0h0m2 0h0m2 0h0m2 0h0M63 23h0m2 0h0m2 0h0m2 0h0m2 0h0m2 0h0m2 0h0m2 0h0m2 0h0M62 24h0m2 0h0m2 0h0m2 0h0m2 0h0m2 0h0m2 0h0m2 0h0m2 0h0M61 25h0m2 0h0m2 0h0m2 0h0m2 0h0m2 0h0m2 0h0m2 0h0m2 0h0m2 0h0M62 26h0m2 0h0m2 0h0m2 0h0m2 0h0m2 0h0m2 0h0m2 0h0m2 0h0M63 27h0m2 0h0m2 0h0m2 0h0m2 0h0m2 0h0m2 0h0m2 0h0m2 0h0M64 28h0m2 0h0m2 0h0m2 0h0m2 0h0m2 0h0m2 0h0m2 0h0M63 29h0m2 0h0m2 0h0m2 0h0m2 0h0m2 0h0m2 0h0m2 0h0m2 0h0M74 30h0m2 0h0m2 0h0" stroke="#f6801f" stroke-width="4" stroke-linecap="round" vector-effect="non-scaling-stroke" fill="none"/>
<path transform="translate(1649.20,2184.00) scale(3.2400,5.6370)" d="M-13 -23h0m2 0h0m2 0h0m2 0h0m2 0h0m2 0h0m2 0h0m2 0h0m2 0h0m2 0h0m2 0h0M-24 -22h0m2 0h0m2 0h0m2 0h0m2 0h0m2 0h0m2 0h0m2 0h0m2 0h0m2 0h0m2 0h0m2 0h0m2 0h0m2 0h0m2 0h0m2 0h0m2 0h0m2 0h0m2 0h0m2 0h0M-23 -21h0m2 0h0m2 0h0m2 0h0m2 0h0m2 0h0m2 0h0m2 0h0m2 0h0m2 0h0m2 0h0m2 0h0m2 0h0m2 0h0m2 0h0m2 0h0m2 0h0m2 0h0m2 0h0m2 0h0m2 0h0m2 0h0M-24 -20h0m2 0h0m2 0h0m2 0h0m2 0h0m2 0h0m2 0h0m2 0h0m2 0h0m2 0h0m2 0h0m2 0h0m2 0h0m2 0h0m2 0h0m2 0h0m2 0h0m2 0h0m2 0h0m2 0h0m2 0h0m2 0h0M-23 -19h0m2 0h0m2 0h0m2 0h0m2 0h0m2 0h0m2 0h0m2 0h0m2 0h0m2 0h0m2 0h0m2 0h0m2 0h0m2 0h0m2 0h0m2 0h0m2 0h0m2 0h0m2 0h0m2 0h0m2 0h0m2 0h0M-22 -18h0m2 0h0m2 0h0m2 0h0m2 0h0m2 0h0m2 0h0m2 0h0m2 0h0m2 0h0m2 0h0m2 0h0m2 0h0m2 0h0m2 0h0m2 0h0m2 0h0m2 0h0m2 0h0m2 0h0m2 0h0M-15 -17h0m2 0h0m2 0h0m2 0h0m2 0h0m2 0h0m2 0h0m2 0h0m2 0h0m2 0h0m2 0h0m2 0h0m2 0h0m2 0h0m2 0h0m2 0h0m2 0h0M-12 -16h0m2 0h0m2 0h0m2 0h0m2 0h0m2 0h0m2 0h0m2 0h0m2 0h0M-13 -15h0m2 0h0m2 0h0m2 0h0m2 0h0m2 0h0m2 0h0m2 0h0m2 0h0M-12 -14h0m2 0h0m2 0h0m2 0h0m2 0h0m2 0h0m2 0h0m2 0h0m2 0h0M-11 -13h0m2 0h0m2 0h0m2 0h0m2 0h0m2 0h0m2 0h0m2 0h0M-12 -12h0m2 0h0m2 0h0m2 0h0m2 0h0m2 0h0m2 0h0m2 0h0m2 0h0M-9 -11h0m2 0h0m2 0h0m2 0h0m2 0h0m2 0h0m2 0h0M-2 -10h0m2 0h0m2 0h0m2 0h0M3 -9h0" stroke="#b4c85a" stroke-width="4" stroke-linecap="round" vector-effect="non-scaling-stroke" fill="none"/>
<path transform="translate(1649.20,2184.00) scale(3.2400,5.6370)" d="M-37 -21h0m2 0h0m2 0h0m2 0h0m2 0h0m2 0h0m2 0h0M-42 -20h0m2 0h0m2 0h0m2 0h0m2 0h0m2 0h0m2 0h0m2 0h0m2 0h0M-41 -19h0m2 0h0m2 0h0m2 0h0m2 0h0m2 0h0m2 0h0m2 0h0m2 0h0M-42 -18h0m2 0h0m2 0h0m2 0h0m2 0h0m2 0h0m2 0h0m2 0h0m2 0h0m2 0h0M-35 -17h0m2 0h0m2 0h0m2 0h0m2 0h0m2 0h0m2 0h0m2 0h0m2 0h0m2 0h0M-24 -16h0m2 0h0m2 0h0m2 0h0m2 0h0m2 0h0M-23 -15h0m2 0h0m2 0h0m2 0h0m2 0h0M-24 -14h0m2 0h0m2 0h0m2 0h0m2 0h0m2 0h0M-23 -13h0m2 0h0m2 0h0m2 0h0m2 0h0m2 0h0M-24 -12h0m2 0h0m2 0h0m2 0h0m2 0h0m2 0h0M-23 -11h0m2 0h0m2 0h0m2 0h0m2 0h0m2 0h0m2 0h0M-24 -10h0m2 0h0m2 0h0m2 0h0m2 0h0m2 0h0m2 0h0m2 0h0m2 0h0m2 0h0m2 0h0M-23 -9h0m2 0h0m2 0h0m2 0h0m2 0h0m2 0h0m2 0h0m2 0h0m2 0h0m2 0h0m2 0h0m2 0h0M-22 -8h0m2 0h0m2 0h0m2 0h0m2 0h0m2 0h0m2 0h0m2 0h0m2 0h0m2 0h0m2 0h0m2 0h0m2 0h0M-21 -7h0m2 0h0m2 0h0m2 0h0m2 0h0m2 0h0m2 0h0m2 0h0m2 0h0m2 0h0m2 0h0m2 0h0m2 0h0M-20 -6h0m2 0h0m2 0h0m2 0h0m2 0h0m2 0h0m2 0h0m2 0h0m2 0h0m2 0h0m2 0h0m2 0h0M-19 -5h0m2 0h0m2 0h0m2 0h0m2 0h0m2 0h0m2 0h0m2 0h0m2 0h0M-20 -4h0m2 0h0m2 0h0m2 0h0m2 0h0m2 0h0m2 0h0m2 0h0m2 0h0M-21 -3h0m2 0h0m2 0h0m2 0h0m2 0h0m2 0h0m2 0h0m2 0h0m2 0h0m2 0h0M-22 -2h0m2 0h0m2 0h0m2 0h0m2 0h0m2 0h0m2 0h0m2 0h0m2 0h0m2 0h0M-23 -1h0m2 0h0m2 0h0m2 0h0m2 0h0m2 0h0m2 0h0m2 0h0m2 0h0m2 0h0M-24 0h0m2 0h0m2 0h0m2 0h0m2 0h0m2 0h0m2 0h0m2 0h0m2 0h0m2 0h0m2 0h0M-23 1h0m2 0h0m2 0h0m2 0h0m2 0h0m2 0h0m2 0h0m2 0h0m2 0h0M-24 2h0m2 0h0m2 0h0m2 0h0m2 0h0m2 0h0m2 0h0m2 0h0m2 0h0M-23 3h0m2 0h0m2 0h0m2 0h0m2 0h0m2 0h0m2 0h0m2 0h0M-24 4h0m2 0h0m2 0h0m2 0h0m2 0h0m2 0h0m2 0h0M-23 5h0m2 0h0m2 0h0m2 0h0m2 0h0M-24 6h0m2 0h0m2 0h0" stroke="#e4202a" stroke-width="4" stroke-linecap="round" vector-effect="non-scaling-stroke" fill="none"/>
<path transform="translate(1649.20,2184.00) scale(3.2400,5.6370)" d="M21 -21h0m2 0h0m2 0h0m2 0h0M20 -20h0m2 0h0m2 0h0m2 0h0m2 0h0m2 0h0m2 0h0m2 0h0m2 0h0m2 0h0M21 -19h0m2 0h0m2 0h0m2 0h0m2 0h0m2 0h0m2 0h0m2 0h0m2 0h0m2 0h0m2 0h0m2 0h0M20 -18h0m2 0h0m2 0h0m2 0h0m2 0h0m2 0h0m2 0h0m2 0h0m2 0h0m2 0h0m2 0h0m2 0h0m2 0h0m2 0h0M19 -17h0m2 0h0m2 0h0m2 0h0m2 0h0m2 0h0m2 0h0m2 0h0m2 0h0m2 0h0m2 0h0m2 0h0m2 0h0m2 0h0m2 0h0M28 -16h0m2 0h0m2 0h0m2 0h0m2 0h0m2 0h0m2 0h0m2 0h0m2 0h0m2 0h0m2 0h0M35 -15h0m2 0h0m2 0h0m2 0h0m2 0h0m2 0h0m2 0h0m2 0h0M38 -14h0m2 0h0m2 0h0m2 0h0m2 0h0m2 0h0m2 0h0M41 -13h0m2 0h0m2 0h0m2 0h0m2 0h0m2 0h0M44 -12h0m2 0h0m2 0h0m2 0h0m2 0h0m2 0h0M49 -11h0m2 0h0m2 0h0m2 0h0m2 0h0M50 -10h0m2 0h0m2 0h0m2 0h0m2 0h0m2 0h0M53 -9h0m2 0h0m2 0h0m2 0h0m2 0h0m2 0h0M56 -8h0m2 0h0m2 0h0m2 0h0m2 0h0m2 0h0M59 -7h0m2 0h0m2 0h0m2 0h0m2 0h0M60 -6h0M63 -5h0m2 0h0M66 -4h0m2 0h0M67 -3h0m2 0h0m2 0h0M68 -2h0m2 0h0m2 0h0m2 0h0M71 -1h0m2 0h0m2 0h0m2 0h0M72 0h0m2 0h0m2 0h0m2 0h0M73 1h0m2 0h0m2 0h0m2 0h0M72 2h0m2 0h0m2 0h0m2 0h0M73 3h0m2 0h0m2 0h0m2 0h0M74 4h0m2 0h0m2 0h0" stroke="#12bcd2" stroke-width="4" stroke-linecap="round" vector-effect="non-scaling-stroke" fill="none"/>
<path transform="translate(1649.20,2184.00) scale(3.2400,5.6370)" d="M-43 -19h0M-44 -18h0M-43 -17h0m4 0h0M-44 -16h0m2 0h0m2 0h0m2 0h0m2 0h0m2 0h0m6 0h0M-43 -15h0m2 0h0m6 0h0m6 0h0m2 0h0m2 0h0M-42 -14h0m4 0h0m2 0h0m2 0h0m4 0h0m4 0h0M-41 -13h0m6 0h0m2 0h0m2 0h0m4 0h0M-44 -12h0m4 0h0m2 0h0m4 0h0m2 0h0M-41 -11h0m2 0h0m6 0h0m2 0h0m2 0h0m2 0h0m2 0h0M-42 -10h0m4 0h0m4 0h0m2 0h0m2 0h0m2 0h0m2 0h0M-41 -9h0m4 0h0m2 0h0m2 0h0m2 0h0m4 0h0m2 0h0M-36 -8h0m2 0h0m2 0h0m2 0h0m2 0h0m2 0h0m2 0h0M-43 -7h0m2 0h0m2 0h0m6 0h0m2 0h0M-42 -6h0m2 0h0m2 0h0m4 0h0m2 0h0m2 0h0m2 0h0m4 0h0M-41 -5h0m4 0h0m2 0h0m2 0h0m2 0h0m8 0h0M-40 -4h0m4 0h0m2 0h0m4 0h0m4 0h0m4 0h0M-41 -3h0m2 0h0m2 0h0m2 0h0m2 0h0m4 0h0m2 0h0m2 0h0m2 0h0M-40 -2h0m2 0h0m2 0h0m4 0h0m6 0h0m2 0h0M-37 -1h0m2 0h0m2 0h0m2 0h0m4 0h0m2 0h0M-34 0h0m8 0h0M-33 1h0m4 0h0m4 0h0M-32 2h0m4 0h0M-29 3h0m2 0h0M-29 5h0m2 0h0M-26 6h0M-27 7h0m2 0h0M53 27h0m2 0h0m2 0h0m2 0h0m2 0h0M52 28h0m2 0h0m2 0h0m2 0h0m2 0h0m2 0h0M53 29h0m2 0h0m2 0h0m2 0h0m2 0h0M52 30h0m2 0h0" stroke="#f09088" stroke-width="4" stroke-linecap="round" vector-effect="non-scaling-stroke" fill="none"/>
<path transform="translate(1649.20,2184.00) scale(3.2400,5.6370)" d="M-41 -17h0m4 0h0M-32 -16h0m2 0h0m4 0h0M-39 -15h0m2 0h0m4 0h0m2 0h0M-44 -14h0m4 0h0m8 0h0m4 0h0M-43 -13h0m4 0h0m2 0h0m8 0h0m4 0h0M-42 -12h0m6 0h0m6 0h0m2 0h0m2 0h0M-43 -11h0m6 0h0m2 0h0M-40 -10h0m4 0h0M-43 -9h0m4 0h0m10 0h0M-42 -8h0m2 0h0m2 0h0M-37 -7h0m2 0h0m6 0h0m2 0h0m2 0h0m2 0h0M-36 -6h0m10 0h0m4 0h0M-43 -5h0m4 0h0m10 0h0m2 0h0m2 0h0m4 0h0M-42 -4h0m4 0h0m6 0h0m4 0h0m4 0h0M-43 -3h0m12 0h0M-42 -2h0m8 0h0m4 0h0m2 0h0M-41 -1h0m2 0h0m10 0h0M-32 0h0m2 0h0m2 0h0M-31 1h0m4 0h0M-30 2h0m4 0h0M-25 3h0M-28 4h0m2 0h0M-25 5h0" stroke="#d2a28c" stroke-width="4" stroke-linecap="round" vector-effect="non-scaling-stroke" fill="none"/>
<path transform="translate(1649.20,2184.00) scale(3.2400,5.6370)" d="M6 -16h0m2 0h0m2 0h0m2 0h0m2 0h0m2 0h0m2 0h0m2 0h0m2 0h0m2 0h0M5 -15h0m2 0h0m2 0h0m2 0h0m2 0h0m2 0h0m2 0h0m2 0h0m2 0h0m2 0h0m2 0h0m2 0h0m2 0h0m2 0h0M6 -14h0m2 0h0m2 0h0m2 0h0m2 0h0m2 0h0m2 0h0m2 0h0m2 0h0m2 0h0m2 0h0m2 0h0m2 0h0m2 0h0m2 0h0m2 0h0M5 -13h0m2 0h0m2 0h0m2 0h0m2 0h0m2 0h0m2 0h0m2 0h0m2 0h0m2 0h0m2 0h0m2 0h0m2 0h0m2 0h0m2 0h0m2 0h0m2 0h0m2 0h0M6 -12h0m2 0h0m2 0h0m2 0h0m2 0h0m2 0h0m2 0h0m2 0h0m2 0h0m2 0h0m2 0h0m2 0h0m2 0h0m2 0h0m2 0h0m2 0h0m2 0h0m2 0h0m2 0h0M5 -11h0m2 0h0m2 0h0m2 0h0m2 0h0m2 0h0m2 0h0m2 0h0m2 0h0m2 0h0m2 0h0m2 0h0m2 0h0m2 0h0m2 0h0m2 0h0m2 0h0m2 0h0m2 0h0m2 0h0m2 0h0m2 0h0M6 -10h0m2 0h0m2 0h0m2 0h0m2 0h0m2 0h0m2 0h0m2 0h0m2 0h0m2 0h0m2 0h0m2 0h0m2 0h0m2 0h0m2 0h0m2 0h0m2 0h0m2 0h0m2 0h0m2 0h0m2 0h0m2 0h0M5 -9h0m2 0h0m2 0h0m2 0h0m2 0h0m2 0h0m2 0h0m2 0h0m2 0h0m2 0h0m2 0h0m2 0h0m2 0h0m2 0h0m2 0h0m2 0h0m2 0h0m2 0h0m2 0h0m2 0h0m2 0h0m2 0h0m2 0h0m2 0h0M6 -8h0m2 0h0m2 0h0m2 0h0m2 0h0m2 0h0m2 0h0m2 0h0m2 0h0m2 0h0m2 0h0m2 0h0m2 0h0m2 0h0m2 0h0m2 0h0m2 0h0m2 0h0m2 0h0m2 0h0m2 0h0m2 0h0m2 0h0m2 0h0m2 0h0M7 -7h0m2 0h0m2 0h0m2 0h0m2 0h0m2 0h0m2 0h0m2 0h0m2 0h0m2 0h0m2 0h0m2 0h0m2 0h0m2 0h0m2 0h0m2 0h0m2 0h0m2 0h0m2 0h0m2 0h0m2 0h0m2 0h0m2 0h0M14 -6h0m2 0h0m2 0h0m2 0h0m2 0h0m2 0h0m2 0h0m2 0h0m2 0h0m2 0h0m2 0h0m2 0h0m2 0h0m2 0h0m2 0h0" stroke="#dc74b4" stroke-width="4" stroke-linecap="round" vector-effect="non-scaling-stroke" fill="none"/>
<path transform="translate(1649.20,2184.00) scale(3.2400,5.6370)" d="M44 -6h0m2 0h0m2 0h0m2 0h0m2 0h0M37 -5h0m2 0h0m2 0h0m2 0h0m2 0h0m2 0h0m2 0h0m2 0h0m2 0h0m2 0h0m2 0h0M36 -4h0m2 0h0m2 0h0m2 0h0m2 0h0m2 0h0m2 0h0m2 0h0m2 0h0m2 0h0m2 0h0m2 0h0m2 0h0M37 -3h0m2 0h0m2 0h0m2 0h0m2 0h0m2 0h0m2 0h0m2 0h0m2 0h0m8 0h0m2 0h0M64 -2h0m2 0h0M65 -1h0m2 0h0m2 0h0M68 0h0m2 0h0M69 1h0m2 0h0M70 2h0M75 5h0m2 0h0M72 6h0m4 0h0m2 0h0M77 7h0M78 8h0M73 9h0M76 10h0M75 11h0m4 0h0M72 12h0M75 13h0M72 14h0M69 15h0" stroke="#f8b068" stroke-width="4" stroke-linecap="round" vector-effect="non-scaling-stroke" fill="none"/>
<path transform="translate(1649.20,2184.00) scale(3.2400,5.6370)" d="M-1 -5h0m2 0h0m2 0h0m2 0h0m4 0h0m2 0h0m2 0h0m2 0h0m2 0h0m4 0h0m2 0h0m2 0h0m2 0h0m2 0h0m2 0h0m2 0h0m2 0h0M-2 -4h0m2 0h0m2 0h0m4 0h0m2 0h0m2 0h0m2 0h0m2 0h0m2 0h0m2 0h0m2 0h0m2 0h0m2 0h0m2 0h0m2 0h0m2 0h0m2 0h0m2 0h0M1 -3h0m2 0h0m2 0h0m2 0h0m2 0h0m2 0h0m2 0h0m2 0h0m2 0h0m2 0h0m2 0h0m2 0h0m2 0h0m2 0h0m2 0h0m2 0h0m2 0h0m2 0h0M-2 -2h0m2 0h0m2 0h0m2 0h0m2 0h0m2 0h0m2 0h0m2 0h0m2 0h0m2 0h0m2 0h0m2 0h0m2 0h0M-3 -1h0m2 0h0m2 0h0m2 0h0m2 0h0m2 0h0m2 0h0m2 0h0m2 0h0m2 0h0m2 0h0m2 0h0m2 0h0m2 0h0M-2 0h0m2 0h0m4 0h0m2 0h0m2 0h0m2 0h0m2 0h0m2 0h0m2 0h0m2 0h0M-5 1h0m2 0h0m2 0h0m2 0h0m2 0h0m2 0h0m2 0h0m2 0h0m2 0h0m2 0h0m2 0h0M-6 2h0m2 0h0m2 0h0m4 0h0m2 0h0m2 0h0m2 0h0m4 0h0M-7 3h0m2 0h0m4 0h0m2 0h0m2 0h0M-8 4h0m2 0h0m4 0h0m2 0h0m2 0h0m2 0h0M-11 5h0m2 0h0m2 0h0m2 0h0m2 0h0m2 0h0m2 0h0M-12 6h0m2 0h0m2 0h0m2 0h0m2 0h0M-19 7h0m2 0h0m2 0h0M-10 8h0M-27 9h0m2 0h0m2 0h0M-28 10h0m4 0h0m10 0h0m2 0h0M-21 11h0m14 0h0M-28 12h0M-29 13h0m10 0h0m14 0h0M-26 14h0m14 0h0m12 0h0M-29 15h0m2 0h0m10 0h0M-30 16h0m2 0h0m2 0h0m6 0h0M-31 17h0m2 0h0m12 0h0M-30 18h0m12 0h0m10 0h0M-31 19h0m2 0h0m8 0h0M-32 20h0m2 0h0m26 0h0M-33 21h0m2 0h0M-34 22h0m2 0h0m2 0h0m6 0h0m2 0h0m6 0h0m4 0h0M-33 23h0m2 0h0m10 0h0m4 0h0m2 0h0m12 0h0M-34 24h0m2 0h0m2 0h0m14 0h0m2 0h0M-33 25h0m2 0h0m24 0h0M-34 26h0m2 0h0m2 0h0M-33 27h0m2 0h0m10 0h0m10 0h0m6 0h0m4 0h0M-34 28h0m2 0h0m2 0h0m6 0h0m2 0h0m4 0h0M-35 29h0m2 0h0m2 0h0m18 0h0M-34 30h0m2 0h0m14 0h0M-35 31h0m2 0h0m2 0h0m4 0h0m6 0h0m14 0h0m4 0h0M-34 32h0m2 0h0m16 0h0m4 0h0m6 0h0M-17 33h0m2 0h0m8 0h0" stroke="#1a7cc4" stroke-width="4" stroke-linecap="round" vector-effect="non-scaling-stroke" fill="none"/>
<path transform="translate(1649.20,2184.00) scale(3.2400,5.6370)" d="M7 -5h0m12 0h0M4 -4h0M-1 -3h0M2 0h0M0 2h0m10 0h0M-3 3h0M-4 4h0M-26 8h0m2 0h0m2 0h0m2 0h0m2 0h0m2 0h0m2 0h0m2 0h0m4 0h0m2 0h0m2 0h0m2 0h0M-21 9h0m2 0h0m2 0h0m2 0h0m2 0h0m2 0h0m2 0h0m2 0h0m2 0h0m2 0h0m2 0h0m2 0h0M-26 10h0m4 0h0m2 0h0m2 0h0m2 0h0m6 0h0m2 0h0m2 0h0m2 0h0m2 0h0m2 0h0M-27 11h0m2 0h0m2 0h0m4 0h0m2 0h0m2 0h0m2 0h0m2 0h0m2 0h0m4 0h0m2 0h0m2 0h0m2 0h0M-26 12h0m2 0h0m2 0h0m2 0h0m2 0h0m2 0h0m2 0h0m2 0h0m2 0h0m2 0h0m2 0h0m2 0h0m2 0h0m2 0h0M-27 13h0m2 0h0m2 0h0m2 0h0m4 0h0m2 0h0m2 0h0m2 0h0m2 0h0m2 0h0m4 0h0m2 0h0M-30 14h0m2 0h0m4 0h0m2 0h0m2 0h0m2 0h0m2 0h0m2 0h0m4 0h0m2 0h0m2 0h0m2 0h0m2 0h0M-25 15h0m2 0h0m2 0h0m2 0h0m4 0h0m2 0h0m2 0h0m2 0h0m2 0h0m2 0h0M-24 16h0m2 0h0m4 0h0m2 0h0m2 0h0m2 0h0m2 0h0m2 0h0m2 0h0M-27 17h0m2 0h0m2 0h0m2 0h0m2 0h0m4 0h0m2 0h0m2 0h0m2 0h0m2 0h0m2 0h0M-28 18h0m2 0h0m2 0h0m2 0h0m2 0h0m4 0h0m2 0h0m2 0h0m2 0h0m4 0h0M-27 19h0m2 0h0m2 0h0m4 0h0m2 0h0m2 0h0m2 0h0m2 0h0m2 0h0m2 0h0m2 0h0M-28 20h0m2 0h0m2 0h0m2 0h0m2 0h0m2 0h0m2 0h0m2 0h0m2 0h0m2 0h0m2 0h0m2 0h0m4 0h0M-27 21h0m2 0h0m2 0h0m2 0h0m2 0h0m2 0h0m2 0h0m2 0h0m2 0h0m2 0h0m2 0h0m2 0h0m2 0h0m2 0h0M-28 22h0m2 0h0m6 0h0m6 0h0m4 0h0m2 0h0m2 0h0m2 0h0m2 0h0m2 0h0M-27 23h0m2 0h0m2 0h0m4 0h0m6 0h0m2 0h0m2 0h0m2 0h0m2 0h0m4 0h0M-28 24h0m2 0h0m2 0h0m2 0h0m2 0h0m2 0h0m6 0h0m2 0h0m2 0h0m2 0h0m2 0h0m2 0h0m2 0h0M-27 25h0m2 0h0m2 0h0m2 0h0m2 0h0m2 0h0m2 0h0m2 0h0m2 0h0m2 0h0m4 0h0m2 0h0m2 0h0M-28 26h0m2 0h0m2 0h0m2 0h0m2 0h0m2 0h0m2 0h0m2 0h0m2 0h0m2 0h0m2 0h0m2 0h0m2 0h0m2 0h0m2 0h0M-27 27h0m2 0h0m2 0h0m4 0h0m2 0h0m2 0h0m2 0h0m4 0h0m2 0h0m4 0h0M-28 28h0m2 0h0m6 0h0m4 0h0m2 0h0m2 0h0m2 0h0m2 0h0m2 0h0m2 0h0m2 0h0m2 0h0M-27 29h0m2 0h0m2 0h0m2 0h0m2 0h0m2 0h0m2 0h0m4 0h0m2 0h0m2 0h0m2 0h0m2 0h0m2 0h0M-26 30h0m2 0h0m2 0h0m2 0h0m4 0h0m2 0h0m2 0h0m2 0h0m2 0h0m2 0h0m2 0h0m2 0h0M-25 31h0m2 0h0m4 0h0m2 0h0m2 0h0m2 0h0m2 0h0m2 0h0m4 0h0m4 0h0M-26 32h0m2 0h0m2 0h0m2 0h0m2 0h0m4 0h0m4 0h0m2 0h0m4 0h0m2 0h0M-25 33h0m2 0h0m2 0h0m2 0h0m6 0h0m2 0h0m2 0h0m4 0h0m2 0h0m2 0h0" stroke="#0fa058" stroke-width="4" stroke-linecap="round" vector-effect="non-scaling-stroke" fill="none"/>
<path transform="translate(1649.20,2184.00) scale(3.2400,5.6370)" d="M55 -3h0m2 0h0m2 0h0M46 -2h0m2 0h0m2 0h0m2 0h0m2 0h0m2 0h0m2 0h0m2 0h0m2 0h0M47 -1h0m2 0h0m2 0h0m2 0h0m2 0h0m2 0h0m2 0h0m2 0h0m2 0h0M48 0h0m2 0h0m2 0h0m2 0h0m2 0h0m2 0h0m2 0h0m2 0h0m2 0h0m2 0h0M51 1h0m2 0h0m2 0h0m2 0h0m2 0h0m2 0h0m2 0h0m2 0h0m2 0h0M52 2h0m2 0h0m2 0h0m2 0h0m2 0h0m2 0h0m2 0h0m2 0h0m2 0h0M53 3h0m2 0h0m2 0h0m2 0h0m2 0h0m2 0h0m2 0h0m2 0h0m2 0h0M54 4h0m2 0h0m2 0h0m2 0h0m2 0h0m2 0h0m2 0h0m2 0h0m2 0h0M53 5h0m2 0h0m2 0h0m2 0h0m2 0h0m2 0h0m2 0h0m2 0h0m2 0h0m2 0h0M54 6h0m2 0h0m2 0h0m2 0h0m2 0h0m2 0h0m2 0h0m2 0h0m2 0h0M55 7h0m2 0h0m2 0h0m2 0h0m2 0h0m2 0h0m2 0h0m2 0h0m2 0h0M56 8h0m2 0h0m2 0h0m2 0h0m2 0h0m2 0h0m2 0h0m2 0h0m2 0h0M57 9h0m2 0h0m2 0h0m2 0h0m2 0h0m2 0h0m2 0h0m2 0h0M56 10h0m2 0h0m2 0h0m2 0h0m2 0h0m2 0h0m2 0h0m2 0h0m2 0h0M57 11h0m2 0h0m2 0h0m2 0h0m2 0h0m2 0h0m2 0h0m2 0h0M58 12h0m2 0h0m2 0h0m2 0h0m2 0h0m2 0h0m2 0h0M57 13h0m2 0h0m2 0h0m2 0h0m2 0h0m2 0h0m2 0h0M58 14h0m2 0h0m2 0h0m2 0h0m2 0h0M59 15h0m2 0h0m2 0h0m2 0h0M60 16h0m2 0h0m2 0h0M59 17h0m2 0h0m2 0h0M60 18h0m2 0h0M59 19h0m2 0h0m2 0h0M60 20h0m2 0h0M59 21h0m2 0h0M60 22h0M59 23h0m2 0h0M58 24h0m2 0h0M59 25h0M58 26h0m2 0h0" stroke="#9a5a3e" stroke-width="4" stroke-linecap="round" vector-effect="non-scaling-stroke" fill="none"/>
<path transform="translate(1649.20,2184.00) scale(3.2400,5.6370)" d="M24 -2h0m6 0h0m4 0h0M27 -1h0m2 0h0m4 0h0m2 0h0M24 0h0m2 0h0m8 0h0M25 1h0m4 0h0m4 0h0m2 0h0M28 2h0m6 0h0M29 3h0" stroke="#a0e0ea" stroke-width="4" stroke-linecap="round" vector-effect="non-scaling-stroke" fill="none"/>
<path transform="translate(1649.20,2184.00) scale(3.2400,5.6370)" d="M26 -2h0m2 0h0m4 0h0M25 -1h0m6 0h0M28 0h0m2 0h0m2 0h0M27 1h0m4 0h0M26 2h0m4 0h0m2 0h0M3 17h0M2 18h0m2 0h0m2 0h0m2 0h0m2 0h0m2 0h0M3 19h0m2 0h0m2 0h0m2 0h0m2 0h0m2 0h0m2 0h0M2 20h0m2 0h0m2 0h0m2 0h0m2 0h0m2 0h0m2 0h0m2 0h0m2 0h0m2 0h0m2 0h0m2 0h0m2 0h0M1 21h0m2 0h0m2 0h0m2 0h0m2 0h0m2 0h0m2 0h0m2 0h0m2 0h0m2 0h0m2 0h0m2 0h0m2 0h0m2 0h0m2 0h0M2 22h0m2 0h0m2 0h0m2 0h0m2 0h0m2 0h0m2 0h0m2 0h0m2 0h0m2 0h0m2 0h0m2 0h0m2 0h0m2 0h0m2 0h0M1 23h0m2 0h0m2 0h0m2 0h0m2 0h0m2 0h0m2 0h0m2 0h0m2 0h0m2 0h0m2 0h0m2 0h0m2 0h0m2 0h0m2 0h0m2 0h0m2 0h0M2 24h0m2 0h0m2 0h0m2 0h0m2 0h0m2 0h0m2 0h0m2 0h0m2 0h0m2 0h0m2 0h0m2 0h0m2 0h0m2 0h0m2 0h0m2 0h0m2 0h0M1 25h0m2 0h0m2 0h0m2 0h0m2 0h0m2 0h0m2 0h0m2 0h0m2 0h0m2 0h0m2 0h0m2 0h0m2 0h0m2 0h0M2 26h0m2 0h0m2 0h0m2 0h0m2 0h0m2 0h0m2 0h0m2 0h0m2 0h0m2 0h0m2 0h0m2 0h0m2 0h0m2 0h0M1 27h0m2 0h0m2 0h0m2 0h0m2 0h0m2 0h0m2 0h0m2 0h0m2 0h0m2 0h0m2 0h0m2 0h0m2 0h0m2 0h0M2 28h0m2 0h0m2 0h0m2 0h0m2 0h0m2 0h0m2 0h0m2 0h0m2 0h0m2 0h0m2 0h0m2 0h0m2 0h0m2 0h0M1 29h0m2 0h0m2 0h0m2 0h0m2 0h0m2 0h0m2 0h0m2 0h0m2 0h0m2 0h0m2 0h0m2 0h0m2 0h0m2 0h0m2 0h0M0 30h0m2 0h0m2 0h0m2 0h0m2 0h0m2 0h0m2 0h0m2 0h0m2 0h0m2 0h0m2 0h0m2 0h0m2 0h0m2 0h0m2 0h0m2 0h0M1 31h0m2 0h0m2 0h0m2 0h0m2 0h0m2 0h0m2 0h0m2 0h0m2 0h0m2 0h0m2 0h0m2 0h0m2 0h0m2 0h0m2 0h0M0 32h0m2 0h0m2 0h0m2 0h0m2 0h0m2 0h0m2 0h0m2 0h0m2 0h0m2 0h0m2 0h0m2 0h0m2 0h0m2 0h0m2 0h0m2 0h0M1 33h0m2 0h0m2 0h0m2 0h0m2 0h0m2 0h0m2 0h0m2 0h0m2 0h0m2 0h0m2 0h0m2 0h0" stroke="#a8cbee" stroke-width="4" stroke-linecap="round" vector-effect="non-scaling-stroke" fill="none"/>
<path transform="translate(1649.20,2184.00) scale(3.2400,5.6370)" d="M36 -2h0m2 0h0M41 -1h0m2 0h0M36 0h0m2 0h0m2 0h0m2 0h0m2 0h0m2 0h0M39 1h0m4 0h0m2 0h0m2 0h0M36 2h0m4 0h0m4 0h0m2 0h0m2 0h0m2 0h0M37 3h0m4 0h0m4 0h0m4 0h0M38 4h0m2 0h0m2 0h0m2 0h0m6 0h0M41 5h0m2 0h0m2 0h0m2 0h0m2 0h0M38 6h0m2 0h0m4 0h0m6 0h0m2 0h0M39 7h0m2 0h0m2 0h0m2 0h0m2 0h0m2 0h0m2 0h0M44 8h0m2 0h0m2 0h0m4 0h0M45 9h0m2 0h0M44 10h0m4 0h0m4 0h0M41 11h0m2 0h0m6 0h0m2 0h0m2 0h0m2 0h0M40 12h0m2 0h0m4 0h0m2 0h0m8 0h0M47 13h0m4 0h0m4 0h0M42 14h0m2 0h0m2 0h0m2 0h0m2 0h0m6 0h0M43 15h0m2 0h0m2 0h0m4 0h0m4 0h0m2 0h0M42 16h0m2 0h0m4 0h0m8 0h0m2 0h0M43 17h0m2 0h0m4 0h0m2 0h0m2 0h0m2 0h0M40 18h0m2 0h0m4 0h0m2 0h0m4 0h0m2 0h0M41 19h0m6 0h0M40 20h0m4 0h0m4 0h0m2 0h0m4 0h0m2 0h0m2 0h0M41 21h0m2 0h0m4 0h0m2 0h0m2 0h0m2 0h0M40 22h0m2 0h0m2 0h0m2 0h0m2 0h0m2 0h0m4 0h0m2 0h0m2 0h0M43 23h0m2 0h0m2 0h0m6 0h0m2 0h0m2 0h0M40 24h0m2 0h0m2 0h0m10 0h0M45 25h0m4 0h0m2 0h0m4 0h0m2 0h0M40 26h0m2 0h0m4 0h0m2 0h0m2 0h0m4 0h0m2 0h0M41 27h0m2 0h0m2 0h0m4 0h0M46 28h0m2 0h0m2 0h0" stroke="#8cd08a" stroke-width="4" stroke-linecap="round" vector-effect="non-scaling-stroke" fill="none"/>
<path transform="translate(1649.20,2184.00) scale(3.2400,5.6370)" d="M37 -1h0m2 0h0m6 0h0M37 1h0m4 0h0m8 0h0M38 2h0m4 0h0M39 3h0m4 0h0m4 0h0m4 0h0M46 4h0m2 0h0m4 0h0M39 5h0m12 0h0M42 6h0m4 0h0m2 0h0M53 7h0M40 8h0m2 0h0m8 0h0m4 0h0M39 9h0m2 0h0m2 0h0m6 0h0m2 0h0m2 0h0m2 0h0M40 10h0m2 0h0m4 0h0m4 0h0m4 0h0M39 11h0m6 0h0m2 0h0M44 12h0m6 0h0m2 0h0m2 0h0M41 13h0m2 0h0m2 0h0m4 0h0m4 0h0M40 14h0m12 0h0m2 0h0M41 15h0m8 0h0m4 0h0M40 16h0m6 0h0m4 0h0m2 0h0m2 0h0M41 17h0m6 0h0m10 0h0M44 18h0m6 0h0m6 0h0m2 0h0M43 19h0m2 0h0m4 0h0m2 0h0m2 0h0m2 0h0m2 0h0M42 20h0m4 0h0m6 0h0M45 21h0m10 0h0m2 0h0M52 22h0M41 23h0m8 0h0m2 0h0M46 24h0m2 0h0m2 0h0m2 0h0m4 0h0M41 25h0m2 0h0m4 0h0m6 0h0M44 26h0m8 0h0M47 27h0m4 0h0" stroke="#e4e47a" stroke-width="4" stroke-linecap="round" vector-effect="non-scaling-stroke" fill="none"/>
<path transform="translate(1649.20,2184.00) scale(3.2400,5.6370)" d="M5 3h0m2 0h0m2 0h0m2 0h0m2 0h0m2 0h0m2 0h0m2 0h0m2 0h0M6 4h0m2 0h0m2 0h0m2 0h0m2 0h0m2 0h0m2 0h0m2 0h0m2 0h0m2 0h0m2 0h0m2 0h0m2 0h0m2 0h0m2 0h0M5 5h0m2 0h0m2 0h0m2 0h0m2 0h0m2 0h0m2 0h0m2 0h0m2 0h0m2 0h0m2 0h0m2 0h0m2 0h0m2 0h0m2 0h0m2 0h0M4 6h0m2 0h0m2 0h0m2 0h0m2 0h0m2 0h0m2 0h0m2 0h0m2 0h0m2 0h0m2 0h0m2 0h0m2 0h0m2 0h0m2 0h0m2 0h0m2 0h0M5 7h0m2 0h0m2 0h0m2 0h0m2 0h0m2 0h0m2 0h0m2 0h0m2 0h0m2 0h0m2 0h0m2 0h0m2 0h0m2 0h0m2 0h0m2 0h0m2 0h0M4 8h0M3 9h0m2 0h0M2 10h0m2 0h0M3 11h0M2 12h0M1 13h0m2 0h0M2 14h0M1 15h0" stroke="#f4b4ce" stroke-width="4" stroke-linecap="round" vector-effect="non-scaling-stroke" fill="none"/>
<path transform="translate(1649.20,2184.00) scale(3.2400,5.6370)" d="M29 25h0m2 0h0m2 0h0m2 0h0m2 0h0m2 0h0M30 26h0m2 0h0m2 0h0m2 0h0m2 0h0M29 27h0m2 0h0m2 0h0m2 0h0m2 0h0m2 0h0M30 28h0m2 0h0m2 0h0m2 0h0m2 0h0m2 0h0m2 0h0m2 0h0M31 29h0m2 0h0m2 0h0m2 0h0m2 0h0m2 0h0m2 0h0m2 0h0m2 0h0m2 0h0m2 0h0M32 30h0m2 0h0m2 0h0m2 0h0m2 0h0m2 0h0m2 0h0m2 0h0m2 0h0m2 0h0M31 31h0m2 0h0m2 0h0m2 0h0m2 0h0m2 0h0m2 0h0m2 0h0m2 0h0m2 0h0m2 0h0M32 32h0" stroke="#dccbe6" stroke-width="4" stroke-linecap="round" vector-effect="non-scaling-stroke" fill="none"/>
<polygon points="1632.3,2270.4 1639.3,2266.4 1649.3,2268.4 1653.3,2281.4 1652.3,2296.4 1645.3,2298.4 1637.3,2291.4" fill="#9fa2a5"/>
<polygon points="1587.3,2303.4 1591.3,2301.4 1594.3,2305.4 1590.3,2309.4" fill="#9fa2a5"/>
</g>
<rect x="71.0" y="2006.4" width="439.8" height="382.6" fill="none" stroke="#000" stroke-width="1.2"/>
<text x="290.9" y="1998.8" font-size="15.3" text-anchor="middle" textLength="191.0" lengthAdjust="spacing">Ground Truth Annotation</text>
<text x="290.9" y="2403.5" font-size="13" text-anchor="middle" textLength="51.0" lengthAdjust="spacing">spatial1</text>
<text transform="translate(63.0,2197.7) rotate(-90)" x="0" y="0" font-size="13" text-anchor="middle" textLength="51.0" lengthAdjust="spacing">spatial2</text>
<rect x="543.1" y="2006.4" width="439.8" height="382.6" fill="none" stroke="#000" stroke-width="1.2"/>
<text x="763.0" y="1998.8" font-size="15.3" text-anchor="middle" textLength="232.0" lengthAdjust="spacing">Simulated Dataset (GraphST)</text>
<text x="755.0" y="1977.1" font-size="23" text-anchor="middle" textLength="110.0" lengthAdjust="spacing">ARI = 0.47</text>
<text x="763.0" y="2403.5" font-size="13" text-anchor="middle" textLength="51.0" lengthAdjust="spacing">spatial1</text>
<text transform="translate(535.1,2197.7) rotate(-90)" x="0" y="0" font-size="13" text-anchor="middle" textLength="51.0" lengthAdjust="spacing">spatial2</text>
<rect x="1015.5" y="2006.4" width="439.8" height="382.6" fill="none" stroke="#000" stroke-width="1.2"/>
<text x="1235.4" y="1998.8" font-size="15.3" text-anchor="middle" textLength="219.0" lengthAdjust="spacing">scGALA Imputed (GraphST)</text>
<text x="1227.4" y="1977.1" font-size="23" text-anchor="middle" textLength="110.0" lengthAdjust="spacing">ARI = 0.51</text>
<text x="1235.4" y="2403.5" font-size="13" text-anchor="middle" textLength="51.0" lengthAdjust="spacing">spatial1</text>
<text transform="translate(1007.5,2197.7) rotate(-90)" x="0" y="0" font-size="13" text-anchor="middle" textLength="51.0" lengthAdjust="spacing">spatial2</text>
<rect x="1487.3" y="2006.4" width="439.8" height="382.6" fill="none" stroke="#000" stroke-width="1.2"/>
<text x="1707.2" y="1998.8" font-size="15.3" text-anchor="middle" textLength="247.0" lengthAdjust="spacing">Imputed Genes Only (GraphST)</text>
<text x="1699.2" y="1977.1" font-size="23" text-anchor="middle" textLength="110.0" lengthAdjust="spacing">ARI = 0.46</text>
<text x="1707.2" y="2403.5" font-size="13" text-anchor="middle" textLength="51.0" lengthAdjust="spacing">spatial1</text>
<text transform="translate(1479.3,2197.7) rotate(-90)" x="0" y="0" font-size="13" text-anchor="middle" textLength="51.0" lengthAdjust="spacing">spatial2</text></svg>
</body></html>
